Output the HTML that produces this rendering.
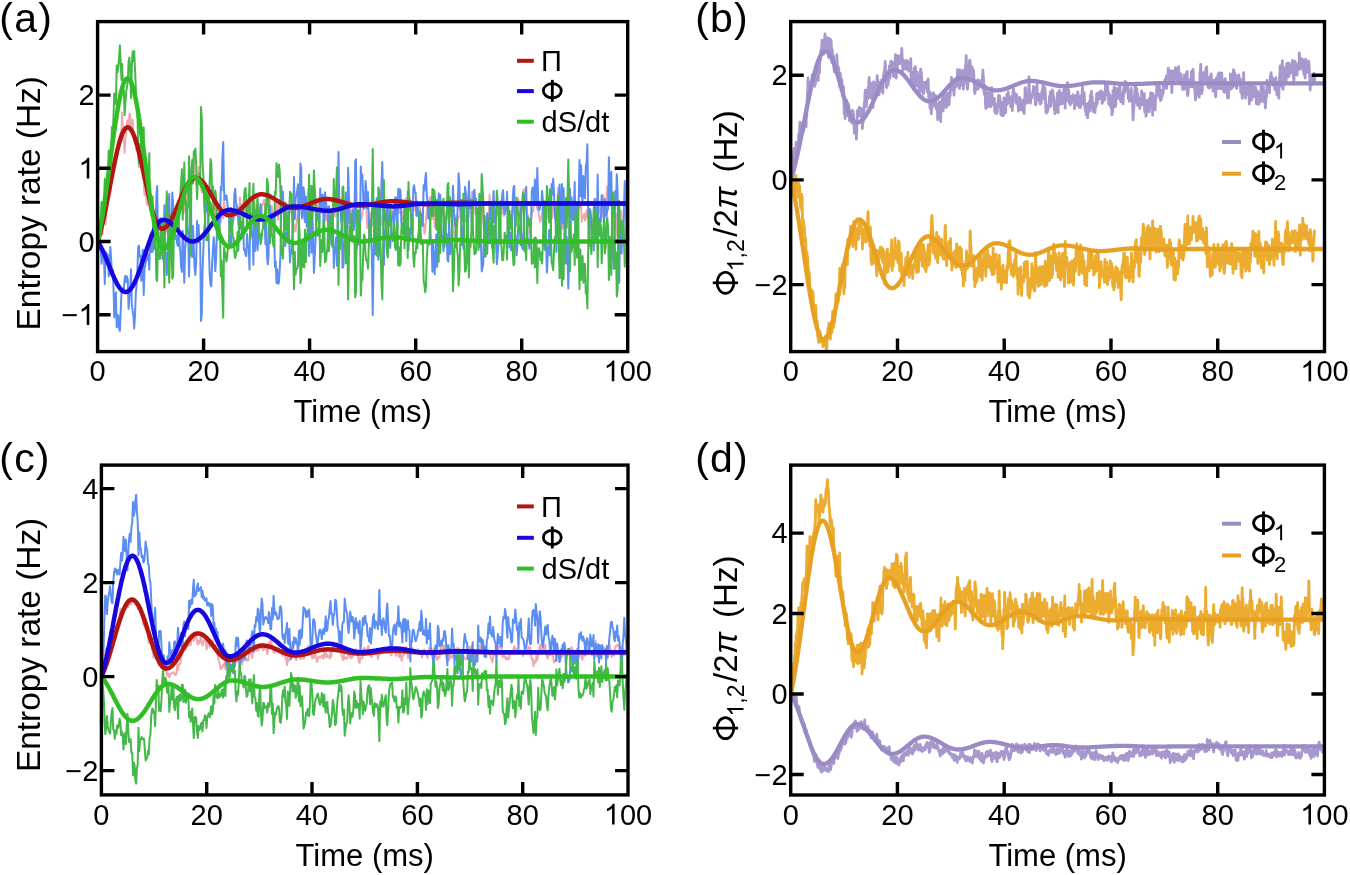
<!DOCTYPE html><html><head><meta charset="utf-8"><style>html,body{margin:0;padding:0;background:#fff}svg{display:block}text{font-family:"Liberation Sans", sans-serif;filter:grayscale(1)}</style></head><body>
<svg width="1350" height="875" viewBox="0 0 1350 875">
<rect width="1350" height="875" fill="#fff"/>
<defs>
<clipPath id="cpa"><rect x="97.6" y="21.6" width="530.1" height="330.0"/></clipPath>
<clipPath id="cpb"><rect x="790.7" y="21.6" width="533.8" height="330.0"/></clipPath>
<clipPath id="cpc"><rect x="101.4" y="465.1" width="526.6" height="329.79999999999995"/></clipPath>
<clipPath id="cpd"><rect x="790.7" y="465.1" width="533.7" height="329.9"/></clipPath>
</defs>
<g clip-path="url(#cpa)">
<polyline fill="none" stroke="#F0A8B0" stroke-width="2" stroke-linejoin="round" points="97.6,241.5 98.4,239.8 99.2,239.4 100.0,229.0 100.8,223.7 101.6,224.1 102.4,234.5 103.2,216.9 104.0,218.8 104.8,221.1 105.6,224.3 106.3,216.8 107.1,195.1 107.9,190.6 108.7,185.4 109.5,183.9 110.3,172.4 111.1,170.1 111.9,161.1 112.7,165.4 113.5,162.3 114.3,169.3 115.1,156.3 115.9,154.9 116.7,151.2 117.5,154.7 118.3,140.9 119.1,144.3 119.9,134.8 120.7,133.2 121.5,129.6 122.2,112.6 123.0,138.9 123.8,138.7 124.6,152.8 125.4,137.2 126.2,132.1 127.0,121.6 127.8,120.0 128.6,129.4 129.4,113.5 130.2,114.3 131.0,125.8 131.8,130.3 132.6,119.8 133.4,136.4 134.2,138.0 135.0,143.7 135.8,139.3 136.6,150.8 137.4,140.5 138.2,154.1 138.9,167.1 139.7,159.2 140.5,164.6 141.3,169.6 142.1,172.5 142.9,178.1 143.7,181.0 144.5,195.2 145.3,190.9 146.1,196.6 146.9,204.5 147.7,194.3 148.5,206.3 149.3,181.5 150.1,203.4 150.9,213.6 151.7,216.7 152.5,206.8 153.3,215.7 154.1,228.6 154.9,218.1 155.6,231.4 156.4,232.8 157.2,225.7 158.0,230.4 158.8,237.4 159.6,233.0 160.4,235.3 161.2,231.5 162.0,235.8 162.8,242.0 163.6,245.1 164.4,251.3 165.2,232.5 166.0,226.2 166.8,225.0 167.6,232.0 168.4,228.3 169.2,235.3 170.0,241.1 170.8,232.2 171.5,232.9 172.3,229.8 173.1,238.2 173.9,219.1 174.7,218.8 175.5,213.9 176.3,215.4 177.1,217.0 177.9,208.0 178.7,208.0 179.5,203.5 180.3,203.9 181.1,208.1 181.9,199.5 182.7,209.3 183.5,208.6 184.3,203.9 185.1,212.3 185.9,197.5 186.7,195.8 187.5,191.5 188.2,199.0 189.0,191.1 189.8,182.9 190.6,184.4 191.4,169.4 192.2,175.5 193.0,168.2 193.8,157.9 194.6,178.4 195.4,182.1 196.2,184.6 197.0,178.6 197.8,176.5 198.6,167.0 199.4,175.1 200.2,182.4 201.0,186.4 201.8,192.0 202.6,192.2 203.4,183.4 204.2,192.4 204.9,198.1 205.7,196.5 206.5,197.9 207.3,207.0 208.1,212.0 208.9,206.2 209.7,215.2 210.5,201.9 211.3,207.9 212.1,216.7 212.9,194.7 213.7,205.5 214.5,208.1 215.3,220.1 216.1,214.7 216.9,210.0 217.7,215.0 218.5,214.0 219.3,207.0 220.1,211.8 220.8,221.7 221.6,209.4 222.4,211.4 223.2,218.1 224.0,196.5 224.8,210.4 225.6,209.9 226.4,215.3 227.2,217.0 228.0,216.0 228.8,215.0 229.6,218.4 230.4,226.1 231.2,211.9 232.0,216.6 232.8,217.0 233.6,215.0 234.4,204.7 235.2,205.4 236.0,215.0 236.8,214.9 237.5,206.3 238.3,224.2 239.1,220.4 239.9,197.5 240.7,211.7 241.5,204.1 242.3,221.5 243.1,211.2 243.9,207.4 244.7,197.4 245.5,201.6 246.3,213.9 247.1,221.0 247.9,212.3 248.7,210.1 249.5,211.0 250.3,213.3 251.1,203.3 251.9,209.8 252.7,207.0 253.4,207.1 254.2,196.6 255.0,219.5 255.8,205.5 256.6,207.8 257.4,204.4 258.2,211.2 259.0,211.6 259.8,208.7 260.6,206.6 261.4,211.6 262.2,204.9 263.0,204.6 263.8,199.9 264.6,199.9 265.4,207.2 266.2,204.7 267.0,192.9 267.8,205.7 268.6,209.4 269.4,196.6 270.1,208.7 270.9,209.2 271.7,205.8 272.5,212.4 273.3,231.7 274.1,233.0 274.9,217.0 275.7,214.6 276.5,204.8 277.3,201.8 278.1,219.5 278.9,205.9 279.7,200.4 280.5,207.3 281.3,199.5 282.1,208.0 282.9,209.0 283.7,206.3 284.5,220.4 285.3,206.9 286.1,221.7 286.8,210.8 287.6,220.4 288.4,213.1 289.2,211.2 290.0,212.7 290.8,204.5 291.6,206.2 292.4,216.7 293.2,233.0 294.0,224.6 294.8,229.1 295.6,231.5 296.4,223.4 297.2,217.8 298.0,208.0 298.8,201.3 299.6,197.3 300.4,205.4 301.2,206.4 302.0,218.8 302.7,216.7 303.5,212.6 304.3,219.6 305.1,210.3 305.9,217.0 306.7,219.2 307.5,207.2 308.3,189.2 309.1,189.2 309.9,192.1 310.7,200.0 311.5,197.0 312.3,192.7 313.1,200.2 313.9,201.8 314.7,204.7 315.5,200.9 316.3,201.3 317.1,204.3 317.9,210.4 318.7,212.7 319.4,197.3 320.2,213.1 321.0,212.7 321.8,200.2 322.6,205.2 323.4,195.8 324.2,213.3 325.0,213.0 325.8,218.2 326.6,220.1 327.4,214.7 328.2,206.4 329.0,216.0 329.8,218.5 330.6,215.9 331.4,214.3 332.2,220.2 333.0,198.7 333.8,205.6 334.6,209.9 335.3,216.5 336.1,192.1 336.9,191.5 337.7,195.7 338.5,195.4 339.3,197.5 340.1,208.1 340.9,212.0 341.7,200.2 342.5,213.9 343.3,211.8 344.1,218.8 344.9,222.4 345.7,214.6 346.5,215.7 347.3,224.9 348.1,225.6 348.9,211.2 349.7,208.0 350.5,215.4 351.3,211.3 352.0,210.2 352.8,207.4 353.6,225.6 354.4,218.2 355.2,217.4 356.0,210.5 356.8,217.8 357.6,211.1 358.4,213.4 359.2,220.7 360.0,211.6 360.8,220.5 361.6,218.2 362.4,213.1 363.2,208.8 364.0,201.7 364.8,199.4 365.6,195.1 366.4,210.4 367.2,227.9 368.0,219.0 368.7,224.8 369.5,221.4 370.3,213.2 371.1,223.9 371.9,225.5 372.7,222.4 373.5,226.1 374.3,222.5 375.1,218.3 375.9,210.3 376.7,211.0 377.5,218.2 378.3,205.4 379.1,202.6 379.9,202.8 380.7,213.6 381.5,225.0 382.3,219.7 383.1,219.5 383.9,203.5 384.6,209.2 385.4,210.5 386.2,215.6 387.0,220.1 387.8,223.2 388.6,224.5 389.4,222.2 390.2,215.3 391.0,211.7 391.8,209.3 392.6,216.6 393.4,211.1 394.2,210.3 395.0,203.8 395.8,205.5 396.6,204.3 397.4,209.2 398.2,213.1 399.0,204.5 399.8,213.2 400.6,213.7 401.3,211.4 402.1,211.4 402.9,219.3 403.7,209.7 404.5,210.0 405.3,201.2 406.1,198.0 406.9,204.0 407.7,207.9 408.5,190.7 409.3,197.0 410.1,198.0 410.9,205.0 411.7,208.1 412.5,206.7 413.3,203.9 414.1,210.4 414.9,203.2 415.7,204.3 416.5,216.1 417.3,208.2 418.0,211.8 418.8,202.6 419.6,207.3 420.4,208.7 421.2,216.5 422.0,217.1 422.8,225.9 423.6,224.1 424.4,233.7 425.2,229.5 426.0,218.5 426.8,212.5 427.6,206.6 428.4,218.3 429.2,204.5 430.0,196.9 430.8,209.4 431.6,213.8 432.4,219.1 433.2,217.7 433.9,209.4 434.7,226.7 435.5,220.9 436.3,222.5 437.1,225.4 437.9,213.3 438.7,213.6 439.5,200.6 440.3,206.3 441.1,209.3 441.9,204.0 442.7,200.4 443.5,208.6 444.3,222.4 445.1,217.6 445.9,213.5 446.7,211.1 447.5,204.0 448.3,203.0 449.1,203.1 449.9,209.9 450.6,216.3 451.4,210.8 452.2,216.5 453.0,235.6 453.8,238.0 454.6,226.6 455.4,224.0 456.2,215.5 457.0,228.5 457.8,220.0 458.6,217.1 459.4,216.4 460.2,212.2 461.0,202.5 461.8,203.7 462.6,205.5 463.4,200.8 464.2,214.0 465.0,217.1 465.8,221.5 466.5,220.6 467.3,222.5 468.1,216.6 468.9,217.2 469.7,209.4 470.5,205.2 471.3,200.6 472.1,192.0 472.9,193.8 473.7,192.9 474.5,202.5 475.3,214.4 476.1,208.3 476.9,209.3 477.7,209.2 478.5,218.1 479.3,199.4 480.1,211.0 480.9,213.1 481.7,203.9 482.5,214.5 483.2,220.6 484.0,228.6 484.8,231.0 485.6,237.0 486.4,232.7 487.2,225.5 488.0,221.3 488.8,213.4 489.6,194.8 490.4,207.6 491.2,211.1 492.0,209.8 492.8,216.1 493.6,212.4 494.4,206.5 495.2,213.0 496.0,213.8 496.8,213.4 497.6,215.1 498.4,210.8 499.2,211.4 499.9,206.1 500.7,200.4 501.5,214.3 502.3,212.6 503.1,208.7 503.9,216.0 504.7,205.3 505.5,208.7 506.3,203.5 507.1,210.1 507.9,206.2 508.7,205.7 509.5,216.8 510.3,219.9 511.1,223.8 511.9,209.8 512.7,208.5 513.5,211.3 514.3,208.2 515.1,219.0 515.8,223.8 516.6,211.2 517.4,214.0 518.2,198.6 519.0,202.7 519.8,203.2 520.6,210.5 521.4,209.7 522.2,207.8 523.0,200.2 523.8,189.0 524.6,204.1 525.4,207.9 526.2,205.4 527.0,215.7 527.8,214.6 528.6,218.4 529.4,233.3 530.2,220.2 531.0,220.3 531.8,214.2 532.5,209.6 533.3,211.3 534.1,199.6 534.9,205.3 535.7,193.3 536.5,205.2 537.3,209.4 538.1,206.8 538.9,216.4 539.7,218.8 540.5,221.7 541.3,216.4 542.1,212.8 542.9,200.4 543.7,214.3 544.5,209.6 545.3,227.3 546.1,221.2 546.9,217.0 547.7,212.0 548.5,202.2 549.2,210.8 550.0,203.3 550.8,210.5 551.6,205.1 552.4,218.2 553.2,207.6 554.0,202.6 554.8,210.1 555.6,221.7 556.4,218.1 557.2,210.3 558.0,187.7 558.8,205.6 559.6,221.1 560.4,219.6 561.2,227.4 562.0,228.4 562.8,222.4 563.6,225.9 564.4,223.3 565.1,230.5 565.9,219.9 566.7,223.0 567.5,212.4 568.3,206.3 569.1,211.1 569.9,218.4 570.7,207.7 571.5,207.5 572.3,215.9 573.1,220.2 573.9,201.0 574.7,205.7 575.5,207.5 576.3,210.3 577.1,219.5 577.9,203.9 578.7,204.6 579.5,207.8 580.3,203.9 581.1,203.7 581.8,222.2 582.6,217.2 583.4,217.3 584.2,213.7 585.0,220.6 585.8,218.6 586.6,210.3 587.4,211.2 588.2,218.5 589.0,215.2 589.8,213.1 590.6,216.2 591.4,233.6 592.2,222.2 593.0,222.3 593.8,216.4 594.6,200.6 595.4,209.8 596.2,198.7 597.0,202.2 597.7,200.0 598.5,204.1 599.3,212.8 600.1,203.8 600.9,205.2 601.7,217.0 602.5,201.7 603.3,194.9 604.1,208.6 604.9,211.0 605.7,209.6 606.5,198.7 607.3,186.6 608.1,195.0 608.9,195.8 609.7,197.3 610.5,190.1 611.3,205.4 612.1,197.5 612.9,205.1 613.7,228.4 614.4,230.3 615.2,217.9 616.0,213.5 616.8,229.3 617.6,241.8 618.4,225.1 619.2,242.4 620.0,227.1 620.8,210.4 621.6,233.5 622.4,220.8 623.2,220.9 624.0,207.2 624.8,206.1 625.6,206.5 626.4,206.6 627.2,204.9" />
<polyline fill="none" stroke="#5C8EF2" stroke-width="2" stroke-linejoin="round" points="97.6,241.5 98.4,236.7 99.2,231.5 100.0,236.3 100.8,249.9 101.6,263.7 102.4,256.1 103.2,256.3 104.0,257.3 104.8,284.0 105.6,252.1 106.3,252.7 107.1,257.8 107.9,254.6 108.7,276.4 109.5,272.7 110.3,246.9 111.1,257.8 111.9,275.7 112.7,269.9 113.5,288.0 114.3,317.4 115.1,298.0 115.9,292.3 116.7,327.2 117.5,323.9 118.3,315.2 119.1,328.6 119.9,330.9 120.7,311.7 121.5,291.3 122.2,290.0 123.0,288.4 123.8,290.1 124.6,279.2 125.4,275.7 126.2,281.9 127.0,276.4 127.8,280.0 128.6,309.0 129.4,297.5 130.2,287.2 131.0,269.3 131.8,304.9 132.6,309.7 133.4,316.3 134.2,328.5 135.0,316.5 135.8,293.0 136.6,285.9 137.4,269.7 138.2,246.9 138.9,245.5 139.7,256.4 140.5,255.6 141.3,280.7 142.1,263.6 142.9,249.8 143.7,295.0 144.5,268.8 145.3,264.9 146.1,260.6 146.9,252.6 147.7,259.8 148.5,254.5 149.3,269.8 150.1,234.9 150.9,243.1 151.7,252.0 152.5,251.7 153.3,228.7 154.1,220.9 154.9,233.0 155.6,231.6 156.4,195.4 157.2,186.1 158.0,234.6 158.8,219.8 159.6,220.6 160.4,218.3 161.2,244.2 162.0,222.6 162.8,259.2 163.6,239.1 164.4,205.2 165.2,254.7 166.0,252.9 166.8,275.0 167.6,256.2 168.4,213.7 169.2,193.9 170.0,227.8 170.8,258.3 171.5,236.2 172.3,192.6 173.1,203.1 173.9,230.3 174.7,229.9 175.5,238.9 176.3,235.3 177.1,243.5 177.9,246.0 178.7,221.4 179.5,243.6 180.3,251.9 181.1,266.8 181.9,271.7 182.7,231.1 183.5,250.2 184.3,282.8 185.1,249.9 185.9,238.7 186.7,203.4 187.5,224.2 188.2,234.6 189.0,276.4 189.8,249.1 190.6,170.4 191.4,232.7 192.2,257.1 193.0,226.1 193.8,248.1 194.6,268.1 195.4,275.0 196.2,261.5 197.0,220.9 197.8,236.3 198.6,225.1 199.4,243.0 200.2,242.6 201.0,320.9 201.8,314.4 202.6,269.9 203.4,248.8 204.2,228.2 204.9,223.4 205.7,206.4 206.5,198.9 207.3,210.5 208.1,213.4 208.9,249.4 209.7,274.6 210.5,284.4 211.3,286.3 212.1,264.2 212.9,250.0 213.7,237.3 214.5,248.6 215.3,271.1 216.1,258.6 216.9,231.0 217.7,216.6 218.5,220.4 219.3,225.0 220.1,220.0 220.8,186.8 221.6,190.3 222.4,158.8 223.2,142.1 224.0,190.2 224.8,199.8 225.6,197.1 226.4,195.3 227.2,201.6 228.0,211.5 228.8,207.8 229.6,238.8 230.4,235.8 231.2,245.5 232.0,231.7 232.8,221.4 233.6,218.6 234.4,194.2 235.2,188.8 236.0,202.2 236.8,206.0 237.5,215.8 238.3,215.0 239.1,235.4 239.9,222.2 240.7,225.3 241.5,223.9 242.3,238.0 243.1,222.2 243.9,249.9 244.7,249.2 245.5,255.1 246.3,256.1 247.1,234.0 247.9,246.2 248.7,246.9 249.5,269.6 250.3,215.2 251.1,213.5 251.9,235.4 252.7,232.5 253.4,264.8 254.2,211.8 255.0,251.0 255.8,223.6 256.6,224.5 257.4,250.3 258.2,240.9 259.0,216.5 259.8,216.7 260.6,204.0 261.4,212.6 262.2,215.3 263.0,217.9 263.8,225.3 264.6,217.3 265.4,244.3 266.2,221.6 267.0,255.5 267.8,264.3 268.6,254.8 269.4,205.8 270.1,206.9 270.9,230.5 271.7,213.4 272.5,217.9 273.3,228.2 274.1,227.2 274.9,267.1 275.7,261.5 276.5,283.0 277.3,269.3 278.1,283.7 278.9,282.9 279.7,270.3 280.5,254.8 281.3,185.9 282.1,201.5 282.9,191.8 283.7,212.5 284.5,244.5 285.3,245.9 286.1,232.5 286.8,236.7 287.6,238.0 288.4,211.5 289.2,238.7 290.0,262.5 290.8,252.4 291.6,253.7 292.4,234.2 293.2,221.8 294.0,176.9 294.8,219.0 295.6,198.4 296.4,196.2 297.2,190.2 298.0,184.3 298.8,223.5 299.6,205.4 300.4,163.6 301.2,168.7 302.0,218.0 302.7,215.1 303.5,187.3 304.3,193.7 305.1,222.3 305.9,196.4 306.7,226.6 307.5,214.7 308.3,216.9 309.1,255.9 309.9,214.6 310.7,214.6 311.5,252.8 312.3,216.2 313.1,233.9 313.9,272.9 314.7,257.9 315.5,241.5 316.3,219.2 317.1,211.2 317.9,216.3 318.7,222.1 319.4,223.0 320.2,188.6 321.0,207.3 321.8,201.6 322.6,194.6 323.4,217.3 324.2,228.7 325.0,192.3 325.8,198.9 326.6,207.9 327.4,207.6 328.2,224.9 329.0,206.2 329.8,229.2 330.6,227.6 331.4,243.9 332.2,215.0 333.0,221.4 333.8,268.0 334.6,247.5 335.3,251.7 336.1,237.5 336.9,265.8 337.7,216.3 338.5,152.0 339.3,205.3 340.1,200.4 340.9,221.2 341.7,213.7 342.5,267.8 343.3,266.7 344.1,245.2 344.9,227.5 345.7,192.6 346.5,230.1 347.3,232.6 348.1,167.7 348.9,193.4 349.7,223.3 350.5,221.1 351.3,238.9 352.0,221.9 352.8,210.0 353.6,230.5 354.4,223.5 355.2,161.5 356.0,159.3 356.8,248.5 357.6,240.2 358.4,244.5 359.2,222.5 360.0,228.0 360.8,166.4 361.6,180.2 362.4,174.8 363.2,197.2 364.0,208.6 364.8,203.9 365.6,181.1 366.4,191.3 367.2,208.6 368.0,191.9 368.7,216.3 369.5,238.4 370.3,219.5 371.1,238.8 371.9,252.7 372.7,314.9 373.5,261.3 374.3,220.4 375.1,254.4 375.9,209.2 376.7,198.2 377.5,203.4 378.3,259.7 379.1,253.8 379.9,214.4 380.7,205.7 381.5,182.7 382.3,161.9 383.1,204.6 383.9,265.0 384.6,230.2 385.4,239.3 386.2,221.7 387.0,208.8 387.8,207.2 388.6,244.3 389.4,238.1 390.2,247.9 391.0,233.7 391.8,217.4 392.6,217.2 393.4,211.8 394.2,227.8 395.0,198.5 395.8,197.1 396.6,214.8 397.4,229.5 398.2,189.1 399.0,198.8 399.8,189.1 400.6,191.5 401.3,222.0 402.1,230.1 402.9,227.1 403.7,234.1 404.5,203.2 405.3,241.3 406.1,237.7 406.9,236.7 407.7,191.4 408.5,250.1 409.3,228.5 410.1,238.6 410.9,233.7 411.7,216.1 412.5,230.4 413.3,188.9 414.1,185.2 414.9,192.3 415.7,192.8 416.5,215.5 417.3,201.4 418.0,216.0 418.8,214.1 419.6,237.9 420.4,227.5 421.2,213.8 422.0,218.6 422.8,225.8 423.6,185.2 424.4,190.6 425.2,178.7 426.0,173.1 426.8,195.7 427.6,203.5 428.4,218.8 429.2,201.2 430.0,211.8 430.8,242.4 431.6,239.8 432.4,271.7 433.2,243.1 433.9,261.1 434.7,274.4 435.5,257.0 436.3,234.5 437.1,267.0 437.9,231.0 438.7,193.3 439.5,240.7 440.3,195.0 441.1,219.6 441.9,238.2 442.7,235.9 443.5,251.3 444.3,216.6 445.1,217.4 445.9,232.9 446.7,234.1 447.5,259.7 448.3,261.6 449.1,221.8 449.9,254.2 450.6,253.6 451.4,245.0 452.2,213.6 453.0,185.8 453.8,206.2 454.6,224.9 455.4,218.5 456.2,236.2 457.0,221.3 457.8,205.4 458.6,173.2 459.4,184.5 460.2,210.2 461.0,200.5 461.8,245.0 462.6,226.8 463.4,248.7 464.2,210.8 465.0,186.8 465.8,192.6 466.5,199.4 467.3,261.9 468.1,213.7 468.9,181.3 469.7,207.9 470.5,199.4 471.3,207.9 472.1,233.5 472.9,207.2 473.7,191.1 474.5,189.7 475.3,202.0 476.1,198.7 476.9,242.8 477.7,236.7 478.5,209.8 479.3,247.1 480.1,212.1 480.9,240.8 481.7,271.5 482.5,268.0 483.2,264.0 484.0,234.3 484.8,256.4 485.6,222.1 486.4,238.7 487.2,213.2 488.0,243.9 488.8,228.2 489.6,213.3 490.4,206.1 491.2,213.5 492.0,248.0 492.8,206.7 493.6,191.1 494.4,222.2 495.2,211.4 496.0,239.1 496.8,264.3 497.6,256.6 498.4,242.4 499.2,214.7 499.9,243.2 500.7,205.0 501.5,208.0 502.3,193.7 503.1,190.2 503.9,209.7 504.7,214.2 505.5,207.5 506.3,208.9 507.1,191.8 507.9,243.2 508.7,214.3 509.5,247.5 510.3,233.0 511.1,250.4 511.9,226.8 512.7,199.5 513.5,187.6 514.3,185.8 515.1,232.8 515.8,239.9 516.6,255.3 517.4,246.4 518.2,226.8 519.0,214.0 519.8,218.1 520.6,206.9 521.4,234.8 522.2,247.9 523.0,249.4 523.8,230.9 524.6,194.4 525.4,202.2 526.2,186.8 527.0,227.6 527.8,239.5 528.6,239.9 529.4,248.6 530.2,242.2 531.0,224.1 531.8,192.0 532.5,187.6 533.3,192.2 534.1,203.0 534.9,179.4 535.7,197.4 536.5,203.0 537.3,167.9 538.1,197.6 538.9,210.0 539.7,209.1 540.5,203.0 541.3,204.6 542.1,190.9 542.9,200.6 543.7,238.1 544.5,249.8 545.3,218.8 546.1,240.5 546.9,272.6 547.7,256.7 548.5,245.6 549.2,229.9 550.0,255.5 550.8,230.2 551.6,184.1 552.4,194.5 553.2,178.8 554.0,192.2 554.8,214.7 555.6,220.9 556.4,252.0 557.2,215.8 558.0,233.9 558.8,196.8 559.6,184.4 560.4,234.3 561.2,208.0 562.0,184.1 562.8,223.1 563.6,188.2 564.4,231.5 565.1,215.7 565.9,263.4 566.7,236.8 567.5,255.6 568.3,288.4 569.1,253.2 569.9,188.6 570.7,224.3 571.5,197.2 572.3,210.5 573.1,220.0 573.9,208.1 574.7,182.1 575.5,236.6 576.3,215.4 577.1,203.3 577.9,239.9 578.7,200.0 579.5,160.1 580.3,196.1 581.1,165.2 581.8,195.2 582.6,202.6 583.4,176.1 584.2,190.8 585.0,198.3 585.8,166.5 586.6,162.3 587.4,144.3 588.2,209.8 589.0,244.2 589.8,209.0 590.6,211.7 591.4,221.2 592.2,236.6 593.0,233.3 593.8,250.5 594.6,199.1 595.4,212.2 596.2,226.9 597.0,215.8 597.7,174.6 598.5,226.4 599.3,218.6 600.1,222.9 600.9,220.8 601.7,195.2 602.5,200.6 603.3,207.2 604.1,229.7 604.9,199.1 605.7,205.2 606.5,215.9 607.3,210.6 608.1,208.7 608.9,157.3 609.7,202.1 610.5,183.7 611.3,171.8 612.1,225.3 612.9,254.4 613.7,268.9 614.4,250.3 615.2,191.2 616.0,202.8 616.8,174.2 617.6,193.4 618.4,261.7 619.2,283.1 620.0,235.2 620.8,221.4 621.6,253.6 622.4,224.9 623.2,240.9 624.0,205.5 624.8,180.9 625.6,210.1 626.4,233.3 627.2,207.3" />
<polyline fill="none" stroke="#44B848" stroke-width="2" stroke-linejoin="round" points="97.6,241.5 98.4,244.6 99.2,249.4 100.0,234.2 100.8,215.4 101.6,201.9 102.4,219.9 103.2,202.0 104.0,203.0 104.8,178.7 105.6,213.7 106.3,205.6 107.1,178.8 107.9,177.5 108.7,150.5 109.5,152.7 110.3,167.1 111.1,153.8 111.9,126.9 112.7,137.0 113.5,115.8 114.3,93.4 115.1,99.8 115.9,104.1 116.7,65.6 117.5,72.4 118.3,67.2 119.1,57.2 119.9,45.4 120.7,62.9 121.5,79.9 122.2,64.0 123.0,92.0 123.8,90.0 124.6,115.1 125.4,103.1 126.2,91.7 127.0,86.7 127.8,81.5 128.6,61.8 129.4,57.5 130.2,68.6 131.0,98.0 131.8,66.9 132.6,51.6 133.4,61.6 134.2,51.0 135.0,68.7 135.8,87.8 136.6,106.4 137.4,112.3 138.2,148.8 138.9,163.1 139.7,144.3 140.5,150.5 141.3,130.4 142.1,150.4 142.9,169.8 143.7,127.5 144.5,167.9 145.3,167.5 146.1,177.5 146.9,193.3 147.7,176.1 148.5,193.3 149.3,153.2 150.1,209.9 150.9,212.0 151.7,206.2 152.5,196.6 153.3,228.5 154.1,249.2 154.9,226.6 155.6,241.3 156.4,278.9 157.2,281.1 158.0,237.3 158.8,259.1 159.6,253.9 160.4,258.5 161.2,228.8 162.0,254.8 162.8,224.4 163.6,247.5 164.4,287.6 165.2,219.4 166.0,214.9 166.8,191.5 167.6,217.3 168.4,256.1 169.2,282.8 170.0,254.8 170.8,215.4 171.5,238.2 172.3,278.7 173.1,276.5 173.9,230.3 174.7,230.5 175.5,216.5 176.3,221.6 177.1,215.0 177.9,203.5 178.7,228.2 179.5,201.4 180.3,193.6 181.1,182.8 181.9,169.3 182.7,219.8 183.5,199.9 184.3,162.6 185.1,203.8 185.9,200.3 186.7,233.9 187.5,208.8 188.2,205.9 189.0,156.2 189.8,175.4 190.6,255.4 191.4,178.1 192.2,159.9 193.0,183.6 193.8,151.3 194.6,151.8 195.4,148.6 196.2,164.5 197.0,199.1 197.8,181.6 198.6,183.4 199.4,173.6 200.2,181.3 201.0,106.9 201.8,119.1 202.6,163.9 203.4,176.0 204.2,205.7 204.9,216.2 205.7,231.6 206.5,240.5 207.3,238.0 208.1,240.1 208.9,198.3 209.7,182.1 210.5,159.0 211.3,163.2 212.1,193.9 212.9,186.2 213.7,209.8 214.5,201.0 215.3,190.5 216.1,197.7 216.9,220.5 217.7,239.9 218.5,235.1 219.3,223.4 220.1,233.4 220.8,276.4 221.6,260.7 222.4,294.1 223.2,317.6 224.0,247.7 224.8,252.2 225.6,254.3 226.4,261.5 227.2,256.9 228.0,246.0 228.8,248.7 229.6,221.0 230.4,231.8 231.2,207.9 232.0,226.3 232.8,237.1 233.6,237.9 234.4,252.0 235.2,258.1 236.0,254.3 236.8,250.4 237.5,232.0 238.3,250.7 239.1,226.5 239.9,216.8 240.7,227.9 241.5,221.7 242.3,225.0 243.1,230.6 243.9,199.0 244.7,189.7 245.5,188.0 246.3,199.3 247.1,228.5 247.9,207.5 248.7,204.7 249.5,182.9 250.3,239.6 251.1,231.3 251.9,215.9 252.7,215.9 253.4,183.8 254.2,226.3 255.0,210.0 255.8,223.4 256.6,224.8 257.4,195.6 258.2,211.9 259.0,236.6 259.8,233.5 260.6,244.1 261.4,240.4 262.2,231.1 263.0,228.2 263.8,216.1 264.6,224.1 265.4,204.4 266.2,224.6 267.0,178.9 267.8,182.8 268.6,196.1 269.4,232.3 270.1,243.2 270.9,220.3 271.7,233.9 272.5,236.0 273.3,245.0 274.1,247.4 274.9,191.4 275.7,194.6 276.5,163.3 277.3,174.0 278.1,177.3 278.9,164.6 279.7,171.6 280.5,194.0 281.3,255.1 282.1,248.0 282.9,258.8 283.7,235.4 284.5,217.4 285.3,202.4 286.1,230.7 286.8,215.6 287.6,223.9 288.4,243.1 289.2,214.0 290.0,191.8 290.8,193.5 291.6,193.9 292.4,224.0 293.2,252.7 294.0,289.2 294.8,251.7 295.6,274.6 296.4,268.7 297.2,269.0 298.0,265.2 298.8,219.3 299.6,233.4 300.4,283.3 301.2,279.2 302.0,242.4 302.7,243.1 303.5,266.8 304.3,267.4 305.1,229.4 305.9,262.1 306.7,234.1 307.5,234.0 308.3,213.8 309.1,174.8 309.9,219.0 310.7,226.9 311.5,185.7 312.3,218.0 313.1,207.8 313.9,170.4 314.7,188.3 315.5,201.0 316.3,223.7 317.1,234.6 317.9,235.7 318.7,232.2 319.4,215.9 320.2,266.1 321.0,246.8 321.8,240.1 322.6,252.1 323.4,220.0 324.2,226.0 325.0,262.2 325.8,260.8 326.6,253.7 327.4,248.5 328.2,223.0 329.0,251.3 329.8,230.8 330.6,229.8 331.4,211.9 332.2,246.7 333.0,218.8 333.8,179.1 334.6,203.8 335.3,206.4 336.1,196.1 336.9,167.2 337.7,220.9 338.5,284.9 339.3,233.7 340.1,249.2 340.9,232.2 341.7,228.0 342.5,187.6 343.3,186.6 344.1,215.2 344.9,236.5 345.7,263.5 346.5,227.1 347.3,233.8 348.1,299.4 348.9,259.3 349.7,226.2 350.5,235.8 351.3,213.9 352.0,229.9 352.8,238.9 353.6,236.6 354.4,236.3 355.2,297.4 356.0,292.6 356.8,210.9 357.6,212.4 358.4,210.3 359.2,239.7 360.0,225.0 360.8,295.6 361.6,279.5 362.4,279.8 363.2,253.1 364.0,234.6 364.8,237.0 365.6,255.5 366.4,260.6 367.2,260.8 368.0,268.7 368.7,250.0 369.5,224.5 370.3,235.2 371.1,226.6 371.9,214.3 372.7,149.0 373.5,206.3 374.3,243.6 375.1,205.4 375.9,242.6 376.7,254.3 377.5,256.3 378.3,187.2 379.1,190.4 379.9,229.9 380.7,249.4 381.5,283.8 382.3,299.4 383.1,256.4 383.9,180.0 384.6,220.5 385.4,212.7 386.2,235.5 387.0,252.8 387.8,257.5 388.6,221.7 389.4,225.6 390.2,208.9 391.0,219.5 391.8,233.4 392.6,240.9 393.4,240.8 394.2,224.1 395.0,246.8 395.8,249.9 396.6,231.0 397.4,221.2 398.2,265.5 399.0,247.2 399.8,265.6 400.6,263.7 401.3,230.9 402.1,222.9 402.9,233.7 403.7,217.1 404.5,248.3 405.3,201.4 406.1,201.8 406.9,208.8 407.7,258.0 408.5,182.0 409.3,210.1 410.1,200.8 410.9,212.8 411.7,233.5 412.5,217.8 413.3,256.5 414.1,266.7 414.9,252.4 415.7,253.1 416.5,242.1 417.3,248.4 418.0,237.3 418.8,230.0 419.6,210.9 420.4,222.6 421.2,244.2 422.0,240.0 422.8,241.6 423.6,280.4 424.4,284.7 425.2,292.3 426.0,286.9 426.8,258.3 427.6,244.6 428.4,241.0 429.2,244.8 430.0,226.6 430.8,208.5 431.6,215.4 432.4,188.9 433.2,216.1 433.9,189.8 434.7,193.8 435.5,205.4 436.3,229.5 437.1,199.9 437.9,223.8 438.7,261.7 439.5,201.4 440.3,252.9 441.1,231.3 441.9,207.4 442.7,206.1 443.5,198.8 444.3,247.4 445.1,241.7 445.9,222.1 446.7,218.5 447.5,185.8 448.3,182.9 449.1,222.8 449.9,197.3 450.6,204.2 451.4,207.3 452.2,244.4 453.0,291.3 453.8,273.3 454.6,243.2 455.4,247.1 456.2,220.8 457.0,248.7 457.8,256.0 458.6,285.4 459.4,273.3 460.2,243.5 461.0,243.5 461.8,200.1 462.6,220.2 463.4,193.7 464.2,244.6 465.0,271.8 465.8,270.4 466.5,262.7 467.3,202.1 468.1,244.4 468.9,277.4 469.7,243.0 470.5,247.3 471.3,234.1 472.1,200.0 472.9,228.1 473.7,243.3 474.5,254.3 475.3,253.9 476.1,251.0 476.9,208.0 477.7,214.0 478.5,249.9 479.3,193.8 480.1,240.3 480.9,213.8 481.7,174.0 482.5,188.1 483.2,198.2 484.0,235.8 484.8,216.1 485.6,256.4 486.4,235.5 487.2,253.8 488.0,218.9 488.8,226.7 489.6,223.0 490.4,243.0 491.2,239.1 492.0,203.3 492.8,251.0 493.6,262.8 494.4,225.9 495.2,243.1 496.0,216.2 496.8,190.7 497.6,200.0 498.4,209.9 499.2,238.2 499.9,204.4 500.7,236.9 501.5,247.8 502.3,260.4 503.1,260.0 503.9,247.8 504.7,232.7 505.5,242.7 506.3,236.1 507.1,259.8 507.9,204.4 508.7,232.9 509.5,210.8 510.3,228.4 511.1,214.9 511.9,224.6 512.7,250.5 513.5,265.2 514.3,263.9 515.1,227.7 515.8,225.5 516.6,197.4 517.4,209.1 518.2,213.3 519.0,230.2 519.8,226.6 520.6,245.1 521.4,216.3 522.2,201.4 523.0,192.3 523.8,199.6 524.6,251.2 525.4,247.1 526.2,260.1 527.0,229.6 527.8,216.7 528.6,220.0 529.4,226.2 530.2,219.5 531.0,237.8 531.8,263.7 532.5,263.5 533.3,260.6 534.1,238.1 534.9,267.4 535.7,237.4 536.5,243.8 537.3,283.0 538.1,250.7 538.9,247.9 539.7,251.2 540.5,260.2 541.3,253.2 542.1,263.4 542.9,241.3 543.7,217.7 544.5,201.3 545.3,250.0 546.1,222.2 546.9,185.9 547.7,196.8 548.5,198.1 549.2,222.4 550.0,189.2 550.8,221.8 551.6,262.5 552.4,265.2 553.2,270.3 554.0,251.9 554.8,237.0 555.6,242.2 556.4,207.6 557.2,236.0 558.0,195.3 558.8,250.2 559.6,278.2 560.4,226.8 561.2,260.9 562.0,285.8 562.8,240.7 563.6,279.2 564.4,233.3 565.1,256.3 565.9,198.1 566.7,227.7 567.5,198.3 568.3,159.4 569.1,199.4 569.9,271.3 570.7,224.8 571.5,251.9 572.3,247.0 573.1,241.7 573.9,234.3 574.7,265.1 575.5,212.4 576.3,236.4 577.1,257.7 577.9,205.5 578.7,246.1 579.5,289.2 580.3,249.4 581.1,280.0 581.8,268.5 582.6,256.1 583.4,282.7 584.2,264.3 585.0,263.8 585.8,293.5 586.6,289.6 587.4,308.4 588.2,250.2 589.0,212.5 589.8,245.5 590.6,246.1 591.4,253.9 592.2,227.1 593.0,230.5 593.8,207.3 594.6,243.0 595.4,239.1 596.2,213.3 597.0,227.9 597.7,266.9 598.5,219.2 599.3,235.7 600.1,222.4 600.9,225.9 601.7,263.3 602.5,242.6 603.3,229.2 604.1,220.5 604.9,253.4 605.7,245.9 606.5,224.3 607.3,217.5 608.1,227.8 608.9,280.1 609.7,236.7 610.5,248.0 611.3,275.1 612.1,213.7 612.9,192.2 613.7,201.1 614.4,221.5 615.2,268.2 616.0,252.2 616.8,296.6 617.6,289.9 618.4,204.9 619.2,200.8 620.0,233.4 620.8,230.5 621.6,221.4 622.4,237.4 623.2,221.5 624.0,243.1 624.8,266.8 625.6,237.9 626.4,214.9 627.2,239.1" />
<polyline fill="none" stroke="#B31610" stroke-width="4.5" stroke-linejoin="round" points="97.6,241.5 98.1,239.9 98.7,238.2 99.2,236.4 99.7,234.5 100.3,232.5 100.8,230.5 101.3,228.3 101.8,226.2 102.4,223.9 102.9,221.6 103.4,219.2 104.0,216.7 104.5,214.2 105.0,211.7 105.6,209.1 106.1,206.4 106.6,203.8 107.1,201.0 107.7,198.3 108.2,195.6 108.7,192.8 109.3,190.0 109.8,187.2 110.3,184.4 110.9,181.6 111.4,178.9 111.9,176.1 112.4,173.4 113.0,170.7 113.5,168.0 114.0,165.4 114.6,162.8 115.1,160.3 115.6,157.8 116.2,155.4 116.7,153.1 117.2,150.8 117.7,148.7 118.3,146.6 118.8,144.5 119.3,142.6 119.9,140.8 120.4,139.1 120.9,137.5 121.5,136.0 122.0,134.6 122.5,133.3 123.0,132.1 123.6,131.1 124.1,130.2 124.6,129.4 125.2,128.7 125.7,128.2 126.2,127.8 126.8,127.5 127.3,127.3 127.8,127.3 128.3,127.4 128.9,127.6 129.4,128.0 129.9,128.5 130.5,129.0 131.0,129.7 131.5,130.5 132.1,131.4 132.6,132.5 133.1,133.6 133.6,134.8 134.2,136.2 134.7,137.6 135.2,139.1 135.8,140.8 136.3,142.5 136.8,144.3 137.4,146.1 137.9,148.1 138.4,150.1 138.9,152.2 139.5,154.3 140.0,156.5 140.5,158.7 141.1,161.0 141.6,163.4 142.1,165.7 142.7,168.1 143.2,170.5 143.7,173.0 144.2,175.4 144.8,177.9 145.3,180.3 145.8,182.8 146.4,185.2 146.9,187.6 147.4,190.0 148.0,192.4 148.5,194.7 149.0,197.0 149.5,199.3 150.1,201.5 150.6,203.6 151.1,205.7 151.7,207.7 152.2,209.7 152.7,211.6 153.3,213.4 153.8,215.1 154.3,216.7 154.9,218.2 155.4,219.7 155.9,221.0 156.4,222.3 157.0,223.4 157.5,224.5 158.0,225.4 158.6,226.2 159.1,226.9 159.6,227.5 160.2,228.0 160.7,228.3 161.2,228.6 161.7,228.7 162.3,228.7 162.8,228.6 163.3,228.5 163.9,228.3 164.4,228.1 164.9,227.7 165.5,227.4 166.0,226.9 166.5,226.4 167.0,225.9 167.6,225.3 168.1,224.6 168.6,223.9 169.2,223.1 169.7,222.3 170.2,221.5 170.8,220.6 171.3,219.6 171.8,218.6 172.3,217.6 172.9,216.5 173.4,215.4 173.9,214.3 174.5,213.1 175.0,212.0 175.5,210.8 176.1,209.5 176.6,208.3 177.1,207.0 177.6,205.8 178.2,204.5 178.7,203.3 179.2,202.0 179.8,200.7 180.3,199.5 180.8,198.2 181.4,197.0 181.9,195.8 182.4,194.6 182.9,193.4 183.5,192.2 184.0,191.1 184.5,190.0 185.1,188.9 185.6,187.9 186.1,186.9 186.7,186.0 187.2,185.0 187.7,184.2 188.2,183.4 188.8,182.6 189.3,181.9 189.8,181.2 190.4,180.6 190.9,180.1 191.4,179.6 192.0,179.1 192.5,178.8 193.0,178.5 193.5,178.2 194.1,178.0 194.6,177.9 195.1,177.8 195.7,177.8 196.2,177.9 196.7,178.0 197.3,178.1 197.8,178.3 198.3,178.5 198.8,178.8 199.4,179.1 199.9,179.4 200.4,179.8 201.0,180.3 201.5,180.8 202.0,181.3 202.6,181.8 203.1,182.4 203.6,183.0 204.2,183.7 204.7,184.4 205.2,185.1 205.7,185.8 206.3,186.6 206.8,187.4 207.3,188.2 207.9,189.1 208.4,189.9 208.9,190.8 209.5,191.7 210.0,192.6 210.5,193.5 211.0,194.4 211.6,195.3 212.1,196.3 212.6,197.2 213.2,198.1 213.7,199.0 214.2,199.9 214.8,200.8 215.3,201.7 215.8,202.6 216.3,203.5 216.9,204.3 217.4,205.1 217.9,205.9 218.5,206.7 219.0,207.5 219.5,208.2 220.1,208.9 220.6,209.6 221.1,210.2 221.6,210.8 222.2,211.4 222.7,212.0 223.2,212.5 223.8,212.9 224.3,213.3 224.8,213.7 225.4,214.0 225.9,214.3 226.4,214.6 226.9,214.8 227.5,214.9 228.0,215.1 228.5,215.1 229.1,215.1 229.6,215.1 230.1,215.1 230.7,215.0 231.2,214.9 231.7,214.8 232.2,214.7 232.8,214.5 233.3,214.3 233.8,214.0 234.4,213.8 234.9,213.5 235.4,213.2 236.0,212.9 236.5,212.6 237.0,212.2 237.5,211.8 238.1,211.4 238.6,211.0 239.1,210.5 239.7,210.1 240.2,209.6 240.7,209.1 241.3,208.6 241.8,208.1 242.3,207.6 242.8,207.1 243.4,206.6 243.9,206.1 244.4,205.5 245.0,205.0 245.5,204.4 246.0,203.9 246.6,203.4 247.1,202.8 247.6,202.3 248.1,201.8 248.7,201.3 249.2,200.8 249.7,200.3 250.3,199.8 250.8,199.3 251.3,198.9 251.9,198.5 252.4,198.0 252.9,197.6 253.4,197.2 254.0,196.9 254.5,196.5 255.0,196.2 255.6,195.9 256.1,195.6 256.6,195.4 257.2,195.2 257.7,195.0 258.2,194.8 258.8,194.6 259.3,194.5 259.8,194.4 260.3,194.3 260.9,194.3 261.4,194.3 261.9,194.3 262.5,194.3 263.0,194.4 263.5,194.4 264.1,194.5 264.6,194.6 265.1,194.7 265.6,194.8 266.2,195.0 266.7,195.1 267.2,195.3 267.8,195.5 268.3,195.7 268.8,195.9 269.4,196.1 269.9,196.4 270.4,196.6 270.9,196.9 271.5,197.2 272.0,197.5 272.5,197.8 273.1,198.1 273.6,198.4 274.1,198.7 274.7,199.0 275.2,199.4 275.7,199.7 276.2,200.0 276.8,200.4 277.3,200.7 277.8,201.1 278.4,201.4 278.9,201.7 279.4,202.1 280.0,202.4 280.5,202.8 281.0,203.1 281.5,203.4 282.1,203.7 282.6,204.0 283.1,204.3 283.7,204.6 284.2,204.9 284.7,205.2 285.3,205.5 285.8,205.7 286.3,206.0 286.8,206.2 287.4,206.4 287.9,206.6 288.4,206.8 289.0,207.0 289.5,207.1 290.0,207.3 290.6,207.4 291.1,207.5 291.6,207.6 292.1,207.7 292.7,207.7 293.2,207.8 293.7,207.8 294.3,207.8 294.8,207.8 295.3,207.8 295.9,207.8 296.4,207.7 296.9,207.7 297.4,207.6 298.0,207.5 298.5,207.5 299.0,207.4 299.6,207.3 300.1,207.1 300.6,207.0 301.2,206.9 301.7,206.7 302.2,206.6 302.7,206.4 303.3,206.2 303.8,206.1 304.3,205.9 304.9,205.7 305.4,205.5 305.9,205.3 306.5,205.1 307.0,204.9 307.5,204.7 308.0,204.4 308.6,204.2 309.1,204.0 309.6,203.8 310.2,203.5 310.7,203.3 311.2,203.1 311.8,202.9 312.3,202.6 312.8,202.4 313.4,202.2 313.9,202.0 314.4,201.8 314.9,201.6 315.5,201.4 316.0,201.2 316.5,201.0 317.1,200.8 317.6,200.6 318.1,200.5 318.7,200.3 319.2,200.1 319.7,200.0 320.2,199.9 320.8,199.7 321.3,199.6 321.8,199.5 322.4,199.4 322.9,199.3 323.4,199.3 324.0,199.2 324.5,199.1 325.0,199.1 325.5,199.1 326.1,199.0 326.6,199.0 327.1,199.0 327.7,199.1 328.2,199.1 328.7,199.1 329.3,199.1 329.8,199.2 330.3,199.2 330.8,199.3 331.4,199.4 331.9,199.5 332.4,199.5 333.0,199.6 333.5,199.7 334.0,199.8 334.6,200.0 335.1,200.1 335.6,200.2 336.1,200.3 336.7,200.5 337.2,200.6 337.7,200.7 338.3,200.9 338.8,201.0 339.3,201.2 339.9,201.4 340.4,201.5 340.9,201.7 341.4,201.8 342.0,202.0 342.5,202.2 343.0,202.3 343.6,202.5 344.1,202.7 344.6,202.8 345.2,203.0 345.7,203.2 346.2,203.3 346.7,203.5 347.3,203.6 347.8,203.8 348.3,203.9 348.9,204.1 349.4,204.2 349.9,204.4 350.5,204.5 351.0,204.6 351.5,204.7 352.0,204.8 352.6,204.9 353.1,205.0 353.6,205.1 354.2,205.2 354.7,205.3 355.2,205.4 355.8,205.4 356.3,205.5 356.8,205.5 357.3,205.6 357.9,205.6 358.4,205.6 358.9,205.6 359.5,205.6 360.0,205.6 360.5,205.6 361.1,205.6 361.6,205.6 362.1,205.6 362.6,205.5 363.2,205.5 363.7,205.5 364.2,205.4 364.8,205.4 365.3,205.3 365.8,205.3 366.4,205.2 366.9,205.1 367.4,205.0 368.0,205.0 368.5,204.9 369.0,204.8 369.5,204.7 370.1,204.6 370.6,204.5 371.1,204.4 371.7,204.3 372.2,204.2 372.7,204.1 373.3,204.0 373.8,203.9 374.3,203.8 374.8,203.7 375.4,203.6 375.9,203.5 376.4,203.4 377.0,203.3 377.5,203.2 378.0,203.1 378.6,202.9 379.1,202.8 379.6,202.7 380.1,202.6 380.7,202.5 381.2,202.4 381.7,202.3 382.3,202.2 382.8,202.2 383.3,202.1 383.9,202.0 384.4,201.9 384.9,201.8 385.4,201.8 386.0,201.7 386.5,201.6 387.0,201.6 387.6,201.5 388.1,201.5 388.6,201.4 389.2,201.4 389.7,201.3 390.2,201.3 390.7,201.3 391.3,201.3 391.8,201.3 392.3,201.2 392.9,201.2 393.4,201.2 393.9,201.2 394.5,201.3 395.0,201.3 395.5,201.3 396.0,201.3 396.6,201.3 397.1,201.4 397.6,201.4 398.2,201.4 398.7,201.5 399.2,201.5 399.8,201.5 400.3,201.6 400.8,201.6 401.3,201.7 401.9,201.7 402.4,201.8 402.9,201.8 403.5,201.9 404.0,202.0 404.5,202.0 405.1,202.1 405.6,202.2 406.1,202.2 406.6,202.3 407.2,202.4 407.7,202.4 408.2,202.5 408.8,202.6 409.3,202.7 409.8,202.7 410.4,202.8 410.9,202.9 411.4,203.0 411.9,203.0 412.5,203.1 413.0,203.2 413.5,203.2 414.1,203.3 414.6,203.4 415.1,203.4 415.7,203.5 416.2,203.6 416.7,203.6 417.3,203.7 417.8,203.7 418.3,203.8 418.8,203.8 419.4,203.9 419.9,203.9 420.4,204.0 421.0,204.0 421.5,204.0 422.0,204.1 422.6,204.1 423.1,204.1 423.6,204.1 424.1,204.1 424.7,204.2 425.2,204.2 425.7,204.2 426.3,204.2 426.8,204.2 427.3,204.2 427.9,204.2 428.4,204.2 428.9,204.1 429.4,204.1 430.0,204.1 430.5,204.1 431.0,204.1 431.6,204.1 432.1,204.0 432.6,204.0 433.2,204.0 433.7,204.0 434.2,204.0 434.7,203.9 435.3,203.9 435.8,203.9 436.3,203.8 436.9,203.8 437.4,203.8 437.9,203.7 438.5,203.7 439.0,203.7 439.5,203.6 440.0,203.6 440.6,203.6 441.1,203.5 441.6,203.5 442.2,203.4 442.7,203.4 443.2,203.4 443.8,203.3 444.3,203.3 444.8,203.2 445.3,203.2 445.9,203.2 446.4,203.1 446.9,203.1 447.5,203.1 448.0,203.0 448.5,203.0 449.1,203.0 449.6,202.9 450.1,202.9 450.6,202.9 451.2,202.9 451.7,202.8 452.2,202.8 452.8,202.8 453.3,202.8 453.8,202.8 454.4,202.8 454.9,202.7 455.4,202.7 455.9,202.7 456.5,202.7 457.0,202.7 457.5,202.7 458.1,202.7 458.6,202.7 459.1,202.7 459.7,202.7 460.2,202.7 460.7,202.7 461.2,202.7 461.8,202.7 462.3,202.7 462.8,202.7 463.4,202.8 463.9,202.8 464.4,202.8 465.0,202.8 465.5,202.8 466.0,202.8 466.5,202.8 467.1,202.8 467.6,202.9 468.1,202.9 468.7,202.9 469.2,202.9 469.7,202.9 470.3,202.9 470.8,203.0 471.3,203.0 471.9,203.0 472.4,203.0 472.9,203.0 473.4,203.1 474.0,203.1 474.5,203.1 475.0,203.1 475.6,203.1 476.1,203.1 476.6,203.2 477.2,203.2 477.7,203.2 478.2,203.2 478.7,203.2 479.3,203.3 479.8,203.3 480.3,203.3 480.9,203.3 481.4,203.3 481.9,203.3 482.5,203.3 483.0,203.4 483.5,203.4 484.0,203.4 484.6,203.4 485.1,203.4 485.6,203.4 486.2,203.4 486.7,203.4 487.2,203.4 487.8,203.4 488.3,203.4 488.8,203.4 489.3,203.4 489.9,203.4 490.4,203.4 490.9,203.4 491.5,203.4 492.0,203.4 492.5,203.4 493.1,203.4 493.6,203.4 494.1,203.4 494.6,203.4 495.2,203.4 495.7,203.4 496.2,203.4 496.8,203.4 497.3,203.4 497.8,203.4 498.4,203.4 498.9,203.4 499.4,203.4 499.9,203.4 500.5,203.4 501.0,203.4 501.5,203.4 502.1,203.4 502.6,203.4 503.1,203.4 503.7,203.4 504.2,203.4 504.7,203.4 505.2,203.4 505.8,203.4 506.3,203.4 506.8,203.4 507.4,203.4 507.9,203.4 508.4,203.4 509.0,203.4 509.5,203.4 510.0,203.4 510.5,203.4 511.1,203.4 511.6,203.4 512.1,203.4 512.7,203.4 513.2,203.4 513.7,203.4 514.3,203.4 514.8,203.4 515.3,203.4 515.8,203.4 516.4,203.4 516.9,203.4 517.4,203.4 518.0,203.4 518.5,203.4 519.0,203.4 519.6,203.4 520.1,203.4 520.6,203.4 521.1,203.4 521.7,203.4 522.2,203.4 522.7,203.4 523.3,203.4 523.8,203.4 524.3,203.4 524.9,203.4 525.4,203.4 525.9,203.4 526.5,203.4 527.0,203.4 527.5,203.4 528.0,203.4 528.6,203.4 529.1,203.4 529.6,203.4 530.2,203.4 530.7,203.4 531.2,203.4 531.8,203.4 532.3,203.4 532.8,203.4 533.3,203.4 533.9,203.4 534.4,203.4 534.9,203.4 535.5,203.4 536.0,203.4 536.5,203.4 537.1,203.4 537.6,203.4 538.1,203.4 538.6,203.4 539.2,203.4 539.7,203.4 540.2,203.4 540.8,203.4 541.3,203.4 541.8,203.4 542.4,203.4 542.9,203.4 543.4,203.4 543.9,203.4 544.5,203.4 545.0,203.4 545.5,203.4 546.1,203.4 546.6,203.4 547.1,203.4 547.7,203.4 548.2,203.4 548.7,203.4 549.2,203.4 549.8,203.4 550.3,203.4 550.8,203.4 551.4,203.4 551.9,203.4 552.4,203.4 553.0,203.4 553.5,203.4 554.0,203.4 554.5,203.4 555.1,203.4 555.6,203.4 556.1,203.4 556.7,203.4 557.2,203.4 557.7,203.4 558.3,203.4 558.8,203.4 559.3,203.4 559.8,203.4 560.4,203.4 560.9,203.4 561.4,203.4 562.0,203.4 562.5,203.4 563.0,203.4 563.6,203.4 564.1,203.4 564.6,203.4 565.1,203.4 565.7,203.4 566.2,203.4 566.7,203.4 567.3,203.4 567.8,203.4 568.3,203.4 568.9,203.4 569.4,203.4 569.9,203.4 570.4,203.4 571.0,203.4 571.5,203.4 572.0,203.4 572.6,203.4 573.1,203.4 573.6,203.4 574.2,203.4 574.7,203.4 575.2,203.4 575.8,203.4 576.3,203.4 576.8,203.4 577.3,203.4 577.9,203.4 578.4,203.4 578.9,203.4 579.5,203.4 580.0,203.4 580.5,203.4 581.1,203.4 581.6,203.4 582.1,203.4 582.6,203.4 583.2,203.4 583.7,203.4 584.2,203.4 584.8,203.4 585.3,203.4 585.8,203.4 586.4,203.4 586.9,203.4 587.4,203.4 587.9,203.4 588.5,203.4 589.0,203.4 589.5,203.4 590.1,203.4 590.6,203.4 591.1,203.4 591.7,203.4 592.2,203.4 592.7,203.4 593.2,203.4 593.8,203.4 594.3,203.4 594.8,203.4 595.4,203.4 595.9,203.4 596.4,203.4 597.0,203.4 597.5,203.4 598.0,203.4 598.5,203.4 599.1,203.4 599.6,203.4 600.1,203.4 600.7,203.4 601.2,203.4 601.7,203.4 602.3,203.4 602.8,203.4 603.3,203.4 603.8,203.4 604.4,203.4 604.9,203.4 605.4,203.4 606.0,203.4 606.5,203.4 607.0,203.4 607.6,203.4 608.1,203.4 608.6,203.4 609.1,203.4 609.7,203.4 610.2,203.4 610.7,203.4 611.3,203.4 611.8,203.4 612.3,203.4 612.9,203.4 613.4,203.4 613.9,203.4 614.4,203.4 615.0,203.4 615.5,203.4 616.0,203.4 616.6,203.4 617.1,203.4 617.6,203.4 618.2,203.4 618.7,203.4 619.2,203.4 619.7,203.4 620.3,203.4 620.8,203.4 621.3,203.4 621.9,203.4 622.4,203.4 622.9,203.4 623.5,203.4 624.0,203.4 624.5,203.4 625.0,203.4 625.6,203.4 626.1,203.4 626.6,203.4 627.2,203.4 627.7,203.4" />
<polyline fill="none" stroke="#1707DD" stroke-width="4.5" stroke-linejoin="round" points="97.6,241.5 98.1,242.3 98.7,243.1 99.2,243.9 99.7,244.8 100.3,245.8 100.8,246.8 101.3,247.8 101.8,248.8 102.4,249.9 102.9,251.0 103.4,252.2 104.0,253.4 104.5,254.6 105.0,255.8 105.6,257.0 106.1,258.3 106.6,259.6 107.1,260.9 107.7,262.2 108.2,263.5 108.7,264.8 109.3,266.1 109.8,267.4 110.3,268.7 110.9,270.1 111.4,271.3 111.9,272.6 112.4,273.9 113.0,275.1 113.5,276.3 114.0,277.5 114.6,278.7 115.1,279.8 115.6,280.9 116.2,282.0 116.7,283.0 117.2,284.0 117.7,284.9 118.3,285.8 118.8,286.6 119.3,287.4 119.9,288.1 120.4,288.8 120.9,289.4 121.5,289.9 122.0,290.4 122.5,290.8 123.0,291.2 123.6,291.5 124.1,291.7 124.6,291.9 125.2,292.0 125.7,292.0 126.2,292.0 126.8,291.9 127.3,291.7 127.8,291.4 128.3,291.1 128.9,290.7 129.4,290.3 129.9,289.8 130.5,289.2 131.0,288.5 131.5,287.8 132.1,287.0 132.6,286.2 133.1,285.3 133.6,284.4 134.2,283.3 134.7,282.3 135.2,281.2 135.8,280.0 136.3,278.8 136.8,277.5 137.4,276.2 137.9,274.9 138.4,273.5 138.9,272.1 139.5,270.7 140.0,269.2 140.5,267.7 141.1,266.2 141.6,264.6 142.1,263.1 142.7,261.5 143.2,259.9 143.7,258.3 144.2,256.8 144.8,255.2 145.3,253.6 145.8,252.0 146.4,250.4 146.9,248.8 147.4,247.3 148.0,245.7 148.5,244.2 149.0,242.7 149.5,241.2 150.1,239.8 150.6,238.4 151.1,237.0 151.7,235.7 152.2,234.4 152.7,233.1 153.3,231.9 153.8,230.7 154.3,229.6 154.9,228.6 155.4,227.6 155.9,226.6 156.4,225.7 157.0,224.9 157.5,224.1 158.0,223.4 158.6,222.7 159.1,222.1 159.6,221.6 160.2,221.2 160.7,220.8 161.2,220.5 161.7,220.2 162.3,220.0 162.8,219.9 163.3,219.9 163.9,219.9 164.4,220.0 164.9,220.1 165.5,220.2 166.0,220.3 166.5,220.5 167.0,220.8 167.6,221.0 168.1,221.3 168.6,221.6 169.2,222.0 169.7,222.3 170.2,222.7 170.8,223.2 171.3,223.6 171.8,224.1 172.3,224.6 172.9,225.1 173.4,225.7 173.9,226.2 174.5,226.8 175.0,227.4 175.5,228.0 176.1,228.6 176.6,229.2 177.1,229.8 177.6,230.4 178.2,231.0 178.7,231.6 179.2,232.2 179.8,232.8 180.3,233.4 180.8,234.0 181.4,234.6 181.9,235.2 182.4,235.7 182.9,236.3 183.5,236.8 184.0,237.3 184.5,237.8 185.1,238.2 185.6,238.7 186.1,239.1 186.7,239.4 187.2,239.8 187.7,240.1 188.2,240.4 188.8,240.6 189.3,240.9 189.8,241.1 190.4,241.2 190.9,241.3 191.4,241.4 192.0,241.5 192.5,241.5 193.0,241.5 193.5,241.4 194.1,241.4 194.6,241.2 195.1,241.1 195.7,240.9 196.2,240.7 196.7,240.5 197.3,240.2 197.8,239.9 198.3,239.6 198.8,239.2 199.4,238.8 199.9,238.4 200.4,238.0 201.0,237.5 201.5,237.0 202.0,236.5 202.6,236.0 203.1,235.4 203.6,234.8 204.2,234.2 204.7,233.6 205.2,233.0 205.7,232.4 206.3,231.7 206.8,231.0 207.3,230.4 207.9,229.7 208.4,229.0 208.9,228.3 209.5,227.5 210.0,226.8 210.5,226.1 211.0,225.4 211.6,224.7 212.1,224.0 212.6,223.3 213.2,222.6 213.7,221.9 214.2,221.2 214.8,220.5 215.3,219.8 215.8,219.2 216.3,218.5 216.9,217.9 217.4,217.3 217.9,216.7 218.5,216.1 219.0,215.6 219.5,215.0 220.1,214.5 220.6,214.0 221.1,213.6 221.6,213.1 222.2,212.7 222.7,212.3 223.2,212.0 223.8,211.6 224.3,211.3 224.8,211.1 225.4,210.8 225.9,210.6 226.4,210.4 226.9,210.3 227.5,210.2 228.0,210.1 228.5,210.0 229.1,210.0 229.6,210.0 230.1,210.1 230.7,210.1 231.2,210.1 231.7,210.2 232.2,210.3 232.8,210.4 233.3,210.4 233.8,210.6 234.4,210.7 234.9,210.8 235.4,211.0 236.0,211.1 236.5,211.3 237.0,211.5 237.5,211.6 238.1,211.8 238.6,212.0 239.1,212.3 239.7,212.5 240.2,212.7 240.7,212.9 241.3,213.2 241.8,213.4 242.3,213.7 242.8,213.9 243.4,214.2 243.9,214.4 244.4,214.7 245.0,214.9 245.5,215.2 246.0,215.4 246.6,215.7 247.1,215.9 247.6,216.2 248.1,216.4 248.7,216.6 249.2,216.9 249.7,217.1 250.3,217.3 250.8,217.5 251.3,217.7 251.9,217.9 252.4,218.1 252.9,218.3 253.4,218.4 254.0,218.6 254.5,218.7 255.0,218.9 255.6,219.0 256.1,219.1 256.6,219.2 257.2,219.3 257.7,219.4 258.2,219.4 258.8,219.5 259.3,219.5 259.8,219.5 260.3,219.5 260.9,219.5 261.4,219.5 261.9,219.5 262.5,219.4 263.0,219.3 263.5,219.3 264.1,219.2 264.6,219.0 265.1,218.9 265.6,218.8 266.2,218.6 266.7,218.4 267.2,218.2 267.8,218.0 268.3,217.8 268.8,217.6 269.4,217.4 269.9,217.1 270.4,216.9 270.9,216.6 271.5,216.3 272.0,216.1 272.5,215.8 273.1,215.5 273.6,215.2 274.1,214.9 274.7,214.6 275.2,214.2 275.7,213.9 276.2,213.6 276.8,213.3 277.3,213.0 277.8,212.6 278.4,212.3 278.9,212.0 279.4,211.7 280.0,211.4 280.5,211.0 281.0,210.7 281.5,210.4 282.1,210.1 282.6,209.8 283.1,209.6 283.7,209.3 284.2,209.0 284.7,208.8 285.3,208.5 285.8,208.3 286.3,208.1 286.8,207.9 287.4,207.7 287.9,207.5 288.4,207.3 289.0,207.1 289.5,207.0 290.0,206.9 290.6,206.7 291.1,206.6 291.6,206.6 292.1,206.5 292.7,206.4 293.2,206.4 293.7,206.4 294.3,206.4 294.8,206.4 295.3,206.4 295.9,206.4 296.4,206.4 296.9,206.4 297.4,206.5 298.0,206.5 298.5,206.5 299.0,206.6 299.6,206.6 300.1,206.7 300.6,206.7 301.2,206.8 301.7,206.9 302.2,206.9 302.7,207.0 303.3,207.1 303.8,207.2 304.3,207.3 304.9,207.3 305.4,207.4 305.9,207.5 306.5,207.6 307.0,207.7 307.5,207.8 308.0,207.9 308.6,208.0 309.1,208.1 309.6,208.2 310.2,208.3 310.7,208.5 311.2,208.6 311.8,208.7 312.3,208.8 312.8,208.9 313.4,209.0 313.9,209.1 314.4,209.2 314.9,209.3 315.5,209.4 316.0,209.5 316.5,209.6 317.1,209.7 317.6,209.8 318.1,209.9 318.7,210.0 319.2,210.0 319.7,210.1 320.2,210.2 320.8,210.3 321.3,210.3 321.8,210.4 322.4,210.4 322.9,210.5 323.4,210.5 324.0,210.6 324.5,210.6 325.0,210.7 325.5,210.7 326.1,210.7 326.6,210.7 327.1,210.7 327.7,210.8 328.2,210.8 328.7,210.8 329.3,210.7 329.8,210.7 330.3,210.7 330.8,210.6 331.4,210.6 331.9,210.5 332.4,210.5 333.0,210.4 333.5,210.3 334.0,210.2 334.6,210.1 335.1,210.0 335.6,209.9 336.1,209.8 336.7,209.7 337.2,209.6 337.7,209.4 338.3,209.3 338.8,209.2 339.3,209.0 339.9,208.9 340.4,208.7 340.9,208.5 341.4,208.4 342.0,208.2 342.5,208.1 343.0,207.9 343.6,207.7 344.1,207.5 344.6,207.4 345.2,207.2 345.7,207.0 346.2,206.9 346.7,206.7 347.3,206.5 347.8,206.4 348.3,206.2 348.9,206.1 349.4,205.9 349.9,205.8 350.5,205.6 351.0,205.5 351.5,205.4 352.0,205.2 352.6,205.1 353.1,205.0 353.6,204.9 354.2,204.8 354.7,204.7 355.2,204.6 355.8,204.5 356.3,204.4 356.8,204.4 357.3,204.3 357.9,204.3 358.4,204.2 358.9,204.2 359.5,204.2 360.0,204.2 360.5,204.2 361.1,204.2 361.6,204.2 362.1,204.2 362.6,204.2 363.2,204.2 363.7,204.2 364.2,204.2 364.8,204.3 365.3,204.3 365.8,204.3 366.4,204.3 366.9,204.4 367.4,204.4 368.0,204.4 368.5,204.5 369.0,204.5 369.5,204.6 370.1,204.6 370.6,204.6 371.1,204.7 371.7,204.7 372.2,204.8 372.7,204.8 373.3,204.9 373.8,204.9 374.3,205.0 374.8,205.0 375.4,205.1 375.9,205.2 376.4,205.2 377.0,205.3 377.5,205.3 378.0,205.4 378.6,205.4 379.1,205.5 379.6,205.5 380.1,205.6 380.7,205.6 381.2,205.7 381.7,205.7 382.3,205.8 382.8,205.8 383.3,205.9 383.9,205.9 384.4,206.0 384.9,206.0 385.4,206.1 386.0,206.1 386.5,206.1 387.0,206.2 387.6,206.2 388.1,206.2 388.6,206.3 389.2,206.3 389.7,206.3 390.2,206.3 390.7,206.3 391.3,206.3 391.8,206.4 392.3,206.4 392.9,206.4 393.4,206.4 393.9,206.4 394.5,206.4 395.0,206.3 395.5,206.3 396.0,206.3 396.6,206.3 397.1,206.3 397.6,206.2 398.2,206.2 398.7,206.2 399.2,206.1 399.8,206.1 400.3,206.1 400.8,206.0 401.3,206.0 401.9,205.9 402.4,205.9 402.9,205.8 403.5,205.7 404.0,205.7 404.5,205.6 405.1,205.5 405.6,205.5 406.1,205.4 406.6,205.3 407.2,205.3 407.7,205.2 408.2,205.1 408.8,205.0 409.3,205.0 409.8,204.9 410.4,204.8 410.9,204.8 411.4,204.7 411.9,204.6 412.5,204.5 413.0,204.5 413.5,204.4 414.1,204.3 414.6,204.3 415.1,204.2 415.7,204.1 416.2,204.1 416.7,204.0 417.3,203.9 417.8,203.9 418.3,203.8 418.8,203.8 419.4,203.7 419.9,203.7 420.4,203.7 421.0,203.6 421.5,203.6 422.0,203.6 422.6,203.5 423.1,203.5 423.6,203.5 424.1,203.5 424.7,203.5 425.2,203.4 425.7,203.4 426.3,203.4 426.8,203.4 427.3,203.4 427.9,203.4 428.4,203.4 428.9,203.4 429.4,203.5 430.0,203.5 430.5,203.5 431.0,203.5 431.6,203.5 432.1,203.5 432.6,203.5 433.2,203.5 433.7,203.5 434.2,203.5 434.7,203.6 435.3,203.6 435.8,203.6 436.3,203.6 436.9,203.6 437.4,203.6 437.9,203.7 438.5,203.7 439.0,203.7 439.5,203.7 440.0,203.7 440.6,203.7 441.1,203.8 441.6,203.8 442.2,203.8 442.7,203.8 443.2,203.8 443.8,203.9 444.3,203.9 444.8,203.9 445.3,203.9 445.9,203.9 446.4,204.0 446.9,204.0 447.5,204.0 448.0,204.0 448.5,204.0 449.1,204.0 449.6,204.0 450.1,204.1 450.6,204.1 451.2,204.1 451.7,204.1 452.2,204.1 452.8,204.1 453.3,204.1 453.8,204.1 454.4,204.1 454.9,204.2 455.4,204.2 455.9,204.2 456.5,204.2 457.0,204.2 457.5,204.2 458.1,204.2 458.6,204.2 459.1,204.2 459.7,204.2 460.2,204.2 460.7,204.2 461.2,204.2 461.8,204.1 462.3,204.1 462.8,204.1 463.4,204.1 463.9,204.1 464.4,204.1 465.0,204.1 465.5,204.1 466.0,204.1 466.5,204.0 467.1,204.0 467.6,204.0 468.1,204.0 468.7,204.0 469.2,204.0 469.7,204.0 470.3,203.9 470.8,203.9 471.3,203.9 471.9,203.9 472.4,203.9 472.9,203.8 473.4,203.8 474.0,203.8 474.5,203.8 475.0,203.8 475.6,203.7 476.1,203.7 476.6,203.7 477.2,203.7 477.7,203.7 478.2,203.7 478.7,203.6 479.3,203.6 479.8,203.6 480.3,203.6 480.9,203.6 481.4,203.6 481.9,203.5 482.5,203.5 483.0,203.5 483.5,203.5 484.0,203.5 484.6,203.5 485.1,203.5 485.6,203.5 486.2,203.5 486.7,203.5 487.2,203.4 487.8,203.4 488.3,203.4 488.8,203.4 489.3,203.4 489.9,203.4 490.4,203.4 490.9,203.4 491.5,203.4 492.0,203.4 492.5,203.4 493.1,203.4 493.6,203.4 494.1,203.4 494.6,203.4 495.2,203.4 495.7,203.4 496.2,203.4 496.8,203.4 497.3,203.4 497.8,203.4 498.4,203.4 498.9,203.4 499.4,203.4 499.9,203.4 500.5,203.4 501.0,203.4 501.5,203.4 502.1,203.4 502.6,203.4 503.1,203.4 503.7,203.4 504.2,203.4 504.7,203.4 505.2,203.4 505.8,203.4 506.3,203.4 506.8,203.4 507.4,203.4 507.9,203.4 508.4,203.4 509.0,203.4 509.5,203.4 510.0,203.4 510.5,203.4 511.1,203.4 511.6,203.4 512.1,203.4 512.7,203.4 513.2,203.4 513.7,203.4 514.3,203.4 514.8,203.4 515.3,203.4 515.8,203.4 516.4,203.4 516.9,203.4 517.4,203.4 518.0,203.4 518.5,203.4 519.0,203.4 519.6,203.4 520.1,203.4 520.6,203.4 521.1,203.4 521.7,203.4 522.2,203.4 522.7,203.4 523.3,203.4 523.8,203.4 524.3,203.4 524.9,203.4 525.4,203.4 525.9,203.4 526.5,203.4 527.0,203.4 527.5,203.4 528.0,203.4 528.6,203.4 529.1,203.4 529.6,203.4 530.2,203.4 530.7,203.4 531.2,203.4 531.8,203.4 532.3,203.4 532.8,203.4 533.3,203.4 533.9,203.4 534.4,203.4 534.9,203.4 535.5,203.4 536.0,203.4 536.5,203.4 537.1,203.4 537.6,203.4 538.1,203.4 538.6,203.4 539.2,203.4 539.7,203.4 540.2,203.4 540.8,203.4 541.3,203.4 541.8,203.4 542.4,203.4 542.9,203.4 543.4,203.4 543.9,203.4 544.5,203.4 545.0,203.4 545.5,203.4 546.1,203.4 546.6,203.4 547.1,203.4 547.7,203.4 548.2,203.4 548.7,203.4 549.2,203.4 549.8,203.4 550.3,203.4 550.8,203.4 551.4,203.4 551.9,203.4 552.4,203.4 553.0,203.4 553.5,203.4 554.0,203.4 554.5,203.4 555.1,203.4 555.6,203.4 556.1,203.4 556.7,203.4 557.2,203.4 557.7,203.4 558.3,203.4 558.8,203.4 559.3,203.4 559.8,203.4 560.4,203.4 560.9,203.4 561.4,203.4 562.0,203.4 562.5,203.4 563.0,203.4 563.6,203.4 564.1,203.4 564.6,203.4 565.1,203.4 565.7,203.4 566.2,203.4 566.7,203.4 567.3,203.4 567.8,203.4 568.3,203.4 568.9,203.4 569.4,203.4 569.9,203.4 570.4,203.4 571.0,203.4 571.5,203.4 572.0,203.4 572.6,203.4 573.1,203.4 573.6,203.4 574.2,203.4 574.7,203.4 575.2,203.4 575.8,203.4 576.3,203.4 576.8,203.4 577.3,203.4 577.9,203.4 578.4,203.4 578.9,203.4 579.5,203.4 580.0,203.4 580.5,203.4 581.1,203.4 581.6,203.4 582.1,203.4 582.6,203.4 583.2,203.4 583.7,203.4 584.2,203.4 584.8,203.4 585.3,203.4 585.8,203.4 586.4,203.4 586.9,203.4 587.4,203.4 587.9,203.4 588.5,203.4 589.0,203.4 589.5,203.4 590.1,203.4 590.6,203.4 591.1,203.4 591.7,203.4 592.2,203.4 592.7,203.4 593.2,203.4 593.8,203.4 594.3,203.4 594.8,203.4 595.4,203.4 595.9,203.4 596.4,203.4 597.0,203.4 597.5,203.4 598.0,203.4 598.5,203.4 599.1,203.4 599.6,203.4 600.1,203.4 600.7,203.4 601.2,203.4 601.7,203.4 602.3,203.4 602.8,203.4 603.3,203.4 603.8,203.4 604.4,203.4 604.9,203.4 605.4,203.4 606.0,203.4 606.5,203.4 607.0,203.4 607.6,203.4 608.1,203.4 608.6,203.4 609.1,203.4 609.7,203.4 610.2,203.4 610.7,203.4 611.3,203.4 611.8,203.4 612.3,203.4 612.9,203.4 613.4,203.4 613.9,203.4 614.4,203.4 615.0,203.4 615.5,203.4 616.0,203.4 616.6,203.4 617.1,203.4 617.6,203.4 618.2,203.4 618.7,203.4 619.2,203.4 619.7,203.4 620.3,203.4 620.8,203.4 621.3,203.4 621.9,203.4 622.4,203.4 622.9,203.4 623.5,203.4 624.0,203.4 624.5,203.4 625.0,203.4 625.6,203.4 626.1,203.4 626.6,203.4 627.2,203.4 627.7,203.4" />
<polyline fill="none" stroke="#31BE24" stroke-width="4.5" stroke-linejoin="round" points="97.6,241.5 98.1,239.2 98.7,236.7 99.2,234.1 99.7,231.5 100.3,228.6 100.8,225.7 101.3,222.7 101.8,219.6 102.4,216.3 102.9,213.0 103.4,209.6 104.0,206.1 104.5,202.5 105.0,198.9 105.6,195.2 106.1,191.4 106.6,187.5 107.1,183.7 107.7,179.8 108.2,175.8 108.7,171.9 109.3,167.9 109.8,163.9 110.3,159.9 110.9,155.9 111.4,152.0 111.9,148.0 112.4,144.1 113.0,140.3 113.5,136.5 114.0,132.7 114.6,129.0 115.1,125.4 115.6,121.9 116.2,118.5 116.7,115.1 117.2,111.9 117.7,108.8 118.3,105.8 118.8,102.9 119.3,100.2 119.9,97.6 120.4,95.1 120.9,92.8 121.5,90.6 122.0,88.6 122.5,86.8 123.0,85.1 123.6,83.7 124.1,82.3 124.6,81.2 125.2,80.3 125.7,79.5 126.2,78.9 126.8,78.5 127.3,78.3 127.8,78.3 128.3,78.4 128.9,78.8 129.4,79.3 129.9,80.1 130.5,81.0 131.0,82.0 131.5,83.3 132.1,84.7 132.6,86.3 133.1,88.1 133.6,90.0 134.2,92.1 134.7,94.4 135.2,96.8 135.8,99.3 136.3,102.0 136.8,104.8 137.4,107.8 137.9,110.8 138.4,114.0 138.9,117.3 139.5,120.7 140.0,124.2 140.5,127.7 141.1,131.4 141.6,135.1 142.1,138.9 142.7,142.7 143.2,146.6 143.7,150.5 144.2,154.4 144.8,158.4 145.3,162.3 145.8,166.3 146.4,170.3 146.9,174.2 147.4,178.2 148.0,182.1 148.5,185.9 149.0,189.7 149.5,193.5 150.1,197.2 150.6,200.8 151.1,204.3 151.7,207.8 152.2,211.1 152.7,214.4 153.3,217.5 153.8,220.5 154.3,223.4 154.9,226.2 155.4,228.8 155.9,231.3 156.4,233.6 157.0,235.8 157.5,237.9 158.0,239.7 158.6,241.4 159.1,243.0 159.6,244.3 160.2,245.5 160.7,246.5 161.2,247.3 161.7,248.0 162.3,248.4 162.8,248.7 163.3,248.8 163.9,248.8 164.4,248.6 164.9,248.3 165.5,248.0 166.0,247.5 166.5,246.9 167.0,246.3 167.6,245.5 168.1,244.6 168.6,243.7 169.2,242.6 169.7,241.5 170.2,240.3 170.8,239.0 171.3,237.6 171.8,236.2 172.3,234.7 172.9,233.1 173.4,231.4 173.9,229.8 174.5,228.0 175.0,226.2 175.5,224.4 176.1,222.5 176.6,220.7 177.1,218.8 177.6,216.8 178.2,214.9 178.7,213.0 179.2,211.0 179.8,209.1 180.3,207.1 180.8,205.2 181.4,203.4 181.9,201.5 182.4,199.7 182.9,197.9 183.5,196.2 184.0,194.5 184.5,192.8 185.1,191.2 185.6,189.7 186.1,188.3 186.7,186.9 187.2,185.6 187.7,184.4 188.2,183.3 188.8,182.2 189.3,181.3 189.8,180.4 190.4,179.6 190.9,179.0 191.4,178.4 192.0,177.9 192.5,177.6 193.0,177.3 193.5,177.1 194.1,177.1 194.6,177.1 195.1,177.2 195.7,177.4 196.2,177.7 196.7,178.1 197.3,178.5 197.8,179.0 198.3,179.6 198.8,180.2 199.4,180.9 199.9,181.7 200.4,182.6 201.0,183.5 201.5,184.5 202.0,185.6 202.6,186.7 203.1,187.9 203.6,189.1 204.2,190.4 204.7,191.7 205.2,193.1 205.7,194.5 206.3,195.9 206.8,197.4 207.3,198.9 207.9,200.5 208.4,202.1 208.9,203.7 209.5,205.3 210.0,206.9 210.5,208.5 211.0,210.2 211.6,211.9 212.1,213.5 212.6,215.2 213.2,216.8 213.7,218.4 214.2,220.1 214.8,221.6 215.3,223.2 215.8,224.8 216.3,226.3 216.9,227.8 217.4,229.2 217.9,230.7 218.5,232.0 219.0,233.3 219.5,234.6 220.1,235.8 220.6,237.0 221.1,238.1 221.6,239.2 222.2,240.2 222.7,241.1 223.2,242.0 223.8,242.8 224.3,243.5 224.8,244.1 225.4,244.7 225.9,245.2 226.4,245.6 226.9,246.0 227.5,246.3 228.0,246.5 228.5,246.6 229.1,246.6 229.6,246.6 230.1,246.5 230.7,246.4 231.2,246.3 231.7,246.1 232.2,245.8 232.8,245.5 233.3,245.2 233.8,244.8 234.4,244.4 234.9,244.0 235.4,243.5 236.0,243.0 236.5,242.4 237.0,241.8 237.5,241.2 238.1,240.6 238.6,239.9 239.1,239.2 239.7,238.5 240.2,237.7 240.7,236.9 241.3,236.2 241.8,235.4 242.3,234.6 242.8,233.7 243.4,232.9 243.9,232.1 244.4,231.3 245.0,230.4 245.5,229.6 246.0,228.8 246.6,227.9 247.1,227.1 247.6,226.3 248.1,225.6 248.7,224.8 249.2,224.1 249.7,223.3 250.3,222.6 250.8,221.9 251.3,221.3 251.9,220.7 252.4,220.1 252.9,219.5 253.4,219.0 254.0,218.5 254.5,218.1 255.0,217.7 255.6,217.3 256.1,217.0 256.6,216.7 257.2,216.4 257.7,216.2 258.2,216.1 258.8,216.0 259.3,215.9 259.8,215.9 260.3,215.9 260.9,215.9 261.4,216.0 261.9,216.1 262.5,216.3 263.0,216.4 263.5,216.6 264.1,216.9 264.6,217.1 265.1,217.4 265.6,217.7 266.2,218.1 266.7,218.5 267.2,218.9 267.8,219.3 268.3,219.7 268.8,220.2 269.4,220.7 269.9,221.2 270.4,221.7 270.9,222.3 271.5,222.8 272.0,223.4 272.5,224.0 273.1,224.6 273.6,225.2 274.1,225.9 274.7,226.5 275.2,227.1 275.7,227.8 276.2,228.4 276.8,229.1 277.3,229.7 277.8,230.4 278.4,231.1 278.9,231.7 279.4,232.3 280.0,233.0 280.5,233.6 281.0,234.2 281.5,234.8 282.1,235.4 282.6,236.0 283.1,236.6 283.7,237.1 284.2,237.6 284.7,238.2 285.3,238.6 285.8,239.1 286.3,239.6 286.8,240.0 287.4,240.4 287.9,240.7 288.4,241.1 289.0,241.4 289.5,241.7 290.0,242.0 290.6,242.2 291.1,242.4 291.6,242.6 292.1,242.7 292.7,242.8 293.2,242.9 293.7,242.9 294.3,243.0 294.8,243.0 295.3,242.9 295.9,242.9 296.4,242.8 296.9,242.7 297.4,242.7 298.0,242.5 298.5,242.4 299.0,242.3 299.6,242.1 300.1,241.9 300.6,241.7 301.2,241.5 301.7,241.3 302.2,241.1 302.7,240.9 303.3,240.6 303.8,240.3 304.3,240.1 304.9,239.8 305.4,239.5 305.9,239.2 306.5,238.9 307.0,238.5 307.5,238.2 308.0,237.9 308.6,237.6 309.1,237.2 309.6,236.9 310.2,236.5 310.7,236.2 311.2,235.9 311.8,235.5 312.3,235.2 312.8,234.9 313.4,234.5 313.9,234.2 314.4,233.9 314.9,233.6 315.5,233.3 316.0,233.0 316.5,232.7 317.1,232.4 317.6,232.2 318.1,231.9 318.7,231.7 319.2,231.4 319.7,231.2 320.2,231.0 320.8,230.8 321.3,230.6 321.8,230.5 322.4,230.3 322.9,230.2 323.4,230.1 324.0,230.0 324.5,229.9 325.0,229.9 325.5,229.8 326.1,229.8 326.6,229.8 327.1,229.8 327.7,229.8 328.2,229.9 328.7,229.9 329.3,230.0 329.8,230.0 330.3,230.1 330.8,230.2 331.4,230.4 331.9,230.5 332.4,230.6 333.0,230.8 333.5,231.0 334.0,231.2 334.6,231.4 335.1,231.6 335.6,231.8 336.1,232.0 336.7,232.2 337.2,232.5 337.7,232.7 338.3,233.0 338.8,233.2 339.3,233.5 339.9,233.8 340.4,234.1 340.9,234.3 341.4,234.6 342.0,234.9 342.5,235.2 343.0,235.5 343.6,235.8 344.1,236.1 344.6,236.4 345.2,236.7 345.7,236.9 346.2,237.2 346.7,237.5 347.3,237.8 347.8,238.1 348.3,238.3 348.9,238.6 349.4,238.8 349.9,239.1 350.5,239.3 351.0,239.5 351.5,239.7 352.0,239.9 352.6,240.1 353.1,240.3 353.6,240.5 354.2,240.6 354.7,240.8 355.2,240.9 355.8,241.0 356.3,241.1 356.8,241.2 357.3,241.3 357.9,241.4 358.4,241.4 358.9,241.5 359.5,241.5 360.0,241.5 360.5,241.5 361.1,241.5 361.6,241.5 362.1,241.5 362.6,241.4 363.2,241.4 363.7,241.4 364.2,241.3 364.8,241.3 365.3,241.2 365.8,241.2 366.4,241.1 366.9,241.0 367.4,241.0 368.0,240.9 368.5,240.8 369.0,240.7 369.5,240.6 370.1,240.6 370.6,240.5 371.1,240.4 371.7,240.3 372.2,240.2 372.7,240.1 373.3,240.0 373.8,239.9 374.3,239.7 374.8,239.6 375.4,239.5 375.9,239.4 376.4,239.3 377.0,239.2 377.5,239.1 378.0,239.0 378.6,238.9 379.1,238.8 379.6,238.6 380.1,238.5 380.7,238.4 381.2,238.3 381.7,238.2 382.3,238.1 382.8,238.0 383.3,238.0 383.9,237.9 384.4,237.8 384.9,237.7 385.4,237.6 386.0,237.6 386.5,237.5 387.0,237.4 387.6,237.4 388.1,237.3 388.6,237.3 389.2,237.2 389.7,237.2 390.2,237.2 390.7,237.2 391.3,237.1 391.8,237.1 392.3,237.1 392.9,237.1 393.4,237.1 393.9,237.1 394.5,237.1 395.0,237.2 395.5,237.2 396.0,237.2 396.6,237.2 397.1,237.3 397.6,237.3 398.2,237.4 398.7,237.4 399.2,237.5 399.8,237.6 400.3,237.6 400.8,237.7 401.3,237.8 401.9,237.9 402.4,237.9 402.9,238.0 403.5,238.1 404.0,238.2 404.5,238.3 405.1,238.4 405.6,238.5 406.1,238.6 406.6,238.7 407.2,238.8 407.7,238.9 408.2,239.0 408.8,239.1 409.3,239.2 409.8,239.4 410.4,239.5 410.9,239.6 411.4,239.7 411.9,239.8 412.5,239.9 413.0,240.0 413.5,240.1 414.1,240.2 414.6,240.3 415.1,240.4 415.7,240.5 416.2,240.6 416.7,240.7 417.3,240.8 417.8,240.8 418.3,240.9 418.8,241.0 419.4,241.1 419.9,241.1 420.4,241.2 421.0,241.2 421.5,241.3 422.0,241.3 422.6,241.4 423.1,241.4 423.6,241.4 424.1,241.5 424.7,241.5 425.2,241.5 425.7,241.5 426.3,241.5 426.8,241.5 427.3,241.5 427.9,241.5 428.4,241.5 428.9,241.5 429.4,241.5 430.0,241.5 430.5,241.4 431.0,241.4 431.6,241.4 432.1,241.4 432.6,241.4 433.2,241.3 433.7,241.3 434.2,241.3 434.7,241.3 435.3,241.2 435.8,241.2 436.3,241.2 436.9,241.1 437.4,241.1 437.9,241.1 438.5,241.0 439.0,241.0 439.5,241.0 440.0,240.9 440.6,240.9 441.1,240.8 441.6,240.8 442.2,240.8 442.7,240.7 443.2,240.7 443.8,240.7 444.3,240.6 444.8,240.6 445.3,240.5 445.9,240.5 446.4,240.5 446.9,240.4 447.5,240.4 448.0,240.4 448.5,240.3 449.1,240.3 449.6,240.3 450.1,240.3 450.6,240.2 451.2,240.2 451.7,240.2 452.2,240.2 452.8,240.1 453.3,240.1 453.8,240.1 454.4,240.1 454.9,240.1 455.4,240.1 455.9,240.1 456.5,240.0 457.0,240.0 457.5,240.0 458.1,240.0 458.6,240.0 459.1,240.0 459.7,240.0 460.2,240.1 460.7,240.1 461.2,240.1 461.8,240.1 462.3,240.1 462.8,240.1 463.4,240.1 463.9,240.2 464.4,240.2 465.0,240.2 465.5,240.2 466.0,240.3 466.5,240.3 467.1,240.3 467.6,240.3 468.1,240.4 468.7,240.4 469.2,240.4 469.7,240.5 470.3,240.5 470.8,240.5 471.3,240.6 471.9,240.6 472.4,240.7 472.9,240.7 473.4,240.7 474.0,240.8 474.5,240.8 475.0,240.8 475.6,240.9 476.1,240.9 476.6,241.0 477.2,241.0 477.7,241.0 478.2,241.1 478.7,241.1 479.3,241.1 479.8,241.2 480.3,241.2 480.9,241.2 481.4,241.3 481.9,241.3 482.5,241.3 483.0,241.3 483.5,241.4 484.0,241.4 484.6,241.4 485.1,241.4 485.6,241.4 486.2,241.5 486.7,241.5 487.2,241.5 487.8,241.5 488.3,241.5 488.8,241.5 489.3,241.5 489.9,241.5 490.4,241.5 490.9,241.5 491.5,241.5 492.0,241.5 492.5,241.5 493.1,241.5 493.6,241.5 494.1,241.5 494.6,241.5 495.2,241.5 495.7,241.5 496.2,241.5 496.8,241.5 497.3,241.5 497.8,241.5 498.4,241.5 498.9,241.5 499.4,241.5 499.9,241.5 500.5,241.5 501.0,241.5 501.5,241.5 502.1,241.5 502.6,241.5 503.1,241.5 503.7,241.5 504.2,241.5 504.7,241.5 505.2,241.5 505.8,241.5 506.3,241.5 506.8,241.5 507.4,241.5 507.9,241.5 508.4,241.5 509.0,241.5 509.5,241.5 510.0,241.5 510.5,241.5 511.1,241.5 511.6,241.5 512.1,241.5 512.7,241.5 513.2,241.5 513.7,241.5 514.3,241.5 514.8,241.5 515.3,241.5 515.8,241.5 516.4,241.5 516.9,241.5 517.4,241.5 518.0,241.5 518.5,241.5 519.0,241.5 519.6,241.5 520.1,241.5 520.6,241.5 521.1,241.5 521.7,241.5 522.2,241.5 522.7,241.5 523.3,241.5 523.8,241.5 524.3,241.5 524.9,241.5 525.4,241.5 525.9,241.5 526.5,241.5 527.0,241.5 527.5,241.5 528.0,241.5 528.6,241.5 529.1,241.5 529.6,241.5 530.2,241.5 530.7,241.5 531.2,241.5 531.8,241.5 532.3,241.5 532.8,241.5 533.3,241.5 533.9,241.5 534.4,241.5 534.9,241.5 535.5,241.5 536.0,241.5 536.5,241.5 537.1,241.5 537.6,241.5 538.1,241.5 538.6,241.5 539.2,241.5 539.7,241.5 540.2,241.5 540.8,241.5 541.3,241.5 541.8,241.5 542.4,241.5 542.9,241.5 543.4,241.5 543.9,241.5 544.5,241.5 545.0,241.5 545.5,241.5 546.1,241.5 546.6,241.5 547.1,241.5 547.7,241.5 548.2,241.5 548.7,241.5 549.2,241.5 549.8,241.5 550.3,241.5 550.8,241.5 551.4,241.5 551.9,241.5 552.4,241.5 553.0,241.5 553.5,241.5 554.0,241.5 554.5,241.5 555.1,241.5 555.6,241.5 556.1,241.5 556.7,241.5 557.2,241.5 557.7,241.5 558.3,241.5 558.8,241.5 559.3,241.5 559.8,241.5 560.4,241.5 560.9,241.5 561.4,241.5 562.0,241.5 562.5,241.5 563.0,241.5 563.6,241.5 564.1,241.5 564.6,241.5 565.1,241.5 565.7,241.5 566.2,241.5 566.7,241.5 567.3,241.5 567.8,241.5 568.3,241.5 568.9,241.5 569.4,241.5 569.9,241.5 570.4,241.5 571.0,241.5 571.5,241.5 572.0,241.5 572.6,241.5 573.1,241.5 573.6,241.5 574.2,241.5 574.7,241.5 575.2,241.5 575.8,241.5 576.3,241.5 576.8,241.5 577.3,241.5 577.9,241.5 578.4,241.5 578.9,241.5 579.5,241.5 580.0,241.5 580.5,241.5 581.1,241.5 581.6,241.5 582.1,241.5 582.6,241.5 583.2,241.5 583.7,241.5 584.2,241.5 584.8,241.5 585.3,241.5 585.8,241.5 586.4,241.5 586.9,241.5 587.4,241.5 587.9,241.5 588.5,241.5 589.0,241.5 589.5,241.5 590.1,241.5 590.6,241.5 591.1,241.5 591.7,241.5 592.2,241.5 592.7,241.5 593.2,241.5 593.8,241.5 594.3,241.5 594.8,241.5 595.4,241.5 595.9,241.5 596.4,241.5 597.0,241.5 597.5,241.5 598.0,241.5 598.5,241.5 599.1,241.5 599.6,241.5 600.1,241.5 600.7,241.5 601.2,241.5 601.7,241.5 602.3,241.5 602.8,241.5 603.3,241.5 603.8,241.5 604.4,241.5 604.9,241.5 605.4,241.5 606.0,241.5 606.5,241.5 607.0,241.5 607.6,241.5 608.1,241.5 608.6,241.5 609.1,241.5 609.7,241.5 610.2,241.5 610.7,241.5 611.3,241.5 611.8,241.5 612.3,241.5 612.9,241.5 613.4,241.5 613.9,241.5 614.4,241.5 615.0,241.5 615.5,241.5 616.0,241.5 616.6,241.5 617.1,241.5 617.6,241.5 618.2,241.5 618.7,241.5 619.2,241.5 619.7,241.5 620.3,241.5 620.8,241.5 621.3,241.5 621.9,241.5 622.4,241.5 622.9,241.5 623.5,241.5 624.0,241.5 624.5,241.5 625.0,241.5 625.6,241.5 626.1,241.5 626.6,241.5 627.2,241.5 627.7,241.5" />
</g>
<g clip-path="url(#cpc)">
<polyline fill="none" stroke="#F0A8B0" stroke-width="2" stroke-linejoin="round" points="101.4,676.6 102.2,671.7 103.0,668.8 103.8,664.5 104.6,657.3 105.3,652.9 106.1,648.8 106.9,653.4 107.7,651.9 108.5,650.0 109.3,647.1 110.1,643.4 110.9,639.3 111.7,637.6 112.5,634.6 113.2,635.4 114.0,627.3 114.8,630.5 115.6,626.2 116.4,627.0 117.2,623.2 118.0,621.8 118.8,618.4 119.6,616.7 120.4,608.6 121.1,611.7 121.9,615.9 122.7,612.1 123.5,609.7 124.3,608.1 125.1,607.4 125.9,607.3 126.7,607.2 127.5,607.6 128.3,606.9 129.0,604.2 129.8,599.4 130.6,604.3 131.4,603.5 132.2,598.3 133.0,600.8 133.8,601.6 134.6,600.5 135.4,604.7 136.2,601.7 136.9,602.6 137.7,609.0 138.5,606.4 139.3,606.6 140.1,609.5 140.9,612.4 141.7,617.6 142.5,618.5 143.3,624.4 144.1,624.3 144.8,627.8 145.6,625.2 146.4,629.9 147.2,631.0 148.0,638.4 148.8,642.9 149.6,640.4 150.4,640.6 151.2,639.3 152.0,649.4 152.7,651.8 153.5,657.7 154.3,653.7 155.1,657.4 155.9,658.3 156.7,657.7 157.5,658.4 158.3,663.8 159.1,665.2 159.9,662.0 160.6,665.3 161.4,668.3 162.2,667.3 163.0,663.5 163.8,659.0 164.6,670.8 165.4,669.9 166.2,670.7 167.0,675.6 167.8,673.0 168.5,674.1 169.3,677.6 170.1,675.2 170.9,673.5 171.7,673.0 172.5,673.2 173.3,672.2 174.1,672.7 174.9,675.1 175.7,674.2 176.4,674.4 177.2,664.8 178.0,670.0 178.8,664.1 179.6,663.7 180.4,663.9 181.2,656.8 182.0,655.4 182.8,651.5 183.5,650.8 184.3,645.1 185.1,649.4 185.9,649.1 186.7,645.9 187.5,644.6 188.3,646.2 189.1,641.6 189.9,642.7 190.7,645.2 191.4,640.7 192.2,635.6 193.0,636.5 193.8,641.1 194.6,637.5 195.4,635.5 196.2,635.3 197.0,641.7 197.8,644.7 198.6,640.7 199.3,643.1 200.1,641.1 200.9,634.3 201.7,643.1 202.5,645.5 203.3,642.4 204.1,640.4 204.9,639.5 205.7,639.6 206.5,649.6 207.2,646.0 208.0,643.9 208.8,639.5 209.6,647.2 210.4,639.6 211.2,645.6 212.0,642.0 212.8,640.4 213.6,646.3 214.4,650.0 215.1,645.0 215.9,646.9 216.7,653.7 217.5,653.6 218.3,659.6 219.1,661.1 219.9,664.7 220.7,669.3 221.5,668.0 222.3,667.2 223.0,664.6 223.8,666.1 224.6,662.5 225.4,669.4 226.2,664.3 227.0,666.0 227.8,662.7 228.6,662.5 229.4,665.1 230.2,661.8 230.9,659.3 231.7,659.6 232.5,658.4 233.3,658.5 234.1,659.2 234.9,661.1 235.7,660.1 236.5,662.2 237.3,661.0 238.1,656.3 238.8,654.7 239.6,653.6 240.4,652.5 241.2,659.3 242.0,664.5 242.8,659.8 243.6,660.7 244.4,658.4 245.2,657.9 246.0,659.6 246.7,660.8 247.5,659.2 248.3,660.3 249.1,653.8 249.9,654.0 250.7,648.3 251.5,652.1 252.3,658.0 253.1,651.0 253.9,650.1 254.6,645.3 255.4,648.4 256.2,651.0 257.0,647.3 257.8,647.5 258.6,650.3 259.4,644.9 260.2,644.2 261.0,647.9 261.7,647.5 262.5,647.7 263.3,650.5 264.1,648.0 264.9,648.9 265.7,647.0 266.5,648.4 267.3,654.1 268.1,649.7 268.9,642.4 269.6,645.6 270.4,640.6 271.2,639.4 272.0,645.6 272.8,646.5 273.6,652.3 274.4,652.9 275.2,650.5 276.0,649.8 276.8,648.1 277.5,650.4 278.3,648.4 279.1,650.1 279.9,652.5 280.7,652.3 281.5,650.8 282.3,655.7 283.1,652.6 283.9,654.8 284.7,652.9 285.4,658.0 286.2,660.0 287.0,665.1 287.8,657.1 288.6,660.8 289.4,658.2 290.2,659.8 291.0,655.5 291.8,656.8 292.6,657.0 293.3,655.1 294.1,651.6 294.9,652.7 295.7,659.3 296.5,660.1 297.3,652.5 298.1,655.3 298.9,655.7 299.7,653.9 300.5,659.3 301.2,658.2 302.0,655.8 302.8,655.0 303.6,659.1 304.4,657.7 305.2,654.8 306.0,653.2 306.8,650.3 307.6,648.8 308.4,645.9 309.1,648.8 309.9,652.3 310.7,653.0 311.5,654.4 312.3,658.5 313.1,656.8 313.9,657.7 314.7,652.6 315.5,655.1 316.3,658.5 317.0,662.1 317.8,658.8 318.6,656.4 319.4,656.8 320.2,657.8 321.0,657.3 321.8,655.4 322.6,655.9 323.4,658.9 324.2,651.8 324.9,656.2 325.7,652.2 326.5,657.3 327.3,655.1 328.1,656.7 328.9,656.5 329.7,658.6 330.5,650.3 331.3,657.1 332.1,649.2 332.8,648.1 333.6,642.9 334.4,651.3 335.2,648.1 336.0,647.6 336.8,643.4 337.6,647.8 338.4,645.1 339.2,650.2 339.9,645.9 340.7,648.3 341.5,655.9 342.3,656.9 343.1,660.1 343.9,654.7 344.7,657.5 345.5,659.1 346.3,657.7 347.1,658.6 347.8,655.9 348.6,651.5 349.4,651.3 350.2,658.0 351.0,655.9 351.8,658.0 352.6,657.0 353.4,653.5 354.2,653.6 355.0,649.8 355.7,649.2 356.5,652.1 357.3,653.1 358.1,656.3 358.9,662.0 359.7,662.9 360.5,657.2 361.3,657.8 362.1,658.6 362.9,655.6 363.6,649.9 364.4,647.7 365.2,650.1 366.0,653.1 366.8,649.8 367.6,648.9 368.4,645.7 369.2,650.1 370.0,655.6 370.8,655.3 371.5,657.1 372.3,653.7 373.1,653.0 373.9,653.6 374.7,654.7 375.5,649.9 376.3,652.9 377.1,651.9 377.9,659.2 378.7,655.4 379.4,654.4 380.2,649.9 381.0,650.6 381.8,653.2 382.6,650.8 383.4,648.2 384.2,649.7 385.0,651.6 385.8,651.2 386.6,653.0 387.3,652.1 388.1,652.8 388.9,651.8 389.7,646.1 390.5,652.0 391.3,655.4 392.1,652.3 392.9,651.8 393.7,648.3 394.5,649.7 395.2,652.9 396.0,655.9 396.8,653.6 397.6,654.4 398.4,652.3 399.2,657.2 400.0,653.7 400.8,653.8 401.6,660.9 402.4,656.1 403.1,656.0 403.9,654.0 404.7,653.3 405.5,646.8 406.3,647.4 407.1,649.0 407.9,658.0 408.7,654.0 409.5,650.5 410.3,652.8 411.0,645.2 411.8,652.3 412.6,648.1 413.4,652.3 414.2,651.7 415.0,653.5 415.8,651.6 416.6,650.6 417.4,650.6 418.1,649.4 418.9,652.6 419.7,651.3 420.5,653.1 421.3,651.8 422.1,657.6 422.9,651.4 423.7,649.4 424.5,649.4 425.3,653.9 426.0,652.4 426.8,656.0 427.6,657.8 428.4,652.9 429.2,647.5 430.0,649.8 430.8,654.6 431.6,655.8 432.4,655.7 433.2,650.4 433.9,648.3 434.7,650.6 435.5,655.4 436.3,656.6 437.1,660.0 437.9,657.1 438.7,657.1 439.5,657.7 440.3,652.1 441.1,643.2 441.8,649.3 442.6,652.8 443.4,647.1 444.2,645.3 445.0,650.9 445.8,655.0 446.6,658.6 447.4,657.9 448.2,658.4 449.0,660.3 449.7,656.7 450.5,652.2 451.3,657.8 452.1,657.6 452.9,656.2 453.7,652.2 454.5,654.3 455.3,651.1 456.1,648.4 456.9,651.2 457.6,648.0 458.4,648.8 459.2,648.6 460.0,655.0 460.8,653.3 461.6,658.3 462.4,653.9 463.2,657.3 464.0,657.1 464.8,658.5 465.5,659.4 466.3,658.6 467.1,658.1 467.9,653.9 468.7,649.3 469.5,646.4 470.3,647.8 471.1,652.9 471.9,646.0 472.7,656.5 473.4,651.8 474.2,654.6 475.0,657.3 475.8,654.8 476.6,658.9 477.4,654.7 478.2,653.7 479.0,650.0 479.8,645.2 480.6,648.9 481.3,649.9 482.1,644.6 482.9,642.4 483.7,649.3 484.5,651.1 485.3,648.9 486.1,651.3 486.9,653.6 487.7,651.8 488.5,653.9 489.2,652.5 490.0,653.8 490.8,658.4 491.6,659.0 492.4,662.4 493.2,655.6 494.0,655.0 494.8,652.5 495.6,650.0 496.4,647.4 497.1,648.0 497.9,651.8 498.7,647.0 499.5,643.5 500.3,647.4 501.1,646.0 501.9,651.9 502.7,657.2 503.5,654.0 504.2,655.8 505.0,656.6 505.8,659.3 506.6,657.5 507.4,659.4 508.2,657.8 509.0,659.1 509.8,652.8 510.6,651.3 511.4,650.7 512.1,653.5 512.9,651.1 513.7,647.6 514.5,646.4 515.3,650.0 516.1,650.5 516.9,648.6 517.7,648.5 518.5,649.6 519.3,652.1 520.0,650.0 520.8,651.1 521.6,652.1 522.4,653.1 523.2,656.2 524.0,651.1 524.8,650.9 525.6,650.8 526.4,652.1 527.2,648.8 527.9,652.5 528.7,646.4 529.5,650.2 530.3,647.5 531.1,655.6 531.9,659.5 532.7,658.7 533.5,666.3 534.3,661.4 535.1,660.7 535.8,662.5 536.6,654.5 537.4,659.9 538.2,654.2 539.0,649.9 539.8,644.8 540.6,650.9 541.4,650.9 542.2,647.4 543.0,652.2 543.7,648.8 544.5,649.0 545.3,644.8 546.1,654.1 546.9,656.3 547.7,658.6 548.5,655.1 549.3,650.3 550.1,655.1 550.9,651.7 551.6,650.3 552.4,654.9 553.2,657.4 554.0,662.5 554.8,661.6 555.6,660.6 556.4,653.8 557.2,652.4 558.0,652.7 558.8,653.0 559.5,654.2 560.3,660.5 561.1,657.9 561.9,654.9 562.7,656.1 563.5,651.4 564.3,648.3 565.1,648.8 565.9,656.5 566.7,655.2 567.4,653.4 568.2,654.7 569.0,653.4 569.8,652.4 570.6,648.6 571.4,647.1 572.2,648.8 573.0,650.0 573.8,654.5 574.6,654.4 575.3,654.3 576.1,655.7 576.9,648.7 577.7,656.7 578.5,658.1 579.3,655.0 580.1,654.3 580.9,653.1 581.7,657.9 582.4,659.8 583.2,653.5 584.0,652.6 584.8,655.7 585.6,653.6 586.4,653.1 587.2,648.6 588.0,648.5 588.8,653.2 589.6,652.7 590.3,652.3 591.1,652.2 591.9,655.5 592.7,650.7 593.5,654.8 594.3,643.9 595.1,644.6 595.9,641.1 596.7,650.2 597.5,651.1 598.2,650.1 599.0,653.8 599.8,655.3 600.6,649.7 601.4,647.9 602.2,650.3 603.0,647.3 603.8,648.1 604.6,647.9 605.4,652.6 606.1,648.9 606.9,649.8 607.7,649.0 608.5,649.2 609.3,643.3 610.1,647.4 610.9,654.0 611.7,656.9 612.5,652.4 613.3,653.1 614.0,655.8 614.8,651.5 615.6,646.4 616.4,645.3 617.2,646.1 618.0,644.6 618.8,644.7 619.6,652.3 620.4,645.9 621.2,648.5 621.9,647.3 622.7,648.9 623.5,655.5 624.3,650.9 625.1,651.1 625.9,648.5 626.7,646.6 627.5,644.3" />
<polyline fill="none" stroke="#5C8EF2" stroke-width="2" stroke-linejoin="round" points="101.4,676.6 102.2,668.2 103.0,657.4 103.8,642.9 104.6,610.8 105.3,595.4 106.1,597.5 106.9,614.1 107.7,602.8 108.5,596.0 109.3,591.9 110.1,586.3 110.9,594.5 111.7,602.6 112.5,603.1 113.2,582.3 114.0,573.8 114.8,568.4 115.6,572.3 116.4,569.5 117.2,574.5 118.0,570.4 118.8,569.6 119.6,574.5 120.4,562.4 121.1,553.1 121.9,561.0 122.7,554.3 123.5,536.9 124.3,549.2 125.1,551.0 125.9,539.6 126.7,557.8 127.5,570.4 128.3,552.7 129.0,539.3 129.8,533.7 130.6,541.8 131.4,527.4 132.2,522.5 133.0,502.0 133.8,515.8 134.6,511.7 135.4,500.2 136.2,494.7 136.9,511.0 137.7,521.2 138.5,555.3 139.3,532.4 140.1,546.4 140.9,549.5 141.7,557.1 142.5,555.7 143.3,562.4 144.1,561.7 144.8,555.0 145.6,541.4 146.4,547.4 147.2,550.0 148.0,563.9 148.8,565.0 149.6,579.7 150.4,582.1 151.2,599.1 152.0,616.7 152.7,619.9 153.5,621.4 154.3,618.4 155.1,607.7 155.9,630.6 156.7,654.3 157.5,641.1 158.3,655.0 159.1,631.0 159.9,632.3 160.6,630.8 161.4,643.9 162.2,662.7 163.0,669.0 163.8,655.3 164.6,664.1 165.4,668.8 166.2,667.0 167.0,660.1 167.8,656.3 168.5,663.8 169.3,642.3 170.1,650.7 170.9,651.4 171.7,665.1 172.5,650.0 173.3,663.8 174.1,642.8 174.9,641.4 175.7,649.1 176.4,653.0 177.2,644.9 178.0,627.7 178.8,644.3 179.6,645.6 180.4,640.0 181.2,633.1 182.0,647.2 182.8,643.2 183.5,625.2 184.3,621.4 185.1,636.4 185.9,622.9 186.7,625.1 187.5,624.8 188.3,629.1 189.1,600.9 189.9,607.6 190.7,600.0 191.4,604.1 192.2,603.8 193.0,589.0 193.8,579.7 194.6,596.5 195.4,595.4 196.2,594.1 197.0,587.0 197.8,583.4 198.6,591.1 199.3,589.8 200.1,588.6 200.9,587.1 201.7,597.1 202.5,590.7 203.3,598.8 204.1,596.8 204.9,600.7 205.7,599.6 206.5,598.3 207.2,605.5 208.0,605.1 208.8,602.9 209.6,606.3 210.4,603.8 211.2,616.0 212.0,604.3 212.8,605.9 213.6,627.0 214.4,623.1 215.1,636.7 215.9,628.5 216.7,633.5 217.5,631.9 218.3,645.8 219.1,640.2 219.9,646.9 220.7,649.8 221.5,653.6 222.3,654.3 223.0,643.6 223.8,649.5 224.6,653.4 225.4,650.0 226.2,664.8 227.0,660.4 227.8,674.1 228.6,676.0 229.4,663.8 230.2,666.5 230.9,668.7 231.7,664.8 232.5,669.8 233.3,673.4 234.1,663.4 234.9,666.6 235.7,642.8 236.5,637.4 237.3,646.1 238.1,638.0 238.8,650.7 239.6,667.0 240.4,657.3 241.2,661.4 242.0,658.6 242.8,653.5 243.6,649.7 244.4,659.0 245.2,658.2 246.0,646.0 246.7,640.6 247.5,640.8 248.3,648.6 249.1,650.8 249.9,639.5 250.7,645.4 251.5,635.8 252.3,631.2 253.1,641.2 253.9,651.7 254.6,625.2 255.4,626.8 256.2,616.9 257.0,621.0 257.8,608.6 258.6,610.1 259.4,629.4 260.2,632.0 261.0,609.8 261.7,598.5 262.5,604.3 263.3,624.4 264.1,621.1 264.9,617.5 265.7,616.9 266.5,618.6 267.3,618.2 268.1,623.1 268.9,611.9 269.6,617.2 270.4,629.3 271.2,629.0 272.0,607.9 272.8,619.3 273.6,595.8 274.4,609.4 275.2,614.7 276.0,612.1 276.8,615.9 277.5,619.4 278.3,619.0 279.1,618.1 279.9,607.2 280.7,606.2 281.5,610.9 282.3,635.8 283.1,638.9 283.9,634.7 284.7,643.1 285.4,633.5 286.2,631.1 287.0,622.9 287.8,642.1 288.6,644.1 289.4,628.8 290.2,647.6 291.0,659.0 291.8,657.2 292.6,642.1 293.3,648.2 294.1,637.3 294.9,643.7 295.7,638.2 296.5,642.2 297.3,644.0 298.1,654.4 298.9,630.9 299.7,644.7 300.5,629.7 301.2,638.3 302.0,636.2 302.8,619.4 303.6,607.2 304.4,608.5 305.2,609.6 306.0,617.2 306.8,611.2 307.6,616.4 308.4,611.8 309.1,609.5 309.9,623.7 310.7,649.3 311.5,647.2 312.3,640.7 313.1,619.8 313.9,619.3 314.7,622.7 315.5,632.7 316.3,636.8 317.0,643.6 317.8,641.8 318.6,635.8 319.4,630.2 320.2,629.6 321.0,632.3 321.8,639.1 322.6,632.1 323.4,628.9 324.2,633.9 324.9,627.5 325.7,616.3 326.5,631.1 327.3,630.1 328.1,620.1 328.9,618.0 329.7,608.0 330.5,601.1 331.3,614.0 332.1,613.3 332.8,624.8 333.6,615.5 334.4,614.7 335.2,599.7 336.0,600.8 336.8,610.3 337.6,625.9 338.4,628.7 339.2,642.3 339.9,631.4 340.7,639.6 341.5,646.1 342.3,624.6 343.1,621.7 343.9,621.8 344.7,598.5 345.5,606.6 346.3,610.9 347.1,612.8 347.8,626.1 348.6,632.9 349.4,623.5 350.2,611.4 351.0,616.6 351.8,621.6 352.6,617.0 353.4,621.0 354.2,638.6 355.0,630.3 355.7,617.9 356.5,627.8 357.3,622.4 358.1,629.0 358.9,633.2 359.7,620.8 360.5,652.7 361.3,640.1 362.1,630.4 362.9,618.0 363.6,625.1 364.4,616.8 365.2,615.8 366.0,623.6 366.8,623.5 367.6,636.0 368.4,636.1 369.2,641.4 370.0,628.1 370.8,643.7 371.5,637.0 372.3,626.1 373.1,617.2 373.9,614.3 374.7,628.3 375.5,621.2 376.3,622.5 377.1,624.4 377.9,629.1 378.7,609.7 379.4,589.9 380.2,625.0 381.0,620.3 381.8,635.0 382.6,623.0 383.4,618.2 384.2,622.5 385.0,629.6 385.8,632.5 386.6,610.2 387.3,603.5 388.1,620.2 388.9,636.0 389.7,635.4 390.5,645.1 391.3,648.4 392.1,646.7 392.9,631.4 393.7,626.8 394.5,624.7 395.2,633.3 396.0,634.9 396.8,622.3 397.6,624.2 398.4,606.3 399.2,626.6 400.0,622.0 400.8,623.7 401.6,631.0 402.4,642.5 403.1,620.1 403.9,618.9 404.7,631.7 405.5,619.3 406.3,641.1 407.1,623.4 407.9,620.4 408.7,629.5 409.5,630.6 410.3,661.5 411.0,642.6 411.8,642.5 412.6,631.0 413.4,629.6 414.2,632.3 415.0,639.1 415.8,641.3 416.6,638.2 417.4,635.5 418.1,630.6 418.9,629.9 419.7,621.7 420.5,631.0 421.3,610.8 422.1,619.7 422.9,634.1 423.7,634.5 424.5,630.5 425.3,635.5 426.0,619.0 426.8,643.4 427.6,630.5 428.4,639.1 429.2,633.2 430.0,623.2 430.8,647.9 431.6,650.6 432.4,652.2 433.2,663.4 433.9,662.8 434.7,652.1 435.5,645.3 436.3,651.8 437.1,648.9 437.9,625.7 438.7,629.6 439.5,646.1 440.3,644.5 441.1,641.0 441.8,645.7 442.6,639.0 443.4,640.7 444.2,631.1 445.0,631.4 445.8,638.5 446.6,654.7 447.4,665.4 448.2,644.9 449.0,648.4 449.7,651.7 450.5,648.9 451.3,651.4 452.1,628.5 452.9,646.1 453.7,643.7 454.5,664.7 455.3,651.7 456.1,658.8 456.9,656.6 457.6,673.1 458.4,655.7 459.2,656.1 460.0,669.1 460.8,675.2 461.6,670.3 462.4,670.7 463.2,653.4 464.0,640.6 464.8,633.9 465.5,638.1 466.3,642.8 467.1,642.7 467.9,659.1 468.7,653.3 469.5,664.1 470.3,655.1 471.1,661.6 471.9,652.4 472.7,642.2 473.4,665.0 474.2,661.3 475.0,664.8 475.8,654.5 476.6,658.0 477.4,661.7 478.2,625.5 479.0,641.6 479.8,637.3 480.6,642.4 481.3,638.3 482.1,648.0 482.9,640.1 483.7,648.9 484.5,656.4 485.3,646.5 486.1,657.3 486.9,639.5 487.7,638.5 488.5,623.5 489.2,632.7 490.0,616.5 490.8,633.6 491.6,634.9 492.4,636.7 493.2,627.0 494.0,637.0 494.8,641.7 495.6,642.7 496.4,662.2 497.1,645.7 497.9,633.7 498.7,643.0 499.5,637.4 500.3,636.9 501.1,646.1 501.9,646.6 502.7,623.1 503.5,616.8 504.2,618.6 505.0,609.0 505.8,613.4 506.6,625.6 507.4,637.8 508.2,617.0 509.0,627.0 509.8,628.5 510.6,634.1 511.4,642.5 512.1,641.2 512.9,619.4 513.7,623.3 514.5,621.4 515.3,609.4 516.1,618.1 516.9,630.0 517.7,626.6 518.5,648.3 519.3,622.6 520.0,629.3 520.8,618.9 521.6,637.0 522.4,638.2 523.2,639.1 524.0,642.7 524.8,649.1 525.6,648.0 526.4,646.0 527.2,639.6 527.9,635.7 528.7,618.4 529.5,640.3 530.3,644.2 531.1,643.7 531.9,619.7 532.7,610.9 533.5,610.0 534.3,614.0 535.1,625.6 535.8,604.0 536.6,612.5 537.4,619.6 538.2,643.0 539.0,620.8 539.8,611.2 540.6,618.2 541.4,635.1 542.2,645.4 543.0,647.0 543.7,640.3 544.5,634.0 545.3,626.7 546.1,634.5 546.9,626.8 547.7,624.8 548.5,636.8 549.3,639.5 550.1,650.3 550.9,650.1 551.6,642.6 552.4,635.7 553.2,640.0 554.0,652.1 554.8,638.7 555.6,644.1 556.4,661.0 557.2,643.5 558.0,650.8 558.8,656.2 559.5,662.1 560.3,656.5 561.1,649.3 561.9,651.3 562.7,644.5 563.5,653.9 564.3,642.6 565.1,647.4 565.9,666.4 566.7,674.9 567.4,676.8 568.2,682.5 569.0,681.2 569.8,678.7 570.6,658.2 571.4,656.1 572.2,653.8 573.0,664.3 573.8,656.1 574.6,654.0 575.3,663.8 576.1,653.5 576.9,665.1 577.7,669.1 578.5,645.4 579.3,634.0 580.1,637.8 580.9,632.2 581.7,639.5 582.4,640.7 583.2,636.4 584.0,639.9 584.8,645.5 585.6,654.7 586.4,640.8 587.2,638.1 588.0,642.1 588.8,649.6 589.6,649.6 590.3,634.8 591.1,640.5 591.9,646.3 592.7,644.6 593.5,635.0 594.3,659.5 595.1,650.5 595.9,643.9 596.7,651.5 597.5,656.4 598.2,644.3 599.0,662.6 599.8,645.1 600.6,650.0 601.4,658.4 602.2,644.9 603.0,650.6 603.8,651.8 604.6,654.4 605.4,649.0 606.1,662.1 606.9,646.0 607.7,657.4 608.5,647.9 609.3,639.0 610.1,631.1 610.9,622.5 611.7,621.7 612.5,627.0 613.3,629.7 614.0,637.8 614.8,641.2 615.6,631.4 616.4,636.6 617.2,625.5 618.0,640.7 618.8,636.3 619.6,643.5 620.4,651.5 621.2,669.2 621.9,660.9 622.7,643.8 623.5,634.4 624.3,617.8 625.1,634.3 625.9,639.8 626.7,648.5 627.5,648.1" />
<polyline fill="none" stroke="#44B848" stroke-width="2" stroke-linejoin="round" points="101.4,676.6 102.2,680.1 103.0,687.9 103.8,698.2 104.6,723.1 105.3,734.1 106.1,727.8 106.9,715.9 107.7,725.7 108.5,730.6 109.3,731.8 110.1,733.7 110.9,721.4 111.7,711.6 112.5,708.1 113.2,729.7 114.0,730.1 114.8,738.8 115.6,730.5 116.4,734.0 117.2,725.3 118.0,727.9 118.8,725.4 119.6,718.8 120.4,722.8 121.1,735.2 121.9,731.6 122.7,734.4 123.5,749.4 124.3,735.5 125.1,733.0 125.9,744.3 126.7,726.0 127.5,713.8 128.3,730.8 129.0,741.6 129.8,742.3 130.6,739.1 131.4,752.8 132.2,752.3 133.0,775.4 133.8,762.4 134.6,765.3 135.4,781.1 136.2,783.6 136.9,768.2 137.7,764.4 138.5,727.7 139.3,750.9 140.1,739.7 140.9,739.4 141.7,737.0 142.5,739.3 143.3,738.6 144.1,739.1 144.8,749.5 145.6,760.4 146.4,759.1 147.2,757.5 148.0,751.1 148.8,754.5 149.6,737.4 150.4,735.1 151.2,716.8 152.0,709.3 152.7,708.5 153.5,712.9 154.3,711.9 155.1,726.3 155.9,704.2 156.7,680.0 157.5,694.0 158.3,685.4 159.1,710.8 159.9,706.3 160.6,711.1 161.4,700.9 162.2,681.2 163.0,671.1 163.8,680.3 164.6,683.3 165.4,677.8 166.2,680.3 167.0,692.1 167.8,693.2 168.5,686.9 169.3,711.9 170.1,701.1 170.9,698.7 171.7,684.4 172.5,699.8 173.3,685.0 174.1,706.5 174.9,710.3 175.7,701.7 176.4,697.9 177.2,696.5 178.0,718.8 178.8,696.4 179.6,694.6 180.4,700.4 181.2,700.3 182.0,684.8 182.8,684.9 183.5,702.2 184.3,700.3 185.1,689.6 185.9,702.8 186.7,697.4 187.5,696.4 188.3,693.7 189.1,717.3 189.9,711.7 190.7,721.7 191.4,713.3 192.2,708.4 193.0,724.1 193.8,738.1 194.6,717.6 195.4,716.7 196.2,717.8 197.0,731.3 197.8,737.9 198.6,726.1 199.3,729.9 200.1,729.1 200.9,723.8 201.7,722.6 202.5,731.4 203.3,720.2 204.1,720.2 204.9,715.3 205.7,716.6 206.5,727.9 207.2,717.0 208.0,715.4 208.8,713.2 209.6,717.5 210.4,712.4 211.2,706.2 212.0,714.4 212.8,711.2 213.6,695.9 214.4,703.5 215.1,684.9 215.9,695.0 216.7,696.8 217.5,698.3 218.3,690.5 219.1,697.5 219.9,694.5 220.7,696.1 221.5,691.0 222.3,689.5 223.0,697.6 223.8,693.2 224.6,685.7 225.4,696.0 226.2,676.2 227.0,682.2 227.8,665.2 228.6,663.0 229.4,677.9 230.2,671.9 230.9,667.3 231.7,671.4 232.5,665.2 233.3,661.7 234.1,672.4 234.9,671.1 235.7,693.9 236.5,701.4 237.3,691.5 238.1,694.8 238.8,680.6 239.6,663.2 240.4,671.8 241.2,674.6 242.0,682.5 242.8,682.9 243.6,687.6 244.4,676.1 245.2,676.3 246.0,690.2 246.7,696.8 247.5,695.0 248.3,688.3 249.1,679.6 249.9,691.2 250.7,679.5 251.5,692.9 252.3,703.4 253.1,686.4 253.9,675.0 254.6,696.7 255.4,698.3 256.2,710.7 257.0,702.9 257.8,715.5 258.6,716.8 259.4,692.1 260.2,688.8 261.0,714.7 261.7,725.6 262.5,720.0 263.3,702.7 264.1,703.5 264.9,708.1 265.7,706.7 266.5,706.4 267.3,712.5 268.1,703.2 268.9,707.1 269.6,705.0 270.4,688.0 271.2,687.0 272.0,714.3 272.8,703.8 273.6,733.1 274.4,720.1 275.2,712.4 276.0,714.4 276.8,708.8 277.5,707.5 278.3,706.0 279.1,708.6 279.9,721.9 280.7,722.7 281.5,716.5 282.3,696.5 283.1,690.2 283.9,696.7 284.7,686.5 285.4,701.2 286.2,705.4 287.0,718.9 287.8,691.6 288.6,693.4 289.4,706.0 290.2,688.8 291.0,673.1 291.8,676.2 292.6,691.6 293.3,683.5 294.1,690.9 294.9,685.5 295.7,697.7 296.5,694.5 297.3,685.1 298.1,677.4 298.9,701.4 299.7,685.8 300.5,706.2 301.2,696.5 302.0,696.2 302.8,712.1 303.6,728.6 304.4,725.8 305.2,721.8 306.0,712.6 306.8,715.7 307.6,709.0 308.4,710.7 309.1,716.0 309.9,705.2 310.7,680.4 311.5,683.8 312.3,694.4 313.1,713.6 313.9,714.9 314.7,706.5 315.5,699.1 316.3,698.3 317.0,695.1 317.8,693.6 318.6,697.3 319.4,703.2 320.2,704.8 321.0,701.6 321.8,692.9 322.6,700.4 323.4,706.6 324.2,694.5 324.9,705.3 325.7,712.5 326.5,702.8 327.3,701.7 328.1,713.2 328.9,715.1 329.7,727.2 330.5,725.8 331.3,719.7 332.1,712.5 332.8,699.9 333.6,704.0 334.4,713.2 335.2,725.1 336.0,723.4 336.8,709.7 337.6,698.5 338.4,693.0 339.2,684.6 339.9,691.1 340.7,685.3 341.5,686.5 342.3,708.9 343.1,715.0 343.9,709.4 344.7,735.7 345.5,729.1 346.3,723.3 347.1,722.4 347.8,706.4 348.6,695.3 349.4,704.5 350.2,723.2 351.0,716.0 351.8,713.0 352.6,716.7 353.4,709.1 354.2,691.5 355.0,696.1 355.7,707.9 356.5,700.9 357.3,707.4 358.1,703.8 358.9,705.4 359.7,718.7 360.5,681.1 361.3,694.3 362.1,704.8 362.9,714.1 363.6,701.4 364.4,707.4 365.2,710.9 366.0,706.1 366.8,702.9 367.6,689.5 368.4,686.2 369.2,685.2 370.0,704.2 370.8,688.2 371.5,696.6 372.3,704.1 373.1,712.4 373.9,715.9 374.7,703.0 375.5,705.3 376.3,706.9 377.1,704.1 377.9,706.7 378.7,722.3 379.4,741.1 380.2,701.4 381.0,706.9 381.8,694.8 382.6,704.4 383.4,706.6 384.2,703.9 385.0,698.7 385.8,695.3 386.6,719.4 387.3,725.2 388.1,709.2 388.9,692.4 389.7,687.3 390.5,683.5 391.3,683.6 392.1,682.2 392.9,697.0 393.7,698.1 394.5,701.6 395.2,696.2 396.0,697.5 396.8,707.9 397.6,706.8 398.4,722.6 399.2,707.1 400.0,708.3 400.8,706.7 401.6,706.5 402.4,690.2 403.1,712.5 403.9,711.7 404.7,698.2 405.5,704.1 406.3,682.8 407.1,702.2 407.9,714.2 408.7,701.1 409.5,696.5 410.3,667.9 411.0,679.2 411.8,686.4 412.6,693.7 413.4,699.3 414.2,696.0 415.0,691.0 415.8,686.9 416.6,689.0 417.4,691.7 418.1,695.4 418.9,699.3 419.7,706.1 420.5,698.6 421.3,717.6 422.1,714.5 422.9,694.0 423.7,691.5 424.5,695.5 425.3,695.0 426.0,710.0 426.8,689.3 427.6,704.0 428.4,690.5 429.2,691.0 430.0,703.2 430.8,683.3 431.6,681.8 432.4,680.1 433.2,663.6 433.9,662.1 434.7,675.0 435.5,686.7 436.3,681.4 437.1,687.7 437.9,708.0 438.7,704.0 439.5,688.2 440.3,684.3 441.1,678.8 441.8,680.3 442.6,690.5 443.4,683.0 444.2,690.8 445.0,696.1 445.8,693.1 446.6,680.5 447.4,669.1 448.2,690.2 449.0,688.6 449.7,681.6 450.5,679.9 451.3,683.0 452.1,705.8 452.9,686.7 453.7,685.1 454.5,666.2 455.3,675.9 456.1,666.1 456.9,671.1 457.6,651.5 458.4,669.7 459.2,669.1 460.0,662.5 460.8,654.7 461.6,664.6 462.4,659.8 463.2,680.5 464.0,693.2 464.8,701.3 465.5,697.9 466.3,692.5 467.1,692.0 467.9,671.4 468.7,672.5 469.5,658.9 470.3,669.3 471.1,667.9 471.9,670.2 472.7,690.9 473.4,663.4 474.2,669.9 475.0,669.1 475.8,676.9 476.6,677.5 477.4,669.6 478.2,704.8 479.0,685.1 479.8,684.6 480.6,683.2 481.3,688.1 482.1,673.2 482.9,679.0 483.7,677.0 484.5,671.3 485.3,679.0 486.1,670.7 486.9,690.6 487.7,689.9 488.5,707.0 489.2,696.3 490.0,713.8 490.8,701.5 491.6,700.8 492.4,702.3 493.2,705.2 494.0,694.6 494.8,687.4 495.6,684.0 496.4,661.8 497.1,679.0 497.9,694.7 498.7,680.6 499.5,682.8 500.3,687.1 501.1,676.5 501.9,681.9 502.7,710.7 503.5,713.7 504.2,713.8 505.0,724.2 505.8,722.4 506.6,708.4 507.4,698.2 508.2,717.4 509.0,708.7 509.8,700.9 510.6,693.8 511.4,684.8 512.1,688.9 512.9,708.3 513.7,700.8 514.5,701.6 515.3,717.3 516.1,708.9 516.9,695.2 517.7,698.5 518.5,677.9 519.3,706.1 520.0,697.3 520.8,708.7 521.6,691.7 522.4,691.5 523.2,693.7 524.0,685.0 524.8,678.4 525.6,679.4 526.4,682.7 527.2,685.7 527.9,693.4 528.7,704.6 529.5,686.5 530.3,679.9 531.1,688.5 531.9,716.5 532.7,724.4 533.5,732.9 534.3,724.0 535.1,711.7 535.8,735.0 536.6,718.6 537.4,716.9 538.2,687.8 539.0,705.6 539.8,710.2 540.6,709.3 541.4,692.5 542.2,678.6 543.0,681.8 543.7,685.1 544.5,691.7 545.3,694.7 546.1,696.2 546.9,706.0 547.7,710.4 548.5,694.8 549.3,687.4 550.1,681.4 550.9,678.2 551.6,684.3 552.4,695.8 553.2,693.9 554.0,687.1 554.8,699.5 555.6,693.2 556.4,669.4 557.2,685.5 558.0,678.5 558.8,673.4 559.5,668.7 560.3,680.6 561.1,685.1 561.9,680.2 562.7,688.2 563.5,674.1 564.3,682.3 565.1,678.0 565.9,666.7 566.7,656.9 567.4,653.2 568.2,648.9 569.0,648.7 569.8,650.4 570.6,667.0 571.4,667.5 572.2,671.6 573.0,662.3 573.8,675.0 574.6,677.0 575.3,667.0 576.1,678.8 576.9,660.2 577.7,664.2 578.5,689.3 579.3,697.6 580.1,693.1 580.9,697.5 581.7,695.0 582.4,695.6 583.2,693.7 584.0,689.3 584.8,686.8 585.6,675.6 586.4,688.9 587.2,687.1 588.0,683.0 588.8,680.2 589.6,679.7 590.3,694.1 591.1,688.3 591.9,685.8 592.7,682.8 593.5,696.5 594.3,661.0 595.1,670.6 595.9,673.8 596.7,675.4 597.5,671.3 598.2,682.4 599.0,667.8 599.8,686.9 600.6,676.4 601.4,666.2 602.2,682.0 603.0,673.3 603.8,673.0 604.6,670.1 605.4,680.1 606.1,663.4 606.9,680.4 607.7,668.2 608.5,677.9 609.3,680.9 610.1,692.9 610.9,708.0 611.7,711.7 612.5,702.0 613.3,700.0 614.0,694.6 614.8,686.9 615.6,691.6 616.4,685.2 617.2,697.2 618.0,680.5 618.8,685.0 619.6,685.4 620.4,671.0 621.2,655.9 621.9,663.0 622.7,681.7 623.5,697.7 624.3,709.7 625.1,693.4 625.9,685.3 626.7,674.7 627.5,672.8" />
<polyline fill="none" stroke="#B31610" stroke-width="4.5" stroke-linejoin="round" points="101.4,676.6 101.9,675.5 102.5,674.4 103.0,673.2 103.5,672.0 104.0,670.7 104.6,669.4 105.1,668.0 105.6,666.5 106.1,665.1 106.7,663.5 107.2,662.0 107.7,660.4 108.2,658.7 108.8,657.1 109.3,655.4 109.8,653.6 110.4,651.9 110.9,650.1 111.4,648.3 111.9,646.5 112.5,644.7 113.0,642.8 113.5,641.0 114.0,639.2 114.6,637.3 115.1,635.5 115.6,633.7 116.1,631.9 116.7,630.1 117.2,628.3 117.7,626.6 118.3,624.8 118.8,623.1 119.3,621.5 119.8,619.9 120.4,618.3 120.9,616.8 121.4,615.3 121.9,613.8 122.5,612.5 123.0,611.1 123.5,609.9 124.0,608.7 124.6,607.5 125.1,606.5 125.6,605.5 126.2,604.5 126.7,603.7 127.2,602.9 127.7,602.2 128.3,601.6 128.8,601.0 129.3,600.6 129.8,600.2 130.4,599.9 130.9,599.7 131.4,599.6 131.9,599.5 132.5,599.6 133.0,599.7 133.5,599.9 134.0,600.2 134.6,600.5 135.1,601.0 135.6,601.5 136.2,602.1 136.7,602.7 137.2,603.5 137.7,604.3 138.3,605.2 138.8,606.1 139.3,607.1 139.8,608.2 140.4,609.3 140.9,610.5 141.4,611.8 141.9,613.1 142.5,614.4 143.0,615.8 143.5,617.3 144.1,618.8 144.6,620.3 145.1,621.8 145.6,623.4 146.2,625.0 146.7,626.6 147.2,628.2 147.7,629.9 148.3,631.6 148.8,633.2 149.3,634.9 149.8,636.6 150.4,638.2 150.9,639.9 151.4,641.5 152.0,643.1 152.5,644.7 153.0,646.3 153.5,647.9 154.1,649.4 154.6,650.9 155.1,652.3 155.6,653.7 156.2,655.0 156.7,656.3 157.2,657.6 157.7,658.8 158.3,659.9 158.8,661.0 159.3,662.0 159.9,663.0 160.4,663.8 160.9,664.7 161.4,665.4 162.0,666.1 162.5,666.7 163.0,667.2 163.5,667.6 164.1,668.0 164.6,668.2 165.1,668.4 165.6,668.6 166.2,668.6 166.7,668.6 167.2,668.5 167.8,668.4 168.3,668.2 168.8,668.0 169.3,667.7 169.9,667.4 170.4,667.1 170.9,666.7 171.4,666.2 172.0,665.8 172.5,665.2 173.0,664.7 173.5,664.1 174.1,663.4 174.6,662.8 175.1,662.1 175.7,661.3 176.2,660.6 176.7,659.8 177.2,659.0 177.8,658.2 178.3,657.3 178.8,656.4 179.3,655.5 179.9,654.6 180.4,653.7 180.9,652.8 181.4,651.9 182.0,651.0 182.5,650.1 183.0,649.1 183.5,648.2 184.1,647.3 184.6,646.4 185.1,645.5 185.7,644.7 186.2,643.8 186.7,643.0 187.2,642.2 187.8,641.4 188.3,640.6 188.8,639.9 189.3,639.2 189.9,638.5 190.4,637.9 190.9,637.3 191.4,636.7 192.0,636.2 192.5,635.7 193.0,635.3 193.6,634.9 194.1,634.5 194.6,634.2 195.1,634.0 195.7,633.7 196.2,633.6 196.7,633.5 197.2,633.4 197.8,633.4 198.3,633.4 198.8,633.4 199.3,633.5 199.9,633.6 200.4,633.8 200.9,634.0 201.5,634.2 202.0,634.5 202.5,634.8 203.0,635.1 203.6,635.5 204.1,635.8 204.6,636.3 205.1,636.7 205.7,637.2 206.2,637.7 206.7,638.2 207.2,638.7 207.8,639.3 208.3,639.9 208.8,640.5 209.4,641.1 209.9,641.7 210.4,642.4 210.9,643.0 211.5,643.7 212.0,644.4 212.5,645.0 213.0,645.7 213.6,646.4 214.1,647.1 214.6,647.8 215.1,648.5 215.7,649.2 216.2,649.8 216.7,650.5 217.3,651.2 217.8,651.8 218.3,652.4 218.8,653.1 219.4,653.7 219.9,654.2 220.4,654.8 220.9,655.3 221.5,655.9 222.0,656.3 222.5,656.8 223.0,657.3 223.6,657.7 224.1,658.1 224.6,658.4 225.2,658.7 225.7,659.0 226.2,659.3 226.7,659.5 227.3,659.7 227.8,659.9 228.3,660.0 228.8,660.1 229.4,660.1 229.9,660.1 230.4,660.1 230.9,660.1 231.5,660.1 232.0,660.0 232.5,659.9 233.1,659.8 233.6,659.7 234.1,659.6 234.6,659.4 235.2,659.2 235.7,659.0 236.2,658.8 236.7,658.6 237.3,658.4 237.8,658.1 238.3,657.9 238.8,657.6 239.4,657.3 239.9,657.0 240.4,656.7 240.9,656.4 241.5,656.1 242.0,655.7 242.5,655.4 243.1,655.0 243.6,654.7 244.1,654.3 244.6,654.0 245.2,653.6 245.7,653.2 246.2,652.9 246.7,652.5 247.3,652.1 247.8,651.8 248.3,651.4 248.8,651.0 249.4,650.7 249.9,650.3 250.4,650.0 251.0,649.7 251.5,649.3 252.0,649.0 252.5,648.7 253.1,648.4 253.6,648.1 254.1,647.8 254.6,647.6 255.2,647.3 255.7,647.1 256.2,646.9 256.7,646.7 257.3,646.5 257.8,646.3 258.3,646.2 258.9,646.0 259.4,645.9 259.9,645.8 260.4,645.7 261.0,645.7 261.5,645.6 262.0,645.6 262.5,645.6 263.1,645.6 263.6,645.6 264.1,645.6 264.6,645.7 265.2,645.7 265.7,645.8 266.2,645.9 266.8,646.0 267.3,646.1 267.8,646.2 268.3,646.3 268.9,646.5 269.4,646.6 269.9,646.8 270.4,646.9 271.0,647.1 271.5,647.3 272.0,647.5 272.5,647.7 273.1,647.9 273.6,648.1 274.1,648.3 274.7,648.6 275.2,648.8 275.7,649.0 276.2,649.3 276.8,649.5 277.3,649.8 277.8,650.0 278.3,650.3 278.9,650.5 279.4,650.8 279.9,651.0 280.4,651.3 281.0,651.5 281.5,651.8 282.0,652.0 282.6,652.2 283.1,652.5 283.6,652.7 284.1,652.9 284.7,653.1 285.2,653.3 285.7,653.5 286.2,653.7 286.8,653.9 287.3,654.1 287.8,654.3 288.3,654.4 288.9,654.6 289.4,654.7 289.9,654.8 290.4,654.9 291.0,655.1 291.5,655.1 292.0,655.2 292.6,655.3 293.1,655.3 293.6,655.4 294.1,655.4 294.7,655.4 295.2,655.5 295.7,655.4 296.2,655.4 296.8,655.4 297.3,655.4 297.8,655.4 298.3,655.3 298.9,655.3 299.4,655.2 299.9,655.1 300.5,655.1 301.0,655.0 301.5,654.9 302.0,654.8 302.6,654.7 303.1,654.6 303.6,654.5 304.1,654.4 304.7,654.3 305.2,654.1 305.7,654.0 306.2,653.9 306.8,653.7 307.3,653.6 307.8,653.5 308.4,653.3 308.9,653.2 309.4,653.0 309.9,652.9 310.5,652.7 311.0,652.5 311.5,652.4 312.0,652.2 312.6,652.1 313.1,651.9 313.6,651.8 314.1,651.6 314.7,651.5 315.2,651.3 315.7,651.2 316.3,651.0 316.8,650.9 317.3,650.8 317.8,650.6 318.4,650.5 318.9,650.4 319.4,650.3 319.9,650.2 320.5,650.1 321.0,650.0 321.5,649.9 322.0,649.8 322.6,649.7 323.1,649.7 323.6,649.6 324.2,649.5 324.7,649.5 325.2,649.4 325.7,649.4 326.3,649.4 326.8,649.4 327.3,649.3 327.8,649.3 328.4,649.3 328.9,649.4 329.4,649.4 329.9,649.4 330.5,649.4 331.0,649.4 331.5,649.5 332.1,649.5 332.6,649.6 333.1,649.6 333.6,649.7 334.2,649.7 334.7,649.8 335.2,649.9 335.7,649.9 336.3,650.0 336.8,650.1 337.3,650.2 337.8,650.2 338.4,650.3 338.9,650.4 339.4,650.5 339.9,650.6 340.5,650.7 341.0,650.8 341.5,650.9 342.1,651.0 342.6,651.1 343.1,651.2 343.6,651.3 344.2,651.5 344.7,651.6 345.2,651.7 345.7,651.8 346.3,651.9 346.8,652.0 347.3,652.1 347.8,652.2 348.4,652.3 348.9,652.4 349.4,652.5 350.0,652.6 350.5,652.7 351.0,652.7 351.5,652.8 352.1,652.9 352.6,653.0 353.1,653.1 353.6,653.1 354.2,653.2 354.7,653.2 355.2,653.3 355.7,653.4 356.3,653.4 356.8,653.4 357.3,653.5 357.9,653.5 358.4,653.5 358.9,653.5 359.4,653.6 360.0,653.6 360.5,653.6 361.0,653.6 361.5,653.6 362.1,653.6 362.6,653.5 363.1,653.5 363.6,653.5 364.2,653.5 364.7,653.5 365.2,653.4 365.8,653.4 366.3,653.4 366.8,653.3 367.3,653.3 367.9,653.2 368.4,653.2 368.9,653.1 369.4,653.1 370.0,653.0 370.5,653.0 371.0,652.9 371.5,652.9 372.1,652.8 372.6,652.7 373.1,652.7 373.7,652.6 374.2,652.5 374.7,652.5 375.2,652.4 375.8,652.3 376.3,652.3 376.8,652.2 377.3,652.1 377.9,652.1 378.4,652.0 378.9,651.9 379.4,651.8 380.0,651.8 380.5,651.7 381.0,651.6 381.6,651.6 382.1,651.5 382.6,651.5 383.1,651.4 383.7,651.3 384.2,651.3 384.7,651.2 385.2,651.2 385.8,651.1 386.3,651.1 386.8,651.0 387.3,651.0 387.9,651.0 388.4,650.9 388.9,650.9 389.5,650.9 390.0,650.8 390.5,650.8 391.0,650.8 391.6,650.8 392.1,650.8 392.6,650.8 393.1,650.8 393.7,650.8 394.2,650.8 394.7,650.8 395.2,650.8 395.8,650.8 396.3,650.8 396.8,650.8 397.3,650.8 397.9,650.8 398.4,650.8 398.9,650.9 399.5,650.9 400.0,650.9 400.5,650.9 401.0,651.0 401.6,651.0 402.1,651.0 402.6,651.1 403.1,651.1 403.7,651.2 404.2,651.2 404.7,651.2 405.2,651.3 405.8,651.3 406.3,651.4 406.8,651.4 407.4,651.5 407.9,651.5 408.4,651.5 408.9,651.6 409.5,651.6 410.0,651.7 410.5,651.7 411.0,651.8 411.6,651.8 412.1,651.9 412.6,651.9 413.1,652.0 413.7,652.0 414.2,652.1 414.7,652.1 415.3,652.1 415.8,652.2 416.3,652.2 416.8,652.3 417.4,652.3 417.9,652.3 418.4,652.4 418.9,652.4 419.5,652.4 420.0,652.5 420.5,652.5 421.0,652.5 421.6,652.5 422.1,652.6 422.6,652.6 423.2,652.6 423.7,652.6 424.2,652.6 424.7,652.6 425.3,652.6 425.8,652.6 426.3,652.6 426.8,652.6 427.4,652.6 427.9,652.6 428.4,652.6 428.9,652.6 429.5,652.6 430.0,652.6 430.5,652.6 431.1,652.6 431.6,652.6 432.1,652.6 432.6,652.5 433.2,652.5 433.7,652.5 434.2,652.5 434.7,652.5 435.3,652.5 435.8,652.5 436.3,652.4 436.8,652.4 437.4,652.4 437.9,652.4 438.4,652.4 439.0,652.3 439.5,652.3 440.0,652.3 440.5,652.3 441.1,652.2 441.6,652.2 442.1,652.2 442.6,652.2 443.2,652.1 443.7,652.1 444.2,652.1 444.7,652.1 445.3,652.1 445.8,652.0 446.3,652.0 446.8,652.0 447.4,652.0 447.9,651.9 448.4,651.9 449.0,651.9 449.5,651.9 450.0,651.9 450.5,651.8 451.1,651.8 451.6,651.8 452.1,651.8 452.6,651.8 453.2,651.8 453.7,651.8 454.2,651.7 454.7,651.7 455.3,651.7 455.8,651.7 456.3,651.7 456.9,651.7 457.4,651.7 457.9,651.7 458.4,651.7 459.0,651.7 459.5,651.7 460.0,651.7 460.5,651.7 461.1,651.7 461.6,651.7 462.1,651.7 462.6,651.7 463.2,651.7 463.7,651.7 464.2,651.7 464.8,651.7 465.3,651.7 465.8,651.7 466.3,651.7 466.9,651.8 467.4,651.8 467.9,651.8 468.4,651.8 469.0,651.8 469.5,651.8 470.0,651.8 470.5,651.8 471.1,651.8 471.6,651.8 472.1,651.9 472.7,651.9 473.2,651.9 473.7,651.9 474.2,651.9 474.8,651.9 475.3,651.9 475.8,651.9 476.3,651.9 476.9,652.0 477.4,652.0 477.9,652.0 478.4,652.0 479.0,652.0 479.5,652.0 480.0,652.0 480.6,652.0 481.1,652.1 481.6,652.1 482.1,652.1 482.7,652.1 483.2,652.1 483.7,652.1 484.2,652.1 484.8,652.1 485.3,652.1 485.8,652.1 486.3,652.1 486.9,652.1 487.4,652.1 487.9,652.1 488.5,652.2 489.0,652.2 489.5,652.2 490.0,652.2 490.6,652.2 491.1,652.2 491.6,652.2 492.1,652.2 492.7,652.2 493.2,652.2 493.7,652.2 494.2,652.2 494.8,652.2 495.3,652.2 495.8,652.2 496.4,652.2 496.9,652.2 497.4,652.2 497.9,652.2 498.5,652.2 499.0,652.2 499.5,652.2 500.0,652.2 500.6,652.2 501.1,652.2 501.6,652.2 502.1,652.2 502.7,652.2 503.2,652.2 503.7,652.2 504.2,652.2 504.8,652.2 505.3,652.2 505.8,652.2 506.4,652.2 506.9,652.2 507.4,652.2 507.9,652.2 508.5,652.2 509.0,652.2 509.5,652.2 510.0,652.2 510.6,652.2 511.1,652.2 511.6,652.2 512.1,652.2 512.7,652.2 513.2,652.2 513.7,652.2 514.3,652.2 514.8,652.2 515.3,652.2 515.8,652.2 516.4,652.2 516.9,652.2 517.4,652.2 517.9,652.2 518.5,652.2 519.0,652.2 519.5,652.2 520.0,652.2 520.6,652.2 521.1,652.2 521.6,652.2 522.2,652.2 522.7,652.2 523.2,652.2 523.7,652.2 524.3,652.2 524.8,652.2 525.3,652.2 525.8,652.2 526.4,652.2 526.9,652.2 527.4,652.2 527.9,652.2 528.5,652.2 529.0,652.2 529.5,652.2 530.1,652.2 530.6,652.2 531.1,652.2 531.6,652.2 532.2,652.2 532.7,652.2 533.2,652.2 533.7,652.2 534.3,652.2 534.8,652.2 535.3,652.2 535.8,652.2 536.4,652.2 536.9,652.2 537.4,652.2 538.0,652.2 538.5,652.2 539.0,652.2 539.5,652.2 540.1,652.2 540.6,652.2 541.1,652.2 541.6,652.2 542.2,652.2 542.7,652.2 543.2,652.2 543.7,652.2 544.3,652.2 544.8,652.2 545.3,652.2 545.9,652.2 546.4,652.2 546.9,652.2 547.4,652.2 548.0,652.2 548.5,652.2 549.0,652.2 549.5,652.2 550.1,652.2 550.6,652.2 551.1,652.2 551.6,652.2 552.2,652.2 552.7,652.2 553.2,652.2 553.7,652.2 554.3,652.2 554.8,652.2 555.3,652.2 555.9,652.2 556.4,652.2 556.9,652.2 557.4,652.2 558.0,652.2 558.5,652.2 559.0,652.2 559.5,652.2 560.1,652.2 560.6,652.2 561.1,652.2 561.6,652.2 562.2,652.2 562.7,652.2 563.2,652.2 563.8,652.2 564.3,652.2 564.8,652.2 565.3,652.2 565.9,652.2 566.4,652.2 566.9,652.2 567.4,652.2 568.0,652.2 568.5,652.2 569.0,652.2 569.5,652.2 570.1,652.2 570.6,652.2 571.1,652.2 571.7,652.2 572.2,652.2 572.7,652.2 573.2,652.2 573.8,652.2 574.3,652.2 574.8,652.2 575.3,652.2 575.9,652.2 576.4,652.2 576.9,652.2 577.4,652.2 578.0,652.2 578.5,652.2 579.0,652.2 579.6,652.2 580.1,652.2 580.6,652.2 581.1,652.2 581.7,652.2 582.2,652.2 582.7,652.2 583.2,652.2 583.8,652.2 584.3,652.2 584.8,652.2 585.3,652.2 585.9,652.2 586.4,652.2 586.9,652.2 587.5,652.2 588.0,652.2 588.5,652.2 589.0,652.2 589.6,652.2 590.1,652.2 590.6,652.2 591.1,652.2 591.7,652.2 592.2,652.2 592.7,652.2 593.2,652.2 593.8,652.2 594.3,652.2 594.8,652.2 595.4,652.2 595.9,652.2 596.4,652.2 596.9,652.2 597.5,652.2 598.0,652.2 598.5,652.2 599.0,652.2 599.6,652.2 600.1,652.2 600.6,652.2 601.1,652.2 601.7,652.2 602.2,652.2 602.7,652.2 603.2,652.2 603.8,652.2 604.3,652.2 604.8,652.2 605.4,652.2 605.9,652.2 606.4,652.2 606.9,652.2 607.5,652.2 608.0,652.2 608.5,652.2 609.0,652.2 609.6,652.2 610.1,652.2 610.6,652.2 611.1,652.2 611.7,652.2 612.2,652.2 612.7,652.2 613.3,652.2 613.8,652.2 614.3,652.2 614.8,652.2 615.4,652.2 615.9,652.2 616.4,652.2 616.9,652.2 617.5,652.2 618.0,652.2 618.5,652.2 619.0,652.2 619.6,652.2 620.1,652.2 620.6,652.2 621.2,652.2 621.7,652.2 622.2,652.2 622.7,652.2 623.3,652.2 623.8,652.2 624.3,652.2 624.8,652.2 625.4,652.2 625.9,652.2 626.4,652.2 626.9,652.2 627.5,652.2 628.0,652.2" />
<polyline fill="none" stroke="#1707DD" stroke-width="4.5" stroke-linejoin="round" points="101.4,676.6 101.9,674.9 102.5,673.2 103.0,671.4 103.5,669.5 104.0,667.5 104.6,665.5 105.1,663.3 105.6,661.1 106.1,658.9 106.7,656.5 107.2,654.1 107.7,651.7 108.2,649.2 108.8,646.6 109.3,644.0 109.8,641.3 110.4,638.6 110.9,635.9 111.4,633.2 111.9,630.4 112.5,627.6 113.0,624.8 113.5,621.9 114.0,619.1 114.6,616.3 115.1,613.5 115.6,610.6 116.1,607.8 116.7,605.1 117.2,602.3 117.7,599.6 118.3,596.9 118.8,594.3 119.3,591.7 119.8,589.2 120.4,586.7 120.9,584.3 121.4,582.0 121.9,579.7 122.5,577.6 123.0,575.5 123.5,573.4 124.0,571.5 124.6,569.7 125.1,568.0 125.6,566.3 126.2,564.8 126.7,563.4 127.2,562.1 127.7,560.9 128.3,559.9 128.8,558.9 129.3,558.1 129.8,557.4 130.4,556.8 130.9,556.4 131.4,556.1 131.9,555.9 132.5,555.8 133.0,555.9 133.5,556.1 134.0,556.4 134.6,556.8 135.1,557.4 135.6,558.1 136.2,558.9 136.7,559.9 137.2,561.0 137.7,562.1 138.3,563.4 138.8,564.8 139.3,566.4 139.8,568.0 140.4,569.7 140.9,571.5 141.4,573.4 141.9,575.4 142.5,577.5 143.0,579.6 143.5,581.8 144.1,584.1 144.6,586.5 145.1,588.9 145.6,591.3 146.2,593.8 146.7,596.4 147.2,598.9 147.7,601.5 148.3,604.1 148.8,606.8 149.3,609.4 149.8,612.0 150.4,614.6 150.9,617.3 151.4,619.8 152.0,622.4 152.5,624.9 153.0,627.4 153.5,629.9 154.1,632.3 154.6,634.6 155.1,636.9 155.6,639.2 156.2,641.3 156.7,643.4 157.2,645.4 157.7,647.3 158.3,649.1 158.8,650.8 159.3,652.4 159.9,653.9 160.4,655.3 160.9,656.6 161.4,657.8 162.0,658.9 162.5,659.8 163.0,660.7 163.5,661.4 164.1,661.9 164.6,662.4 165.1,662.7 165.6,662.9 166.2,663.0 166.7,662.9 167.2,662.8 167.8,662.6 168.3,662.4 168.8,662.1 169.3,661.7 169.9,661.2 170.4,660.7 170.9,660.1 171.4,659.4 172.0,658.7 172.5,657.9 173.0,657.1 173.5,656.1 174.1,655.2 174.6,654.2 175.1,653.1 175.7,652.0 176.2,650.9 176.7,649.7 177.2,648.5 177.8,647.2 178.3,645.9 178.8,644.6 179.3,643.3 179.9,641.9 180.4,640.6 180.9,639.2 181.4,637.8 182.0,636.4 182.5,635.0 183.0,633.6 183.5,632.3 184.1,630.9 184.6,629.5 185.1,628.2 185.7,626.9 186.2,625.6 186.7,624.4 187.2,623.1 187.8,622.0 188.3,620.8 188.8,619.7 189.3,618.6 189.9,617.6 190.4,616.7 190.9,615.8 191.4,614.9 192.0,614.1 192.5,613.4 193.0,612.8 193.6,612.2 194.1,611.6 194.6,611.2 195.1,610.8 195.7,610.4 196.2,610.2 196.7,610.0 197.2,609.9 197.8,609.9 198.3,609.9 198.8,610.0 199.3,610.1 199.9,610.4 200.4,610.6 200.9,611.0 201.5,611.4 202.0,611.8 202.5,612.3 203.0,612.9 203.6,613.5 204.1,614.2 204.6,614.9 205.1,615.6 205.7,616.5 206.2,617.3 206.7,618.2 207.2,619.2 207.8,620.1 208.3,621.1 208.8,622.2 209.4,623.3 209.9,624.4 210.4,625.5 210.9,626.6 211.5,627.8 212.0,629.0 212.5,630.1 213.0,631.3 213.6,632.5 214.1,633.7 214.6,634.9 215.1,636.1 215.7,637.3 216.2,638.5 216.7,639.6 217.3,640.8 217.8,641.9 218.3,643.0 218.8,644.1 219.4,645.1 219.9,646.1 220.4,647.1 220.9,648.0 221.5,648.9 222.0,649.8 222.5,650.6 223.0,651.4 223.6,652.1 224.1,652.8 224.6,653.4 225.2,653.9 225.7,654.4 226.2,654.9 226.7,655.3 227.3,655.6 227.8,655.9 228.3,656.1 228.8,656.3 229.4,656.4 229.9,656.4 230.4,656.4 230.9,656.3 231.5,656.3 232.0,656.2 232.5,656.0 233.1,655.9 233.6,655.7 234.1,655.5 234.6,655.3 235.2,655.0 235.7,654.7 236.2,654.4 236.7,654.1 237.3,653.7 237.8,653.4 238.3,653.0 238.8,652.5 239.4,652.1 239.9,651.7 240.4,651.2 240.9,650.7 241.5,650.2 242.0,649.7 242.5,649.2 243.1,648.7 243.6,648.1 244.1,647.6 244.6,647.0 245.2,646.5 245.7,645.9 246.2,645.3 246.7,644.8 247.3,644.2 247.8,643.7 248.3,643.1 248.8,642.6 249.4,642.0 249.9,641.5 250.4,641.0 251.0,640.5 251.5,640.0 252.0,639.5 252.5,639.0 253.1,638.6 253.6,638.2 254.1,637.7 254.6,637.3 255.2,637.0 255.7,636.6 256.2,636.3 256.7,636.0 257.3,635.7 257.8,635.4 258.3,635.2 258.9,635.0 259.4,634.8 259.9,634.7 260.4,634.5 261.0,634.4 261.5,634.4 262.0,634.3 262.5,634.3 263.1,634.3 263.6,634.3 264.1,634.4 264.6,634.5 265.2,634.6 265.7,634.7 266.2,634.9 266.8,635.0 267.3,635.2 267.8,635.5 268.3,635.7 268.9,635.9 269.4,636.2 269.9,636.5 270.4,636.8 271.0,637.2 271.5,637.5 272.0,637.9 272.5,638.2 273.1,638.6 273.6,639.0 274.1,639.4 274.7,639.9 275.2,640.3 275.7,640.7 276.2,641.2 276.8,641.6 277.3,642.1 277.8,642.5 278.3,643.0 278.9,643.5 279.4,643.9 279.9,644.4 280.4,644.9 281.0,645.3 281.5,645.8 282.0,646.2 282.6,646.6 283.1,647.1 283.6,647.5 284.1,647.9 284.7,648.3 285.2,648.7 285.7,649.1 286.2,649.4 286.8,649.8 287.3,650.1 287.8,650.4 288.3,650.7 288.9,651.0 289.4,651.2 289.9,651.5 290.4,651.7 291.0,651.9 291.5,652.1 292.0,652.2 292.6,652.3 293.1,652.4 293.6,652.5 294.1,652.6 294.7,652.6 295.2,652.6 295.7,652.6 296.2,652.6 296.8,652.6 297.3,652.5 297.8,652.5 298.3,652.4 298.9,652.4 299.4,652.3 299.9,652.2 300.5,652.1 301.0,652.0 301.5,651.8 302.0,651.7 302.6,651.6 303.1,651.4 303.6,651.2 304.1,651.1 304.7,650.9 305.2,650.7 305.7,650.5 306.2,650.3 306.8,650.1 307.3,649.9 307.8,649.7 308.4,649.5 308.9,649.3 309.4,649.1 309.9,648.8 310.5,648.6 311.0,648.4 311.5,648.2 312.0,647.9 312.6,647.7 313.1,647.5 313.6,647.3 314.1,647.0 314.7,646.8 315.2,646.6 315.7,646.4 316.3,646.2 316.8,646.0 317.3,645.8 317.8,645.6 318.4,645.4 318.9,645.3 319.4,645.1 319.9,644.9 320.5,644.8 321.0,644.6 321.5,644.5 322.0,644.4 322.6,644.3 323.1,644.2 323.6,644.1 324.2,644.0 324.7,643.9 325.2,643.8 325.7,643.8 326.3,643.8 326.8,643.7 327.3,643.7 327.8,643.7 328.4,643.7 328.9,643.7 329.4,643.7 329.9,643.8 330.5,643.8 331.0,643.9 331.5,644.0 332.1,644.0 332.6,644.1 333.1,644.2 333.6,644.3 334.2,644.5 334.7,644.6 335.2,644.7 335.7,644.9 336.3,645.0 336.8,645.2 337.3,645.3 337.8,645.5 338.4,645.7 338.9,645.9 339.4,646.1 339.9,646.3 340.5,646.5 341.0,646.7 341.5,646.9 342.1,647.1 342.6,647.3 343.1,647.5 343.6,647.7 344.2,647.9 344.7,648.1 345.2,648.4 345.7,648.6 346.3,648.8 346.8,649.0 347.3,649.2 347.8,649.4 348.4,649.6 348.9,649.8 349.4,650.0 350.0,650.2 350.5,650.3 351.0,650.5 351.5,650.7 352.1,650.8 352.6,651.0 353.1,651.1 353.6,651.3 354.2,651.4 354.7,651.5 355.2,651.6 355.7,651.7 356.3,651.8 356.8,651.9 357.3,652.0 357.9,652.0 358.4,652.1 358.9,652.1 359.4,652.1 360.0,652.2 360.5,652.2 361.0,652.2 361.5,652.2 362.1,652.1 362.6,652.1 363.1,652.1 363.6,652.1 364.2,652.0 364.7,652.0 365.2,652.0 365.8,651.9 366.3,651.9 366.8,651.8 367.3,651.8 367.9,651.7 368.4,651.7 368.9,651.6 369.4,651.5 370.0,651.5 370.5,651.4 371.0,651.3 371.5,651.2 372.1,651.1 372.6,651.1 373.1,651.0 373.7,650.9 374.2,650.8 374.7,650.7 375.2,650.6 375.8,650.5 376.3,650.4 376.8,650.3 377.3,650.2 377.9,650.1 378.4,650.0 378.9,650.0 379.4,649.9 380.0,649.8 380.5,649.7 381.0,649.6 381.6,649.5 382.1,649.4 382.6,649.3 383.1,649.3 383.7,649.2 384.2,649.1 384.7,649.0 385.2,649.0 385.8,648.9 386.3,648.8 386.8,648.8 387.3,648.7 387.9,648.7 388.4,648.6 388.9,648.6 389.5,648.5 390.0,648.5 390.5,648.5 391.0,648.5 391.6,648.4 392.1,648.4 392.6,648.4 393.1,648.4 393.7,648.4 394.2,648.4 394.7,648.4 395.2,648.4 395.8,648.4 396.3,648.5 396.8,648.5 397.3,648.5 397.9,648.6 398.4,648.6 398.9,648.7 399.5,648.7 400.0,648.8 400.5,648.8 401.0,648.9 401.6,649.0 402.1,649.1 402.6,649.1 403.1,649.2 403.7,649.3 404.2,649.4 404.7,649.5 405.2,649.6 405.8,649.7 406.3,649.8 406.8,649.9 407.4,650.0 407.9,650.1 408.4,650.2 408.9,650.3 409.5,650.4 410.0,650.5 410.5,650.6 411.0,650.7 411.6,650.8 412.1,650.9 412.6,651.0 413.1,651.1 413.7,651.2 414.2,651.3 414.7,651.4 415.3,651.5 415.8,651.6 416.3,651.7 416.8,651.8 417.4,651.9 417.9,652.0 418.4,652.0 418.9,652.1 419.5,652.2 420.0,652.3 420.5,652.3 421.0,652.4 421.6,652.4 422.1,652.5 422.6,652.5 423.2,652.5 423.7,652.6 424.2,652.6 424.7,652.6 425.3,652.6 425.8,652.6 426.3,652.6 426.8,652.6 427.4,652.6 427.9,652.6 428.4,652.6 428.9,652.6 429.5,652.6 430.0,652.6 430.5,652.6 431.1,652.6 431.6,652.5 432.1,652.5 432.6,652.5 433.2,652.5 433.7,652.5 434.2,652.4 434.7,652.4 435.3,652.4 435.8,652.4 436.3,652.3 436.8,652.3 437.4,652.3 437.9,652.2 438.4,652.2 439.0,652.2 439.5,652.1 440.0,652.1 440.5,652.1 441.1,652.0 441.6,652.0 442.1,652.0 442.6,651.9 443.2,651.9 443.7,651.9 444.2,651.8 444.7,651.8 445.3,651.8 445.8,651.7 446.3,651.7 446.8,651.7 447.4,651.6 447.9,651.6 448.4,651.6 449.0,651.5 449.5,651.5 450.0,651.5 450.5,651.5 451.1,651.4 451.6,651.4 452.1,651.4 452.6,651.4 453.2,651.3 453.7,651.3 454.2,651.3 454.7,651.3 455.3,651.3 455.8,651.3 456.3,651.3 456.9,651.2 457.4,651.2 457.9,651.2 458.4,651.2 459.0,651.2 459.5,651.2 460.0,651.2 460.5,651.2 461.1,651.2 461.6,651.2 462.1,651.2 462.6,651.2 463.2,651.3 463.7,651.3 464.2,651.3 464.8,651.3 465.3,651.3 465.8,651.3 466.3,651.3 466.9,651.3 467.4,651.4 467.9,651.4 468.4,651.4 469.0,651.4 469.5,651.4 470.0,651.5 470.5,651.5 471.1,651.5 471.6,651.5 472.1,651.5 472.7,651.6 473.2,651.6 473.7,651.6 474.2,651.6 474.8,651.7 475.3,651.7 475.8,651.7 476.3,651.7 476.9,651.8 477.4,651.8 477.9,651.8 478.4,651.8 479.0,651.9 479.5,651.9 480.0,651.9 480.6,651.9 481.1,651.9 481.6,652.0 482.1,652.0 482.7,652.0 483.2,652.0 483.7,652.0 484.2,652.1 484.8,652.1 485.3,652.1 485.8,652.1 486.3,652.1 486.9,652.1 487.4,652.1 487.9,652.1 488.5,652.1 489.0,652.1 489.5,652.2 490.0,652.2 490.6,652.2 491.1,652.2 491.6,652.2 492.1,652.2 492.7,652.2 493.2,652.2 493.7,652.2 494.2,652.2 494.8,652.2 495.3,652.2 495.8,652.2 496.4,652.2 496.9,652.2 497.4,652.2 497.9,652.2 498.5,652.2 499.0,652.2 499.5,652.2 500.0,652.2 500.6,652.2 501.1,652.2 501.6,652.2 502.1,652.2 502.7,652.2 503.2,652.2 503.7,652.2 504.2,652.2 504.8,652.2 505.3,652.2 505.8,652.2 506.4,652.2 506.9,652.2 507.4,652.2 507.9,652.2 508.5,652.2 509.0,652.2 509.5,652.2 510.0,652.2 510.6,652.2 511.1,652.2 511.6,652.2 512.1,652.2 512.7,652.2 513.2,652.2 513.7,652.2 514.3,652.2 514.8,652.2 515.3,652.2 515.8,652.2 516.4,652.2 516.9,652.2 517.4,652.2 517.9,652.2 518.5,652.2 519.0,652.2 519.5,652.2 520.0,652.2 520.6,652.2 521.1,652.2 521.6,652.2 522.2,652.2 522.7,652.2 523.2,652.2 523.7,652.2 524.3,652.2 524.8,652.2 525.3,652.2 525.8,652.2 526.4,652.2 526.9,652.2 527.4,652.2 527.9,652.2 528.5,652.2 529.0,652.2 529.5,652.2 530.1,652.2 530.6,652.2 531.1,652.2 531.6,652.2 532.2,652.2 532.7,652.2 533.2,652.2 533.7,652.2 534.3,652.2 534.8,652.2 535.3,652.2 535.8,652.2 536.4,652.2 536.9,652.2 537.4,652.2 538.0,652.2 538.5,652.2 539.0,652.2 539.5,652.2 540.1,652.2 540.6,652.2 541.1,652.2 541.6,652.2 542.2,652.2 542.7,652.2 543.2,652.2 543.7,652.2 544.3,652.2 544.8,652.2 545.3,652.2 545.9,652.2 546.4,652.2 546.9,652.2 547.4,652.2 548.0,652.2 548.5,652.2 549.0,652.2 549.5,652.2 550.1,652.2 550.6,652.2 551.1,652.2 551.6,652.2 552.2,652.2 552.7,652.2 553.2,652.2 553.7,652.2 554.3,652.2 554.8,652.2 555.3,652.2 555.9,652.2 556.4,652.2 556.9,652.2 557.4,652.2 558.0,652.2 558.5,652.2 559.0,652.2 559.5,652.2 560.1,652.2 560.6,652.2 561.1,652.2 561.6,652.2 562.2,652.2 562.7,652.2 563.2,652.2 563.8,652.2 564.3,652.2 564.8,652.2 565.3,652.2 565.9,652.2 566.4,652.2 566.9,652.2 567.4,652.2 568.0,652.2 568.5,652.2 569.0,652.2 569.5,652.2 570.1,652.2 570.6,652.2 571.1,652.2 571.7,652.2 572.2,652.2 572.7,652.2 573.2,652.2 573.8,652.2 574.3,652.2 574.8,652.2 575.3,652.2 575.9,652.2 576.4,652.2 576.9,652.2 577.4,652.2 578.0,652.2 578.5,652.2 579.0,652.2 579.6,652.2 580.1,652.2 580.6,652.2 581.1,652.2 581.7,652.2 582.2,652.2 582.7,652.2 583.2,652.2 583.8,652.2 584.3,652.2 584.8,652.2 585.3,652.2 585.9,652.2 586.4,652.2 586.9,652.2 587.5,652.2 588.0,652.2 588.5,652.2 589.0,652.2 589.6,652.2 590.1,652.2 590.6,652.2 591.1,652.2 591.7,652.2 592.2,652.2 592.7,652.2 593.2,652.2 593.8,652.2 594.3,652.2 594.8,652.2 595.4,652.2 595.9,652.2 596.4,652.2 596.9,652.2 597.5,652.2 598.0,652.2 598.5,652.2 599.0,652.2 599.6,652.2 600.1,652.2 600.6,652.2 601.1,652.2 601.7,652.2 602.2,652.2 602.7,652.2 603.2,652.2 603.8,652.2 604.3,652.2 604.8,652.2 605.4,652.2 605.9,652.2 606.4,652.2 606.9,652.2 607.5,652.2 608.0,652.2 608.5,652.2 609.0,652.2 609.6,652.2 610.1,652.2 610.6,652.2 611.1,652.2 611.7,652.2 612.2,652.2 612.7,652.2 613.3,652.2 613.8,652.2 614.3,652.2 614.8,652.2 615.4,652.2 615.9,652.2 616.4,652.2 616.9,652.2 617.5,652.2 618.0,652.2 618.5,652.2 619.0,652.2 619.6,652.2 620.1,652.2 620.6,652.2 621.2,652.2 621.7,652.2 622.2,652.2 622.7,652.2 623.3,652.2 623.8,652.2 624.3,652.2 624.8,652.2 625.4,652.2 625.9,652.2 626.4,652.2 626.9,652.2 627.5,652.2 628.0,652.2" />
<polyline fill="none" stroke="#31BE24" stroke-width="4.5" stroke-linejoin="round" points="101.4,676.6 101.9,677.2 102.5,677.8 103.0,678.5 103.5,679.2 104.0,679.9 104.6,680.7 105.1,681.5 105.6,682.3 106.1,683.1 106.7,683.9 107.2,684.8 107.7,685.7 108.2,686.6 108.8,687.6 109.3,688.5 109.8,689.5 110.4,690.5 110.9,691.5 111.4,692.5 111.9,693.5 112.5,694.5 113.0,695.6 113.5,696.6 114.0,697.6 114.6,698.7 115.1,699.7 115.6,700.7 116.1,701.7 116.7,702.8 117.2,703.8 117.7,704.8 118.3,705.7 118.8,706.7 119.3,707.6 119.8,708.6 120.4,709.5 120.9,710.3 121.4,711.2 121.9,712.0 122.5,712.8 123.0,713.6 123.5,714.3 124.0,715.0 124.6,715.7 125.1,716.3 125.6,716.9 126.2,717.5 126.7,718.0 127.2,718.5 127.7,718.9 128.3,719.3 128.8,719.6 129.3,719.9 129.8,720.2 130.4,720.4 130.9,720.6 131.4,720.7 131.9,720.8 132.5,720.8 133.0,720.8 133.5,720.7 134.0,720.6 134.6,720.5 135.1,720.3 135.6,720.1 136.2,719.8 136.7,719.5 137.2,719.2 137.7,718.8 138.3,718.4 138.8,717.9 139.3,717.5 139.8,717.0 140.4,716.4 140.9,715.8 141.4,715.2 141.9,714.6 142.5,713.9 143.0,713.3 143.5,712.6 144.1,711.8 144.6,711.1 145.1,710.3 145.6,709.5 146.2,708.7 146.7,707.9 147.2,707.1 147.7,706.2 148.3,705.4 148.8,704.5 149.3,703.7 149.8,702.8 150.4,701.9 150.9,701.1 151.4,700.2 152.0,699.4 152.5,698.5 153.0,697.7 153.5,696.9 154.1,696.0 154.6,695.2 155.1,694.5 155.6,693.7 156.2,692.9 156.7,692.2 157.2,691.5 157.7,690.8 158.3,690.2 158.8,689.5 159.3,688.9 159.9,688.3 160.4,687.8 160.9,687.3 161.4,686.8 162.0,686.4 162.5,686.0 163.0,685.6 163.5,685.3 164.1,685.0 164.6,684.7 165.1,684.5 165.6,684.3 166.2,684.2 166.7,684.1 167.2,684.0 167.8,684.0 168.3,684.0 168.8,684.0 169.3,684.1 169.9,684.2 170.4,684.3 170.9,684.4 171.4,684.5 172.0,684.7 172.5,684.9 173.0,685.1 173.5,685.3 174.1,685.5 174.6,685.8 175.1,686.1 175.7,686.3 176.2,686.7 176.7,687.0 177.2,687.3 177.8,687.7 178.3,688.0 178.8,688.4 179.3,688.8 179.9,689.1 180.4,689.5 180.9,689.9 181.4,690.3 182.0,690.7 182.5,691.2 183.0,691.6 183.5,692.0 184.1,692.4 184.6,692.8 185.1,693.2 185.7,693.6 186.2,694.0 186.7,694.4 187.2,694.8 187.8,695.1 188.3,695.5 188.8,695.8 189.3,696.2 189.9,696.5 190.4,696.8 190.9,697.1 191.4,697.4 192.0,697.6 192.5,697.9 193.0,698.1 193.6,698.3 194.1,698.5 194.6,698.6 195.1,698.8 195.7,698.9 196.2,699.0 196.7,699.1 197.2,699.1 197.8,699.1 198.3,699.2 198.8,699.1 199.3,699.1 199.9,699.1 200.4,699.0 200.9,698.9 201.5,698.8 202.0,698.6 202.5,698.5 203.0,698.3 203.6,698.1 204.1,697.9 204.6,697.6 205.1,697.4 205.7,697.1 206.2,696.8 206.7,696.5 207.2,696.2 207.8,695.8 208.3,695.5 208.8,695.1 209.4,694.7 209.9,694.3 210.4,693.9 210.9,693.5 211.5,693.1 212.0,692.7 212.5,692.2 213.0,691.8 213.6,691.3 214.1,690.9 214.6,690.4 215.1,690.0 215.7,689.5 216.2,689.1 216.7,688.6 217.3,688.2 217.8,687.7 218.3,687.3 218.8,686.9 219.4,686.4 219.9,686.0 220.4,685.6 220.9,685.2 221.5,684.8 222.0,684.4 222.5,684.1 223.0,683.7 223.6,683.4 224.1,683.0 224.6,682.7 225.2,682.4 225.7,682.2 226.2,681.9 226.7,681.7 227.3,681.4 227.8,681.2 228.3,681.1 228.8,680.9 229.4,680.8 229.9,680.6 230.4,680.5 230.9,680.5 231.5,680.4 232.0,680.4 232.5,680.4 233.1,680.4 233.6,680.4 234.1,680.4 234.6,680.4 235.2,680.5 235.7,680.5 236.2,680.6 236.7,680.7 237.3,680.8 237.8,680.8 238.3,680.9 238.8,681.1 239.4,681.2 239.9,681.3 240.4,681.4 240.9,681.6 241.5,681.7 242.0,681.9 242.5,682.0 243.1,682.2 243.6,682.3 244.1,682.5 244.6,682.7 245.2,682.8 245.7,683.0 246.2,683.2 246.7,683.4 247.3,683.6 247.8,683.7 248.3,683.9 248.8,684.1 249.4,684.3 249.9,684.5 250.4,684.6 251.0,684.8 251.5,685.0 252.0,685.1 252.5,685.3 253.1,685.4 253.6,685.6 254.1,685.7 254.6,685.9 255.2,686.0 255.7,686.1 256.2,686.2 256.7,686.4 257.3,686.5 257.8,686.5 258.3,686.6 258.9,686.7 259.4,686.8 259.9,686.8 260.4,686.9 261.0,686.9 261.5,686.9 262.0,686.9 262.5,686.9 263.1,686.9 263.6,686.9 264.1,686.9 264.6,686.9 265.2,686.8 265.7,686.8 266.2,686.7 266.8,686.7 267.3,686.6 267.8,686.5 268.3,686.4 268.9,686.3 269.4,686.2 269.9,686.1 270.4,686.0 271.0,685.9 271.5,685.8 272.0,685.6 272.5,685.5 273.1,685.4 273.6,685.2 274.1,685.1 274.7,684.9 275.2,684.7 275.7,684.6 276.2,684.4 276.8,684.2 277.3,684.1 277.8,683.9 278.3,683.7 278.9,683.5 279.4,683.4 279.9,683.2 280.4,683.0 281.0,682.8 281.5,682.6 282.0,682.5 282.6,682.3 283.1,682.1 283.6,682.0 284.1,681.8 284.7,681.6 285.2,681.5 285.7,681.3 286.2,681.1 286.8,681.0 287.3,680.9 287.8,680.7 288.3,680.6 288.9,680.5 289.4,680.3 289.9,680.2 290.4,680.1 291.0,680.0 291.5,679.9 292.0,679.8 292.6,679.8 293.1,679.7 293.6,679.6 294.1,679.6 294.7,679.5 295.2,679.5 295.7,679.5 296.2,679.4 296.8,679.4 297.3,679.4 297.8,679.4 298.3,679.4 298.9,679.4 299.4,679.5 299.9,679.5 300.5,679.5 301.0,679.5 301.5,679.6 302.0,679.6 302.6,679.6 303.1,679.7 303.6,679.7 304.1,679.8 304.7,679.8 305.2,679.9 305.7,680.0 306.2,680.0 306.8,680.1 307.3,680.2 307.8,680.2 308.4,680.3 308.9,680.4 309.4,680.5 309.9,680.5 310.5,680.6 311.0,680.7 311.5,680.8 312.0,680.9 312.6,680.9 313.1,681.0 313.6,681.1 314.1,681.2 314.7,681.3 315.2,681.4 315.7,681.4 316.3,681.5 316.8,681.6 317.3,681.7 317.8,681.7 318.4,681.8 318.9,681.9 319.4,681.9 319.9,682.0 320.5,682.1 321.0,682.1 321.5,682.2 322.0,682.2 322.6,682.3 323.1,682.3 323.6,682.3 324.2,682.4 324.7,682.4 325.2,682.4 325.7,682.4 326.3,682.5 326.8,682.5 327.3,682.5 327.8,682.5 328.4,682.5 328.9,682.5 329.4,682.5 329.9,682.4 330.5,682.4 331.0,682.4 331.5,682.3 332.1,682.3 332.6,682.3 333.1,682.2 333.6,682.2 334.2,682.1 334.7,682.0 335.2,682.0 335.7,681.9 336.3,681.8 336.8,681.8 337.3,681.7 337.8,681.6 338.4,681.5 338.9,681.4 339.4,681.3 339.9,681.2 340.5,681.1 341.0,681.0 341.5,680.9 342.1,680.8 342.6,680.7 343.1,680.6 343.6,680.5 344.2,680.4 344.7,680.3 345.2,680.2 345.7,680.1 346.3,680.0 346.8,679.9 347.3,679.8 347.8,679.7 348.4,679.6 348.9,679.5 349.4,679.4 350.0,679.3 350.5,679.2 351.0,679.1 351.5,679.0 352.1,678.9 352.6,678.8 353.1,678.7 353.6,678.6 354.2,678.6 354.7,678.5 355.2,678.4 355.7,678.4 356.3,678.3 356.8,678.3 357.3,678.2 357.9,678.2 358.4,678.1 358.9,678.1 359.4,678.1 360.0,678.1 360.5,678.0 361.0,678.0 361.5,678.0 362.1,678.0 362.6,678.0 363.1,678.0 363.6,678.0 364.2,678.0 364.7,678.0 365.2,678.0 365.8,678.0 366.3,678.1 366.8,678.1 367.3,678.1 367.9,678.1 368.4,678.1 368.9,678.1 369.4,678.1 370.0,678.1 370.5,678.2 371.0,678.2 371.5,678.2 372.1,678.2 372.6,678.2 373.1,678.3 373.7,678.3 374.2,678.3 374.7,678.3 375.2,678.4 375.8,678.4 376.3,678.4 376.8,678.4 377.3,678.5 377.9,678.5 378.4,678.5 378.9,678.5 379.4,678.6 380.0,678.6 380.5,678.6 381.0,678.6 381.6,678.6 382.1,678.7 382.6,678.7 383.1,678.7 383.7,678.7 384.2,678.8 384.7,678.8 385.2,678.8 385.8,678.8 386.3,678.8 386.8,678.8 387.3,678.9 387.9,678.9 388.4,678.9 388.9,678.9 389.5,678.9 390.0,678.9 390.5,678.9 391.0,678.9 391.6,678.9 392.1,678.9 392.6,678.9 393.1,678.9 393.7,679.0 394.2,678.9 394.7,678.9 395.2,678.9 395.8,678.9 396.3,678.9 396.8,678.9 397.3,678.9 397.9,678.9 398.4,678.9 398.9,678.8 399.5,678.8 400.0,678.8 400.5,678.8 401.0,678.7 401.6,678.7 402.1,678.7 402.6,678.7 403.1,678.6 403.7,678.6 404.2,678.5 404.7,678.5 405.2,678.5 405.8,678.4 406.3,678.4 406.8,678.3 407.4,678.3 407.9,678.3 408.4,678.2 408.9,678.2 409.5,678.1 410.0,678.1 410.5,678.0 411.0,678.0 411.6,677.9 412.1,677.9 412.6,677.9 413.1,677.8 413.7,677.8 414.2,677.7 414.7,677.7 415.3,677.6 415.8,677.6 416.3,677.6 416.8,677.5 417.4,677.5 417.9,677.4 418.4,677.4 418.9,677.4 419.5,677.3 420.0,677.3 420.5,677.3 421.0,677.2 421.6,677.2 422.1,677.2 422.6,677.2 423.2,677.2 423.7,677.1 424.2,677.1 424.7,677.1 425.3,677.1 425.8,677.1 426.3,677.1 426.8,677.1 427.4,677.1 427.9,677.1 428.4,677.1 428.9,677.1 429.5,677.1 430.0,677.1 430.5,677.1 431.1,677.1 431.6,677.1 432.1,677.1 432.6,677.1 433.2,677.1 433.7,677.1 434.2,677.1 434.7,677.1 435.3,677.1 435.8,677.1 436.3,677.1 436.8,677.2 437.4,677.2 437.9,677.2 438.4,677.2 439.0,677.2 439.5,677.2 440.0,677.2 440.5,677.2 441.1,677.2 441.6,677.3 442.1,677.3 442.6,677.3 443.2,677.3 443.7,677.3 444.2,677.3 444.7,677.3 445.3,677.3 445.8,677.4 446.3,677.4 446.8,677.4 447.4,677.4 447.9,677.4 448.4,677.4 449.0,677.4 449.5,677.4 450.0,677.4 450.5,677.5 451.1,677.5 451.6,677.5 452.1,677.5 452.6,677.5 453.2,677.5 453.7,677.5 454.2,677.5 454.7,677.5 455.3,677.5 455.8,677.5 456.3,677.5 456.9,677.5 457.4,677.5 457.9,677.5 458.4,677.5 459.0,677.5 459.5,677.5 460.0,677.5 460.5,677.5 461.1,677.5 461.6,677.5 462.1,677.5 462.6,677.5 463.2,677.5 463.7,677.5 464.2,677.5 464.8,677.5 465.3,677.5 465.8,677.5 466.3,677.4 466.9,677.4 467.4,677.4 467.9,677.4 468.4,677.4 469.0,677.3 469.5,677.3 470.0,677.3 470.5,677.3 471.1,677.3 471.6,677.2 472.1,677.2 472.7,677.2 473.2,677.2 473.7,677.1 474.2,677.1 474.8,677.1 475.3,677.1 475.8,677.0 476.3,677.0 476.9,677.0 477.4,677.0 477.9,676.9 478.4,676.9 479.0,676.9 479.5,676.9 480.0,676.9 480.6,676.8 481.1,676.8 481.6,676.8 482.1,676.8 482.7,676.8 483.2,676.7 483.7,676.7 484.2,676.7 484.8,676.7 485.3,676.7 485.8,676.7 486.3,676.7 486.9,676.6 487.4,676.6 487.9,676.6 488.5,676.6 489.0,676.6 489.5,676.6 490.0,676.6 490.6,676.6 491.1,676.6 491.6,676.6 492.1,676.6 492.7,676.6 493.2,676.6 493.7,676.6 494.2,676.6 494.8,676.6 495.3,676.6 495.8,676.6 496.4,676.6 496.9,676.6 497.4,676.6 497.9,676.6 498.5,676.6 499.0,676.6 499.5,676.6 500.0,676.6 500.6,676.6 501.1,676.6 501.6,676.6 502.1,676.6 502.7,676.6 503.2,676.6 503.7,676.6 504.2,676.6 504.8,676.6 505.3,676.6 505.8,676.6 506.4,676.6 506.9,676.6 507.4,676.6 507.9,676.6 508.5,676.6 509.0,676.6 509.5,676.6 510.0,676.6 510.6,676.6 511.1,676.6 511.6,676.6 512.1,676.6 512.7,676.6 513.2,676.6 513.7,676.6 514.3,676.6 514.8,676.6 515.3,676.6 515.8,676.6 516.4,676.6 516.9,676.6 517.4,676.6 517.9,676.6 518.5,676.6 519.0,676.6 519.5,676.6 520.0,676.6 520.6,676.6 521.1,676.6 521.6,676.6 522.2,676.6 522.7,676.6 523.2,676.6 523.7,676.6 524.3,676.6 524.8,676.6 525.3,676.6 525.8,676.6 526.4,676.6 526.9,676.6 527.4,676.6 527.9,676.6 528.5,676.6 529.0,676.6 529.5,676.6 530.1,676.6 530.6,676.6 531.1,676.6 531.6,676.6 532.2,676.6 532.7,676.6 533.2,676.6 533.7,676.6 534.3,676.6 534.8,676.6 535.3,676.6 535.8,676.6 536.4,676.6 536.9,676.6 537.4,676.6 538.0,676.6 538.5,676.6 539.0,676.6 539.5,676.6 540.1,676.6 540.6,676.6 541.1,676.6 541.6,676.6 542.2,676.6 542.7,676.6 543.2,676.6 543.7,676.6 544.3,676.6 544.8,676.6 545.3,676.6 545.9,676.6 546.4,676.6 546.9,676.6 547.4,676.6 548.0,676.6 548.5,676.6 549.0,676.6 549.5,676.6 550.1,676.6 550.6,676.6 551.1,676.6 551.6,676.6 552.2,676.6 552.7,676.6 553.2,676.6 553.7,676.6 554.3,676.6 554.8,676.6 555.3,676.6 555.9,676.6 556.4,676.6 556.9,676.6 557.4,676.6 558.0,676.6 558.5,676.6 559.0,676.6 559.5,676.6 560.1,676.6 560.6,676.6 561.1,676.6 561.6,676.6 562.2,676.6 562.7,676.6 563.2,676.6 563.8,676.6 564.3,676.6 564.8,676.6 565.3,676.6 565.9,676.6 566.4,676.6 566.9,676.6 567.4,676.6 568.0,676.6 568.5,676.6 569.0,676.6 569.5,676.6 570.1,676.6 570.6,676.6 571.1,676.6 571.7,676.6 572.2,676.6 572.7,676.6 573.2,676.6 573.8,676.6 574.3,676.6 574.8,676.6 575.3,676.6 575.9,676.6 576.4,676.6 576.9,676.6 577.4,676.6 578.0,676.6 578.5,676.6 579.0,676.6 579.6,676.6 580.1,676.6 580.6,676.6 581.1,676.6 581.7,676.6 582.2,676.6 582.7,676.6 583.2,676.6 583.8,676.6 584.3,676.6 584.8,676.6 585.3,676.6 585.9,676.6 586.4,676.6 586.9,676.6 587.5,676.6 588.0,676.6 588.5,676.6 589.0,676.6 589.6,676.6 590.1,676.6 590.6,676.6 591.1,676.6 591.7,676.6 592.2,676.6 592.7,676.6 593.2,676.6 593.8,676.6 594.3,676.6 594.8,676.6 595.4,676.6 595.9,676.6 596.4,676.6 596.9,676.6 597.5,676.6 598.0,676.6 598.5,676.6 599.0,676.6 599.6,676.6 600.1,676.6 600.6,676.6 601.1,676.6 601.7,676.6 602.2,676.6 602.7,676.6 603.2,676.6 603.8,676.6 604.3,676.6 604.8,676.6 605.4,676.6 605.9,676.6 606.4,676.6 606.9,676.6 607.5,676.6 608.0,676.6 608.5,676.6 609.0,676.6 609.6,676.6 610.1,676.6 610.6,676.6 611.1,676.6 611.7,676.6 612.2,676.6 612.7,676.6 613.3,676.6 613.8,676.6 614.3,676.6 614.8,676.6 615.4,676.6 615.9,676.6 616.4,676.6 616.9,676.6 617.5,676.6 618.0,676.6 618.5,676.6 619.0,676.6 619.6,676.6 620.1,676.6 620.6,676.6 621.2,676.6 621.7,676.6 622.2,676.6 622.7,676.6 623.3,676.6 623.8,676.6 624.3,676.6 624.8,676.6 625.4,676.6 625.9,676.6 626.4,676.6 626.9,676.6 627.5,676.6 628.0,676.6" />
</g>
<g clip-path="url(#cpb)">
<polyline fill="none" stroke="#A798CE" stroke-width="2.8" stroke-linejoin="round" points="790.7,179.9 791.0,173.8 791.3,168.2 791.7,164.5 792.0,161.5 792.3,159.7 792.6,163.9 792.9,158.6 793.3,155.8 793.6,154.6 793.9,150.9 794.2,148.4 794.5,150.5 794.9,154.4 795.2,166.2 795.5,151.7 795.8,148.9 796.1,142.1 796.5,145.5 796.8,147.2 797.1,150.0 797.4,151.7 797.7,151.2 798.1,145.6 798.4,146.4 798.7,133.8 799.0,137.1 799.3,136.2 799.7,128.6 800.0,122.2 800.3,124.4 800.6,124.8 800.9,125.7 801.3,126.7 801.6,133.5 801.9,130.4 802.2,127.4 802.6,123.7 802.9,126.1 803.2,123.4 803.5,131.4 803.8,129.6 804.2,123.8 804.5,124.4 804.8,124.0 805.1,126.2 805.4,117.4 805.8,123.2 806.1,126.9 806.4,114.0 806.7,116.4 807.0,107.3 807.4,93.5 807.7,93.5 808.0,78.0 808.3,90.8 808.6,102.2 809.0,97.8 809.3,98.2 809.6,98.7 809.9,92.2 810.2,84.2 810.6,82.0 810.9,85.8 811.2,83.2 811.5,87.4 811.8,81.3 812.2,75.1 812.5,78.4 812.8,83.8 813.1,84.7 813.4,75.8 813.8,75.8 814.1,72.8 814.4,75.0 814.7,86.4 815.0,77.0 815.4,84.3 815.7,78.6 816.0,79.8 816.3,72.8 816.6,70.3 817.0,66.6 817.3,64.6 817.6,69.3 817.9,73.5 818.2,80.7 818.6,71.0 818.9,72.4 819.2,64.7 819.5,72.6 819.8,63.2 820.2,54.6 820.5,60.1 820.8,50.7 821.1,52.1 821.4,50.8 821.8,44.9 822.1,40.2 822.4,45.0 822.7,54.1 823.0,47.3 823.4,53.1 823.7,54.0 824.0,44.7 824.3,48.4 824.6,40.1 825.0,34.0 825.3,45.8 825.6,49.4 825.9,47.5 826.3,43.5 826.6,45.0 826.9,37.6 827.2,38.8 827.5,41.9 827.9,49.8 828.2,46.9 828.5,57.3 828.8,51.5 829.1,38.4 829.5,47.8 829.8,46.8 830.1,44.5 830.4,39.5 830.7,45.5 831.1,40.6 831.4,46.6 831.7,53.6 832.0,62.6 832.3,49.6 832.7,60.9 833.0,57.6 833.3,56.5 833.6,56.1 833.9,66.7 834.3,71.8 834.6,66.8 834.9,62.3 835.2,63.3 835.5,67.4 835.9,64.7 836.2,68.4 836.5,71.9 836.8,54.7 837.1,60.9 837.5,70.4 837.8,69.3 838.1,75.1 838.4,69.5 838.7,67.3 839.1,76.6 839.4,81.5 839.7,86.5 840.0,86.1 840.3,73.4 840.7,80.8 841.0,78.5 841.3,81.8 841.6,81.5 841.9,79.7 842.3,88.7 842.6,85.9 842.9,96.9 843.2,95.5 843.5,86.7 843.9,98.8 844.2,113.6 844.5,113.9 844.8,113.1 845.1,118.5 845.5,109.9 845.8,110.1 846.1,107.9 846.4,100.4 846.7,100.3 847.1,115.6 847.4,108.8 847.7,105.2 848.0,103.3 848.4,103.6 848.7,105.2 849.0,107.7 849.3,120.5 849.6,119.6 850.0,113.1 850.3,118.9 850.6,117.1 850.9,117.8 851.2,116.9 851.6,122.9 851.9,116.4 852.2,111.6 852.5,110.1 852.8,120.3 853.2,111.4 853.5,115.6 853.8,123.7 854.1,127.0 854.4,133.1 854.8,127.5 855.1,123.0 855.4,123.5 855.7,122.8 856.0,125.4 856.4,139.1 856.7,132.4 857.0,120.1 857.3,110.6 857.6,116.9 858.0,112.5 858.3,110.0 858.6,109.4 858.9,112.6 859.2,107.5 859.6,116.2 859.9,112.2 860.2,109.2 860.5,115.9 860.8,115.6 861.2,108.4 861.5,115.9 861.8,116.5 862.1,119.3 862.4,128.5 862.8,120.6 863.1,122.5 863.4,121.2 863.7,113.3 864.0,109.7 864.4,102.6 864.7,103.5 865.0,93.4 865.3,90.1 865.6,100.7 866.0,103.0 866.3,106.6 866.6,102.9 866.9,94.5 867.2,95.8 867.6,98.9 867.9,89.3 868.2,87.2 868.5,96.3 868.8,82.5 869.2,77.5 869.5,92.5 869.8,91.8 870.1,88.2 870.4,97.8 870.8,95.9 871.1,90.1 871.4,84.7 871.7,83.3 872.1,87.6 872.4,88.6 872.7,107.6 873.0,107.2 873.3,87.1 873.7,81.7 874.0,82.2 874.3,87.6 874.6,98.0 874.9,85.1 875.3,85.5 875.6,89.5 875.9,87.0 876.2,83.5 876.5,89.6 876.9,85.0 877.2,75.7 877.5,86.7 877.8,80.0 878.1,88.3 878.5,89.3 878.8,94.9 879.1,93.3 879.4,91.2 879.7,82.3 880.1,83.8 880.4,84.1 880.7,84.8 881.0,88.5 881.3,84.9 881.7,80.0 882.0,91.1 882.3,81.8 882.6,90.8 882.9,93.0 883.3,81.3 883.6,75.6 883.9,72.8 884.2,75.4 884.5,71.4 884.9,66.8 885.2,61.5 885.5,69.4 885.8,72.8 886.1,70.5 886.5,87.0 886.8,87.5 887.1,78.1 887.4,80.2 887.7,73.8 888.1,84.5 888.4,81.5 888.7,79.8 889.0,76.4 889.3,66.0 889.7,66.9 890.0,77.9 890.3,66.2 890.6,65.8 890.9,61.1 891.3,68.4 891.6,64.5 891.9,69.5 892.2,62.5 892.5,64.0 892.9,62.1 893.2,70.8 893.5,76.4 893.8,69.3 894.2,66.0 894.5,70.1 894.8,64.5 895.1,72.4 895.4,54.6 895.8,68.2 896.1,78.0 896.4,75.3 896.7,65.4 897.0,61.4 897.4,68.3 897.7,58.3 898.0,55.6 898.3,55.6 898.6,58.7 899.0,56.3 899.3,58.5 899.6,63.5 899.9,60.5 900.2,63.7 900.6,57.4 900.9,59.5 901.2,54.9 901.5,52.9 901.8,48.5 902.2,57.1 902.5,59.1 902.8,70.7 903.1,62.0 903.4,69.4 903.8,66.5 904.1,68.8 904.4,67.9 904.7,60.9 905.0,67.5 905.4,64.4 905.7,66.4 906.0,65.6 906.3,60.5 906.6,69.5 907.0,64.0 907.3,66.7 907.6,60.9 907.9,62.8 908.2,65.9 908.6,68.9 908.9,71.2 909.2,68.2 909.5,65.4 909.8,69.1 910.2,63.6 910.5,65.5 910.8,58.7 911.1,80.9 911.4,73.2 911.8,71.9 912.1,79.4 912.4,84.9 912.7,80.6 913.0,76.6 913.4,84.9 913.7,89.7 914.0,85.3 914.3,68.0 914.6,70.7 915.0,74.2 915.3,66.6 915.6,85.8 915.9,78.3 916.2,74.2 916.6,73.2 916.9,78.2 917.2,72.1 917.5,79.0 917.9,85.5 918.2,86.6 918.5,74.5 918.8,86.3 919.1,87.8 919.5,91.9 919.8,82.5 920.1,82.2 920.4,71.9 920.7,69.1 921.1,72.5 921.4,73.3 921.7,79.9 922.0,91.1 922.3,88.2 922.7,84.2 923.0,93.3 923.3,94.0 923.6,89.9 923.9,92.5 924.3,82.3 924.6,82.6 924.9,84.5 925.2,87.7 925.5,83.4 925.9,87.0 926.2,87.8 926.5,81.6 926.8,81.9 927.1,85.9 927.5,92.2 927.8,81.6 928.1,78.9 928.4,86.3 928.7,98.0 929.1,97.4 929.4,94.3 929.7,100.4 930.0,108.2 930.3,92.3 930.7,94.5 931.0,102.1 931.3,113.9 931.6,97.1 931.9,108.8 932.3,98.4 932.6,95.9 932.9,94.3 933.2,98.8 933.5,92.9 933.9,103.3 934.2,100.3 934.5,102.9 934.8,106.0 935.1,100.9 935.5,95.3 935.8,103.3 936.1,107.4 936.4,109.3 936.7,103.6 937.1,105.2 937.4,108.5 937.7,119.7 938.0,110.1 938.3,109.5 938.7,105.4 939.0,116.2 939.3,101.8 939.6,101.8 940.0,111.4 940.3,107.0 940.6,121.7 940.9,108.8 941.2,109.8 941.6,111.0 941.9,107.2 942.2,99.9 942.5,104.3 942.8,95.4 943.2,110.9 943.5,103.4 943.8,107.3 944.1,104.5 944.4,92.3 944.8,95.9 945.1,103.7 945.4,103.6 945.7,103.7 946.0,98.4 946.4,107.4 946.7,104.2 947.0,98.0 947.3,93.4 947.6,96.3 948.0,94.6 948.3,93.4 948.6,92.8 948.9,104.9 949.2,102.3 949.6,94.8 949.9,92.3 950.2,95.7 950.5,86.8 950.8,85.9 951.2,90.3 951.5,77.5 951.8,87.9 952.1,85.0 952.4,80.5 952.8,82.1 953.1,86.4 953.4,86.3 953.7,88.1 954.0,95.2 954.4,86.8 954.7,84.4 955.0,79.0 955.3,83.5 955.6,87.2 956.0,84.5 956.3,83.9 956.6,79.9 956.9,79.9 957.2,79.8 957.6,69.6 957.9,77.4 958.2,83.6 958.5,85.6 958.8,86.7 959.2,82.6 959.5,88.5 959.8,69.8 960.1,74.5 960.4,81.7 960.8,84.5 961.1,74.7 961.4,78.8 961.7,80.3 962.0,79.4 962.4,85.7 962.7,70.2 963.0,76.9 963.3,89.2 963.7,82.9 964.0,84.4 964.3,81.4 964.6,73.2 964.9,71.8 965.3,71.5 965.6,65.1 965.9,63.4 966.2,55.7 966.5,69.4 966.9,72.6 967.2,87.4 967.5,89.2 967.8,85.8 968.1,82.8 968.5,64.1 968.8,64.6 969.1,76.6 969.4,62.8 969.7,60.1 970.1,62.0 970.4,65.8 970.7,71.5 971.0,75.3 971.3,68.8 971.7,71.2 972.0,66.9 972.3,68.0 972.6,76.6 972.9,77.9 973.3,80.9 973.6,70.5 973.9,77.7 974.2,84.0 974.5,91.4 974.9,93.6 975.2,90.1 975.5,83.5 975.8,84.8 976.1,81.1 976.5,89.4 976.8,88.1 977.1,84.3 977.4,82.5 977.7,80.0 978.1,89.0 978.4,80.5 978.7,82.0 979.0,83.7 979.3,86.2 979.7,80.8 980.0,83.0 980.3,85.5 980.6,85.7 980.9,80.8 981.3,84.1 981.6,87.3 981.9,79.8 982.2,83.6 982.5,78.5 982.9,70.2 983.2,79.4 983.5,77.3 983.8,91.6 984.1,90.5 984.5,94.6 984.8,85.4 985.1,88.0 985.4,101.3 985.8,108.5 986.1,90.8 986.4,98.7 986.7,104.9 987.0,107.3 987.4,105.6 987.7,94.1 988.0,92.9 988.3,101.5 988.6,99.5 989.0,96.1 989.3,106.4 989.6,95.3 989.9,92.6 990.2,98.0 990.6,103.8 990.9,106.7 991.2,103.3 991.5,93.9 991.8,87.6 992.2,96.7 992.5,102.7 992.8,103.7 993.1,101.3 993.4,104.6 993.8,98.8 994.1,101.2 994.4,98.4 994.7,111.0 995.0,112.5 995.4,109.6 995.7,113.2 996.0,104.3 996.3,111.3 996.6,113.7 997.0,112.0 997.3,111.7 997.6,104.5 997.9,106.9 998.2,101.9 998.6,95.3 998.9,106.5 999.2,105.5 999.5,95.6 999.8,96.5 1000.2,102.8 1000.5,102.9 1000.8,114.4 1001.1,114.7 1001.4,102.1 1001.8,107.9 1002.1,115.7 1002.4,111.6 1002.7,110.9 1003.0,112.7 1003.4,115.5 1003.7,105.4 1004.0,98.0 1004.3,101.8 1004.6,105.3 1005.0,111.1 1005.3,107.9 1005.6,112.9 1005.9,104.2 1006.2,103.7 1006.6,104.0 1006.9,94.4 1007.2,104.4 1007.5,102.5 1007.8,99.5 1008.2,91.8 1008.5,96.1 1008.8,102.7 1009.1,102.1 1009.5,99.2 1009.8,102.4 1010.1,98.0 1010.4,100.4 1010.7,106.9 1011.1,103.8 1011.4,96.6 1011.7,99.5 1012.0,101.4 1012.3,110.8 1012.7,103.0 1013.0,91.4 1013.3,90.7 1013.6,88.8 1013.9,91.4 1014.3,93.7 1014.6,96.7 1014.9,93.4 1015.2,93.5 1015.5,100.9 1015.9,102.3 1016.2,103.3 1016.5,94.5 1016.8,96.4 1017.1,101.3 1017.5,104.1 1017.8,98.6 1018.1,101.3 1018.4,111.2 1018.7,107.3 1019.1,101.6 1019.4,101.2 1019.7,97.5 1020.0,103.7 1020.3,99.1 1020.7,104.8 1021.0,104.3 1021.3,109.9 1021.6,102.9 1021.9,107.4 1022.3,107.7 1022.6,104.8 1022.9,106.2 1023.2,111.5 1023.5,99.7 1023.9,102.9 1024.2,113.5 1024.5,100.4 1024.8,101.5 1025.1,87.9 1025.5,87.7 1025.8,103.4 1026.1,102.0 1026.4,99.6 1026.7,100.5 1027.1,96.2 1027.4,95.5 1027.7,102.9 1028.0,99.4 1028.3,98.3 1028.7,87.5 1029.0,76.9 1029.3,90.8 1029.6,90.3 1029.9,100.4 1030.3,101.1 1030.6,103.0 1030.9,96.7 1031.2,97.0 1031.6,96.5 1031.9,97.8 1032.2,93.5 1032.5,93.4 1032.8,94.3 1033.2,92.1 1033.5,86.4 1033.8,89.8 1034.1,92.3 1034.4,87.8 1034.8,92.3 1035.1,97.6 1035.4,103.6 1035.7,104.8 1036.0,104.1 1036.4,91.9 1036.7,89.1 1037.0,84.1 1037.3,92.5 1037.6,97.1 1038.0,98.3 1038.3,93.6 1038.6,98.2 1038.9,97.1 1039.2,100.8 1039.6,98.3 1039.9,101.1 1040.2,104.2 1040.5,94.5 1040.8,98.4 1041.2,103.2 1041.5,98.7 1041.8,91.5 1042.1,94.9 1042.4,92.0 1042.8,87.3 1043.1,84.9 1043.4,86.7 1043.7,87.2 1044.0,86.6 1044.4,99.0 1044.7,90.0 1045.0,87.9 1045.3,93.8 1045.6,102.2 1046.0,112.4 1046.3,110.9 1046.6,113.0 1046.9,112.1 1047.2,112.1 1047.6,110.9 1047.9,104.9 1048.2,109.4 1048.5,105.9 1048.8,104.4 1049.2,102.7 1049.5,96.3 1049.8,98.4 1050.1,99.0 1050.4,92.0 1050.8,106.3 1051.1,102.1 1051.4,96.4 1051.7,100.8 1052.0,91.5 1052.4,90.0 1052.7,91.5 1053.0,92.5 1053.3,98.4 1053.6,97.7 1054.0,97.5 1054.3,109.2 1054.6,108.2 1054.9,113.6 1055.3,112.3 1055.6,104.1 1055.9,110.8 1056.2,101.1 1056.5,100.6 1056.9,102.7 1057.2,108.6 1057.5,93.0 1057.8,107.8 1058.1,112.6 1058.5,96.1 1058.8,95.1 1059.1,98.2 1059.4,90.4 1059.7,93.6 1060.1,104.0 1060.4,104.0 1060.7,100.0 1061.0,97.5 1061.3,93.1 1061.7,98.6 1062.0,96.2 1062.3,103.7 1062.6,97.5 1062.9,101.4 1063.3,93.2 1063.6,91.7 1063.9,89.3 1064.2,95.3 1064.5,94.0 1064.9,99.1 1065.2,108.2 1065.5,87.7 1065.8,95.2 1066.1,100.3 1066.5,99.3 1066.8,93.2 1067.1,89.2 1067.4,82.6 1067.7,90.9 1068.1,99.7 1068.4,101.0 1068.7,90.0 1069.0,96.6 1069.3,103.3 1069.7,102.6 1070.0,99.6 1070.3,104.9 1070.6,102.4 1070.9,96.1 1071.3,99.5 1071.6,98.5 1071.9,102.4 1072.2,100.7 1072.5,100.9 1072.9,100.5 1073.2,94.6 1073.5,95.1 1073.8,102.3 1074.1,98.7 1074.5,108.7 1074.8,103.2 1075.1,105.6 1075.4,102.1 1075.7,99.0 1076.1,101.0 1076.4,95.2 1076.7,95.9 1077.0,105.1 1077.4,95.6 1077.7,91.8 1078.0,93.1 1078.3,104.4 1078.6,105.1 1079.0,101.6 1079.3,107.4 1079.6,101.2 1079.9,98.7 1080.2,100.4 1080.6,107.7 1080.9,95.6 1081.2,95.8 1081.5,98.7 1081.8,98.7 1082.2,90.8 1082.5,86.7 1082.8,97.4 1083.1,103.9 1083.4,94.5 1083.8,99.8 1084.1,92.6 1084.4,96.6 1084.7,107.0 1085.0,102.7 1085.4,111.3 1085.7,108.7 1086.0,107.1 1086.3,115.1 1086.6,104.3 1087.0,105.6 1087.3,106.4 1087.6,117.8 1087.9,108.0 1088.2,107.9 1088.6,102.9 1088.9,104.3 1089.2,101.6 1089.5,111.4 1089.8,110.5 1090.2,102.5 1090.5,95.0 1090.8,102.5 1091.1,104.3 1091.4,91.5 1091.8,102.5 1092.1,96.8 1092.4,100.2 1092.7,108.0 1093.0,111.3 1093.4,111.0 1093.7,103.2 1094.0,106.8 1094.3,107.9 1094.6,109.2 1095.0,112.5 1095.3,107.5 1095.6,105.3 1095.9,106.8 1096.2,105.5 1096.6,93.8 1096.9,102.5 1097.2,104.0 1097.5,100.0 1097.8,93.2 1098.2,97.6 1098.5,94.6 1098.8,94.8 1099.1,98.8 1099.4,98.2 1099.8,91.7 1100.1,91.8 1100.4,94.8 1100.7,96.0 1101.1,96.8 1101.4,91.2 1101.7,92.0 1102.0,103.3 1102.3,99.6 1102.7,94.4 1103.0,102.2 1103.3,92.7 1103.6,94.2 1103.9,99.6 1104.3,95.4 1104.6,96.6 1104.9,99.6 1105.2,95.4 1105.5,82.7 1105.9,94.9 1106.2,92.8 1106.5,91.2 1106.8,93.9 1107.1,88.6 1107.5,85.8 1107.8,88.8 1108.1,92.8 1108.4,92.1 1108.7,104.1 1109.1,94.0 1109.4,102.8 1109.7,95.4 1110.0,102.5 1110.3,102.4 1110.7,107.2 1111.0,104.1 1111.3,97.0 1111.6,102.5 1111.9,114.9 1112.3,103.8 1112.6,112.2 1112.9,90.5 1113.2,92.6 1113.5,97.7 1113.9,99.7 1114.2,87.0 1114.5,88.1 1114.8,99.2 1115.1,107.0 1115.5,101.7 1115.8,105.1 1116.1,90.4 1116.4,90.8 1116.7,88.4 1117.1,89.9 1117.4,97.8 1117.7,89.3 1118.0,91.2 1118.3,98.3 1118.7,95.8 1119.0,88.8 1119.3,98.8 1119.6,84.5 1119.9,84.5 1120.3,95.3 1120.6,99.5 1120.9,101.9 1121.2,98.6 1121.5,98.4 1121.9,95.4 1122.2,94.7 1122.5,93.9 1122.8,97.9 1123.2,103.9 1123.5,90.1 1123.8,91.1 1124.1,85.9 1124.4,93.2 1124.8,85.4 1125.1,81.3 1125.4,84.7 1125.7,89.0 1126.0,90.8 1126.4,87.2 1126.7,87.6 1127.0,84.1 1127.3,82.8 1127.6,88.0 1128.0,92.0 1128.3,98.3 1128.6,93.0 1128.9,94.4 1129.2,101.3 1129.6,101.0 1129.9,95.5 1130.2,95.3 1130.5,93.9 1130.8,89.1 1131.2,88.2 1131.5,99.1 1131.8,96.7 1132.1,98.2 1132.4,99.7 1132.8,109.9 1133.1,119.9 1133.4,111.2 1133.7,109.9 1134.0,105.8 1134.4,101.2 1134.7,93.0 1135.0,87.2 1135.3,85.7 1135.6,97.0 1136.0,101.1 1136.3,102.3 1136.6,94.3 1136.9,88.7 1137.2,101.2 1137.6,105.3 1137.9,94.2 1138.2,101.3 1138.5,100.4 1138.8,98.4 1139.2,98.1 1139.5,105.4 1139.8,108.4 1140.1,107.6 1140.4,99.9 1140.8,105.0 1141.1,97.9 1141.4,104.8 1141.7,90.8 1142.0,101.8 1142.4,101.2 1142.7,104.2 1143.0,104.6 1143.3,101.5 1143.6,95.4 1144.0,99.0 1144.3,93.6 1144.6,111.7 1144.9,103.0 1145.2,104.4 1145.6,108.3 1145.9,116.3 1146.2,116.0 1146.5,107.0 1146.9,103.7 1147.2,100.1 1147.5,107.4 1147.8,104.4 1148.1,104.6 1148.5,108.2 1148.8,106.2 1149.1,111.9 1149.4,108.5 1149.7,98.2 1150.1,107.0 1150.4,102.9 1150.7,92.8 1151.0,100.9 1151.3,101.6 1151.7,99.1 1152.0,100.8 1152.3,96.6 1152.6,115.3 1152.9,93.4 1153.3,95.4 1153.6,97.3 1153.9,98.0 1154.2,100.5 1154.5,100.8 1154.9,102.0 1155.2,110.0 1155.5,96.1 1155.8,97.9 1156.1,98.1 1156.5,94.7 1156.8,83.9 1157.1,90.1 1157.4,94.0 1157.7,89.7 1158.1,92.1 1158.4,91.0 1158.7,94.8 1159.0,91.3 1159.3,84.6 1159.7,97.5 1160.0,92.1 1160.3,97.2 1160.6,100.5 1160.9,92.9 1161.3,99.5 1161.6,96.1 1161.9,90.3 1162.2,95.8 1162.5,92.9 1162.9,93.1 1163.2,93.2 1163.5,83.6 1163.8,89.2 1164.1,83.7 1164.5,81.4 1164.8,87.7 1165.1,79.2 1165.4,87.9 1165.7,87.9 1166.1,86.8 1166.4,75.9 1166.7,88.4 1167.0,81.3 1167.3,81.3 1167.7,74.5 1168.0,80.5 1168.3,68.2 1168.6,83.2 1169.0,73.6 1169.3,71.1 1169.6,72.0 1169.9,72.6 1170.2,71.2 1170.6,74.4 1170.9,73.5 1171.2,71.0 1171.5,79.4 1171.8,92.6 1172.2,81.3 1172.5,77.1 1172.8,70.9 1173.1,73.7 1173.4,76.0 1173.8,77.1 1174.1,79.6 1174.4,79.9 1174.7,70.7 1175.0,78.7 1175.4,67.6 1175.7,75.0 1176.0,74.2 1176.3,69.1 1176.6,71.0 1177.0,71.2 1177.3,82.5 1177.6,80.3 1177.9,68.4 1178.2,68.8 1178.6,66.6 1178.9,75.8 1179.2,75.4 1179.5,74.7 1179.8,81.0 1180.2,74.9 1180.5,75.2 1180.8,73.8 1181.1,76.7 1181.4,79.0 1181.8,84.5 1182.1,81.8 1182.4,85.8 1182.7,89.7 1183.0,80.7 1183.4,79.3 1183.7,85.3 1184.0,83.2 1184.3,75.0 1184.6,87.2 1185.0,83.4 1185.3,89.1 1185.6,76.7 1185.9,77.6 1186.2,74.5 1186.6,72.9 1186.9,75.4 1187.2,71.4 1187.5,95.5 1187.8,95.4 1188.2,92.1 1188.5,84.2 1188.8,80.0 1189.1,81.2 1189.4,83.3 1189.8,86.4 1190.1,82.6 1190.4,81.5 1190.7,86.5 1191.1,85.2 1191.4,71.6 1191.7,74.0 1192.0,78.6 1192.3,86.6 1192.7,83.5 1193.0,69.4 1193.3,73.5 1193.6,85.0 1193.9,85.0 1194.3,86.2 1194.6,89.0 1194.9,89.3 1195.2,94.9 1195.5,99.8 1195.9,94.5 1196.2,88.7 1196.5,89.3 1196.8,94.5 1197.1,86.7 1197.5,85.7 1197.8,87.5 1198.1,92.9 1198.4,89.6 1198.7,93.3 1199.1,97.2 1199.4,90.1 1199.7,86.3 1200.0,72.5 1200.3,75.3 1200.7,64.4 1201.0,71.6 1201.3,79.9 1201.6,93.7 1201.9,85.7 1202.3,91.4 1202.6,76.4 1202.9,77.1 1203.2,81.7 1203.5,72.6 1203.9,75.6 1204.2,79.0 1204.5,73.3 1204.8,77.3 1205.1,79.7 1205.5,76.4 1205.8,71.8 1206.1,68.2 1206.4,68.1 1206.7,66.9 1207.1,82.4 1207.4,78.6 1207.7,77.6 1208.0,87.1 1208.3,87.4 1208.7,79.3 1209.0,84.2 1209.3,88.2 1209.6,86.8 1209.9,77.7 1210.3,76.2 1210.6,75.7 1210.9,75.7 1211.2,73.8 1211.5,84.3 1211.9,83.4 1212.2,83.8 1212.5,87.9 1212.8,84.9 1213.1,91.2 1213.5,83.4 1213.8,80.1 1214.1,86.2 1214.4,80.9 1214.8,88.2 1215.1,83.4 1215.4,92.3 1215.7,96.8 1216.0,86.6 1216.4,78.1 1216.7,85.9 1217.0,81.8 1217.3,87.5 1217.6,88.8 1218.0,74.4 1218.3,83.5 1218.6,87.9 1218.9,72.9 1219.2,74.7 1219.6,72.9 1219.9,82.1 1220.2,88.5 1220.5,87.5 1220.8,89.0 1221.2,84.4 1221.5,85.6 1221.8,73.1 1222.1,82.3 1222.4,80.6 1222.8,82.8 1223.1,85.4 1223.4,84.7 1223.7,91.6 1224.0,90.9 1224.4,92.2 1224.7,79.9 1225.0,81.2 1225.3,78.7 1225.6,83.1 1226.0,85.6 1226.3,92.4 1226.6,87.2 1226.9,84.3 1227.2,93.5 1227.6,98.0 1227.9,85.6 1228.2,88.7 1228.5,97.8 1228.8,88.6 1229.2,90.0 1229.5,87.9 1229.8,85.2 1230.1,88.6 1230.4,73.8 1230.8,83.9 1231.1,89.1 1231.4,82.3 1231.7,84.4 1232.0,83.5 1232.4,87.7 1232.7,86.6 1233.0,81.5 1233.3,73.0 1233.6,69.6 1234.0,72.2 1234.3,73.9 1234.6,72.6 1234.9,83.3 1235.2,86.0 1235.6,76.7 1235.9,75.3 1236.2,82.8 1236.5,88.5 1236.9,85.5 1237.2,81.3 1237.5,82.5 1237.8,83.6 1238.1,79.8 1238.5,78.4 1238.8,74.9 1239.1,77.8 1239.4,84.0 1239.7,84.9 1240.1,86.5 1240.4,79.0 1240.7,92.3 1241.0,83.3 1241.3,84.0 1241.7,82.5 1242.0,94.2 1242.3,98.4 1242.6,88.4 1242.9,94.8 1243.3,92.3 1243.6,72.7 1243.9,85.0 1244.2,86.4 1244.5,87.3 1244.9,86.6 1245.2,89.7 1245.5,98.1 1245.8,93.6 1246.1,91.3 1246.5,89.3 1246.8,92.1 1247.1,90.1 1247.4,94.3 1247.7,86.1 1248.1,90.8 1248.4,84.9 1248.7,91.2 1249.0,94.3 1249.3,103.9 1249.7,92.8 1250.0,95.4 1250.3,100.8 1250.6,86.0 1250.9,84.8 1251.3,93.0 1251.6,94.0 1251.9,99.6 1252.2,92.9 1252.5,83.1 1252.9,93.3 1253.2,87.2 1253.5,86.1 1253.8,96.6 1254.1,87.4 1254.5,89.5 1254.8,94.2 1255.1,95.7 1255.4,89.4 1255.7,87.5 1256.1,93.9 1256.4,103.8 1256.7,101.3 1257.0,102.8 1257.3,96.7 1257.7,91.5 1258.0,95.6 1258.3,104.4 1258.6,96.7 1258.9,99.4 1259.3,103.7 1259.6,96.5 1259.9,94.8 1260.2,93.0 1260.6,94.3 1260.9,91.0 1261.2,85.3 1261.5,100.8 1261.8,91.6 1262.2,96.6 1262.5,101.6 1262.8,100.6 1263.1,92.6 1263.4,87.1 1263.8,94.3 1264.1,95.0 1264.4,95.6 1264.7,91.6 1265.0,102.0 1265.4,108.0 1265.7,102.7 1266.0,94.2 1266.3,93.4 1266.6,96.7 1267.0,80.3 1267.3,83.0 1267.6,82.7 1267.9,88.7 1268.2,88.3 1268.6,85.0 1268.9,82.5 1269.2,86.3 1269.5,92.8 1269.8,84.8 1270.2,79.3 1270.5,75.3 1270.8,78.5 1271.1,72.7 1271.4,76.1 1271.8,77.3 1272.1,77.4 1272.4,83.3 1272.7,85.0 1273.0,84.8 1273.4,78.8 1273.7,82.0 1274.0,83.1 1274.3,83.8 1274.6,87.0 1275.0,89.5 1275.3,86.4 1275.6,86.5 1275.9,77.7 1276.2,85.0 1276.6,84.1 1276.9,95.0 1277.2,93.8 1277.5,88.1 1277.8,85.8 1278.2,91.9 1278.5,87.4 1278.8,98.3 1279.1,84.9 1279.4,81.6 1279.8,74.3 1280.1,65.9 1280.4,76.8 1280.7,70.3 1281.0,76.9 1281.4,86.0 1281.7,77.4 1282.0,73.7 1282.3,60.6 1282.7,73.2 1283.0,89.3 1283.3,84.4 1283.6,83.9 1283.9,84.0 1284.3,84.2 1284.6,68.0 1284.9,70.5 1285.2,68.1 1285.5,72.3 1285.9,79.4 1286.2,82.8 1286.5,68.4 1286.8,63.6 1287.1,63.3 1287.5,65.4 1287.8,65.2 1288.1,65.9 1288.4,76.9 1288.7,76.4 1289.1,63.1 1289.4,72.9 1289.7,68.1 1290.0,73.9 1290.3,72.3 1290.7,69.0 1291.0,72.3 1291.3,64.6 1291.6,70.6 1291.9,66.7 1292.3,70.9 1292.6,60.5 1292.9,71.1 1293.2,68.4 1293.5,77.6 1293.9,81.3 1294.2,72.6 1294.5,75.7 1294.8,64.9 1295.1,61.4 1295.5,72.4 1295.8,67.4 1296.1,70.4 1296.4,69.9 1296.7,68.1 1297.1,75.2 1297.4,67.5 1297.7,69.4 1298.0,63.9 1298.3,63.5 1298.7,64.3 1299.0,65.9 1299.3,52.9 1299.6,58.7 1299.9,69.2 1300.3,67.1 1300.6,67.5 1300.9,64.5 1301.2,59.6 1301.5,58.6 1301.9,60.1 1302.2,65.8 1302.5,62.0 1302.8,59.6 1303.1,70.7 1303.5,66.4 1303.8,74.2 1304.1,70.8 1304.4,65.4 1304.7,73.4 1305.1,78.0 1305.4,64.5 1305.7,59.1 1306.0,69.8 1306.4,72.3 1306.7,72.6 1307.0,66.9 1307.3,66.5 1307.6,68.0 1308.0,69.4 1308.3,69.6 1308.6,61.2 1308.9,63.8 1309.2,67.8 1309.6,76.2 1309.9,80.4 1310.2,89.9 1310.5,81.6 1310.8,81.9 1311.2,79.2 1311.5,79.3 1311.8,84.6 1312.1,79.4 1312.4,78.2 1312.8,77.9 1313.1,84.0 1313.4,76.9 1313.7,78.1 1314.0,73.1 1314.4,77.0 1314.7,82.1" />
<polyline fill="none" stroke="#ECAC30" stroke-width="2.8" stroke-linejoin="round" points="790.7,179.9 791.0,179.3 791.3,177.8 791.7,178.4 792.0,178.1 792.3,183.2 792.6,187.1 792.9,184.8 793.3,187.8 793.6,191.3 793.9,194.8 794.2,195.0 794.5,189.1 794.9,182.1 795.2,186.5 795.5,180.3 795.8,175.3 796.1,183.2 796.5,191.0 796.8,191.1 797.1,184.6 797.4,186.2 797.7,197.2 798.1,188.3 798.4,183.0 798.7,186.1 799.0,193.3 799.3,189.2 799.7,185.8 800.0,201.8 800.3,203.9 800.6,207.7 800.9,195.6 801.3,200.6 801.6,194.5 801.9,211.7 802.2,197.0 802.6,229.4 802.9,234.7 803.2,227.6 803.5,220.0 803.8,226.8 804.2,225.6 804.5,228.3 804.8,240.6 805.1,237.0 805.4,237.7 805.8,242.6 806.1,257.0 806.4,260.8 806.7,261.3 807.0,252.1 807.4,258.5 807.7,257.0 808.0,271.8 808.3,266.9 808.6,272.5 809.0,281.9 809.3,272.5 809.6,282.1 809.9,295.6 810.2,292.1 810.6,288.4 810.9,291.6 811.2,293.6 811.5,307.1 811.8,294.6 812.2,290.4 812.5,298.6 812.8,299.5 813.1,292.3 813.4,302.4 813.8,306.9 814.1,309.2 814.4,316.4 814.7,313.2 815.0,311.5 815.4,306.8 815.7,305.3 816.0,310.0 816.3,321.1 816.6,321.5 817.0,320.5 817.3,322.1 817.6,335.4 817.9,337.3 818.2,335.2 818.6,342.4 818.9,332.3 819.2,335.1 819.5,330.9 819.8,336.2 820.2,339.5 820.5,333.6 820.8,337.2 821.1,342.2 821.4,340.1 821.8,338.2 822.1,340.6 822.4,343.1 822.7,339.8 823.0,346.7 823.4,343.0 823.7,340.6 824.0,340.1 824.3,338.7 824.6,339.3 825.0,341.2 825.3,336.3 825.6,341.0 825.9,342.6 826.3,354.7 826.6,344.1 826.9,348.2 827.2,334.9 827.5,336.0 827.9,328.5 828.2,333.8 828.5,333.8 828.8,323.5 829.1,329.9 829.5,334.4 829.8,332.3 830.1,337.1 830.4,339.0 830.7,328.3 831.1,333.4 831.4,323.4 831.7,324.7 832.0,332.5 832.3,324.6 832.7,311.3 833.0,315.8 833.3,327.6 833.6,325.8 833.9,322.8 834.3,323.2 834.6,320.8 834.9,317.5 835.2,314.1 835.5,305.7 835.9,294.0 836.2,298.7 836.5,305.1 836.8,294.3 837.1,301.1 837.5,302.0 837.8,292.3 838.1,302.2 838.4,295.7 838.7,288.0 839.1,284.6 839.4,294.6 839.7,268.3 840.0,272.9 840.3,273.5 840.7,281.4 841.0,276.5 841.3,271.9 841.6,275.3 841.9,278.0 842.3,264.7 842.6,277.6 842.9,264.7 843.2,272.4 843.5,279.1 843.9,293.9 844.2,287.1 844.5,283.6 844.8,287.3 845.1,268.1 845.5,265.1 845.8,255.5 846.1,260.4 846.4,255.4 846.7,252.0 847.1,245.7 847.4,264.7 847.7,239.4 848.0,243.7 848.4,240.0 848.7,246.4 849.0,247.9 849.3,242.4 849.6,244.6 850.0,243.5 850.3,238.5 850.6,226.2 850.9,239.7 851.2,240.4 851.6,233.1 851.9,231.7 852.2,239.2 852.5,231.6 852.8,246.5 853.2,243.6 853.5,228.7 853.8,221.6 854.1,226.7 854.4,225.0 854.8,238.1 855.1,228.4 855.4,240.6 855.7,240.0 856.0,249.3 856.4,230.7 856.7,235.0 857.0,233.7 857.3,229.1 857.6,227.9 858.0,229.9 858.3,239.6 858.6,237.9 858.9,228.1 859.2,220.3 859.6,233.9 859.9,224.6 860.2,228.0 860.5,223.8 860.8,221.6 861.2,225.9 861.5,227.9 861.8,230.0 862.1,232.6 862.4,249.0 862.8,237.4 863.1,236.5 863.4,233.4 863.7,229.7 864.0,237.1 864.4,228.9 864.7,230.1 865.0,228.5 865.3,228.3 865.6,242.2 866.0,241.1 866.3,239.8 866.6,235.0 866.9,238.6 867.2,241.0 867.6,224.6 867.9,211.7 868.2,214.0 868.5,230.3 868.8,234.5 869.2,235.8 869.5,237.5 869.8,245.9 870.1,232.2 870.4,227.1 870.8,244.0 871.1,260.9 871.4,260.8 871.7,264.5 872.1,255.3 872.4,254.3 872.7,262.8 873.0,263.4 873.3,251.4 873.7,246.5 874.0,245.3 874.3,255.8 874.6,254.2 874.9,262.3 875.3,262.5 875.6,253.2 875.9,249.9 876.2,264.3 876.5,271.8 876.9,275.9 877.2,264.1 877.5,253.0 877.8,257.1 878.1,250.9 878.5,266.0 878.8,255.4 879.1,257.7 879.4,256.5 879.7,252.6 880.1,247.5 880.4,247.6 880.7,255.8 881.0,251.8 881.3,247.1 881.7,253.1 882.0,259.8 882.3,257.3 882.6,261.9 882.9,249.0 883.3,260.3 883.6,251.1 883.9,263.9 884.2,251.2 884.5,284.0 884.9,269.3 885.2,260.5 885.5,254.3 885.8,268.9 886.1,273.0 886.5,256.3 886.8,267.9 887.1,261.5 887.4,249.1 887.7,260.5 888.1,271.8 888.4,267.1 888.7,254.9 889.0,267.2 889.3,264.2 889.7,261.7 890.0,253.9 890.3,260.1 890.6,261.4 890.9,256.9 891.3,252.8 891.6,239.8 891.9,251.9 892.2,270.5 892.5,263.2 892.9,254.7 893.2,266.0 893.5,249.9 893.8,256.7 894.2,257.6 894.5,253.3 894.8,249.7 895.1,238.1 895.4,258.7 895.8,248.6 896.1,245.0 896.4,252.7 896.7,256.2 897.0,259.5 897.4,256.5 897.7,257.4 898.0,263.0 898.3,249.4 898.6,240.9 899.0,242.3 899.3,243.2 899.6,270.7 899.9,264.0 900.2,262.3 900.6,271.5 900.9,272.0 901.2,253.0 901.5,264.2 901.8,275.5 902.2,268.4 902.5,273.1 902.8,267.1 903.1,273.1 903.4,269.5 903.8,267.8 904.1,285.7 904.4,275.2 904.7,269.8 905.0,265.9 905.4,270.2 905.7,258.0 906.0,259.6 906.3,271.0 906.6,270.7 907.0,274.6 907.3,259.4 907.6,258.7 907.9,252.2 908.2,264.1 908.6,262.1 908.9,271.3 909.2,277.2 909.5,262.4 909.8,267.7 910.2,265.9 910.5,273.7 910.8,268.1 911.1,271.1 911.4,264.8 911.8,266.9 912.1,268.1 912.4,273.3 912.7,278.5 913.0,269.7 913.4,268.5 913.7,264.5 914.0,264.8 914.3,268.2 914.6,262.6 915.0,262.8 915.3,261.4 915.6,251.5 915.9,267.8 916.2,264.7 916.6,272.6 916.9,259.2 917.2,251.3 917.5,253.9 917.9,257.4 918.2,259.2 918.5,271.8 918.8,260.1 919.1,258.0 919.5,247.7 919.8,257.3 920.1,252.6 920.4,259.1 920.7,260.2 921.1,244.0 921.4,253.3 921.7,256.0 922.0,253.2 922.3,266.2 922.7,263.3 923.0,261.5 923.3,260.2 923.6,244.6 923.9,260.4 924.3,249.7 924.6,254.2 924.9,268.6 925.2,252.8 925.5,266.4 925.9,271.7 926.2,260.6 926.5,264.5 926.8,267.4 927.1,266.8 927.5,264.1 927.8,256.3 928.1,244.7 928.4,247.5 928.7,249.0 929.1,264.9 929.4,261.3 929.7,261.1 930.0,245.3 930.3,252.5 930.7,235.6 931.0,229.7 931.3,233.2 931.6,217.5 931.9,215.4 932.3,223.0 932.6,229.0 932.9,232.8 933.2,240.0 933.5,253.3 933.9,246.1 934.2,238.5 934.5,248.2 934.8,242.1 935.1,245.7 935.5,255.6 935.8,258.4 936.1,253.1 936.4,245.2 936.7,232.3 937.1,257.0 937.4,257.6 937.7,262.6 938.0,252.6 938.3,237.9 938.7,236.6 939.0,254.5 939.3,252.8 939.6,251.3 940.0,242.9 940.3,249.5 940.6,254.8 940.9,250.3 941.2,244.1 941.6,239.0 941.9,250.5 942.2,253.5 942.5,253.5 942.8,257.4 943.2,253.0 943.5,259.1 943.8,249.2 944.1,255.7 944.4,259.3 944.8,239.7 945.1,227.3 945.4,225.5 945.7,243.3 946.0,250.2 946.4,255.0 946.7,265.6 947.0,254.9 947.3,250.3 947.6,246.6 948.0,255.7 948.3,252.2 948.6,244.0 948.9,241.6 949.2,250.1 949.6,252.2 949.9,256.1 950.2,249.4 950.5,238.6 950.8,249.5 951.2,257.4 951.5,256.2 951.8,270.1 952.1,259.8 952.4,267.6 952.8,264.8 953.1,263.4 953.4,263.8 953.7,253.0 954.0,252.8 954.4,261.7 954.7,251.1 955.0,261.1 955.3,252.2 955.6,252.5 956.0,267.5 956.3,259.0 956.6,243.8 956.9,256.4 957.2,258.4 957.6,246.7 957.9,250.9 958.2,257.9 958.5,261.4 958.8,266.3 959.2,254.9 959.5,263.2 959.8,251.3 960.1,247.0 960.4,253.8 960.8,259.4 961.1,269.7 961.4,249.0 961.7,267.3 962.0,260.1 962.4,275.7 962.7,267.4 963.0,268.0 963.3,285.9 963.7,282.5 964.0,277.7 964.3,266.5 964.6,264.3 964.9,280.6 965.3,264.8 965.6,271.3 965.9,261.1 966.2,261.8 966.5,251.0 966.9,260.7 967.2,268.4 967.5,268.3 967.8,257.7 968.1,255.3 968.5,266.2 968.8,256.5 969.1,263.2 969.4,266.0 969.7,255.9 970.1,230.8 970.4,233.3 970.7,254.3 971.0,246.3 971.3,259.8 971.7,266.1 972.0,258.4 972.3,261.8 972.6,256.0 972.9,263.0 973.3,265.5 973.6,255.7 973.9,261.7 974.2,280.0 974.5,275.5 974.9,286.6 975.2,278.7 975.5,274.2 975.8,283.3 976.1,273.2 976.5,268.6 976.8,273.4 977.1,280.9 977.4,272.2 977.7,267.8 978.1,273.2 978.4,273.3 978.7,257.9 979.0,268.7 979.3,271.1 979.7,265.1 980.0,273.1 980.3,276.8 980.6,272.9 980.9,251.6 981.3,260.6 981.6,262.5 981.9,271.2 982.2,280.0 982.5,273.9 982.9,261.4 983.2,266.9 983.5,260.0 983.8,263.7 984.1,262.2 984.5,251.9 984.8,253.3 985.1,267.5 985.4,264.6 985.8,276.1 986.1,268.1 986.4,258.6 986.7,259.4 987.0,255.4 987.4,256.3 987.7,250.4 988.0,252.8 988.3,261.9 988.6,266.8 989.0,258.0 989.3,256.0 989.6,257.7 989.9,267.5 990.2,256.8 990.6,268.2 990.9,264.5 991.2,270.8 991.5,270.7 991.8,266.4 992.2,274.8 992.5,264.7 992.8,269.3 993.1,248.1 993.4,268.1 993.8,274.1 994.1,273.5 994.4,265.4 994.7,262.4 995.0,265.0 995.4,265.1 995.7,263.8 996.0,254.1 996.3,265.0 996.6,262.5 997.0,269.1 997.3,261.4 997.6,266.4 997.9,282.1 998.2,272.2 998.6,272.2 998.9,269.1 999.2,255.3 999.5,261.6 999.8,281.8 1000.2,273.6 1000.5,278.7 1000.8,268.0 1001.1,274.5 1001.4,289.2 1001.8,274.9 1002.1,279.4 1002.4,267.5 1002.7,267.9 1003.0,265.1 1003.4,271.5 1003.7,277.8 1004.0,282.4 1004.3,275.3 1004.6,275.9 1005.0,275.4 1005.3,272.9 1005.6,281.0 1005.9,275.3 1006.2,269.7 1006.6,282.8 1006.9,270.6 1007.2,265.3 1007.5,269.7 1007.8,265.5 1008.2,252.4 1008.5,249.7 1008.8,242.0 1009.1,243.2 1009.5,250.7 1009.8,240.7 1010.1,253.7 1010.4,264.4 1010.7,267.9 1011.1,264.2 1011.4,274.4 1011.7,266.2 1012.0,267.2 1012.3,273.9 1012.7,271.2 1013.0,264.9 1013.3,276.5 1013.6,273.6 1013.9,273.8 1014.3,273.3 1014.6,259.9 1014.9,260.0 1015.2,259.2 1015.5,270.3 1015.9,250.6 1016.2,267.8 1016.5,275.3 1016.8,268.0 1017.1,277.6 1017.5,270.2 1017.8,283.7 1018.1,294.3 1018.4,284.2 1018.7,268.6 1019.1,286.7 1019.4,275.8 1019.7,268.7 1020.0,273.3 1020.3,270.0 1020.7,267.0 1021.0,283.4 1021.3,288.6 1021.6,295.5 1021.9,283.9 1022.3,276.8 1022.6,282.0 1022.9,276.3 1023.2,282.1 1023.5,281.3 1023.9,276.6 1024.2,262.8 1024.5,275.0 1024.8,270.6 1025.1,266.7 1025.5,277.0 1025.8,261.7 1026.1,272.5 1026.4,267.3 1026.7,277.1 1027.1,268.2 1027.4,261.4 1027.7,275.5 1028.0,295.5 1028.3,287.1 1028.7,285.6 1029.0,294.9 1029.3,278.9 1029.6,297.9 1029.9,293.7 1030.3,290.2 1030.6,283.5 1030.9,278.3 1031.2,287.8 1031.6,277.0 1031.9,263.6 1032.2,268.4 1032.5,278.5 1032.8,271.8 1033.2,273.8 1033.5,275.9 1033.8,282.3 1034.1,290.8 1034.4,285.5 1034.8,291.0 1035.1,266.2 1035.4,265.0 1035.7,252.4 1036.0,270.2 1036.4,282.9 1036.7,273.8 1037.0,267.3 1037.3,275.6 1037.6,283.4 1038.0,277.1 1038.3,286.5 1038.6,285.3 1038.9,281.3 1039.2,280.9 1039.6,272.9 1039.9,266.8 1040.2,274.1 1040.5,284.8 1040.8,279.7 1041.2,267.2 1041.5,271.9 1041.8,280.2 1042.1,275.0 1042.4,275.1 1042.8,266.5 1043.1,275.1 1043.4,273.5 1043.7,285.0 1044.0,280.6 1044.4,281.2 1044.7,286.5 1045.0,280.7 1045.3,261.2 1045.6,274.9 1046.0,276.8 1046.3,272.7 1046.6,273.5 1046.9,285.1 1047.2,274.9 1047.6,267.4 1047.9,272.2 1048.2,259.4 1048.5,248.2 1048.8,249.4 1049.2,267.7 1049.5,280.7 1049.8,273.0 1050.1,274.0 1050.4,271.5 1050.8,261.8 1051.1,255.9 1051.4,269.4 1051.7,277.6 1052.0,272.9 1052.4,275.1 1052.7,269.6 1053.0,260.8 1053.3,261.3 1053.6,244.2 1054.0,248.1 1054.3,245.3 1054.6,262.5 1054.9,261.5 1055.3,262.4 1055.6,253.7 1055.9,262.2 1056.2,256.9 1056.5,270.4 1056.9,270.5 1057.2,258.6 1057.5,260.5 1057.8,264.3 1058.1,277.4 1058.5,264.3 1058.8,267.7 1059.1,253.0 1059.4,263.9 1059.7,268.8 1060.1,274.3 1060.4,278.8 1060.7,280.2 1061.0,274.4 1061.3,272.6 1061.7,260.3 1062.0,258.1 1062.3,255.8 1062.6,253.5 1062.9,276.5 1063.3,275.6 1063.6,274.8 1063.9,275.8 1064.2,277.1 1064.5,286.6 1064.9,265.4 1065.2,241.4 1065.5,261.9 1065.8,262.4 1066.1,260.3 1066.5,264.7 1066.8,257.5 1067.1,267.5 1067.4,264.9 1067.7,266.9 1068.1,278.0 1068.4,283.1 1068.7,265.2 1069.0,266.9 1069.3,270.2 1069.7,262.7 1070.0,282.2 1070.3,278.4 1070.6,269.9 1070.9,272.4 1071.3,282.0 1071.6,267.6 1071.9,260.9 1072.2,269.7 1072.5,267.7 1072.9,276.3 1073.2,282.8 1073.5,285.2 1073.8,273.0 1074.1,266.4 1074.5,259.1 1074.8,271.6 1075.1,268.9 1075.4,271.2 1075.7,262.7 1076.1,250.3 1076.4,246.0 1076.7,243.6 1077.0,252.2 1077.4,247.1 1077.7,253.7 1078.0,260.0 1078.3,258.6 1078.6,265.3 1079.0,274.9 1079.3,270.0 1079.6,271.8 1079.9,263.1 1080.2,249.3 1080.6,245.0 1080.9,252.8 1081.2,249.9 1081.5,247.5 1081.8,248.4 1082.2,273.3 1082.5,259.3 1082.8,255.0 1083.1,260.5 1083.4,271.6 1083.8,270.4 1084.1,260.8 1084.4,270.1 1084.7,284.4 1085.0,282.4 1085.4,270.6 1085.7,278.6 1086.0,281.1 1086.3,277.7 1086.6,285.9 1087.0,274.0 1087.3,266.6 1087.6,271.6 1087.9,268.3 1088.2,260.4 1088.6,252.5 1088.9,268.8 1089.2,270.9 1089.5,249.4 1089.8,259.9 1090.2,266.2 1090.5,267.2 1090.8,260.8 1091.1,263.6 1091.4,260.0 1091.8,251.2 1092.1,268.2 1092.4,263.8 1092.7,264.2 1093.0,259.5 1093.4,264.7 1093.7,274.9 1094.0,260.5 1094.3,274.2 1094.6,269.7 1095.0,256.7 1095.3,255.9 1095.6,257.9 1095.9,271.4 1096.2,270.0 1096.6,262.2 1096.9,263.1 1097.2,252.6 1097.5,255.7 1097.8,265.4 1098.2,251.5 1098.5,266.8 1098.8,269.7 1099.1,274.4 1099.4,287.6 1099.8,284.1 1100.1,277.1 1100.4,274.4 1100.7,264.4 1101.1,261.6 1101.4,265.9 1101.7,270.0 1102.0,271.5 1102.3,271.0 1102.7,276.6 1103.0,273.4 1103.3,275.5 1103.6,273.4 1103.9,272.9 1104.3,282.4 1104.6,268.9 1104.9,259.4 1105.2,264.9 1105.5,263.8 1105.9,280.9 1106.2,276.1 1106.5,262.7 1106.8,262.0 1107.1,281.5 1107.5,284.6 1107.8,269.6 1108.1,275.2 1108.4,266.7 1108.7,279.6 1109.1,279.0 1109.4,266.7 1109.7,268.2 1110.0,272.3 1110.3,260.7 1110.7,268.5 1111.0,274.4 1111.3,277.2 1111.6,263.3 1111.9,275.4 1112.3,267.2 1112.6,283.5 1112.9,286.7 1113.2,280.8 1113.5,282.5 1113.9,289.9 1114.2,277.8 1114.5,287.5 1114.8,279.8 1115.1,276.5 1115.5,268.9 1115.8,266.8 1116.1,275.9 1116.4,281.1 1116.7,269.0 1117.1,273.6 1117.4,270.7 1117.7,268.7 1118.0,278.5 1118.3,287.4 1118.7,280.0 1119.0,282.5 1119.3,282.9 1119.6,285.9 1119.9,271.8 1120.3,280.6 1120.6,283.8 1120.9,295.1 1121.2,299.8 1121.5,285.5 1121.9,267.1 1122.2,273.7 1122.5,264.3 1122.8,267.1 1123.2,259.3 1123.5,261.2 1123.8,252.9 1124.1,261.1 1124.4,253.2 1124.8,260.0 1125.1,275.6 1125.4,277.3 1125.7,263.5 1126.0,259.6 1126.4,277.9 1126.7,271.4 1127.0,266.4 1127.3,257.2 1127.6,263.9 1128.0,263.9 1128.3,270.8 1128.6,269.3 1128.9,268.4 1129.2,281.2 1129.6,278.4 1129.9,272.8 1130.2,277.9 1130.5,277.6 1130.8,267.5 1131.2,269.0 1131.5,252.8 1131.8,258.2 1132.1,261.1 1132.4,268.2 1132.8,276.4 1133.1,281.9 1133.4,271.0 1133.7,260.2 1134.0,260.8 1134.4,267.7 1134.7,259.8 1135.0,261.4 1135.3,245.6 1135.6,241.6 1136.0,243.6 1136.3,239.7 1136.6,255.2 1136.9,253.1 1137.2,250.7 1137.6,263.0 1137.9,262.4 1138.2,262.0 1138.5,253.9 1138.8,272.3 1139.2,276.3 1139.5,266.1 1139.8,257.3 1140.1,252.8 1140.4,246.7 1140.8,262.4 1141.1,249.8 1141.4,238.1 1141.7,246.9 1142.0,241.7 1142.4,237.1 1142.7,235.9 1143.0,230.5 1143.3,224.1 1143.6,232.9 1144.0,227.5 1144.3,250.3 1144.6,254.5 1144.9,247.9 1145.2,234.7 1145.6,250.9 1145.9,244.8 1146.2,232.6 1146.5,239.8 1146.9,241.0 1147.2,233.5 1147.5,227.1 1147.8,228.9 1148.1,245.5 1148.5,225.6 1148.8,235.1 1149.1,245.1 1149.4,249.7 1149.7,251.2 1150.1,258.9 1150.4,231.3 1150.7,233.4 1151.0,228.5 1151.3,247.4 1151.7,246.0 1152.0,239.5 1152.3,241.7 1152.6,220.8 1152.9,242.9 1153.3,249.6 1153.6,238.3 1153.9,248.0 1154.2,241.1 1154.5,228.1 1154.9,241.7 1155.2,235.3 1155.5,235.6 1155.8,248.3 1156.1,252.0 1156.5,247.8 1156.8,242.6 1157.1,240.5 1157.4,229.2 1157.7,244.1 1158.1,237.6 1158.4,228.8 1158.7,247.5 1159.0,251.7 1159.3,243.1 1159.7,241.4 1160.0,234.4 1160.3,226.3 1160.6,226.3 1160.9,235.9 1161.3,231.3 1161.6,250.2 1161.9,239.6 1162.2,241.4 1162.5,241.7 1162.9,241.6 1163.2,245.9 1163.5,250.4 1163.8,239.1 1164.1,244.9 1164.5,243.8 1164.8,255.5 1165.1,247.2 1165.4,247.3 1165.7,249.2 1166.1,256.2 1166.4,247.1 1166.7,252.9 1167.0,245.2 1167.3,267.3 1167.7,262.6 1168.0,252.3 1168.3,257.9 1168.6,251.9 1169.0,251.9 1169.3,247.6 1169.6,239.6 1169.9,241.4 1170.2,259.3 1170.6,242.3 1170.9,255.6 1171.2,265.0 1171.5,248.0 1171.8,261.3 1172.2,260.7 1172.5,257.8 1172.8,257.1 1173.1,264.6 1173.4,252.4 1173.8,276.2 1174.1,279.5 1174.4,271.3 1174.7,257.8 1175.0,275.4 1175.4,280.1 1175.7,269.7 1176.0,267.7 1176.3,273.0 1176.6,261.3 1177.0,268.6 1177.3,268.8 1177.6,273.9 1177.9,268.4 1178.2,268.4 1178.6,266.4 1178.9,244.0 1179.2,240.0 1179.5,241.2 1179.8,244.6 1180.2,250.1 1180.5,253.5 1180.8,255.1 1181.1,253.9 1181.4,258.1 1181.8,258.4 1182.1,245.6 1182.4,254.7 1182.7,254.9 1183.0,260.2 1183.4,247.3 1183.7,257.1 1184.0,248.2 1184.3,242.4 1184.6,235.7 1185.0,224.4 1185.3,235.3 1185.6,233.4 1185.9,247.2 1186.2,232.2 1186.6,229.0 1186.9,243.2 1187.2,244.2 1187.5,224.0 1187.8,216.0 1188.2,234.1 1188.5,233.3 1188.8,239.1 1189.1,243.9 1189.4,243.9 1189.8,238.8 1190.1,227.2 1190.4,236.2 1190.7,229.5 1191.1,238.0 1191.4,239.8 1191.7,233.8 1192.0,232.3 1192.3,233.1 1192.7,224.4 1193.0,216.4 1193.3,232.2 1193.6,224.3 1193.9,227.3 1194.3,223.3 1194.6,232.1 1194.9,224.8 1195.2,222.4 1195.5,225.4 1195.9,227.2 1196.2,226.2 1196.5,241.2 1196.8,235.8 1197.1,226.2 1197.5,240.6 1197.8,222.8 1198.1,227.3 1198.4,223.5 1198.7,217.7 1199.1,219.5 1199.4,215.8 1199.7,238.5 1200.0,228.6 1200.3,224.9 1200.7,219.1 1201.0,230.1 1201.3,233.6 1201.6,239.4 1201.9,239.1 1202.3,228.1 1202.6,228.9 1202.9,231.4 1203.2,238.9 1203.5,243.0 1203.9,240.1 1204.2,242.4 1204.5,237.5 1204.8,232.5 1205.1,244.8 1205.5,244.0 1205.8,253.7 1206.1,245.4 1206.4,227.7 1206.7,233.4 1207.1,256.2 1207.4,266.9 1207.7,248.3 1208.0,250.0 1208.3,246.8 1208.7,257.4 1209.0,250.8 1209.3,251.5 1209.6,265.6 1209.9,268.0 1210.3,276.5 1210.6,268.2 1210.9,262.6 1211.2,261.5 1211.5,275.1 1211.9,268.9 1212.2,274.7 1212.5,258.4 1212.8,253.6 1213.1,254.6 1213.5,259.6 1213.8,244.3 1214.1,253.8 1214.4,256.7 1214.8,267.3 1215.1,263.9 1215.4,267.2 1215.7,255.9 1216.0,258.7 1216.4,263.0 1216.7,252.1 1217.0,254.7 1217.3,255.0 1217.6,260.0 1218.0,244.1 1218.3,248.8 1218.6,264.5 1218.9,252.4 1219.2,248.8 1219.6,263.1 1219.9,271.2 1220.2,266.4 1220.5,268.0 1220.8,256.4 1221.2,263.0 1221.5,255.2 1221.8,258.0 1222.1,255.6 1222.4,247.1 1222.8,244.7 1223.1,258.7 1223.4,261.9 1223.7,268.0 1224.0,272.5 1224.4,273.2 1224.7,265.7 1225.0,264.3 1225.3,264.2 1225.6,242.2 1226.0,249.5 1226.3,241.3 1226.6,245.5 1226.9,254.1 1227.2,256.0 1227.6,250.4 1227.9,258.2 1228.2,262.9 1228.5,254.4 1228.8,256.8 1229.2,251.1 1229.5,263.9 1229.8,255.7 1230.1,258.2 1230.4,262.8 1230.8,264.2 1231.1,260.7 1231.4,247.9 1231.7,243.7 1232.0,253.3 1232.4,248.7 1232.7,258.0 1233.0,273.3 1233.3,255.7 1233.6,260.1 1234.0,248.1 1234.3,257.6 1234.6,260.6 1234.9,255.7 1235.2,254.9 1235.6,250.6 1235.9,268.9 1236.2,266.1 1236.5,256.6 1236.9,250.0 1237.2,251.6 1237.5,252.8 1237.8,258.6 1238.1,258.5 1238.5,257.7 1238.8,253.5 1239.1,261.5 1239.4,257.8 1239.7,253.5 1240.1,256.3 1240.4,258.3 1240.7,259.1 1241.0,275.5 1241.3,268.4 1241.7,264.0 1242.0,277.8 1242.3,267.9 1242.6,250.9 1242.9,257.4 1243.3,250.9 1243.6,258.5 1243.9,261.1 1244.2,256.2 1244.5,251.6 1244.9,252.1 1245.2,267.8 1245.5,265.3 1245.8,271.2 1246.1,261.1 1246.5,262.7 1246.8,269.2 1247.1,248.8 1247.4,257.7 1247.7,258.3 1248.1,253.1 1248.4,248.9 1248.7,250.8 1249.0,262.3 1249.3,271.2 1249.7,254.6 1250.0,253.7 1250.3,262.7 1250.6,254.9 1250.9,243.3 1251.3,245.6 1251.6,246.6 1251.9,242.1 1252.2,239.0 1252.5,243.0 1252.9,231.1 1253.2,246.9 1253.5,241.7 1253.8,235.0 1254.1,250.3 1254.5,242.5 1254.8,256.4 1255.1,242.5 1255.4,233.6 1255.7,242.9 1256.1,234.7 1256.4,242.9 1256.7,235.0 1257.0,238.4 1257.3,240.1 1257.7,262.7 1258.0,263.5 1258.3,262.4 1258.6,248.8 1258.9,231.5 1259.3,252.4 1259.6,246.3 1259.9,242.8 1260.2,243.4 1260.6,246.5 1260.9,257.6 1261.2,264.4 1261.5,267.9 1261.8,250.9 1262.2,254.7 1262.5,251.2 1262.8,264.7 1263.1,269.0 1263.4,256.0 1263.8,272.9 1264.1,253.1 1264.4,257.8 1264.7,251.9 1265.0,251.8 1265.4,244.2 1265.7,241.7 1266.0,244.5 1266.3,254.3 1266.6,244.3 1267.0,242.7 1267.3,260.3 1267.6,246.9 1267.9,255.5 1268.2,246.2 1268.6,257.3 1268.9,245.4 1269.2,248.3 1269.5,264.8 1269.8,252.1 1270.2,257.4 1270.5,254.4 1270.8,259.2 1271.1,252.0 1271.4,251.7 1271.8,254.4 1272.1,255.4 1272.4,238.9 1272.7,249.3 1273.0,256.4 1273.4,244.7 1273.7,256.5 1274.0,265.3 1274.3,241.2 1274.6,241.9 1275.0,252.0 1275.3,236.5 1275.6,221.5 1275.9,251.9 1276.2,238.2 1276.6,236.4 1276.9,253.7 1277.2,258.9 1277.5,242.3 1277.8,233.9 1278.2,231.9 1278.5,237.6 1278.8,234.1 1279.1,251.8 1279.4,244.1 1279.8,248.4 1280.1,249.9 1280.4,251.5 1280.7,249.8 1281.0,251.6 1281.4,252.0 1281.7,243.1 1282.0,244.4 1282.3,258.2 1282.7,258.3 1283.0,264.5 1283.3,264.5 1283.6,250.5 1283.9,250.5 1284.3,253.5 1284.6,247.7 1284.9,248.0 1285.2,236.7 1285.5,231.3 1285.9,231.0 1286.2,229.3 1286.5,240.2 1286.8,232.5 1287.1,231.4 1287.5,221.7 1287.8,238.8 1288.1,251.1 1288.4,243.4 1288.7,235.2 1289.1,232.7 1289.4,235.1 1289.7,250.2 1290.0,243.0 1290.3,243.4 1290.7,236.3 1291.0,239.7 1291.3,239.0 1291.6,242.9 1291.9,242.5 1292.3,231.1 1292.6,231.9 1292.9,234.7 1293.2,239.5 1293.5,242.3 1293.9,237.7 1294.2,243.0 1294.5,232.2 1294.8,242.3 1295.1,230.6 1295.5,251.6 1295.8,240.7 1296.1,242.2 1296.4,248.7 1296.7,243.0 1297.1,243.4 1297.4,249.0 1297.7,233.0 1298.0,236.6 1298.3,239.6 1298.7,237.8 1299.0,234.6 1299.3,236.1 1299.6,224.9 1299.9,235.3 1300.3,255.2 1300.6,226.4 1300.9,234.1 1301.2,237.1 1301.5,240.1 1301.9,226.4 1302.2,232.1 1302.5,225.7 1302.8,218.1 1303.1,238.3 1303.5,237.7 1303.8,223.8 1304.1,229.9 1304.4,236.4 1304.7,234.3 1305.1,236.8 1305.4,235.0 1305.7,239.0 1306.0,234.6 1306.4,225.6 1306.7,229.7 1307.0,237.3 1307.3,239.1 1307.6,235.0 1308.0,233.0 1308.3,239.0 1308.6,242.8 1308.9,243.9 1309.2,237.4 1309.6,233.2 1309.9,251.1 1310.2,229.7 1310.5,230.2 1310.8,231.7 1311.2,240.2 1311.5,239.5 1311.8,246.8 1312.1,248.2 1312.4,247.8 1312.8,261.1 1313.1,259.5 1313.4,240.2 1313.7,243.6 1314.0,239.4 1314.4,230.8 1314.7,233.7" />
<polyline fill="none" stroke="#9A8BC5" stroke-width="4.3" stroke-linejoin="round" points="790.7,179.9 791.2,178.3 791.8,176.6 792.3,174.9 792.8,173.1 793.4,171.2 793.9,169.2 794.4,167.2 795.0,165.1 795.5,162.9 796.0,160.7 796.6,158.4 797.1,156.1 797.6,153.7 798.2,151.3 798.7,148.8 799.2,146.3 799.8,143.7 800.3,141.1 800.8,138.5 801.4,135.8 801.9,133.1 802.4,130.4 803.0,127.7 803.5,125.0 804.0,122.2 804.6,119.5 805.1,116.7 805.6,114.0 806.2,111.3 806.7,108.5 807.2,105.8 807.8,103.1 808.3,100.5 808.8,97.8 809.4,95.2 809.9,92.7 810.5,90.2 811.0,87.7 811.5,85.3 812.1,82.9 812.6,80.6 813.1,78.4 813.7,76.2 814.2,74.1 814.7,72.1 815.3,70.1 815.8,68.2 816.3,66.5 816.9,64.8 817.4,63.2 817.9,61.6 818.5,60.2 819.0,58.9 819.5,57.7 820.1,56.6 820.6,55.5 821.1,54.6 821.7,53.8 822.2,53.2 822.7,52.6 823.3,52.1 823.8,51.8 824.3,51.5 824.9,51.4 825.4,51.4 825.9,51.5 826.5,51.7 827.0,52.0 827.5,52.3 828.1,52.8 828.6,53.4 829.1,54.1 829.7,54.8 830.2,55.7 830.7,56.6 831.3,57.7 831.8,58.8 832.3,60.0 832.9,61.2 833.4,62.5 833.9,64.0 834.5,65.4 835.0,66.9 835.5,68.5 836.1,70.2 836.6,71.8 837.1,73.6 837.7,75.3 838.2,77.1 838.7,79.0 839.3,80.8 839.8,82.7 840.3,84.5 840.9,86.4 841.4,88.3 841.9,90.2 842.5,92.0 843.0,93.9 843.5,95.7 844.1,97.5 844.6,99.3 845.1,101.1 845.7,102.8 846.2,104.5 846.7,106.1 847.3,107.6 847.8,109.1 848.4,110.6 848.9,111.9 849.4,113.3 850.0,114.5 850.5,115.6 851.0,116.7 851.6,117.7 852.1,118.6 852.6,119.4 853.2,120.2 853.7,120.8 854.2,121.3 854.8,121.8 855.3,122.1 855.8,122.4 856.4,122.5 856.9,122.6 857.4,122.6 858.0,122.5 858.5,122.3 859.0,122.2 859.6,121.9 860.1,121.6 860.6,121.3 861.2,120.9 861.7,120.5 862.2,120.0 862.8,119.5 863.3,118.9 863.8,118.3 864.4,117.6 864.9,116.9 865.4,116.2 866.0,115.4 866.5,114.6 867.0,113.7 867.6,112.8 868.1,111.9 868.6,110.9 869.2,109.9 869.7,108.9 870.2,107.9 870.8,106.8 871.3,105.7 871.8,104.6 872.4,103.5 872.9,102.4 873.4,101.2 874.0,100.1 874.5,98.9 875.0,97.7 875.6,96.6 876.1,95.4 876.6,94.2 877.2,93.1 877.7,91.9 878.2,90.7 878.8,89.6 879.3,88.5 879.8,87.4 880.4,86.3 880.9,85.2 881.4,84.1 882.0,83.1 882.5,82.1 883.0,81.1 883.6,80.2 884.1,79.3 884.6,78.4 885.2,77.6 885.7,76.8 886.3,76.0 886.8,75.3 887.3,74.6 887.9,73.9 888.4,73.3 888.9,72.8 889.5,72.3 890.0,71.8 890.5,71.4 891.1,71.1 891.6,70.8 892.1,70.5 892.7,70.3 893.2,70.1 893.7,70.0 894.3,70.0 894.8,70.0 895.3,70.0 895.9,70.1 896.4,70.2 896.9,70.3 897.5,70.5 898.0,70.7 898.5,71.0 899.1,71.3 899.6,71.6 900.1,71.9 900.7,72.3 901.2,72.7 901.7,73.1 902.3,73.6 902.8,74.1 903.3,74.6 903.9,75.2 904.4,75.8 904.9,76.3 905.5,77.0 906.0,77.6 906.5,78.3 907.1,78.9 907.6,79.6 908.1,80.3 908.7,81.0 909.2,81.8 909.7,82.5 910.3,83.2 910.8,84.0 911.3,84.7 911.9,85.5 912.4,86.2 912.9,87.0 913.5,87.7 914.0,88.5 914.5,89.2 915.1,89.9 915.6,90.7 916.1,91.4 916.7,92.1 917.2,92.7 917.7,93.4 918.3,94.1 918.8,94.7 919.3,95.3 919.9,95.9 920.4,96.4 920.9,97.0 921.5,97.5 922.0,98.0 922.5,98.4 923.1,98.8 923.6,99.2 924.2,99.6 924.7,99.9 925.2,100.2 925.8,100.5 926.3,100.7 926.8,100.9 927.4,101.1 927.9,101.2 928.4,101.3 929.0,101.4 929.5,101.4 930.0,101.4 930.6,101.3 931.1,101.2 931.6,101.1 932.2,101.0 932.7,100.8 933.2,100.6 933.8,100.4 934.3,100.1 934.8,99.8 935.4,99.5 935.9,99.2 936.4,98.8 937.0,98.4 937.5,98.0 938.0,97.6 938.6,97.1 939.1,96.7 939.6,96.2 940.2,95.7 940.7,95.1 941.2,94.6 941.8,94.0 942.3,93.5 942.8,92.9 943.4,92.3 943.9,91.7 944.4,91.1 945.0,90.5 945.5,89.9 946.0,89.3 946.6,88.7 947.1,88.1 947.6,87.5 948.2,86.9 948.7,86.3 949.2,85.7 949.8,85.2 950.3,84.6 950.8,84.1 951.4,83.5 951.9,83.0 952.4,82.5 953.0,82.1 953.5,81.6 954.0,81.2 954.6,80.7 955.1,80.4 955.6,80.0 956.2,79.7 956.7,79.3 957.2,79.1 957.8,78.8 958.3,78.6 958.8,78.4 959.4,78.2 959.9,78.1 960.4,78.0 961.0,77.9 961.5,77.8 962.0,77.8 962.6,77.8 963.1,77.8 963.7,77.9 964.2,77.9 964.7,78.0 965.3,78.1 965.8,78.2 966.3,78.3 966.9,78.4 967.4,78.6 967.9,78.7 968.5,78.9 969.0,79.1 969.5,79.2 970.1,79.4 970.6,79.7 971.1,79.9 971.7,80.1 972.2,80.4 972.7,80.6 973.3,80.9 973.8,81.1 974.3,81.4 974.9,81.7 975.4,82.0 975.9,82.3 976.5,82.6 977.0,82.9 977.5,83.2 978.1,83.5 978.6,83.8 979.1,84.1 979.7,84.4 980.2,84.7 980.7,85.0 981.3,85.3 981.8,85.6 982.3,85.9 982.9,86.2 983.4,86.5 983.9,86.8 984.5,87.1 985.0,87.3 985.5,87.6 986.1,87.8 986.6,88.1 987.1,88.3 987.7,88.5 988.2,88.8 988.7,89.0 989.3,89.1 989.8,89.3 990.3,89.5 990.9,89.6 991.4,89.8 991.9,89.9 992.5,90.0 993.0,90.1 993.5,90.2 994.1,90.3 994.6,90.3 995.1,90.4 995.7,90.4 996.2,90.4 996.7,90.4 997.3,90.4 997.8,90.3 998.3,90.3 998.9,90.2 999.4,90.2 999.9,90.1 1000.5,90.0 1001.0,89.9 1001.6,89.8 1002.1,89.7 1002.6,89.6 1003.2,89.5 1003.7,89.3 1004.2,89.2 1004.8,89.0 1005.3,88.9 1005.8,88.7 1006.4,88.5 1006.9,88.3 1007.4,88.2 1008.0,88.0 1008.5,87.8 1009.0,87.6 1009.6,87.3 1010.1,87.1 1010.6,86.9 1011.2,86.7 1011.7,86.5 1012.2,86.2 1012.8,86.0 1013.3,85.8 1013.8,85.6 1014.4,85.3 1014.9,85.1 1015.4,84.9 1016.0,84.7 1016.5,84.4 1017.0,84.2 1017.6,84.0 1018.1,83.8 1018.6,83.6 1019.2,83.4 1019.7,83.2 1020.2,83.0 1020.8,82.8 1021.3,82.6 1021.8,82.5 1022.4,82.3 1022.9,82.1 1023.4,82.0 1024.0,81.9 1024.5,81.7 1025.0,81.6 1025.6,81.5 1026.1,81.4 1026.6,81.3 1027.2,81.2 1027.7,81.2 1028.2,81.1 1028.8,81.0 1029.3,81.0 1029.8,81.0 1030.4,81.0 1030.9,81.0 1031.4,81.0 1032.0,81.0 1032.5,81.0 1033.0,81.0 1033.6,81.0 1034.1,81.1 1034.6,81.1 1035.2,81.2 1035.7,81.2 1036.2,81.3 1036.8,81.4 1037.3,81.4 1037.8,81.5 1038.4,81.6 1038.9,81.7 1039.5,81.8 1040.0,81.9 1040.5,82.0 1041.1,82.1 1041.6,82.2 1042.1,82.3 1042.7,82.4 1043.2,82.5 1043.7,82.7 1044.3,82.8 1044.8,82.9 1045.3,83.0 1045.9,83.2 1046.4,83.3 1046.9,83.4 1047.5,83.6 1048.0,83.7 1048.5,83.8 1049.1,84.0 1049.6,84.1 1050.1,84.2 1050.7,84.4 1051.2,84.5 1051.7,84.6 1052.3,84.7 1052.8,84.8 1053.3,85.0 1053.9,85.1 1054.4,85.2 1054.9,85.3 1055.5,85.4 1056.0,85.5 1056.5,85.6 1057.1,85.6 1057.6,85.7 1058.1,85.8 1058.7,85.9 1059.2,85.9 1059.7,86.0 1060.3,86.0 1060.8,86.1 1061.3,86.1 1061.9,86.1 1062.4,86.2 1062.9,86.2 1063.5,86.2 1064.0,86.2 1064.5,86.2 1065.1,86.2 1065.6,86.2 1066.1,86.2 1066.7,86.1 1067.2,86.1 1067.7,86.1 1068.3,86.0 1068.8,86.0 1069.3,85.9 1069.9,85.9 1070.4,85.8 1070.9,85.8 1071.5,85.7 1072.0,85.7 1072.5,85.6 1073.1,85.5 1073.6,85.4 1074.1,85.4 1074.7,85.3 1075.2,85.2 1075.7,85.1 1076.3,85.0 1076.8,84.9 1077.4,84.8 1077.9,84.7 1078.4,84.6 1079.0,84.5 1079.5,84.4 1080.0,84.3 1080.6,84.2 1081.1,84.1 1081.6,84.0 1082.2,83.9 1082.7,83.8 1083.2,83.7 1083.8,83.6 1084.3,83.5 1084.8,83.5 1085.4,83.4 1085.9,83.3 1086.4,83.2 1087.0,83.1 1087.5,83.0 1088.0,83.0 1088.6,82.9 1089.1,82.8 1089.6,82.7 1090.2,82.7 1090.7,82.6 1091.2,82.6 1091.8,82.5 1092.3,82.5 1092.8,82.4 1093.4,82.4 1093.9,82.4 1094.4,82.3 1095.0,82.3 1095.5,82.3 1096.0,82.3 1096.6,82.3 1097.1,82.3 1097.6,82.3 1098.2,82.3 1098.7,82.3 1099.2,82.3 1099.8,82.3 1100.3,82.3 1100.8,82.3 1101.4,82.3 1101.9,82.4 1102.4,82.4 1103.0,82.4 1103.5,82.4 1104.0,82.5 1104.6,82.5 1105.1,82.5 1105.6,82.6 1106.2,82.6 1106.7,82.6 1107.2,82.7 1107.8,82.7 1108.3,82.7 1108.8,82.8 1109.4,82.8 1109.9,82.9 1110.4,82.9 1111.0,83.0 1111.5,83.0 1112.0,83.0 1112.6,83.1 1113.1,83.1 1113.6,83.2 1114.2,83.2 1114.7,83.3 1115.3,83.3 1115.8,83.4 1116.3,83.4 1116.9,83.5 1117.4,83.5 1117.9,83.5 1118.5,83.6 1119.0,83.6 1119.5,83.7 1120.1,83.7 1120.6,83.7 1121.1,83.8 1121.7,83.8 1122.2,83.8 1122.7,83.9 1123.3,83.9 1123.8,83.9 1124.3,84.0 1124.9,84.0 1125.4,84.0 1125.9,84.0 1126.5,84.0 1127.0,84.1 1127.5,84.1 1128.1,84.1 1128.6,84.1 1129.1,84.1 1129.7,84.1 1130.2,84.1 1130.7,84.1 1131.3,84.1 1131.8,84.1 1132.3,84.1 1132.9,84.1 1133.4,84.1 1133.9,84.1 1134.5,84.1 1135.0,84.0 1135.5,84.0 1136.1,84.0 1136.6,84.0 1137.1,84.0 1137.7,84.0 1138.2,84.0 1138.7,83.9 1139.3,83.9 1139.8,83.9 1140.3,83.9 1140.9,83.9 1141.4,83.8 1141.9,83.8 1142.5,83.8 1143.0,83.8 1143.5,83.8 1144.1,83.7 1144.6,83.7 1145.1,83.7 1145.7,83.7 1146.2,83.6 1146.7,83.6 1147.3,83.6 1147.8,83.6 1148.3,83.5 1148.9,83.5 1149.4,83.5 1149.9,83.4 1150.5,83.4 1151.0,83.4 1151.5,83.4 1152.1,83.4 1152.6,83.3 1153.2,83.3 1153.7,83.3 1154.2,83.3 1154.8,83.2 1155.3,83.2 1155.8,83.2 1156.4,83.2 1156.9,83.2 1157.4,83.2 1158.0,83.1 1158.5,83.1 1159.0,83.1 1159.6,83.1 1160.1,83.1 1160.6,83.1 1161.2,83.1 1161.7,83.1 1162.2,83.1 1162.8,83.1 1163.3,83.1 1163.8,83.1 1164.4,83.1 1164.9,83.1 1165.4,83.1 1166.0,83.1 1166.5,83.1 1167.0,83.1 1167.6,83.1 1168.1,83.1 1168.6,83.1 1169.2,83.1 1169.7,83.1 1170.2,83.1 1170.8,83.1 1171.3,83.1 1171.8,83.1 1172.4,83.1 1172.9,83.1 1173.4,83.1 1174.0,83.1 1174.5,83.1 1175.0,83.1 1175.6,83.1 1176.1,83.1 1176.6,83.1 1177.2,83.1 1177.7,83.1 1178.2,83.2 1178.8,83.2 1179.3,83.2 1179.8,83.2 1180.4,83.2 1180.9,83.2 1181.4,83.2 1182.0,83.2 1182.5,83.2 1183.0,83.2 1183.6,83.2 1184.1,83.2 1184.6,83.2 1185.2,83.2 1185.7,83.2 1186.2,83.3 1186.8,83.3 1187.3,83.3 1187.8,83.3 1188.4,83.3 1188.9,83.3 1189.4,83.3 1190.0,83.3 1190.5,83.3 1191.1,83.3 1191.6,83.3 1192.1,83.3 1192.7,83.3 1193.2,83.3 1193.7,83.3 1194.3,83.3 1194.8,83.3 1195.3,83.3 1195.9,83.3 1196.4,83.3 1196.9,83.3 1197.5,83.3 1198.0,83.3 1198.5,83.3 1199.1,83.3 1199.6,83.3 1200.1,83.3 1200.7,83.3 1201.2,83.3 1201.7,83.3 1202.3,83.3 1202.8,83.3 1203.3,83.3 1203.9,83.3 1204.4,83.3 1204.9,83.3 1205.5,83.3 1206.0,83.3 1206.5,83.3 1207.1,83.3 1207.6,83.3 1208.1,83.3 1208.7,83.3 1209.2,83.3 1209.7,83.3 1210.3,83.3 1210.8,83.3 1211.3,83.3 1211.9,83.3 1212.4,83.3 1212.9,83.3 1213.5,83.3 1214.0,83.3 1214.5,83.3 1215.1,83.3 1215.6,83.3 1216.1,83.3 1216.7,83.3 1217.2,83.3 1217.7,83.3 1218.3,83.3 1218.8,83.3 1219.3,83.3 1219.9,83.3 1220.4,83.3 1220.9,83.3 1221.5,83.3 1222.0,83.3 1222.5,83.3 1223.1,83.3 1223.6,83.3 1224.1,83.3 1224.7,83.3 1225.2,83.3 1225.7,83.3 1226.3,83.3 1226.8,83.3 1227.3,83.3 1227.9,83.3 1228.4,83.3 1228.9,83.3 1229.5,83.3 1230.0,83.3 1230.6,83.3 1231.1,83.3 1231.6,83.3 1232.2,83.3 1232.7,83.3 1233.2,83.3 1233.8,83.3 1234.3,83.3 1234.8,83.3 1235.4,83.3 1235.9,83.3 1236.4,83.3 1237.0,83.3 1237.5,83.3 1238.0,83.3 1238.6,83.3 1239.1,83.3 1239.6,83.3 1240.2,83.3 1240.7,83.3 1241.2,83.3 1241.8,83.3 1242.3,83.3 1242.8,83.3 1243.4,83.3 1243.9,83.3 1244.4,83.3 1245.0,83.3 1245.5,83.3 1246.0,83.3 1246.6,83.3 1247.1,83.3 1247.6,83.3 1248.2,83.3 1248.7,83.3 1249.2,83.3 1249.8,83.3 1250.3,83.3 1250.8,83.3 1251.4,83.3 1251.9,83.3 1252.4,83.3 1253.0,83.3 1253.5,83.3 1254.0,83.3 1254.6,83.3 1255.1,83.3 1255.6,83.3 1256.2,83.3 1256.7,83.3 1257.2,83.3 1257.8,83.3 1258.3,83.3 1258.8,83.3 1259.4,83.3 1259.9,83.3 1260.4,83.3 1261.0,83.3 1261.5,83.3 1262.0,83.3 1262.6,83.3 1263.1,83.3 1263.6,83.3 1264.2,83.3 1264.7,83.3 1265.2,83.3 1265.8,83.3 1266.3,83.3 1266.8,83.3 1267.4,83.3 1267.9,83.3 1268.5,83.3 1269.0,83.3 1269.5,83.3 1270.1,83.3 1270.6,83.3 1271.1,83.3 1271.7,83.3 1272.2,83.3 1272.7,83.3 1273.3,83.3 1273.8,83.3 1274.3,83.3 1274.9,83.3 1275.4,83.3 1275.9,83.3 1276.5,83.3 1277.0,83.3 1277.5,83.3 1278.1,83.3 1278.6,83.3 1279.1,83.3 1279.7,83.3 1280.2,83.3 1280.7,83.3 1281.3,83.3 1281.8,83.3 1282.3,83.3 1282.9,83.3 1283.4,83.3 1283.9,83.3 1284.5,83.3 1285.0,83.3 1285.5,83.3 1286.1,83.3 1286.6,83.3 1287.1,83.3 1287.7,83.3 1288.2,83.3 1288.7,83.3 1289.3,83.3 1289.8,83.3 1290.3,83.3 1290.9,83.3 1291.4,83.3 1291.9,83.3 1292.5,83.3 1293.0,83.3 1293.5,83.3 1294.1,83.3 1294.6,83.3 1295.1,83.3 1295.7,83.3 1296.2,83.3 1296.7,83.3 1297.3,83.3 1297.8,83.3 1298.3,83.3 1298.9,83.3 1299.4,83.3 1299.9,83.3 1300.5,83.3 1301.0,83.3 1301.5,83.3 1302.1,83.3 1302.6,83.3 1303.1,83.3 1303.7,83.3 1304.2,83.3 1304.7,83.3 1305.3,83.3 1305.8,83.3 1306.4,83.3 1306.9,83.3 1307.4,83.3 1308.0,83.3 1308.5,83.3 1309.0,83.3 1309.6,83.3 1310.1,83.3 1310.6,83.3 1311.2,83.3 1311.7,83.3 1312.2,83.3 1312.8,83.3 1313.3,83.3 1313.8,83.3 1314.4,83.3 1314.9,83.3 1315.4,83.3 1316.0,83.3 1316.5,83.3 1317.0,83.3 1317.6,83.3 1318.1,83.3 1318.6,83.3 1319.2,83.3 1319.7,83.3 1320.2,83.3 1320.8,83.3 1321.3,83.3 1321.8,83.3 1322.4,83.3 1322.9,83.3 1323.4,83.3 1324.0,83.3 1324.5,83.3" />
<polyline fill="none" stroke="#E8A022" stroke-width="4.3" stroke-linejoin="round" points="790.7,179.9 791.2,182.0 791.8,184.2 792.3,186.5 792.8,188.9 793.4,191.3 793.9,193.9 794.4,196.6 795.0,199.3 795.5,202.2 796.0,205.1 796.6,208.1 797.1,211.2 797.6,214.3 798.2,217.5 798.7,220.8 799.2,224.1 799.8,227.5 800.3,230.9 800.8,234.4 801.4,237.9 801.9,241.4 802.4,245.0 803.0,248.5 803.5,252.1 804.0,255.7 804.6,259.3 805.1,262.9 805.6,266.4 806.2,270.0 806.7,273.5 807.2,277.0 807.8,280.4 808.3,283.8 808.8,287.2 809.4,290.5 809.9,293.7 810.5,296.9 811.0,300.0 811.5,303.0 812.1,305.9 812.6,308.7 813.1,311.5 813.7,314.1 814.2,316.6 814.7,319.1 815.3,321.4 815.8,323.5 816.3,325.6 816.9,327.5 817.4,329.3 817.9,331.0 818.5,332.5 819.0,333.9 819.5,335.1 820.1,336.2 820.6,337.1 821.1,337.9 821.7,338.6 822.2,339.0 822.7,339.4 823.3,339.5 823.8,339.6 824.3,339.4 824.9,339.2 825.4,338.8 825.9,338.3 826.5,337.6 827.0,336.8 827.5,335.9 828.1,334.9 828.6,333.7 829.1,332.4 829.7,331.0 830.2,329.5 830.7,327.9 831.3,326.2 831.8,324.3 832.3,322.4 832.9,320.3 833.4,318.2 833.9,316.0 834.5,313.7 835.0,311.3 835.5,308.9 836.1,306.4 836.6,303.8 837.1,301.2 837.7,298.5 838.2,295.8 838.7,293.0 839.3,290.2 839.8,287.4 840.3,284.6 840.9,281.8 841.4,278.9 841.9,276.1 842.5,273.3 843.0,270.4 843.5,267.6 844.1,264.9 844.6,262.1 845.1,259.4 845.7,256.8 846.2,254.2 846.7,251.6 847.3,249.1 847.8,246.7 848.4,244.4 848.9,242.1 849.4,239.9 850.0,237.8 850.5,235.8 851.0,233.9 851.6,232.1 852.1,230.4 852.6,228.8 853.2,227.4 853.7,226.0 854.2,224.8 854.8,223.7 855.3,222.7 855.8,221.8 856.4,221.1 856.9,220.5 857.4,220.0 858.0,219.7 858.5,219.5 859.0,219.4 859.6,219.5 860.1,219.6 860.6,219.8 861.2,220.2 861.7,220.6 862.2,221.1 862.8,221.6 863.3,222.3 863.8,223.1 864.4,223.9 864.9,224.8 865.4,225.8 866.0,226.9 866.5,228.0 867.0,229.2 867.6,230.5 868.1,231.8 868.6,233.2 869.2,234.6 869.7,236.1 870.2,237.7 870.8,239.3 871.3,240.9 871.8,242.5 872.4,244.2 872.9,245.9 873.4,247.7 874.0,249.4 874.5,251.2 875.0,253.0 875.6,254.7 876.1,256.5 876.6,258.3 877.2,260.0 877.7,261.8 878.2,263.5 878.8,265.2 879.3,266.8 879.8,268.4 880.4,270.0 880.9,271.6 881.4,273.1 882.0,274.5 882.5,275.9 883.0,277.2 883.6,278.5 884.1,279.7 884.6,280.8 885.2,281.9 885.7,282.9 886.3,283.8 886.8,284.6 887.3,285.4 887.9,286.1 888.4,286.6 888.9,287.1 889.5,287.5 890.0,287.9 890.5,288.1 891.1,288.2 891.6,288.3 892.1,288.2 892.7,288.2 893.2,288.0 893.7,287.8 894.3,287.6 894.8,287.3 895.3,286.9 895.9,286.5 896.4,286.1 896.9,285.5 897.5,285.0 898.0,284.4 898.5,283.7 899.1,283.0 899.6,282.3 900.1,281.5 900.7,280.7 901.2,279.8 901.7,278.9 902.3,278.0 902.8,277.0 903.3,276.0 903.9,275.0 904.4,273.9 904.9,272.8 905.5,271.7 906.0,270.6 906.5,269.4 907.1,268.3 907.6,267.1 908.1,265.9 908.7,264.7 909.2,263.5 909.7,262.4 910.3,261.2 910.8,260.0 911.3,258.8 911.9,257.6 912.4,256.4 912.9,255.3 913.5,254.1 914.0,253.0 914.5,251.9 915.1,250.8 915.6,249.7 916.1,248.7 916.7,247.7 917.2,246.7 917.7,245.8 918.3,244.9 918.8,244.0 919.3,243.2 919.9,242.4 920.4,241.7 920.9,241.0 921.5,240.3 922.0,239.7 922.5,239.2 923.1,238.6 923.6,238.2 924.2,237.8 924.7,237.4 925.2,237.1 925.8,236.9 926.3,236.7 926.8,236.5 927.4,236.5 927.9,236.4 928.4,236.5 929.0,236.5 929.5,236.6 930.0,236.7 930.6,236.9 931.1,237.1 931.6,237.3 932.2,237.6 932.7,237.8 933.2,238.2 933.8,238.5 934.3,238.9 934.8,239.3 935.4,239.8 935.9,240.2 936.4,240.7 937.0,241.3 937.5,241.8 938.0,242.4 938.6,243.0 939.1,243.6 939.6,244.2 940.2,244.8 940.7,245.5 941.2,246.2 941.8,246.8 942.3,247.5 942.8,248.2 943.4,248.9 943.9,249.7 944.4,250.4 945.0,251.1 945.5,251.8 946.0,252.5 946.6,253.2 947.1,254.0 947.6,254.7 948.2,255.4 948.7,256.0 949.2,256.7 949.8,257.4 950.3,258.0 950.8,258.6 951.4,259.2 951.9,259.8 952.4,260.4 953.0,260.9 953.5,261.5 954.0,262.0 954.6,262.4 955.1,262.9 955.6,263.3 956.2,263.7 956.7,264.0 957.2,264.3 957.8,264.6 958.3,264.9 958.8,265.1 959.4,265.3 959.9,265.5 960.4,265.6 961.0,265.7 961.5,265.7 962.0,265.8 962.6,265.7 963.1,265.7 963.7,265.6 964.2,265.5 964.7,265.4 965.3,265.3 965.8,265.1 966.3,264.9 966.9,264.7 967.4,264.4 967.9,264.2 968.5,263.9 969.0,263.5 969.5,263.2 970.1,262.8 970.6,262.5 971.1,262.1 971.7,261.6 972.2,261.2 972.7,260.8 973.3,260.3 973.8,259.8 974.3,259.3 974.9,258.8 975.4,258.3 975.9,257.8 976.5,257.2 977.0,256.7 977.5,256.2 978.1,255.6 978.6,255.1 979.1,254.5 979.7,253.9 980.2,253.4 980.7,252.8 981.3,252.3 981.8,251.8 982.3,251.2 982.9,250.7 983.4,250.2 983.9,249.7 984.5,249.2 985.0,248.7 985.5,248.2 986.1,247.8 986.6,247.4 987.1,246.9 987.7,246.5 988.2,246.2 988.7,245.8 989.3,245.5 989.8,245.1 990.3,244.8 990.9,244.6 991.4,244.3 991.9,244.1 992.5,243.9 993.0,243.7 993.5,243.6 994.1,243.5 994.6,243.4 995.1,243.3 995.7,243.3 996.2,243.2 996.7,243.3 997.3,243.3 997.8,243.3 998.3,243.4 998.9,243.4 999.4,243.5 999.9,243.6 1000.5,243.7 1001.0,243.8 1001.6,243.9 1002.1,244.1 1002.6,244.2 1003.2,244.4 1003.7,244.6 1004.2,244.8 1004.8,245.0 1005.3,245.2 1005.8,245.4 1006.4,245.6 1006.9,245.9 1007.4,246.1 1008.0,246.4 1008.5,246.6 1009.0,246.9 1009.6,247.2 1010.1,247.4 1010.6,247.7 1011.2,248.0 1011.7,248.3 1012.2,248.6 1012.8,248.9 1013.3,249.1 1013.8,249.4 1014.4,249.7 1014.9,250.0 1015.4,250.3 1016.0,250.6 1016.5,250.8 1017.0,251.1 1017.6,251.4 1018.1,251.6 1018.6,251.9 1019.2,252.1 1019.7,252.4 1020.2,252.6 1020.8,252.8 1021.3,253.0 1021.8,253.2 1022.4,253.4 1022.9,253.6 1023.4,253.8 1024.0,253.9 1024.5,254.1 1025.0,254.2 1025.6,254.3 1026.1,254.4 1026.6,254.5 1027.2,254.6 1027.7,254.6 1028.2,254.7 1028.8,254.7 1029.3,254.8 1029.8,254.8 1030.4,254.8 1030.9,254.7 1031.4,254.7 1032.0,254.7 1032.5,254.6 1033.0,254.5 1033.6,254.5 1034.1,254.4 1034.6,254.3 1035.2,254.2 1035.7,254.0 1036.2,253.9 1036.8,253.8 1037.3,253.6 1037.8,253.5 1038.4,253.3 1038.9,253.1 1039.5,252.9 1040.0,252.7 1040.5,252.5 1041.1,252.3 1041.6,252.1 1042.1,251.9 1042.7,251.7 1043.2,251.5 1043.7,251.2 1044.3,251.0 1044.8,250.8 1045.3,250.5 1045.9,250.3 1046.4,250.0 1046.9,249.8 1047.5,249.6 1048.0,249.3 1048.5,249.1 1049.1,248.9 1049.6,248.6 1050.1,248.4 1050.7,248.2 1051.2,248.0 1051.7,247.8 1052.3,247.6 1052.8,247.4 1053.3,247.2 1053.9,247.0 1054.4,246.8 1054.9,246.6 1055.5,246.5 1056.0,246.3 1056.5,246.2 1057.1,246.1 1057.6,245.9 1058.1,245.8 1058.7,245.7 1059.2,245.6 1059.7,245.6 1060.3,245.5 1060.8,245.4 1061.3,245.4 1061.9,245.4 1062.4,245.3 1062.9,245.3 1063.5,245.3 1064.0,245.3 1064.5,245.4 1065.1,245.4 1065.6,245.4 1066.1,245.4 1066.7,245.5 1067.2,245.5 1067.7,245.6 1068.3,245.6 1068.8,245.7 1069.3,245.8 1069.9,245.8 1070.4,245.9 1070.9,246.0 1071.5,246.1 1072.0,246.2 1072.5,246.3 1073.1,246.3 1073.6,246.5 1074.1,246.6 1074.7,246.7 1075.2,246.8 1075.7,246.9 1076.3,247.0 1076.8,247.1 1077.4,247.3 1077.9,247.4 1078.4,247.5 1079.0,247.6 1079.5,247.8 1080.0,247.9 1080.6,248.0 1081.1,248.2 1081.6,248.3 1082.2,248.4 1082.7,248.5 1083.2,248.7 1083.8,248.8 1084.3,248.9 1084.8,249.1 1085.4,249.2 1085.9,249.3 1086.4,249.4 1087.0,249.5 1087.5,249.7 1088.0,249.8 1088.6,249.9 1089.1,250.0 1089.6,250.1 1090.2,250.2 1090.7,250.3 1091.2,250.4 1091.8,250.5 1092.3,250.5 1092.8,250.6 1093.4,250.7 1093.9,250.7 1094.4,250.8 1095.0,250.9 1095.5,250.9 1096.0,251.0 1096.6,251.0 1097.1,251.0 1097.6,251.0 1098.2,251.1 1098.7,251.1 1099.2,251.1 1099.8,251.1 1100.3,251.1 1100.8,251.1 1101.4,251.1 1101.9,251.1 1102.4,251.1 1103.0,251.0 1103.5,251.0 1104.0,251.0 1104.6,251.0 1105.1,250.9 1105.6,250.9 1106.2,250.9 1106.7,250.8 1107.2,250.8 1107.8,250.7 1108.3,250.7 1108.8,250.6 1109.4,250.6 1109.9,250.5 1110.4,250.5 1111.0,250.4 1111.5,250.3 1112.0,250.3 1112.6,250.2 1113.1,250.2 1113.6,250.1 1114.2,250.0 1114.7,250.0 1115.3,249.9 1115.8,249.8 1116.3,249.8 1116.9,249.7 1117.4,249.6 1117.9,249.6 1118.5,249.5 1119.0,249.4 1119.5,249.4 1120.1,249.3 1120.6,249.2 1121.1,249.2 1121.7,249.1 1122.2,249.1 1122.7,249.0 1123.3,248.9 1123.8,248.9 1124.3,248.8 1124.9,248.8 1125.4,248.8 1125.9,248.7 1126.5,248.7 1127.0,248.6 1127.5,248.6 1128.1,248.6 1128.6,248.6 1129.1,248.5 1129.7,248.5 1130.2,248.5 1130.7,248.5 1131.3,248.5 1131.8,248.5 1132.3,248.5 1132.9,248.5 1133.4,248.5 1133.9,248.5 1134.5,248.5 1135.0,248.5 1135.5,248.5 1136.1,248.5 1136.6,248.5 1137.1,248.5 1137.7,248.5 1138.2,248.6 1138.7,248.6 1139.3,248.6 1139.8,248.6 1140.3,248.6 1140.9,248.7 1141.4,248.7 1141.9,248.7 1142.5,248.7 1143.0,248.7 1143.5,248.8 1144.1,248.8 1144.6,248.8 1145.1,248.8 1145.7,248.9 1146.2,248.9 1146.7,248.9 1147.3,248.9 1147.8,249.0 1148.3,249.0 1148.9,249.0 1149.4,249.1 1149.9,249.1 1150.5,249.1 1151.0,249.1 1151.5,249.2 1152.1,249.2 1152.6,249.2 1153.2,249.2 1153.7,249.3 1154.2,249.3 1154.8,249.3 1155.3,249.3 1155.8,249.4 1156.4,249.4 1156.9,249.4 1157.4,249.4 1158.0,249.4 1158.5,249.4 1159.0,249.5 1159.6,249.5 1160.1,249.5 1160.6,249.5 1161.2,249.5 1161.7,249.5 1162.2,249.5 1162.8,249.5 1163.3,249.5 1163.8,249.5 1164.4,249.5 1164.9,249.5 1165.4,249.5 1166.0,249.5 1166.5,249.5 1167.0,249.5 1167.6,249.5 1168.1,249.5 1168.6,249.5 1169.2,249.5 1169.7,249.5 1170.2,249.5 1170.8,249.5 1171.3,249.5 1171.8,249.5 1172.4,249.4 1172.9,249.4 1173.4,249.4 1174.0,249.4 1174.5,249.4 1175.0,249.4 1175.6,249.4 1176.1,249.4 1176.6,249.4 1177.2,249.3 1177.7,249.3 1178.2,249.3 1178.8,249.3 1179.3,249.3 1179.8,249.3 1180.4,249.3 1180.9,249.3 1181.4,249.2 1182.0,249.2 1182.5,249.2 1183.0,249.2 1183.6,249.2 1184.1,249.2 1184.6,249.2 1185.2,249.1 1185.7,249.1 1186.2,249.1 1186.8,249.1 1187.3,249.1 1187.8,249.1 1188.4,249.1 1188.9,249.1 1189.4,249.1 1190.0,249.1 1190.5,249.0 1191.1,249.0 1191.6,249.0 1192.1,249.0 1192.7,249.0 1193.2,249.0 1193.7,249.0 1194.3,249.0 1194.8,249.0 1195.3,249.0 1195.9,249.0 1196.4,249.0 1196.9,249.0 1197.5,249.0 1198.0,249.0 1198.5,249.0 1199.1,249.0 1199.6,249.0 1200.1,249.0 1200.7,249.0 1201.2,249.0 1201.7,249.0 1202.3,249.0 1202.8,249.0 1203.3,249.0 1203.9,249.0 1204.4,249.0 1204.9,249.0 1205.5,249.0 1206.0,249.0 1206.5,249.0 1207.1,249.0 1207.6,249.0 1208.1,249.0 1208.7,249.0 1209.2,249.0 1209.7,249.0 1210.3,249.0 1210.8,249.0 1211.3,249.0 1211.9,249.0 1212.4,249.0 1212.9,249.0 1213.5,249.0 1214.0,249.0 1214.5,249.0 1215.1,249.0 1215.6,249.0 1216.1,249.0 1216.7,249.0 1217.2,249.0 1217.7,249.0 1218.3,249.0 1218.8,249.0 1219.3,249.0 1219.9,249.0 1220.4,249.0 1220.9,249.0 1221.5,249.0 1222.0,249.0 1222.5,249.0 1223.1,249.0 1223.6,249.0 1224.1,249.0 1224.7,249.0 1225.2,249.0 1225.7,249.0 1226.3,249.0 1226.8,249.0 1227.3,249.0 1227.9,249.0 1228.4,249.0 1228.9,249.0 1229.5,249.0 1230.0,249.0 1230.6,249.0 1231.1,249.0 1231.6,249.0 1232.2,249.0 1232.7,249.0 1233.2,249.0 1233.8,249.0 1234.3,249.0 1234.8,249.0 1235.4,249.0 1235.9,249.0 1236.4,249.0 1237.0,249.0 1237.5,249.0 1238.0,249.0 1238.6,249.0 1239.1,249.0 1239.6,249.0 1240.2,249.0 1240.7,249.0 1241.2,249.0 1241.8,249.0 1242.3,249.0 1242.8,249.0 1243.4,249.0 1243.9,249.0 1244.4,249.0 1245.0,249.0 1245.5,249.0 1246.0,249.0 1246.6,249.0 1247.1,249.0 1247.6,249.0 1248.2,249.0 1248.7,249.0 1249.2,249.0 1249.8,249.0 1250.3,249.0 1250.8,249.0 1251.4,249.0 1251.9,249.0 1252.4,249.0 1253.0,249.0 1253.5,249.0 1254.0,249.0 1254.6,249.0 1255.1,249.0 1255.6,249.0 1256.2,249.0 1256.7,249.0 1257.2,249.0 1257.8,249.0 1258.3,249.0 1258.8,249.0 1259.4,249.0 1259.9,249.0 1260.4,249.0 1261.0,249.0 1261.5,249.0 1262.0,249.0 1262.6,249.0 1263.1,249.0 1263.6,249.0 1264.2,249.0 1264.7,249.0 1265.2,249.0 1265.8,249.0 1266.3,249.0 1266.8,249.0 1267.4,249.0 1267.9,249.0 1268.5,249.0 1269.0,249.0 1269.5,249.0 1270.1,249.0 1270.6,249.0 1271.1,249.0 1271.7,249.0 1272.2,249.0 1272.7,249.0 1273.3,249.0 1273.8,249.0 1274.3,249.0 1274.9,249.0 1275.4,249.0 1275.9,249.0 1276.5,249.0 1277.0,249.0 1277.5,249.0 1278.1,249.0 1278.6,249.0 1279.1,249.0 1279.7,249.0 1280.2,249.0 1280.7,249.0 1281.3,249.0 1281.8,249.0 1282.3,249.0 1282.9,249.0 1283.4,249.0 1283.9,249.0 1284.5,249.0 1285.0,249.0 1285.5,249.0 1286.1,249.0 1286.6,249.0 1287.1,249.0 1287.7,249.0 1288.2,249.0 1288.7,249.0 1289.3,249.0 1289.8,249.0 1290.3,249.0 1290.9,249.0 1291.4,249.0 1291.9,249.0 1292.5,249.0 1293.0,249.0 1293.5,249.0 1294.1,249.0 1294.6,249.0 1295.1,249.0 1295.7,249.0 1296.2,249.0 1296.7,249.0 1297.3,249.0 1297.8,249.0 1298.3,249.0 1298.9,249.0 1299.4,249.0 1299.9,249.0 1300.5,249.0 1301.0,249.0 1301.5,249.0 1302.1,249.0 1302.6,249.0 1303.1,249.0 1303.7,249.0 1304.2,249.0 1304.7,249.0 1305.3,249.0 1305.8,249.0 1306.4,249.0 1306.9,249.0 1307.4,249.0 1308.0,249.0 1308.5,249.0 1309.0,249.0 1309.6,249.0 1310.1,249.0 1310.6,249.0 1311.2,249.0 1311.7,249.0 1312.2,249.0 1312.8,249.0 1313.3,249.0 1313.8,249.0 1314.4,249.0 1314.9,249.0 1315.4,249.0 1316.0,249.0 1316.5,249.0 1317.0,249.0 1317.6,249.0 1318.1,249.0 1318.6,249.0 1319.2,249.0 1319.7,249.0 1320.2,249.0 1320.8,249.0 1321.3,249.0 1321.8,249.0 1322.4,249.0 1322.9,249.0 1323.4,249.0 1324.0,249.0 1324.5,249.0" />
</g>
<g clip-path="url(#cpd)">
<polyline fill="none" stroke="#A798CE" stroke-width="2.8" stroke-linejoin="round" points="790.7,694.0 791.0,694.3 791.3,694.2 791.7,695.8 792.0,695.0 792.3,696.6 792.6,695.8 792.9,696.2 793.3,697.4 793.6,699.2 793.9,697.5 794.2,696.1 794.5,698.3 794.9,695.0 795.2,696.8 795.5,695.3 795.8,694.8 796.1,694.4 796.5,699.5 796.8,703.7 797.1,706.7 797.4,706.4 797.7,709.3 798.1,709.4 798.4,706.7 798.7,708.1 799.0,706.6 799.3,711.9 799.7,713.9 800.0,714.8 800.3,718.1 800.6,719.6 800.9,718.9 801.3,721.9 801.6,721.4 801.9,721.5 802.2,720.8 802.5,723.2 802.9,721.7 803.2,723.5 803.5,723.9 803.8,726.1 804.1,724.0 804.5,725.0 804.8,732.0 805.1,727.8 805.4,731.4 805.8,731.7 806.1,730.2 806.4,730.3 806.7,733.2 807.0,734.5 807.4,735.7 807.7,736.9 808.0,738.1 808.3,736.9 808.6,738.1 809.0,738.6 809.3,740.8 809.6,742.5 809.9,746.2 810.2,742.9 810.6,742.9 810.9,747.5 811.2,749.3 811.5,748.0 811.8,751.5 812.2,751.9 812.5,752.3 812.8,754.0 813.1,754.8 813.4,755.4 813.8,755.0 814.1,757.6 814.4,761.4 814.7,754.4 815.0,755.1 815.4,754.3 815.7,754.5 816.0,759.1 816.3,758.8 816.6,761.2 817.0,762.8 817.3,763.8 817.6,766.6 817.9,766.3 818.2,762.7 818.6,767.9 818.9,761.0 819.2,767.6 819.5,767.3 819.8,768.6 820.2,765.1 820.5,766.5 820.8,770.8 821.1,770.5 821.4,772.1 821.8,771.8 822.1,771.3 822.4,768.9 822.7,769.9 823.0,770.6 823.4,767.2 823.7,768.2 824.0,766.5 824.3,769.9 824.6,767.8 825.0,767.1 825.3,768.0 825.6,767.9 825.9,770.3 826.2,768.3 826.6,768.8 826.9,770.8 827.2,769.4 827.5,768.9 827.8,770.8 828.2,771.2 828.5,769.2 828.8,771.5 829.1,765.6 829.4,767.6 829.8,765.4 830.1,769.5 830.4,767.2 830.7,769.5 831.0,766.6 831.4,763.4 831.7,761.7 832.0,761.2 832.3,763.1 832.6,762.9 833.0,761.8 833.3,762.3 833.6,763.6 833.9,762.6 834.2,759.3 834.6,758.9 834.9,757.1 835.2,757.5 835.5,756.0 835.9,756.3 836.2,753.7 836.5,753.0 836.8,752.6 837.1,751.5 837.5,754.7 837.8,758.5 838.1,757.5 838.4,754.4 838.7,753.8 839.1,753.4 839.4,751.1 839.7,750.6 840.0,747.2 840.3,750.6 840.7,748.9 841.0,748.9 841.3,748.4 841.6,745.9 841.9,744.6 842.3,744.5 842.6,741.2 842.9,742.2 843.2,739.4 843.5,742.3 843.9,740.9 844.2,743.6 844.5,741.6 844.8,744.1 845.1,739.5 845.5,742.7 845.8,742.9 846.1,741.0 846.4,735.1 846.7,737.0 847.1,738.6 847.4,737.7 847.7,735.1 848.0,734.5 848.3,735.5 848.7,733.1 849.0,730.8 849.3,733.1 849.6,731.5 849.9,733.2 850.3,729.8 850.6,729.5 850.9,736.5 851.2,737.2 851.5,734.6 851.9,734.2 852.2,729.7 852.5,728.7 852.8,724.3 853.1,725.4 853.5,727.8 853.8,728.1 854.1,726.9 854.4,724.9 854.7,722.0 855.1,724.7 855.4,721.0 855.7,727.6 856.0,726.1 856.3,724.9 856.7,725.0 857.0,731.3 857.3,726.2 857.6,726.6 857.9,728.7 858.3,727.6 858.6,724.1 858.9,729.5 859.2,725.1 859.5,725.8 859.9,726.5 860.2,725.7 860.5,726.1 860.8,725.7 861.1,721.6 861.5,727.4 861.8,728.5 862.1,728.6 862.4,726.3 862.7,723.6 863.1,723.1 863.4,726.7 863.7,725.9 864.0,729.5 864.4,727.8 864.7,719.8 865.0,724.8 865.3,728.6 865.6,728.4 866.0,727.8 866.3,726.2 866.6,728.8 866.9,731.7 867.2,728.6 867.6,728.7 867.9,726.7 868.2,728.4 868.5,731.8 868.8,731.1 869.2,730.1 869.5,732.2 869.8,734.6 870.1,732.3 870.4,731.0 870.8,734.2 871.1,737.9 871.4,735.0 871.7,734.1 872.0,731.6 872.4,736.4 872.7,732.3 873.0,735.2 873.3,736.5 873.6,735.4 874.0,739.8 874.3,740.2 874.6,740.6 874.9,736.3 875.2,739.2 875.6,738.3 875.9,739.5 876.2,740.4 876.5,741.7 876.8,734.2 877.2,737.8 877.5,739.4 877.8,742.1 878.1,744.0 878.4,741.4 878.8,742.2 879.1,740.5 879.4,744.9 879.7,740.9 880.0,743.4 880.4,745.7 880.7,744.7 881.0,747.9 881.3,749.8 881.6,748.9 882.0,747.5 882.3,749.9 882.6,746.9 882.9,747.2 883.2,749.5 883.6,749.5 883.9,747.4 884.2,746.2 884.5,747.7 884.8,748.0 885.2,748.2 885.5,748.9 885.8,749.1 886.1,751.6 886.4,749.1 886.8,747.8 887.1,748.6 887.4,750.7 887.7,751.4 888.0,749.1 888.4,752.3 888.7,751.2 889.0,748.3 889.3,746.6 889.6,754.6 890.0,754.6 890.3,752.5 890.6,753.4 890.9,754.1 891.2,759.4 891.6,759.6 891.9,757.0 892.2,758.5 892.5,755.0 892.9,756.0 893.2,759.1 893.5,759.8 893.8,762.1 894.1,761.9 894.5,760.7 894.8,760.9 895.1,761.7 895.4,757.5 895.7,762.2 896.1,762.8 896.4,763.5 896.7,759.0 897.0,757.2 897.3,760.1 897.7,760.8 898.0,761.8 898.3,760.3 898.6,760.1 898.9,765.1 899.3,762.2 899.6,761.4 899.9,762.7 900.2,758.6 900.5,762.1 900.9,757.9 901.2,759.8 901.5,756.0 901.8,757.3 902.1,755.7 902.5,754.9 902.8,758.6 903.1,760.3 903.4,760.9 903.7,755.1 904.1,753.3 904.4,752.8 904.7,753.3 905.0,754.3 905.3,755.3 905.7,755.0 906.0,755.2 906.3,754.5 906.6,753.2 906.9,751.1 907.3,754.2 907.6,752.8 907.9,752.8 908.2,755.2 908.5,754.7 908.9,746.6 909.2,751.4 909.5,751.5 909.8,752.8 910.1,750.0 910.5,747.8 910.8,750.2 911.1,750.9 911.4,749.2 911.7,749.4 912.1,751.3 912.4,754.2 912.7,753.0 913.0,748.8 913.3,752.5 913.7,747.0 914.0,748.0 914.3,745.4 914.6,745.5 914.9,750.2 915.3,749.4 915.6,748.3 915.9,748.2 916.2,745.2 916.5,742.7 916.9,745.4 917.2,747.4 917.5,744.7 917.8,744.8 918.1,747.5 918.5,750.1 918.8,747.1 919.1,749.7 919.4,746.4 919.7,749.8 920.1,744.5 920.4,747.8 920.7,746.2 921.0,747.9 921.3,750.7 921.7,751.2 922.0,749.8 922.3,750.4 922.6,751.3 923.0,750.8 923.3,749.2 923.6,747.3 923.9,747.6 924.2,748.0 924.6,747.7 924.9,747.6 925.2,749.8 925.5,746.1 925.8,744.9 926.2,744.1 926.5,747.0 926.8,745.9 927.1,742.5 927.4,744.0 927.8,745.2 928.1,743.1 928.4,746.9 928.7,747.5 929.0,749.9 929.4,752.3 929.7,751.9 930.0,749.1 930.3,748.2 930.6,742.2 931.0,741.9 931.3,741.4 931.6,745.8 931.9,746.2 932.2,745.7 932.6,746.3 932.9,746.2 933.2,745.2 933.5,742.6 933.8,747.3 934.2,745.8 934.5,747.8 934.8,747.0 935.1,747.9 935.4,745.7 935.8,747.4 936.1,747.2 936.4,748.4 936.7,744.4 937.0,743.1 937.4,748.6 937.7,747.8 938.0,747.2 938.3,749.1 938.6,750.0 939.0,751.7 939.3,751.7 939.6,752.5 939.9,754.3 940.2,756.1 940.6,753.8 940.9,752.1 941.2,752.4 941.5,750.0 941.8,751.1 942.2,749.3 942.5,754.0 942.8,752.5 943.1,751.7 943.4,747.4 943.8,747.7 944.1,746.6 944.4,752.4 944.7,751.0 945.0,747.0 945.4,750.8 945.7,747.9 946.0,750.9 946.3,748.9 946.6,749.9 947.0,750.1 947.3,749.0 947.6,747.8 947.9,750.4 948.2,751.3 948.6,752.6 948.9,750.7 949.2,751.0 949.5,752.6 949.8,754.1 950.2,754.5 950.5,754.0 950.8,754.9 951.1,754.0 951.5,753.8 951.8,754.4 952.1,754.9 952.4,757.6 952.7,754.5 953.1,754.4 953.4,755.2 953.7,756.8 954.0,760.2 954.3,760.4 954.7,759.9 955.0,754.8 955.3,757.9 955.6,755.3 955.9,759.4 956.3,756.9 956.6,758.0 956.9,759.4 957.2,762.3 957.5,758.1 957.9,757.0 958.2,759.1 958.5,759.0 958.8,757.5 959.1,758.4 959.5,758.9 959.8,756.5 960.1,755.5 960.4,755.1 960.7,752.9 961.1,752.9 961.4,754.7 961.7,756.8 962.0,754.7 962.3,753.0 962.7,752.2 963.0,753.9 963.3,755.4 963.6,755.0 963.9,755.7 964.3,757.4 964.6,755.8 964.9,759.2 965.2,758.3 965.5,758.0 965.9,760.8 966.2,756.7 966.5,760.7 966.8,760.4 967.1,758.6 967.5,760.1 967.8,758.6 968.1,756.9 968.4,758.8 968.7,760.0 969.1,760.3 969.4,758.7 969.7,761.3 970.0,760.5 970.3,760.9 970.7,757.6 971.0,760.7 971.3,761.5 971.6,758.8 971.9,761.5 972.3,762.9 972.6,761.1 972.9,757.7 973.2,756.3 973.5,757.5 973.9,756.8 974.2,756.8 974.5,749.9 974.8,752.8 975.1,755.5 975.5,752.3 975.8,751.0 976.1,754.2 976.4,756.8 976.7,755.6 977.1,754.7 977.4,752.3 977.7,754.9 978.0,753.3 978.3,751.2 978.7,751.2 979.0,753.6 979.3,758.3 979.6,756.8 980.0,759.2 980.3,757.4 980.6,758.6 980.9,756.3 981.2,761.2 981.6,755.0 981.9,753.2 982.2,753.5 982.5,758.0 982.8,759.0 983.2,761.4 983.5,762.9 983.8,759.3 984.1,757.5 984.4,756.1 984.8,757.9 985.1,757.1 985.4,758.0 985.7,756.7 986.0,752.5 986.4,754.4 986.7,756.1 987.0,752.4 987.3,751.4 987.6,752.3 988.0,755.5 988.3,756.1 988.6,755.2 988.9,752.5 989.2,754.3 989.6,753.5 989.9,751.8 990.2,753.4 990.5,750.2 990.8,754.9 991.2,757.7 991.5,760.1 991.8,760.5 992.1,761.5 992.4,758.1 992.8,755.5 993.1,752.9 993.4,758.6 993.7,756.4 994.0,756.3 994.4,755.2 994.7,756.3 995.0,758.2 995.3,757.8 995.6,756.1 996.0,752.1 996.3,753.0 996.6,760.7 996.9,758.8 997.2,761.9 997.6,756.3 997.9,755.7 998.2,755.4 998.5,753.0 998.8,754.7 999.2,754.7 999.5,757.8 999.8,754.5 1000.1,755.7 1000.4,755.4 1000.8,755.0 1001.1,755.3 1001.4,751.5 1001.7,753.0 1002.0,752.2 1002.4,751.4 1002.7,754.8 1003.0,756.2 1003.3,753.1 1003.6,756.8 1004.0,759.5 1004.3,755.0 1004.6,757.4 1004.9,755.4 1005.2,750.5 1005.6,748.4 1005.9,749.4 1006.2,750.4 1006.5,747.1 1006.8,750.0 1007.2,750.8 1007.5,751.4 1007.8,751.9 1008.1,754.5 1008.4,756.4 1008.8,757.3 1009.1,759.9 1009.4,756.6 1009.7,754.8 1010.1,755.9 1010.4,757.8 1010.7,753.8 1011.0,753.3 1011.3,750.3 1011.7,751.3 1012.0,746.6 1012.3,744.1 1012.6,749.6 1012.9,747.9 1013.3,748.8 1013.6,749.5 1013.9,750.7 1014.2,750.5 1014.5,750.5 1014.9,749.1 1015.2,749.6 1015.5,748.3 1015.8,750.2 1016.1,749.9 1016.5,743.9 1016.8,746.9 1017.1,748.6 1017.4,747.0 1017.7,748.9 1018.1,752.1 1018.4,747.9 1018.7,747.4 1019.0,745.2 1019.3,747.1 1019.7,748.2 1020.0,747.2 1020.3,749.4 1020.6,748.6 1020.9,753.1 1021.3,748.2 1021.6,748.8 1021.9,745.1 1022.2,746.5 1022.5,751.8 1022.9,747.0 1023.2,747.1 1023.5,748.7 1023.8,747.4 1024.1,746.5 1024.5,745.8 1024.8,744.1 1025.1,745.0 1025.4,745.3 1025.7,748.0 1026.1,750.1 1026.4,749.0 1026.7,749.0 1027.0,748.6 1027.3,749.4 1027.7,751.8 1028.0,745.6 1028.3,750.2 1028.6,745.8 1028.9,744.5 1029.3,751.4 1029.6,752.6 1029.9,745.3 1030.2,744.4 1030.5,747.4 1030.9,749.6 1031.2,748.3 1031.5,749.5 1031.8,749.5 1032.1,746.0 1032.5,749.5 1032.8,749.4 1033.1,749.2 1033.4,746.1 1033.7,747.7 1034.1,746.1 1034.4,743.5 1034.7,747.3 1035.0,749.3 1035.3,746.7 1035.7,746.2 1036.0,748.8 1036.3,750.6 1036.6,747.6 1036.9,747.1 1037.3,743.9 1037.6,747.4 1037.9,748.0 1038.2,748.1 1038.6,744.1 1038.9,746.0 1039.2,748.1 1039.5,748.1 1039.8,749.8 1040.2,751.0 1040.5,749.0 1040.8,745.7 1041.1,749.3 1041.4,747.2 1041.8,747.4 1042.1,746.7 1042.4,747.0 1042.7,747.2 1043.0,749.7 1043.4,748.8 1043.7,750.4 1044.0,747.5 1044.3,747.3 1044.6,747.6 1045.0,748.7 1045.3,748.7 1045.6,748.1 1045.9,747.0 1046.2,753.5 1046.6,753.8 1046.9,753.3 1047.2,752.4 1047.5,752.1 1047.8,753.0 1048.2,752.3 1048.5,755.3 1048.8,753.8 1049.1,752.9 1049.4,750.5 1049.8,749.9 1050.1,751.7 1050.4,752.0 1050.7,750.5 1051.0,750.3 1051.4,749.8 1051.7,750.4 1052.0,745.3 1052.3,752.5 1052.6,752.0 1053.0,748.8 1053.3,751.0 1053.6,747.0 1053.9,748.9 1054.2,752.1 1054.6,750.5 1054.9,750.8 1055.2,750.6 1055.5,751.9 1055.8,754.5 1056.2,752.7 1056.5,754.3 1056.8,751.9 1057.1,748.7 1057.4,749.9 1057.8,748.5 1058.1,752.6 1058.4,753.2 1058.7,751.8 1059.0,750.4 1059.4,751.6 1059.7,753.0 1060.0,748.4 1060.3,751.7 1060.6,749.9 1061.0,748.1 1061.3,745.9 1061.6,747.6 1061.9,747.3 1062.2,748.8 1062.6,748.8 1062.9,750.4 1063.2,753.3 1063.5,752.7 1063.8,750.7 1064.2,751.2 1064.5,754.4 1064.8,755.0 1065.1,757.2 1065.4,756.2 1065.8,755.8 1066.1,752.4 1066.4,750.6 1066.7,748.7 1067.0,750.2 1067.4,752.8 1067.7,753.9 1068.0,750.5 1068.3,754.3 1068.7,756.5 1069.0,755.7 1069.3,754.8 1069.6,753.1 1069.9,751.3 1070.3,754.8 1070.6,755.8 1070.9,755.3 1071.2,754.2 1071.5,749.6 1071.9,754.3 1072.2,753.1 1072.5,749.9 1072.8,747.3 1073.1,746.6 1073.5,748.1 1073.8,750.0 1074.1,750.2 1074.4,751.4 1074.7,750.4 1075.1,748.7 1075.4,745.9 1075.7,746.7 1076.0,748.6 1076.3,747.5 1076.7,749.8 1077.0,749.8 1077.3,749.6 1077.6,751.1 1077.9,753.3 1078.3,751.8 1078.6,753.6 1078.9,752.2 1079.2,754.0 1079.5,750.9 1079.9,751.3 1080.2,755.1 1080.5,755.8 1080.8,754.8 1081.1,757.2 1081.5,759.1 1081.8,755.2 1082.1,754.9 1082.4,754.3 1082.7,750.7 1083.1,751.4 1083.4,753.3 1083.7,756.4 1084.0,753.9 1084.3,755.7 1084.7,758.0 1085.0,754.6 1085.3,752.6 1085.6,751.7 1085.9,756.0 1086.3,751.1 1086.6,749.3 1086.9,749.4 1087.2,749.7 1087.5,751.6 1087.9,752.8 1088.2,751.5 1088.5,751.6 1088.8,749.0 1089.1,751.3 1089.5,750.9 1089.8,752.4 1090.1,754.4 1090.4,754.8 1090.7,757.6 1091.1,754.4 1091.4,753.2 1091.7,755.3 1092.0,758.9 1092.3,757.6 1092.7,752.7 1093.0,758.0 1093.3,754.9 1093.6,756.1 1093.9,755.4 1094.3,754.4 1094.6,759.8 1094.9,752.4 1095.2,753.9 1095.5,752.5 1095.9,751.3 1096.2,750.7 1096.5,755.6 1096.8,753.7 1097.2,753.7 1097.5,757.8 1097.8,759.0 1098.1,759.6 1098.4,757.5 1098.8,755.9 1099.1,755.6 1099.4,755.0 1099.7,755.0 1100.0,755.7 1100.4,755.2 1100.7,758.3 1101.0,756.7 1101.3,758.0 1101.6,757.9 1102.0,758.5 1102.3,757.4 1102.6,756.0 1102.9,756.8 1103.2,757.9 1103.6,756.8 1103.9,760.7 1104.2,759.3 1104.5,758.6 1104.8,758.8 1105.2,759.7 1105.5,757.7 1105.8,758.3 1106.1,759.1 1106.4,757.5 1106.8,758.5 1107.1,760.1 1107.4,758.3 1107.7,760.3 1108.0,758.5 1108.4,757.3 1108.7,756.0 1109.0,758.9 1109.3,757.8 1109.6,756.3 1110.0,756.8 1110.3,756.5 1110.6,757.0 1110.9,758.8 1111.2,761.8 1111.6,759.5 1111.9,761.6 1112.2,759.2 1112.5,758.5 1112.8,752.9 1113.2,756.0 1113.5,756.2 1113.8,757.3 1114.1,758.9 1114.4,759.2 1114.8,757.1 1115.1,760.5 1115.4,760.9 1115.7,759.3 1116.0,758.7 1116.4,759.6 1116.7,758.5 1117.0,760.1 1117.3,760.3 1117.6,762.7 1118.0,760.8 1118.3,760.1 1118.6,759.3 1118.9,757.8 1119.2,759.7 1119.6,758.4 1119.9,756.7 1120.2,756.4 1120.5,755.9 1120.8,755.7 1121.2,757.8 1121.5,757.1 1121.8,755.5 1122.1,759.2 1122.4,756.4 1122.8,757.7 1123.1,755.9 1123.4,756.4 1123.7,757.4 1124.0,760.5 1124.4,755.2 1124.7,759.9 1125.0,760.0 1125.3,755.1 1125.7,754.1 1126.0,759.7 1126.3,757.0 1126.6,758.2 1126.9,753.5 1127.3,757.2 1127.6,757.6 1127.9,758.1 1128.2,760.5 1128.5,759.8 1128.9,755.3 1129.2,751.4 1129.5,756.3 1129.8,755.9 1130.1,753.7 1130.5,752.0 1130.8,754.7 1131.1,754.2 1131.4,756.2 1131.7,753.9 1132.1,753.6 1132.4,754.4 1132.7,755.1 1133.0,756.3 1133.3,750.0 1133.7,756.5 1134.0,751.7 1134.3,752.5 1134.6,751.7 1134.9,748.0 1135.3,747.6 1135.6,752.3 1135.9,753.3 1136.2,748.7 1136.5,750.1 1136.9,749.4 1137.2,746.9 1137.5,749.2 1137.8,751.6 1138.1,749.7 1138.5,751.0 1138.8,749.8 1139.1,752.7 1139.4,753.4 1139.7,755.9 1140.1,753.5 1140.4,753.0 1140.7,754.7 1141.0,755.0 1141.3,755.5 1141.7,752.0 1142.0,754.4 1142.3,750.4 1142.6,754.9 1142.9,748.0 1143.3,748.0 1143.6,748.5 1143.9,749.7 1144.2,746.9 1144.5,751.8 1144.9,752.6 1145.2,753.6 1145.5,757.5 1145.8,756.4 1146.1,752.1 1146.5,750.8 1146.8,749.0 1147.1,750.9 1147.4,751.8 1147.7,748.5 1148.1,750.6 1148.4,754.8 1148.7,754.1 1149.0,751.0 1149.3,754.0 1149.7,754.4 1150.0,753.0 1150.3,753.2 1150.6,752.2 1150.9,753.6 1151.3,752.0 1151.6,751.1 1151.9,748.8 1152.2,752.8 1152.5,754.1 1152.9,749.7 1153.2,748.8 1153.5,751.9 1153.8,752.2 1154.1,752.3 1154.5,748.4 1154.8,750.0 1155.1,749.8 1155.4,748.8 1155.8,751.8 1156.1,749.3 1156.4,755.7 1156.7,750.8 1157.0,752.0 1157.4,751.4 1157.7,755.4 1158.0,753.5 1158.3,752.5 1158.6,755.5 1159.0,753.7 1159.3,753.0 1159.6,752.7 1159.9,754.2 1160.2,752.6 1160.6,756.1 1160.9,752.9 1161.2,757.6 1161.5,755.5 1161.8,758.0 1162.2,751.9 1162.5,752.9 1162.8,753.3 1163.1,755.5 1163.4,755.1 1163.8,755.4 1164.1,753.8 1164.4,754.0 1164.7,751.5 1165.0,753.4 1165.4,757.8 1165.7,757.9 1166.0,754.2 1166.3,753.0 1166.6,750.3 1167.0,749.9 1167.3,753.0 1167.6,754.7 1167.9,753.7 1168.2,756.3 1168.6,756.7 1168.9,756.7 1169.2,751.8 1169.5,754.1 1169.8,756.2 1170.2,762.8 1170.5,756.6 1170.8,758.2 1171.1,755.8 1171.4,760.0 1171.8,756.6 1172.1,758.4 1172.4,755.3 1172.7,753.8 1173.0,754.8 1173.4,753.3 1173.7,758.8 1174.0,761.4 1174.3,762.3 1174.6,759.6 1175.0,760.3 1175.3,758.2 1175.6,754.0 1175.9,756.8 1176.2,758.6 1176.6,760.1 1176.9,756.0 1177.2,757.3 1177.5,755.8 1177.8,755.3 1178.2,753.9 1178.5,759.5 1178.8,760.7 1179.1,759.7 1179.4,755.3 1179.8,759.3 1180.1,758.0 1180.4,758.2 1180.7,758.6 1181.0,757.1 1181.4,757.7 1181.7,758.0 1182.0,761.8 1182.3,757.0 1182.6,757.6 1183.0,760.6 1183.3,759.5 1183.6,761.5 1183.9,759.2 1184.3,755.9 1184.6,754.3 1184.9,755.7 1185.2,757.6 1185.5,759.9 1185.9,756.9 1186.2,757.1 1186.5,758.4 1186.8,756.1 1187.1,756.1 1187.5,754.9 1187.8,751.3 1188.1,754.0 1188.4,751.4 1188.7,752.3 1189.1,751.9 1189.4,754.0 1189.7,753.4 1190.0,752.2 1190.3,756.0 1190.7,749.9 1191.0,749.8 1191.3,755.3 1191.6,752.8 1191.9,754.8 1192.3,754.5 1192.6,752.9 1192.9,751.3 1193.2,751.2 1193.5,758.8 1193.9,753.1 1194.2,751.9 1194.5,752.8 1194.8,750.4 1195.1,750.4 1195.5,751.3 1195.8,747.2 1196.1,750.6 1196.4,751.0 1196.7,751.6 1197.1,751.8 1197.4,747.3 1197.7,749.8 1198.0,751.6 1198.3,751.8 1198.7,750.3 1199.0,744.5 1199.3,745.6 1199.6,749.5 1199.9,747.5 1200.3,749.0 1200.6,749.8 1200.9,748.2 1201.2,747.1 1201.5,746.9 1201.9,744.5 1202.2,747.7 1202.5,748.0 1202.8,748.7 1203.1,744.5 1203.5,748.2 1203.8,748.9 1204.1,746.6 1204.4,748.2 1204.7,751.6 1205.1,748.0 1205.4,745.8 1205.7,745.9 1206.0,745.5 1206.3,750.4 1206.7,751.3 1207.0,744.7 1207.3,739.5 1207.6,740.9 1207.9,741.7 1208.3,742.6 1208.6,743.9 1208.9,749.9 1209.2,747.7 1209.5,744.0 1209.9,745.5 1210.2,740.5 1210.5,745.0 1210.8,745.4 1211.1,745.0 1211.5,744.5 1211.8,746.7 1212.1,745.2 1212.4,747.1 1212.7,745.7 1213.1,743.7 1213.4,750.2 1213.7,751.9 1214.0,747.6 1214.4,747.3 1214.7,746.5 1215.0,747.4 1215.3,746.0 1215.6,744.5 1216.0,744.9 1216.3,743.8 1216.6,742.2 1216.9,744.4 1217.2,743.6 1217.6,745.2 1217.9,743.9 1218.2,743.5 1218.5,745.5 1218.8,748.6 1219.2,746.0 1219.5,745.6 1219.8,744.6 1220.1,749.6 1220.4,746.0 1220.8,747.6 1221.1,747.8 1221.4,749.5 1221.7,750.1 1222.0,753.1 1222.4,752.7 1222.7,754.5 1223.0,747.8 1223.3,750.3 1223.6,751.0 1224.0,749.8 1224.3,746.5 1224.6,746.3 1224.9,747.3 1225.2,742.6 1225.6,744.1 1225.9,741.8 1226.2,741.9 1226.5,747.0 1226.8,746.8 1227.2,754.0 1227.5,753.6 1227.8,755.9 1228.1,752.0 1228.4,749.8 1228.8,747.9 1229.1,748.4 1229.4,750.9 1229.7,751.0 1230.0,749.3 1230.4,751.9 1230.7,748.9 1231.0,749.8 1231.3,752.2 1231.6,753.4 1232.0,750.1 1232.3,753.2 1232.6,752.6 1232.9,752.3 1233.2,755.5 1233.6,752.6 1233.9,753.9 1234.2,751.7 1234.5,750.5 1234.8,751.7 1235.2,749.8 1235.5,756.0 1235.8,754.6 1236.1,760.2 1236.4,759.3 1236.8,760.2 1237.1,759.4 1237.4,757.3 1237.7,758.9 1238.0,760.4 1238.4,752.8 1238.7,755.7 1239.0,756.2 1239.3,755.9 1239.6,755.1 1240.0,754.5 1240.3,754.8 1240.6,750.1 1240.9,748.2 1241.2,749.5 1241.6,754.3 1241.9,754.6 1242.2,754.8 1242.5,754.2 1242.9,755.6 1243.2,753.6 1243.5,751.9 1243.8,753.4 1244.1,757.3 1244.5,759.1 1244.8,755.0 1245.1,755.6 1245.4,755.1 1245.7,753.2 1246.1,748.9 1246.4,749.2 1246.7,756.3 1247.0,752.1 1247.3,750.5 1247.7,752.3 1248.0,753.3 1248.3,750.4 1248.6,745.8 1248.9,751.2 1249.3,751.9 1249.6,749.3 1249.9,750.1 1250.2,751.4 1250.5,749.5 1250.9,751.1 1251.2,754.3 1251.5,757.9 1251.8,754.3 1252.1,756.7 1252.5,753.7 1252.8,756.3 1253.1,754.2 1253.4,753.3 1253.7,750.4 1254.1,749.4 1254.4,748.5 1254.7,748.2 1255.0,751.1 1255.3,745.6 1255.7,748.2 1256.0,749.2 1256.3,753.8 1256.6,754.2 1256.9,754.2 1257.3,753.8 1257.6,749.2 1257.9,749.9 1258.2,752.0 1258.5,749.5 1258.9,748.3 1259.2,749.0 1259.5,753.1 1259.8,749.6 1260.1,751.7 1260.5,754.2 1260.8,752.4 1261.1,750.9 1261.4,754.0 1261.7,752.0 1262.1,752.8 1262.4,750.6 1262.7,753.7 1263.0,752.4 1263.3,755.2 1263.7,755.5 1264.0,753.9 1264.3,754.9 1264.6,755.4 1264.9,753.9 1265.3,754.9 1265.6,754.3 1265.9,753.1 1266.2,750.3 1266.5,756.1 1266.9,753.0 1267.2,754.0 1267.5,753.5 1267.8,755.5 1268.1,754.3 1268.5,756.0 1268.8,755.0 1269.1,754.5 1269.4,756.5 1269.7,756.3 1270.1,757.3 1270.4,755.6 1270.7,756.5 1271.0,757.4 1271.4,755.8 1271.7,753.0 1272.0,757.6 1272.3,753.8 1272.6,754.1 1273.0,753.4 1273.3,753.0 1273.6,755.7 1273.9,752.1 1274.2,754.2 1274.6,754.7 1274.9,754.6 1275.2,750.8 1275.5,749.9 1275.8,749.4 1276.2,750.7 1276.5,756.9 1276.8,750.6 1277.1,754.1 1277.4,754.9 1277.8,753.6 1278.1,754.6 1278.4,755.4 1278.7,755.9 1279.0,754.1 1279.4,752.3 1279.7,753.2 1280.0,754.0 1280.3,752.4 1280.6,755.5 1281.0,753.4 1281.3,754.3 1281.6,752.9 1281.9,756.5 1282.2,752.2 1282.6,752.7 1282.9,753.4 1283.2,750.3 1283.5,747.7 1283.8,745.5 1284.2,748.9 1284.5,755.0 1284.8,750.3 1285.1,748.2 1285.4,751.7 1285.8,752.0 1286.1,750.3 1286.4,752.0 1286.7,750.6 1287.0,752.1 1287.4,752.7 1287.7,751.2 1288.0,753.5 1288.3,751.9 1288.6,754.6 1289.0,751.3 1289.3,754.2 1289.6,751.7 1289.9,754.4 1290.2,754.3 1290.6,753.2 1290.9,748.9 1291.2,752.5 1291.5,753.5 1291.8,754.8 1292.2,754.5 1292.5,754.1 1292.8,753.0 1293.1,750.9 1293.4,747.2 1293.8,750.0 1294.1,754.6 1294.4,749.7 1294.7,750.1 1295.0,750.3 1295.4,756.5 1295.7,757.6 1296.0,755.7 1296.3,758.1 1296.6,756.7 1297.0,757.2 1297.3,754.4 1297.6,756.1 1297.9,755.1 1298.2,753.3 1298.6,752.5 1298.9,755.8 1299.2,756.8 1299.5,757.5 1299.8,758.4 1300.2,757.8 1300.5,757.9 1300.8,753.8 1301.1,753.8 1301.5,756.1 1301.8,752.5 1302.1,750.6 1302.4,749.1 1302.7,747.7 1303.1,747.4 1303.4,747.8 1303.7,748.6 1304.0,745.2 1304.3,749.5 1304.7,751.0 1305.0,750.0 1305.3,752.3 1305.6,748.1 1305.9,747.6 1306.3,747.6 1306.6,747.4 1306.9,749.3 1307.2,750.9 1307.5,750.3 1307.9,752.5 1308.2,750.8 1308.5,748.8 1308.8,749.3 1309.1,750.3 1309.5,753.0 1309.8,755.2 1310.1,754.4 1310.4,752.7 1310.7,752.6 1311.1,758.3 1311.4,750.2 1311.7,751.6 1312.0,753.0 1312.3,750.6 1312.7,751.4 1313.0,748.8 1313.3,748.3 1313.6,753.7 1313.9,756.6 1314.3,753.1 1314.6,751.7 1314.9,754.0 1315.2,750.5 1315.5,748.5 1315.9,751.1 1316.2,747.9 1316.5,748.6 1316.8,748.2 1317.1,754.9 1317.5,756.0 1317.8,751.9 1318.1,750.0 1318.4,745.4 1318.7,744.0 1319.1,742.2 1319.4,742.5 1319.7,748.3 1320.0,747.8 1320.3,747.4 1320.7,749.0 1321.0,749.8 1321.3,745.4 1321.6,748.5 1321.9,749.2 1322.3,752.0 1322.6,750.5 1322.9,750.7 1323.2,751.4" />
<polyline fill="none" stroke="#ECAC30" stroke-width="2.8" stroke-linejoin="round" points="790.7,694.0 791.0,691.4 791.3,686.7 791.7,687.4 792.0,683.9 792.3,676.9 792.6,677.4 792.9,664.1 793.3,664.9 793.6,666.8 793.9,665.6 794.2,671.0 794.5,655.1 794.9,660.1 795.2,643.7 795.5,651.4 795.8,655.2 796.1,635.3 796.5,641.9 796.8,634.0 797.1,630.7 797.4,636.6 797.7,625.2 798.1,614.2 798.4,620.6 798.7,607.6 799.0,632.9 799.3,617.4 799.7,624.5 800.0,620.8 800.3,625.8 800.6,624.4 800.9,602.7 801.3,607.9 801.6,609.9 801.9,596.1 802.2,597.1 802.5,586.7 802.9,581.9 803.2,586.8 803.5,586.0 803.8,585.2 804.1,578.8 804.5,583.9 804.8,582.3 805.1,588.9 805.4,590.7 805.8,579.0 806.1,575.6 806.4,570.8 806.7,560.9 807.0,545.8 807.4,549.7 807.7,550.3 808.0,572.6 808.3,563.4 808.6,557.9 809.0,555.5 809.3,564.1 809.6,550.6 809.9,536.6 810.2,543.4 810.6,552.8 810.9,555.8 811.2,556.4 811.5,551.9 811.8,548.2 812.2,550.1 812.5,541.9 812.8,536.6 813.1,542.2 813.4,535.5 813.8,532.3 814.1,534.0 814.4,532.5 814.7,528.4 815.0,523.1 815.4,523.2 815.7,499.6 816.0,502.5 816.3,510.5 816.6,508.2 817.0,506.0 817.3,510.2 817.6,506.9 817.9,511.8 818.2,506.3 818.6,504.9 818.9,523.6 819.2,516.9 819.5,516.5 819.8,511.2 820.2,509.2 820.5,505.9 820.8,494.9 821.1,510.8 821.4,503.8 821.8,502.4 822.1,498.6 822.4,505.6 822.7,504.1 823.0,512.0 823.4,500.9 823.7,502.3 824.0,507.3 824.3,504.6 824.6,505.7 825.0,500.2 825.3,503.6 825.6,498.3 825.9,491.8 826.2,488.6 826.6,487.9 826.9,487.1 827.2,483.3 827.5,479.6 827.8,485.4 828.2,488.9 828.5,491.0 828.8,502.0 829.1,507.1 829.4,508.6 829.8,514.8 830.1,523.4 830.4,518.0 830.7,526.5 831.0,523.9 831.4,519.8 831.7,521.5 832.0,527.2 832.3,528.4 832.6,534.5 833.0,532.3 833.3,527.9 833.6,546.0 833.9,543.3 834.2,552.4 834.6,555.2 834.9,561.2 835.2,556.2 835.5,565.3 835.9,576.1 836.2,571.2 836.5,569.9 836.8,556.8 837.1,556.3 837.5,564.2 837.8,558.3 838.1,562.1 838.4,573.1 838.7,574.4 839.1,572.9 839.4,568.0 839.7,553.0 840.0,575.7 840.3,576.1 840.7,577.0 841.0,585.1 841.3,591.5 841.6,591.8 841.9,597.7 842.3,600.3 842.6,593.0 842.9,591.5 843.2,601.4 843.5,607.5 843.9,608.2 844.2,615.9 844.5,617.8 844.8,608.0 845.1,625.9 845.5,624.3 845.8,614.7 846.1,612.9 846.4,621.3 846.7,614.5 847.1,628.1 847.4,639.5 847.7,628.3 848.0,641.4 848.3,643.8 848.7,640.2 849.0,638.3 849.3,643.5 849.6,641.0 849.9,639.5 850.3,638.3 850.6,640.7 850.9,633.7 851.2,634.3 851.5,648.8 851.9,659.7 852.2,655.8 852.5,661.5 852.8,657.5 853.1,657.6 853.5,666.8 853.8,659.8 854.1,661.4 854.4,649.1 854.7,657.9 855.1,656.5 855.4,655.4 855.7,658.9 856.0,659.6 856.3,650.5 856.7,662.6 857.0,647.7 857.3,645.1 857.6,659.0 857.9,663.8 858.3,655.7 858.6,657.9 858.9,657.2 859.2,655.5 859.5,644.4 859.9,646.3 860.2,654.3 860.5,662.7 860.8,653.3 861.1,643.0 861.5,643.8 861.8,658.6 862.1,673.9 862.4,659.7 862.7,657.2 863.1,659.9 863.4,659.3 863.7,648.7 864.0,651.2 864.4,667.9 864.7,657.8 865.0,648.6 865.3,658.1 865.6,643.8 866.0,641.1 866.3,642.6 866.6,645.0 866.9,648.2 867.2,644.4 867.6,640.7 867.9,628.4 868.2,634.3 868.5,638.6 868.8,646.6 869.2,633.9 869.5,639.5 869.8,644.4 870.1,630.8 870.4,628.1 870.8,632.4 871.1,633.3 871.4,633.9 871.7,621.0 872.0,618.2 872.4,620.7 872.7,602.5 873.0,611.2 873.3,621.4 873.6,618.8 874.0,614.2 874.3,620.8 874.6,604.7 874.9,614.0 875.2,613.6 875.6,612.4 875.9,605.9 876.2,609.4 876.5,601.7 876.8,606.1 877.2,599.8 877.5,605.3 877.8,615.6 878.1,620.1 878.4,598.6 878.8,604.7 879.1,608.7 879.4,612.5 879.7,591.2 880.0,586.1 880.4,591.5 880.7,593.9 881.0,589.8 881.3,592.7 881.6,598.7 882.0,613.8 882.3,610.4 882.6,603.7 882.9,587.5 883.2,585.3 883.6,581.0 883.9,571.3 884.2,571.9 884.5,567.4 884.8,570.8 885.2,569.8 885.5,577.6 885.8,585.2 886.1,571.9 886.4,588.5 886.8,585.2 887.1,569.6 887.4,584.5 887.7,572.2 888.0,578.4 888.4,577.4 888.7,570.5 889.0,574.8 889.3,578.1 889.6,570.7 890.0,571.3 890.3,573.9 890.6,576.0 890.9,576.4 891.2,574.2 891.6,569.5 891.9,563.8 892.2,578.0 892.5,576.0 892.9,577.0 893.2,585.7 893.5,581.7 893.8,581.5 894.1,571.7 894.5,562.9 894.8,587.6 895.1,584.9 895.4,582.2 895.7,568.6 896.1,570.8 896.4,554.2 896.7,564.6 897.0,566.3 897.3,555.6 897.7,571.1 898.0,586.2 898.3,584.1 898.6,566.5 898.9,583.2 899.3,585.4 899.6,578.2 899.9,576.6 900.2,581.2 900.5,570.0 900.9,563.5 901.2,566.8 901.5,566.6 901.8,582.2 902.1,583.3 902.5,573.8 902.8,580.9 903.1,578.5 903.4,577.6 903.7,588.8 904.1,592.1 904.4,589.6 904.7,578.3 905.0,582.3 905.3,560.7 905.7,556.5 906.0,554.7 906.3,552.9 906.6,566.0 906.9,572.2 907.3,587.2 907.6,593.9 907.9,591.4 908.2,584.7 908.5,597.3 908.9,598.1 909.2,600.1 909.5,601.3 909.8,592.5 910.1,582.0 910.5,577.1 910.8,586.2 911.1,597.6 911.4,594.7 911.7,600.0 912.1,606.7 912.4,607.2 912.7,600.9 913.0,594.2 913.3,601.2 913.7,602.9 914.0,594.6 914.3,609.8 914.6,616.4 914.9,618.6 915.3,613.7 915.6,611.3 915.9,610.1 916.2,606.6 916.5,620.5 916.9,618.2 917.2,620.6 917.5,609.4 917.8,617.7 918.1,606.3 918.5,614.3 918.8,615.6 919.1,613.2 919.4,615.6 919.7,607.8 920.1,603.9 920.4,607.5 920.7,603.5 921.0,610.0 921.3,618.3 921.7,616.1 922.0,624.9 922.3,626.9 922.6,612.6 923.0,610.8 923.3,629.1 923.6,618.7 923.9,621.9 924.2,640.6 924.6,621.9 924.9,621.2 925.2,642.5 925.5,634.0 925.8,644.2 926.2,636.9 926.5,647.9 926.8,637.6 927.1,626.8 927.4,613.8 927.8,630.0 928.1,617.9 928.4,629.3 928.7,619.1 929.0,624.3 929.4,631.3 929.7,613.6 930.0,617.0 930.3,618.7 930.6,620.0 931.0,630.4 931.3,626.0 931.6,615.7 931.9,616.9 932.2,615.1 932.6,610.7 932.9,624.5 933.2,615.6 933.5,615.1 933.8,613.2 934.2,621.3 934.5,617.0 934.8,610.5 935.1,626.1 935.4,627.3 935.8,624.9 936.1,623.6 936.4,617.2 936.7,636.5 937.0,629.7 937.4,630.3 937.7,614.4 938.0,624.3 938.3,627.5 938.6,630.8 939.0,640.9 939.3,621.9 939.6,618.5 939.9,626.6 940.2,611.9 940.6,612.6 940.9,597.8 941.2,622.1 941.5,623.4 941.8,616.8 942.2,626.0 942.5,621.9 942.8,616.9 943.1,604.8 943.4,620.3 943.8,612.4 944.1,619.0 944.4,620.9 944.7,616.9 945.0,601.7 945.4,624.6 945.7,613.5 946.0,609.9 946.3,618.9 946.6,615.9 947.0,625.8 947.3,612.0 947.6,617.0 947.9,610.8 948.2,603.9 948.6,615.4 948.9,614.8 949.2,620.4 949.5,605.9 949.8,605.6 950.2,606.9 950.5,610.5 950.8,606.5 951.1,615.6 951.5,613.6 951.8,607.2 952.1,606.1 952.4,610.5 952.7,605.3 953.1,601.2 953.4,602.3 953.7,608.7 954.0,613.3 954.3,607.2 954.7,610.6 955.0,615.0 955.3,628.9 955.6,614.1 955.9,596.4 956.3,587.6 956.6,594.5 956.9,584.6 957.2,601.4 957.5,577.2 957.9,588.9 958.2,583.9 958.5,585.9 958.8,598.0 959.1,586.9 959.5,589.9 959.8,590.4 960.1,599.3 960.4,601.6 960.7,599.4 961.1,595.0 961.4,612.5 961.7,592.1 962.0,601.9 962.3,599.8 962.7,606.5 963.0,608.7 963.3,607.4 963.6,596.1 963.9,592.8 964.3,588.4 964.6,612.5 964.9,609.3 965.2,616.0 965.5,604.5 965.9,604.5 966.2,601.4 966.5,593.8 966.8,591.5 967.1,586.8 967.5,589.5 967.8,586.0 968.1,587.2 968.4,593.3 968.7,582.7 969.1,589.9 969.4,600.4 969.7,580.7 970.0,599.7 970.3,607.7 970.7,612.5 971.0,603.4 971.3,595.1 971.6,591.7 971.9,603.9 972.3,616.3 972.6,607.9 972.9,620.2 973.2,613.0 973.5,604.2 973.9,606.3 974.2,607.2 974.5,602.1 974.8,589.5 975.1,581.9 975.5,589.6 975.8,587.7 976.1,598.6 976.4,604.2 976.7,601.7 977.1,604.2 977.4,612.9 977.7,611.1 978.0,600.7 978.3,600.5 978.7,612.2 979.0,610.5 979.3,612.1 979.6,607.2 980.0,622.0 980.3,619.6 980.6,618.0 980.9,604.4 981.2,594.2 981.6,608.9 981.9,617.0 982.2,611.3 982.5,610.8 982.8,616.2 983.2,602.6 983.5,605.9 983.8,596.5 984.1,595.1 984.4,608.4 984.8,606.6 985.1,621.8 985.4,610.4 985.7,605.3 986.0,599.0 986.4,614.9 986.7,611.0 987.0,588.3 987.3,615.9 987.6,607.9 988.0,599.4 988.3,600.6 988.6,605.4 988.9,606.0 989.2,609.9 989.6,592.9 989.9,613.6 990.2,611.3 990.5,614.5 990.8,624.1 991.2,609.6 991.5,611.9 991.8,613.7 992.1,602.0 992.4,593.6 992.8,607.9 993.1,616.0 993.4,603.1 993.7,615.8 994.0,600.3 994.4,602.0 994.7,602.5 995.0,613.3 995.3,616.5 995.6,624.3 996.0,619.2 996.3,626.6 996.6,616.5 996.9,627.5 997.2,618.5 997.6,619.7 997.9,630.3 998.2,610.9 998.5,610.9 998.8,616.0 999.2,591.0 999.5,603.5 999.8,628.2 1000.1,611.4 1000.4,626.1 1000.8,617.5 1001.1,617.5 1001.4,616.8 1001.7,627.6 1002.0,635.7 1002.4,624.3 1002.7,648.9 1003.0,642.1 1003.3,634.3 1003.6,621.2 1004.0,608.3 1004.3,612.0 1004.6,592.3 1004.9,598.3 1005.2,610.4 1005.6,611.8 1005.9,605.7 1006.2,605.5 1006.5,611.2 1006.8,628.7 1007.2,618.2 1007.5,617.9 1007.8,627.2 1008.1,611.0 1008.4,598.7 1008.8,615.2 1009.1,614.5 1009.4,607.0 1009.7,607.9 1010.1,592.6 1010.4,599.3 1010.7,606.2 1011.0,601.3 1011.3,603.3 1011.7,600.6 1012.0,603.6 1012.3,609.0 1012.6,614.7 1012.9,610.5 1013.3,626.3 1013.6,625.3 1013.9,619.8 1014.2,622.4 1014.5,603.4 1014.9,620.7 1015.2,616.2 1015.5,599.1 1015.8,608.0 1016.1,601.6 1016.5,604.9 1016.8,616.2 1017.1,611.1 1017.4,606.0 1017.7,615.1 1018.1,616.9 1018.4,609.1 1018.7,627.0 1019.0,618.1 1019.3,616.4 1019.7,609.7 1020.0,628.8 1020.3,624.1 1020.6,623.4 1020.9,629.3 1021.3,626.6 1021.6,627.6 1021.9,633.0 1022.2,608.9 1022.5,604.2 1022.9,611.2 1023.2,624.9 1023.5,610.4 1023.8,617.5 1024.1,606.1 1024.5,614.4 1024.8,613.0 1025.1,612.2 1025.4,613.5 1025.7,594.2 1026.1,594.6 1026.4,607.0 1026.7,599.6 1027.0,612.6 1027.3,606.7 1027.7,621.3 1028.0,622.4 1028.3,620.1 1028.6,618.8 1028.9,619.8 1029.3,614.5 1029.6,611.5 1029.9,601.6 1030.2,598.8 1030.5,608.2 1030.9,611.3 1031.2,612.2 1031.5,605.2 1031.8,601.8 1032.1,593.1 1032.5,592.9 1032.8,615.1 1033.1,622.8 1033.4,613.2 1033.7,601.2 1034.1,603.5 1034.4,603.3 1034.7,603.9 1035.0,606.0 1035.3,598.3 1035.7,598.0 1036.0,604.7 1036.3,617.9 1036.6,608.7 1036.9,611.3 1037.3,593.5 1037.6,600.4 1037.9,617.4 1038.2,621.0 1038.6,616.1 1038.9,613.0 1039.2,621.3 1039.5,610.4 1039.8,593.6 1040.2,610.0 1040.5,603.4 1040.8,620.4 1041.1,602.2 1041.4,617.6 1041.8,608.4 1042.1,608.0 1042.4,612.2 1042.7,614.1 1043.0,603.0 1043.4,615.7 1043.7,604.8 1044.0,604.7 1044.3,607.9 1044.6,599.1 1045.0,605.9 1045.3,617.1 1045.6,609.5 1045.9,603.4 1046.2,621.3 1046.6,629.4 1046.9,602.8 1047.2,614.3 1047.5,610.4 1047.8,632.7 1048.2,628.3 1048.5,616.0 1048.8,617.0 1049.1,620.0 1049.4,618.4 1049.8,613.4 1050.1,617.4 1050.4,609.4 1050.7,608.7 1051.0,610.9 1051.4,619.7 1051.7,626.1 1052.0,614.0 1052.3,614.7 1052.6,597.2 1053.0,622.2 1053.3,612.9 1053.6,615.2 1053.9,612.0 1054.2,610.6 1054.6,622.9 1054.9,623.0 1055.2,607.9 1055.5,604.2 1055.8,608.1 1056.2,615.7 1056.5,615.3 1056.8,624.0 1057.1,605.0 1057.4,615.9 1057.8,617.3 1058.1,617.6 1058.4,617.0 1058.7,625.4 1059.0,615.1 1059.4,613.4 1059.7,614.5 1060.0,614.4 1060.3,608.1 1060.6,606.1 1061.0,602.3 1061.3,614.9 1061.6,616.1 1061.9,610.6 1062.2,617.9 1062.6,615.2 1062.9,608.1 1063.2,631.2 1063.5,620.0 1063.8,619.6 1064.2,608.8 1064.5,608.6 1064.8,595.9 1065.1,628.3 1065.4,636.7 1065.8,619.4 1066.1,618.7 1066.4,619.1 1066.7,609.2 1067.0,611.4 1067.4,615.5 1067.7,608.8 1068.0,614.1 1068.3,607.5 1068.7,620.6 1069.0,612.9 1069.3,613.0 1069.6,624.5 1069.9,615.0 1070.3,608.3 1070.6,617.1 1070.9,609.6 1071.2,609.0 1071.5,613.1 1071.9,610.5 1072.2,607.6 1072.5,611.2 1072.8,610.2 1073.1,627.6 1073.5,622.3 1073.8,627.4 1074.1,624.5 1074.4,630.1 1074.7,615.5 1075.1,613.1 1075.4,614.0 1075.7,603.7 1076.0,604.2 1076.3,612.4 1076.7,613.7 1077.0,613.1 1077.3,610.3 1077.6,607.6 1077.9,603.8 1078.3,596.8 1078.6,601.4 1078.9,593.5 1079.2,584.3 1079.5,604.3 1079.9,596.0 1080.2,591.1 1080.5,598.9 1080.8,607.8 1081.1,611.2 1081.5,622.2 1081.8,614.5 1082.1,605.8 1082.4,603.6 1082.7,615.0 1083.1,612.9 1083.4,614.4 1083.7,616.5 1084.0,607.8 1084.3,595.2 1084.7,591.0 1085.0,594.4 1085.3,617.1 1085.6,598.9 1085.9,603.7 1086.3,593.1 1086.6,591.6 1086.9,590.2 1087.2,598.8 1087.5,604.3 1087.9,603.3 1088.2,611.8 1088.5,604.9 1088.8,588.0 1089.1,590.0 1089.5,602.8 1089.8,596.6 1090.1,609.6 1090.4,602.2 1090.7,601.0 1091.1,613.9 1091.4,595.3 1091.7,597.1 1092.0,579.4 1092.3,594.7 1092.7,603.6 1093.0,596.3 1093.3,608.0 1093.6,616.6 1093.9,611.1 1094.3,606.1 1094.6,600.8 1094.9,618.2 1095.2,608.6 1095.5,614.2 1095.9,608.6 1096.2,601.0 1096.5,608.6 1096.8,612.0 1097.2,593.1 1097.5,595.7 1097.8,607.3 1098.1,601.7 1098.4,607.9 1098.8,606.4 1099.1,606.9 1099.4,591.2 1099.7,602.8 1100.0,613.9 1100.4,608.6 1100.7,609.5 1101.0,614.0 1101.3,609.0 1101.6,605.0 1102.0,606.2 1102.3,598.0 1102.6,580.6 1102.9,593.2 1103.2,611.1 1103.6,614.3 1103.9,604.1 1104.2,613.6 1104.5,611.3 1104.8,601.0 1105.2,593.3 1105.5,595.1 1105.8,601.5 1106.1,599.9 1106.4,599.0 1106.8,601.2 1107.1,601.9 1107.4,612.2 1107.7,593.2 1108.0,599.6 1108.4,595.7 1108.7,622.4 1109.0,619.7 1109.3,609.9 1109.6,611.9 1110.0,607.2 1110.3,604.1 1110.6,590.8 1110.9,603.0 1111.2,598.3 1111.6,612.8 1111.9,608.2 1112.2,610.2 1112.5,606.3 1112.8,608.3 1113.2,599.5 1113.5,602.6 1113.8,606.3 1114.1,586.6 1114.4,591.2 1114.8,583.2 1115.1,601.9 1115.4,596.7 1115.7,605.0 1116.0,617.4 1116.4,621.3 1116.7,613.3 1117.0,615.8 1117.3,610.5 1117.6,629.2 1118.0,612.1 1118.3,618.1 1118.6,627.0 1118.9,608.9 1119.2,604.1 1119.6,616.0 1119.9,611.7 1120.2,611.0 1120.5,615.9 1120.8,616.3 1121.2,621.1 1121.5,605.6 1121.8,627.4 1122.1,625.6 1122.4,613.9 1122.8,607.3 1123.1,601.7 1123.4,605.8 1123.7,619.7 1124.0,614.3 1124.4,611.5 1124.7,620.7 1125.0,610.8 1125.3,621.5 1125.7,623.8 1126.0,621.2 1126.3,619.2 1126.6,612.9 1126.9,611.6 1127.3,611.1 1127.6,628.5 1127.9,620.9 1128.2,632.0 1128.5,621.0 1128.9,631.2 1129.2,627.0 1129.5,621.9 1129.8,628.6 1130.1,632.7 1130.5,622.2 1130.8,627.7 1131.1,627.8 1131.4,638.8 1131.7,624.4 1132.1,630.9 1132.4,628.0 1132.7,645.8 1133.0,654.9 1133.3,647.4 1133.7,646.6 1134.0,637.4 1134.3,623.0 1134.6,611.1 1134.9,609.1 1135.3,597.1 1135.6,621.2 1135.9,612.3 1136.2,618.6 1136.5,611.6 1136.9,617.4 1137.2,608.7 1137.5,610.0 1137.8,600.2 1138.1,615.5 1138.5,622.4 1138.8,634.9 1139.1,637.7 1139.4,630.4 1139.7,616.1 1140.1,618.3 1140.4,612.2 1140.7,623.5 1141.0,625.0 1141.3,627.8 1141.7,611.0 1142.0,612.1 1142.3,618.9 1142.6,618.6 1142.9,626.6 1143.3,605.6 1143.6,625.4 1143.9,625.0 1144.2,624.4 1144.5,627.8 1144.9,622.3 1145.2,627.6 1145.5,617.5 1145.8,615.5 1146.1,623.0 1146.5,613.5 1146.8,611.6 1147.1,612.6 1147.4,618.1 1147.7,621.3 1148.1,615.1 1148.4,619.7 1148.7,614.2 1149.0,618.1 1149.3,628.1 1149.7,632.3 1150.0,623.1 1150.3,623.0 1150.6,629.5 1150.9,615.6 1151.3,617.9 1151.6,624.2 1151.9,629.5 1152.2,630.3 1152.5,614.8 1152.9,622.5 1153.2,635.3 1153.5,634.3 1153.8,634.3 1154.1,616.0 1154.5,629.3 1154.8,645.3 1155.1,624.7 1155.4,630.3 1155.8,614.3 1156.1,621.3 1156.4,614.1 1156.7,633.1 1157.0,631.2 1157.4,612.6 1157.7,612.5 1158.0,610.2 1158.3,632.7 1158.6,617.2 1159.0,628.6 1159.3,628.1 1159.6,617.2 1159.9,623.8 1160.2,632.1 1160.6,638.8 1160.9,636.4 1161.2,617.4 1161.5,618.2 1161.8,609.6 1162.2,614.6 1162.5,611.6 1162.8,604.8 1163.1,602.4 1163.4,607.1 1163.8,617.5 1164.1,616.8 1164.4,608.3 1164.7,617.9 1165.0,606.8 1165.4,623.0 1165.7,621.1 1166.0,619.9 1166.3,627.5 1166.6,632.0 1167.0,637.4 1167.3,638.0 1167.6,625.5 1167.9,628.8 1168.2,607.1 1168.6,619.8 1168.9,627.8 1169.2,642.1 1169.5,635.5 1169.8,618.9 1170.2,618.3 1170.5,625.4 1170.8,622.2 1171.1,625.6 1171.4,625.7 1171.8,629.6 1172.1,614.8 1172.4,610.5 1172.7,620.9 1173.0,634.3 1173.4,616.6 1173.7,620.1 1174.0,628.0 1174.3,625.8 1174.6,630.5 1175.0,620.5 1175.3,613.5 1175.6,609.8 1175.9,619.5 1176.2,622.8 1176.6,633.5 1176.9,627.5 1177.2,628.3 1177.5,615.7 1177.8,617.4 1178.2,627.0 1178.5,615.6 1178.8,614.8 1179.1,627.6 1179.4,615.6 1179.8,631.5 1180.1,628.1 1180.4,626.3 1180.7,635.1 1181.0,614.1 1181.4,611.0 1181.7,616.3 1182.0,615.4 1182.3,617.6 1182.6,615.8 1183.0,616.0 1183.3,618.1 1183.6,634.1 1183.9,620.7 1184.3,629.7 1184.6,617.0 1184.9,627.1 1185.2,612.3 1185.5,614.8 1185.9,621.9 1186.2,626.5 1186.5,619.4 1186.8,600.1 1187.1,596.7 1187.5,617.5 1187.8,608.5 1188.1,607.8 1188.4,599.0 1188.7,603.6 1189.1,621.0 1189.4,603.6 1189.7,608.5 1190.0,610.4 1190.3,615.3 1190.7,611.4 1191.0,602.7 1191.3,614.5 1191.6,607.1 1191.9,612.8 1192.3,617.6 1192.6,631.5 1192.9,620.8 1193.2,622.9 1193.5,633.8 1193.9,624.4 1194.2,621.3 1194.5,606.8 1194.8,615.2 1195.1,626.4 1195.5,622.7 1195.8,633.2 1196.1,621.7 1196.4,630.3 1196.7,625.4 1197.1,638.7 1197.4,629.9 1197.7,617.3 1198.0,625.5 1198.3,619.8 1198.7,623.7 1199.0,616.3 1199.3,617.6 1199.6,626.3 1199.9,628.8 1200.3,615.2 1200.6,615.9 1200.9,611.3 1201.2,630.8 1201.5,634.2 1201.9,621.5 1202.2,631.2 1202.5,614.6 1202.8,628.7 1203.1,618.2 1203.5,635.0 1203.8,624.8 1204.1,619.9 1204.4,615.1 1204.7,614.1 1205.1,608.3 1205.4,611.6 1205.7,587.4 1206.0,613.4 1206.3,613.5 1206.7,610.7 1207.0,618.2 1207.3,615.1 1207.6,633.5 1207.9,636.0 1208.3,644.9 1208.6,639.7 1208.9,631.9 1209.2,621.9 1209.5,614.9 1209.9,627.0 1210.2,630.7 1210.5,629.9 1210.8,615.8 1211.1,618.9 1211.5,622.2 1211.8,640.1 1212.1,630.2 1212.4,642.5 1212.7,632.3 1213.1,632.3 1213.4,614.2 1213.7,604.6 1214.0,620.8 1214.4,618.3 1214.7,612.8 1215.0,624.4 1215.3,615.6 1215.6,615.4 1216.0,616.3 1216.3,618.4 1216.6,616.1 1216.9,617.7 1217.2,618.2 1217.6,614.6 1217.9,621.6 1218.2,622.3 1218.5,617.6 1218.8,622.0 1219.2,616.5 1219.5,619.6 1219.8,620.8 1220.1,627.3 1220.4,609.9 1220.8,619.6 1221.1,621.4 1221.4,605.5 1221.7,620.4 1222.0,614.4 1222.4,607.3 1222.7,603.8 1223.0,610.9 1223.3,610.6 1223.6,615.4 1224.0,601.7 1224.3,602.2 1224.6,608.4 1224.9,623.8 1225.2,617.9 1225.6,607.8 1225.9,621.7 1226.2,615.5 1226.5,606.0 1226.8,614.0 1227.2,615.9 1227.5,604.0 1227.8,620.3 1228.1,604.6 1228.4,609.1 1228.8,615.6 1229.1,606.5 1229.4,611.2 1229.7,613.9 1230.0,619.7 1230.4,617.4 1230.7,612.8 1231.0,607.2 1231.3,624.2 1231.6,624.6 1232.0,619.0 1232.3,610.9 1232.6,601.0 1232.9,604.6 1233.2,600.5 1233.6,613.6 1233.9,610.1 1234.2,613.3 1234.5,620.8 1234.8,613.7 1235.2,603.6 1235.5,621.0 1235.8,619.6 1236.1,624.1 1236.4,623.8 1236.8,613.2 1237.1,627.4 1237.4,610.5 1237.7,608.5 1238.0,595.7 1238.4,605.8 1238.7,620.9 1239.0,601.2 1239.3,607.5 1239.6,609.7 1240.0,611.3 1240.3,611.5 1240.6,611.7 1240.9,626.0 1241.2,612.6 1241.6,608.4 1241.9,604.2 1242.2,587.8 1242.5,611.5 1242.9,598.1 1243.2,612.3 1243.5,629.2 1243.8,631.4 1244.1,617.9 1244.5,616.0 1244.8,610.6 1245.1,607.9 1245.4,624.9 1245.7,625.2 1246.1,619.2 1246.4,605.0 1246.7,615.3 1247.0,610.6 1247.3,613.6 1247.7,620.9 1248.0,619.2 1248.3,617.9 1248.6,632.8 1248.9,621.0 1249.3,614.9 1249.6,604.5 1249.9,600.4 1250.2,601.6 1250.5,590.1 1250.9,600.3 1251.2,599.2 1251.5,611.6 1251.8,612.5 1252.1,601.5 1252.5,619.9 1252.8,613.6 1253.1,620.5 1253.4,611.2 1253.7,618.7 1254.1,621.9 1254.4,619.5 1254.7,638.5 1255.0,628.3 1255.3,627.9 1255.7,611.9 1256.0,614.5 1256.3,618.8 1256.6,618.2 1256.9,615.1 1257.3,605.6 1257.6,615.4 1257.9,618.6 1258.2,605.6 1258.5,613.0 1258.9,606.1 1259.2,603.4 1259.5,599.5 1259.8,600.4 1260.1,601.7 1260.5,610.0 1260.8,602.6 1261.1,610.6 1261.4,602.1 1261.7,619.8 1262.1,628.9 1262.4,631.8 1262.7,624.5 1263.0,630.2 1263.3,612.9 1263.7,616.6 1264.0,618.6 1264.3,616.3 1264.6,604.7 1264.9,611.7 1265.3,626.1 1265.6,621.6 1265.9,623.2 1266.2,612.1 1266.5,602.7 1266.9,609.7 1267.2,619.1 1267.5,621.7 1267.8,617.8 1268.1,622.2 1268.5,610.3 1268.8,622.9 1269.1,618.8 1269.4,617.0 1269.7,624.2 1270.1,615.8 1270.4,609.3 1270.7,609.3 1271.0,605.4 1271.4,605.9 1271.7,607.9 1272.0,619.1 1272.3,605.1 1272.6,624.9 1273.0,608.5 1273.3,619.8 1273.6,614.4 1273.9,612.9 1274.2,623.1 1274.6,621.0 1274.9,615.4 1275.2,614.4 1275.5,617.3 1275.8,613.5 1276.2,594.2 1276.5,608.8 1276.8,616.9 1277.1,625.2 1277.4,635.7 1277.8,631.5 1278.1,611.0 1278.4,623.2 1278.7,607.5 1279.0,613.1 1279.4,621.7 1279.7,625.0 1280.0,622.5 1280.3,614.6 1280.6,617.8 1281.0,605.1 1281.3,597.0 1281.6,613.1 1281.9,609.4 1282.2,621.4 1282.6,622.6 1282.9,633.8 1283.2,640.2 1283.5,633.7 1283.8,636.9 1284.2,632.9 1284.5,639.6 1284.8,632.2 1285.1,643.6 1285.4,637.9 1285.8,649.4 1286.1,642.8 1286.4,637.5 1286.7,641.0 1287.0,623.8 1287.4,631.1 1287.7,635.5 1288.0,642.5 1288.3,638.5 1288.6,640.0 1289.0,637.3 1289.3,624.4 1289.6,636.9 1289.9,643.3 1290.2,636.4 1290.6,638.9 1290.9,631.5 1291.2,646.5 1291.5,631.7 1291.8,638.9 1292.2,639.1 1292.5,642.6 1292.8,641.3 1293.1,636.8 1293.4,645.7 1293.8,644.1 1294.1,634.5 1294.4,615.8 1294.7,620.2 1295.0,620.1 1295.4,613.0 1295.7,606.7 1296.0,614.8 1296.3,624.2 1296.6,614.1 1297.0,606.4 1297.3,614.9 1297.6,602.6 1297.9,629.4 1298.2,629.6 1298.6,626.7 1298.9,626.8 1299.2,633.4 1299.5,625.3 1299.8,612.1 1300.2,622.7 1300.5,610.5 1300.8,612.9 1301.1,615.7 1301.5,607.5 1301.8,609.7 1302.1,611.5 1302.4,622.6 1302.7,610.7 1303.1,603.9 1303.4,608.2 1303.7,621.2 1304.0,617.6 1304.3,618.5 1304.7,614.6 1305.0,609.4 1305.3,597.6 1305.6,609.5 1305.9,611.0 1306.3,620.8 1306.6,612.9 1306.9,606.3 1307.2,600.6 1307.5,606.2 1307.9,597.6 1308.2,603.2 1308.5,604.4 1308.8,580.8 1309.1,595.5 1309.5,611.8 1309.8,620.6 1310.1,622.2 1310.4,621.0 1310.7,621.3 1311.1,629.9 1311.4,613.6 1311.7,614.3 1312.0,609.1 1312.3,624.0 1312.7,624.9 1313.0,620.8 1313.3,628.4 1313.6,623.8 1313.9,629.0 1314.3,634.2 1314.6,634.6 1314.9,626.4 1315.2,617.4 1315.5,625.2 1315.9,630.8 1316.2,625.8 1316.5,624.3 1316.8,620.0 1317.1,615.3 1317.5,612.4 1317.8,614.8 1318.1,620.9 1318.4,625.1 1318.7,633.7 1319.1,619.6 1319.4,619.0 1319.7,610.2 1320.0,609.9 1320.3,616.9 1320.7,610.7 1321.0,605.9 1321.3,598.8 1321.6,613.7 1321.9,610.8 1322.3,604.0 1322.6,613.1 1322.9,619.2 1323.2,621.5" />
<polyline fill="none" stroke="#9A8BC5" stroke-width="4.3" stroke-linejoin="round" points="790.7,694.0 791.2,694.9 791.8,695.9 792.3,696.9 792.8,697.9 793.4,699.0 793.9,700.1 794.4,701.3 795.0,702.5 795.5,703.7 796.0,705.0 796.6,706.3 797.1,707.6 797.6,709.0 798.2,710.4 798.7,711.8 799.2,713.2 799.8,714.7 800.3,716.2 800.8,717.7 801.4,719.2 801.9,720.8 802.4,722.3 803.0,723.9 803.5,725.4 804.0,727.0 804.6,728.5 805.1,730.1 805.6,731.6 806.2,733.2 806.7,734.7 807.2,736.2 807.8,737.8 808.3,739.2 808.8,740.7 809.4,742.1 809.9,743.6 810.4,744.9 811.0,746.3 811.5,747.6 812.0,748.9 812.6,750.2 813.1,751.4 813.6,752.5 814.2,753.6 814.7,754.7 815.3,755.7 815.8,756.7 816.3,757.6 816.9,758.5 817.4,759.3 817.9,760.0 818.5,760.7 819.0,761.3 819.5,761.9 820.1,762.4 820.6,762.8 821.1,763.2 821.7,763.5 822.2,763.7 822.7,763.9 823.3,764.0 823.8,764.0 824.3,764.0 824.9,763.9 825.4,763.8 825.9,763.6 826.5,763.4 827.0,763.1 827.5,762.8 828.1,762.4 828.6,762.0 829.1,761.5 829.7,761.0 830.2,760.4 830.7,759.8 831.3,759.2 831.8,758.5 832.3,757.8 832.9,757.1 833.4,756.3 833.9,755.5 834.5,754.6 835.0,753.8 835.5,752.9 836.1,751.9 836.6,751.0 837.1,750.0 837.7,749.1 838.2,748.1 838.7,747.1 839.3,746.1 839.8,745.1 840.3,744.1 840.9,743.1 841.4,742.1 841.9,741.1 842.5,740.1 843.0,739.1 843.5,738.1 844.1,737.2 844.6,736.2 845.1,735.3 845.7,734.4 846.2,733.6 846.7,732.7 847.3,731.9 847.8,731.1 848.3,730.4 848.9,729.7 849.4,729.0 849.9,728.3 850.5,727.7 851.0,727.2 851.5,726.7 852.1,726.2 852.6,725.8 853.1,725.4 853.7,725.1 854.2,724.8 854.7,724.6 855.3,724.4 855.8,724.3 856.3,724.2 856.9,724.2 857.4,724.2 857.9,724.2 858.5,724.3 859.0,724.4 859.5,724.6 860.1,724.8 860.6,725.0 861.1,725.2 861.7,725.5 862.2,725.8 862.7,726.2 863.3,726.5 863.8,726.9 864.4,727.4 864.9,727.8 865.4,728.3 866.0,728.8 866.5,729.3 867.0,729.9 867.6,730.4 868.1,731.0 868.6,731.6 869.2,732.2 869.7,732.9 870.2,733.5 870.8,734.2 871.3,734.9 871.8,735.5 872.4,736.2 872.9,736.9 873.4,737.6 874.0,738.3 874.5,739.1 875.0,739.8 875.6,740.5 876.1,741.2 876.6,741.9 877.2,742.6 877.7,743.3 878.2,743.9 878.8,744.6 879.3,745.2 879.8,745.9 880.4,746.5 880.9,747.1 881.4,747.7 882.0,748.3 882.5,748.8 883.0,749.3 883.6,749.8 884.1,750.3 884.6,750.8 885.2,751.2 885.7,751.6 886.2,751.9 886.8,752.3 887.3,752.6 887.8,752.9 888.4,753.1 888.9,753.3 889.4,753.5 890.0,753.7 890.5,753.8 891.0,753.9 891.6,753.9 892.1,753.9 892.6,753.9 893.2,753.9 893.7,753.8 894.2,753.8 894.8,753.6 895.3,753.5 895.8,753.4 896.4,753.2 896.9,753.0 897.4,752.8 898.0,752.5 898.5,752.3 899.0,752.0 899.6,751.7 900.1,751.4 900.6,751.1 901.2,750.7 901.7,750.4 902.2,750.0 902.8,749.6 903.3,749.2 903.8,748.8 904.4,748.4 904.9,748.0 905.4,747.5 906.0,747.1 906.5,746.6 907.0,746.2 907.6,745.7 908.1,745.3 908.6,744.8 909.2,744.4 909.7,743.9 910.2,743.5 910.8,743.1 911.3,742.6 911.8,742.2 912.4,741.8 912.9,741.4 913.5,741.0 914.0,740.6 914.5,740.2 915.1,739.8 915.6,739.5 916.1,739.2 916.7,738.9 917.2,738.6 917.7,738.3 918.3,738.0 918.8,737.8 919.3,737.6 919.9,737.4 920.4,737.2 920.9,737.1 921.5,736.9 922.0,736.8 922.5,736.8 923.1,736.7 923.6,736.7 924.1,736.6 924.7,736.7 925.2,736.7 925.7,736.7 926.3,736.8 926.8,736.8 927.3,736.9 927.9,737.0 928.4,737.1 928.9,737.3 929.5,737.4 930.0,737.6 930.5,737.7 931.1,737.9 931.6,738.1 932.1,738.3 932.7,738.5 933.2,738.8 933.7,739.0 934.3,739.2 934.8,739.5 935.3,739.8 935.9,740.0 936.4,740.3 936.9,740.6 937.5,740.9 938.0,741.2 938.5,741.5 939.1,741.8 939.6,742.1 940.1,742.4 940.7,742.8 941.2,743.1 941.7,743.4 942.3,743.7 942.8,744.0 943.3,744.3 943.9,744.6 944.4,744.9 944.9,745.2 945.5,745.5 946.0,745.8 946.5,746.1 947.1,746.4 947.6,746.7 948.1,746.9 948.7,747.2 949.2,747.4 949.7,747.6 950.3,747.8 950.8,748.1 951.3,748.3 951.9,748.4 952.4,748.6 952.9,748.8 953.5,748.9 954.0,749.0 954.5,749.1 955.1,749.2 955.6,749.3 956.1,749.4 956.7,749.4 957.2,749.5 957.7,749.5 958.3,749.5 958.8,749.5 959.3,749.5 959.9,749.5 960.4,749.4 961.0,749.4 961.5,749.3 962.0,749.3 962.6,749.2 963.1,749.1 963.6,749.0 964.2,748.9 964.7,748.8 965.2,748.6 965.8,748.5 966.3,748.4 966.8,748.2 967.4,748.1 967.9,747.9 968.4,747.7 969.0,747.5 969.5,747.4 970.0,747.2 970.6,747.0 971.1,746.8 971.6,746.6 972.2,746.4 972.7,746.2 973.2,746.0 973.8,745.8 974.3,745.6 974.8,745.4 975.4,745.2 975.9,745.0 976.4,744.8 977.0,744.6 977.5,744.4 978.0,744.2 978.6,744.0 979.1,743.8 979.6,743.7 980.2,743.5 980.7,743.3 981.2,743.2 981.8,743.0 982.3,742.9 982.8,742.8 983.4,742.6 983.9,742.5 984.4,742.4 985.0,742.3 985.5,742.2 986.0,742.1 986.6,742.1 987.1,742.0 987.6,742.0 988.2,741.9 988.7,741.9 989.2,741.9 989.8,741.9 990.3,741.9 990.8,741.9 991.4,741.9 991.9,741.9 992.4,742.0 993.0,742.0 993.5,742.1 994.0,742.1 994.6,742.2 995.1,742.2 995.6,742.3 996.2,742.4 996.7,742.5 997.2,742.6 997.8,742.7 998.3,742.8 998.8,742.9 999.4,743.0 999.9,743.1 1000.4,743.2 1001.0,743.3 1001.5,743.5 1002.0,743.6 1002.6,743.7 1003.1,743.9 1003.6,744.0 1004.2,744.2 1004.7,744.3 1005.2,744.4 1005.8,744.6 1006.3,744.7 1006.8,744.9 1007.4,745.0 1007.9,745.2 1008.4,745.3 1009.0,745.5 1009.5,745.6 1010.1,745.8 1010.6,745.9 1011.1,746.0 1011.7,746.2 1012.2,746.3 1012.7,746.4 1013.3,746.6 1013.8,746.7 1014.3,746.8 1014.9,746.9 1015.4,747.0 1015.9,747.1 1016.5,747.2 1017.0,747.3 1017.5,747.4 1018.1,747.5 1018.6,747.6 1019.1,747.6 1019.7,747.7 1020.2,747.7 1020.7,747.8 1021.3,747.8 1021.8,747.9 1022.3,747.9 1022.9,747.9 1023.4,747.9 1023.9,747.9 1024.5,747.9 1025.0,747.9 1025.5,747.9 1026.1,747.9 1026.6,747.9 1027.1,747.8 1027.7,747.8 1028.2,747.8 1028.7,747.7 1029.3,747.7 1029.8,747.7 1030.3,747.6 1030.9,747.6 1031.4,747.5 1031.9,747.5 1032.5,747.4 1033.0,747.4 1033.5,747.3 1034.1,747.2 1034.6,747.2 1035.1,747.1 1035.7,747.0 1036.2,746.9 1036.7,746.9 1037.3,746.8 1037.8,746.7 1038.3,746.7 1038.9,746.6 1039.4,746.5 1039.9,746.4 1040.5,746.3 1041.0,746.3 1041.5,746.2 1042.1,746.1 1042.6,746.1 1043.1,746.0 1043.7,745.9 1044.2,745.8 1044.7,745.8 1045.3,745.7 1045.8,745.6 1046.3,745.6 1046.9,745.5 1047.4,745.5 1047.9,745.4 1048.5,745.4 1049.0,745.3 1049.5,745.3 1050.1,745.3 1050.6,745.2 1051.1,745.2 1051.7,745.2 1052.2,745.1 1052.7,745.1 1053.3,745.1 1053.8,745.1 1054.3,745.1 1054.9,745.1 1055.4,745.1 1055.9,745.1 1056.5,745.1 1057.0,745.1 1057.6,745.2 1058.1,745.2 1058.6,745.2 1059.2,745.3 1059.7,745.3 1060.2,745.4 1060.8,745.4 1061.3,745.5 1061.8,745.5 1062.4,745.6 1062.9,745.6 1063.4,745.7 1064.0,745.8 1064.5,745.9 1065.0,745.9 1065.6,746.0 1066.1,746.1 1066.6,746.2 1067.2,746.3 1067.7,746.3 1068.2,746.4 1068.8,746.5 1069.3,746.6 1069.8,746.7 1070.4,746.7 1070.9,746.8 1071.4,746.9 1072.0,746.9 1072.5,747.0 1073.0,747.1 1073.6,747.1 1074.1,747.2 1074.6,747.2 1075.2,747.3 1075.7,747.3 1076.2,747.4 1076.8,747.4 1077.3,747.4 1077.8,747.5 1078.4,747.5 1078.9,747.5 1079.4,747.5 1080.0,747.5 1080.5,747.5 1081.0,747.5 1081.6,747.5 1082.1,747.5 1082.6,747.5 1083.2,747.5 1083.7,747.5 1084.2,747.5 1084.8,747.5 1085.3,747.4 1085.8,747.4 1086.4,747.4 1086.9,747.4 1087.4,747.4 1088.0,747.4 1088.5,747.3 1089.0,747.3 1089.6,747.3 1090.1,747.3 1090.6,747.3 1091.2,747.2 1091.7,747.2 1092.2,747.2 1092.8,747.2 1093.3,747.1 1093.8,747.1 1094.4,747.1 1094.9,747.0 1095.4,747.0 1096.0,747.0 1096.5,747.0 1097.0,746.9 1097.6,746.9 1098.1,746.9 1098.6,746.8 1099.2,746.8 1099.7,746.8 1100.2,746.7 1100.8,746.7 1101.3,746.7 1101.8,746.6 1102.4,746.6 1102.9,746.6 1103.4,746.5 1104.0,746.5 1104.5,746.5 1105.0,746.4 1105.6,746.4 1106.1,746.4 1106.7,746.4 1107.2,746.3 1107.7,746.3 1108.3,746.3 1108.8,746.2 1109.3,746.2 1109.9,746.2 1110.4,746.2 1110.9,746.1 1111.5,746.1 1112.0,746.1 1112.5,746.1 1113.1,746.1 1113.6,746.0 1114.1,746.0 1114.7,746.0 1115.2,746.0 1115.7,746.0 1116.3,746.0 1116.8,745.9 1117.3,745.9 1117.9,745.9 1118.4,745.9 1118.9,745.9 1119.5,745.9 1120.0,745.9 1120.5,745.9 1121.1,745.9 1121.6,745.9 1122.1,745.9 1122.7,745.9 1123.2,745.9 1123.7,745.9 1124.3,745.9 1124.8,745.9 1125.3,745.9 1125.9,745.9 1126.4,745.9 1126.9,746.0 1127.5,746.0 1128.0,746.0 1128.5,746.0 1129.1,746.0 1129.6,746.0 1130.1,746.0 1130.7,746.0 1131.2,746.1 1131.7,746.1 1132.3,746.1 1132.8,746.1 1133.3,746.1 1133.9,746.2 1134.4,746.2 1134.9,746.2 1135.5,746.2 1136.0,746.2 1136.5,746.3 1137.1,746.3 1137.6,746.3 1138.1,746.3 1138.7,746.3 1139.2,746.4 1139.7,746.4 1140.3,746.4 1140.8,746.4 1141.3,746.4 1141.9,746.5 1142.4,746.5 1142.9,746.5 1143.5,746.5 1144.0,746.5 1144.5,746.6 1145.1,746.6 1145.6,746.6 1146.1,746.6 1146.7,746.6 1147.2,746.6 1147.7,746.6 1148.3,746.6 1148.8,746.7 1149.3,746.7 1149.9,746.7 1150.4,746.7 1150.9,746.7 1151.5,746.7 1152.0,746.7 1152.5,746.7 1153.1,746.7 1153.6,746.7 1154.1,746.7 1154.7,746.7 1155.2,746.7 1155.8,746.7 1156.3,746.7 1156.8,746.7 1157.4,746.7 1157.9,746.7 1158.4,746.7 1159.0,746.7 1159.5,746.7 1160.0,746.7 1160.6,746.7 1161.1,746.6 1161.6,746.6 1162.2,746.6 1162.7,746.6 1163.2,746.6 1163.8,746.6 1164.3,746.6 1164.8,746.6 1165.4,746.6 1165.9,746.6 1166.4,746.6 1167.0,746.6 1167.5,746.5 1168.0,746.5 1168.6,746.5 1169.1,746.5 1169.6,746.5 1170.2,746.5 1170.7,746.5 1171.2,746.5 1171.8,746.5 1172.3,746.4 1172.8,746.4 1173.4,746.4 1173.9,746.4 1174.4,746.4 1175.0,746.4 1175.5,746.4 1176.0,746.4 1176.6,746.4 1177.1,746.4 1177.6,746.4 1178.2,746.4 1178.7,746.3 1179.2,746.3 1179.8,746.3 1180.3,746.3 1180.8,746.3 1181.4,746.3 1181.9,746.3 1182.4,746.3 1183.0,746.3 1183.5,746.3 1184.0,746.3 1184.6,746.3 1185.1,746.3 1185.6,746.3 1186.2,746.3 1186.7,746.3 1187.2,746.3 1187.8,746.3 1188.3,746.3 1188.8,746.3 1189.4,746.3 1189.9,746.3 1190.4,746.3 1191.0,746.3 1191.5,746.3 1192.0,746.3 1192.6,746.3 1193.1,746.3 1193.6,746.3 1194.2,746.3 1194.7,746.3 1195.2,746.3 1195.8,746.3 1196.3,746.3 1196.8,746.3 1197.4,746.3 1197.9,746.3 1198.4,746.3 1199.0,746.3 1199.5,746.3 1200.0,746.3 1200.6,746.3 1201.1,746.3 1201.6,746.3 1202.2,746.3 1202.7,746.3 1203.3,746.3 1203.8,746.3 1204.3,746.3 1204.9,746.3 1205.4,746.3 1205.9,746.3 1206.5,746.3 1207.0,746.3 1207.5,746.3 1208.1,746.3 1208.6,746.3 1209.1,746.3 1209.7,746.3 1210.2,746.3 1210.7,746.3 1211.3,746.3 1211.8,746.3 1212.3,746.3 1212.9,746.3 1213.4,746.3 1213.9,746.3 1214.5,746.3 1215.0,746.3 1215.5,746.3 1216.1,746.3 1216.6,746.3 1217.1,746.3 1217.7,746.3 1218.2,746.3 1218.7,746.3 1219.3,746.3 1219.8,746.3 1220.3,746.3 1220.9,746.3 1221.4,746.3 1221.9,746.3 1222.5,746.3 1223.0,746.3 1223.5,746.3 1224.1,746.3 1224.6,746.3 1225.1,746.3 1225.7,746.3 1226.2,746.3 1226.7,746.3 1227.3,746.3 1227.8,746.3 1228.3,746.3 1228.9,746.3 1229.4,746.3 1229.9,746.3 1230.5,746.3 1231.0,746.3 1231.5,746.3 1232.1,746.3 1232.6,746.3 1233.1,746.3 1233.7,746.3 1234.2,746.3 1234.7,746.3 1235.3,746.3 1235.8,746.3 1236.3,746.3 1236.9,746.3 1237.4,746.3 1237.9,746.3 1238.5,746.3 1239.0,746.3 1239.5,746.3 1240.1,746.3 1240.6,746.3 1241.1,746.3 1241.7,746.3 1242.2,746.3 1242.7,746.3 1243.3,746.3 1243.8,746.3 1244.3,746.3 1244.9,746.3 1245.4,746.3 1245.9,746.3 1246.5,746.3 1247.0,746.3 1247.5,746.3 1248.1,746.3 1248.6,746.3 1249.1,746.3 1249.7,746.3 1250.2,746.3 1250.7,746.3 1251.3,746.3 1251.8,746.3 1252.4,746.3 1252.9,746.3 1253.4,746.3 1254.0,746.3 1254.5,746.3 1255.0,746.3 1255.6,746.3 1256.1,746.3 1256.6,746.3 1257.2,746.3 1257.7,746.3 1258.2,746.3 1258.8,746.3 1259.3,746.3 1259.8,746.3 1260.4,746.3 1260.9,746.3 1261.4,746.3 1262.0,746.3 1262.5,746.3 1263.0,746.3 1263.6,746.3 1264.1,746.3 1264.6,746.3 1265.2,746.3 1265.7,746.3 1266.2,746.3 1266.8,746.3 1267.3,746.3 1267.8,746.3 1268.4,746.3 1268.9,746.3 1269.4,746.3 1270.0,746.3 1270.5,746.3 1271.0,746.3 1271.6,746.3 1272.1,746.3 1272.6,746.3 1273.2,746.3 1273.7,746.3 1274.2,746.3 1274.8,746.3 1275.3,746.3 1275.8,746.3 1276.4,746.3 1276.9,746.3 1277.4,746.3 1278.0,746.3 1278.5,746.3 1279.0,746.3 1279.6,746.3 1280.1,746.3 1280.6,746.3 1281.2,746.3 1281.7,746.3 1282.2,746.3 1282.8,746.3 1283.3,746.3 1283.8,746.3 1284.4,746.3 1284.9,746.3 1285.4,746.3 1286.0,746.3 1286.5,746.3 1287.0,746.3 1287.6,746.3 1288.1,746.3 1288.6,746.3 1289.2,746.3 1289.7,746.3 1290.2,746.3 1290.8,746.3 1291.3,746.3 1291.8,746.3 1292.4,746.3 1292.9,746.3 1293.4,746.3 1294.0,746.3 1294.5,746.3 1295.0,746.3 1295.6,746.3 1296.1,746.3 1296.6,746.3 1297.2,746.3 1297.7,746.3 1298.2,746.3 1298.8,746.3 1299.3,746.3 1299.8,746.3 1300.4,746.3 1300.9,746.3 1301.5,746.3 1302.0,746.3 1302.5,746.3 1303.1,746.3 1303.6,746.3 1304.1,746.3 1304.7,746.3 1305.2,746.3 1305.7,746.3 1306.3,746.3 1306.8,746.3 1307.3,746.3 1307.9,746.3 1308.4,746.3 1308.9,746.3 1309.5,746.3 1310.0,746.3 1310.5,746.3 1311.1,746.3 1311.6,746.3 1312.1,746.3 1312.7,746.3 1313.2,746.3 1313.7,746.3 1314.3,746.3 1314.8,746.3 1315.3,746.3 1315.9,746.3 1316.4,746.3 1316.9,746.3 1317.5,746.3 1318.0,746.3 1318.5,746.3 1319.1,746.3 1319.6,746.3 1320.1,746.3 1320.7,746.3 1321.2,746.3 1321.7,746.3 1322.3,746.3 1322.8,746.3 1323.3,746.3 1323.9,746.3 1324.4,746.3" />
<polyline fill="none" stroke="#E8A022" stroke-width="4.3" stroke-linejoin="round" points="790.7,694.0 791.2,691.7 791.8,689.2 792.3,686.6 792.8,683.9 793.4,681.1 793.9,678.2 794.4,675.2 795.0,672.1 795.5,668.8 796.0,665.5 796.6,662.1 797.1,658.6 797.6,655.1 798.2,651.5 798.7,647.8 799.2,644.0 799.8,640.2 800.3,636.3 800.8,632.4 801.4,628.5 801.9,624.5 802.4,620.5 803.0,616.5 803.5,612.4 804.0,608.4 804.6,604.4 805.1,600.4 805.6,596.4 806.2,592.5 806.7,588.6 807.2,584.7 807.8,580.9 808.3,577.1 808.8,573.4 809.4,569.8 809.9,566.3 810.4,562.8 811.0,559.5 811.5,556.2 812.0,553.1 812.6,550.0 813.1,547.1 813.6,544.3 814.2,541.7 814.7,539.2 815.3,536.8 815.8,534.6 816.3,532.5 816.9,530.6 817.4,528.8 817.9,527.2 818.5,525.8 819.0,524.5 819.5,523.4 820.1,522.5 820.6,521.8 821.1,521.2 821.7,520.8 822.2,520.6 822.7,520.6 823.3,520.8 823.8,521.0 824.3,521.5 824.9,522.1 825.4,522.8 825.9,523.7 826.5,524.7 827.0,525.9 827.5,527.2 828.1,528.6 828.6,530.2 829.1,531.9 829.7,533.8 830.2,535.7 830.7,537.8 831.3,540.0 831.8,542.3 832.3,544.7 832.9,547.2 833.4,549.7 833.9,552.4 834.5,555.2 835.0,558.0 835.5,560.8 836.1,563.8 836.6,566.8 837.1,569.8 837.7,572.9 838.2,576.0 838.7,579.1 839.3,582.3 839.8,585.4 840.3,588.6 840.9,591.8 841.4,594.9 841.9,598.0 842.5,601.1 843.0,604.2 843.5,607.2 844.1,610.2 844.6,613.1 845.1,615.9 845.7,618.7 846.2,621.4 846.7,624.1 847.3,626.6 847.8,629.1 848.3,631.4 848.9,633.7 849.4,635.8 849.9,637.8 850.5,639.7 851.0,641.5 851.5,643.2 852.1,644.7 852.6,646.1 853.1,647.4 853.7,648.5 854.2,649.4 854.7,650.3 855.3,651.0 855.8,651.5 856.3,651.9 856.9,652.1 857.4,652.2 857.9,652.1 858.5,652.0 859.0,651.7 859.5,651.3 860.1,650.9 860.6,650.3 861.1,649.6 861.7,648.9 862.2,648.0 862.7,647.0 863.3,646.0 863.8,644.9 864.4,643.6 864.9,642.3 865.4,641.0 866.0,639.5 866.5,638.0 867.0,636.4 867.6,634.8 868.1,633.1 868.6,631.3 869.2,629.5 869.7,627.7 870.2,625.8 870.8,623.9 871.3,622.0 871.8,620.1 872.4,618.1 872.9,616.1 873.4,614.2 874.0,612.2 874.5,610.2 875.0,608.3 875.6,606.4 876.1,604.5 876.6,602.6 877.2,600.8 877.7,599.0 878.2,597.2 878.8,595.5 879.3,593.9 879.8,592.3 880.4,590.8 880.9,589.3 881.4,588.0 882.0,586.7 882.5,585.4 883.0,584.3 883.6,583.3 884.1,582.3 884.6,581.4 885.2,580.7 885.7,580.0 886.2,579.4 886.8,579.0 887.3,578.6 887.8,578.3 888.4,578.2 888.9,578.1 889.4,578.2 890.0,578.3 890.5,578.4 891.0,578.6 891.6,578.9 892.1,579.2 892.6,579.6 893.2,580.1 893.7,580.6 894.2,581.2 894.8,581.8 895.3,582.5 895.8,583.2 896.4,584.0 896.9,584.8 897.4,585.7 898.0,586.6 898.5,587.6 899.0,588.6 899.6,589.6 900.1,590.7 900.6,591.8 901.2,592.9 901.7,594.1 902.2,595.3 902.8,596.5 903.3,597.7 903.8,599.0 904.4,600.2 904.9,601.5 905.4,602.8 906.0,604.0 906.5,605.3 907.0,606.6 907.6,607.9 908.1,609.2 908.6,610.4 909.2,611.7 909.7,612.9 910.2,614.1 910.8,615.3 911.3,616.5 911.8,617.6 912.4,618.7 912.9,619.8 913.5,620.8 914.0,621.8 914.5,622.8 915.1,623.7 915.6,624.6 916.1,625.4 916.7,626.2 917.2,626.9 917.7,627.6 918.3,628.2 918.8,628.8 919.3,629.3 919.9,629.7 920.4,630.1 920.9,630.5 921.5,630.7 922.0,631.0 922.5,631.1 923.1,631.2 923.6,631.2 924.1,631.2 924.7,631.2 925.2,631.1 925.7,631.0 926.3,630.8 926.8,630.6 927.3,630.4 927.9,630.1 928.4,629.8 928.9,629.5 929.5,629.1 930.0,628.7 930.5,628.3 931.1,627.8 931.6,627.3 932.1,626.8 932.7,626.3 933.2,625.7 933.7,625.1 934.3,624.5 934.8,623.9 935.3,623.3 935.9,622.6 936.4,621.9 936.9,621.2 937.5,620.5 938.0,619.8 938.5,619.1 939.1,618.4 939.6,617.7 940.1,616.9 940.7,616.2 941.2,615.5 941.7,614.7 942.3,614.0 942.8,613.3 943.3,612.6 943.9,611.9 944.4,611.2 944.9,610.5 945.5,609.9 946.0,609.2 946.5,608.6 947.1,608.0 947.6,607.4 948.1,606.8 948.7,606.3 949.2,605.8 949.7,605.3 950.3,604.9 950.8,604.4 951.3,604.0 951.9,603.7 952.4,603.3 952.9,603.0 953.5,602.8 954.0,602.5 954.5,602.3 955.1,602.2 955.6,602.0 956.1,601.9 956.7,601.9 957.2,601.9 957.7,601.9 958.3,601.9 958.8,602.0 959.3,602.1 959.9,602.3 960.4,602.4 961.0,602.6 961.5,602.8 962.0,603.1 962.6,603.4 963.1,603.7 963.6,604.0 964.2,604.4 964.7,604.8 965.2,605.2 965.8,605.6 966.3,606.1 966.8,606.5 967.4,607.0 967.9,607.5 968.4,608.1 969.0,608.6 969.5,609.1 970.0,609.7 970.6,610.3 971.1,610.9 971.6,611.4 972.2,612.0 972.7,612.6 973.2,613.2 973.8,613.8 974.3,614.4 974.8,615.0 975.4,615.6 975.9,616.2 976.4,616.8 977.0,617.4 977.5,617.9 978.0,618.5 978.6,619.0 979.1,619.5 979.6,620.1 980.2,620.5 980.7,621.0 981.2,621.5 981.8,621.9 982.3,622.3 982.8,622.7 983.4,623.0 983.9,623.4 984.4,623.7 985.0,624.0 985.5,624.2 986.0,624.5 986.6,624.7 987.1,624.8 987.6,625.0 988.2,625.1 988.7,625.1 989.2,625.2 989.8,625.2 990.3,625.2 990.8,625.2 991.4,625.1 991.9,625.1 992.4,625.0 993.0,624.9 993.5,624.8 994.0,624.6 994.6,624.5 995.1,624.3 995.6,624.1 996.2,623.9 996.7,623.7 997.2,623.5 997.8,623.3 998.3,623.0 998.8,622.7 999.4,622.5 999.9,622.2 1000.4,621.9 1001.0,621.6 1001.5,621.3 1002.0,620.9 1002.6,620.6 1003.1,620.3 1003.6,619.9 1004.2,619.6 1004.7,619.3 1005.2,618.9 1005.8,618.6 1006.3,618.2 1006.8,617.9 1007.4,617.5 1007.9,617.2 1008.4,616.9 1009.0,616.5 1009.5,616.2 1010.1,615.9 1010.6,615.6 1011.1,615.2 1011.7,615.0 1012.2,614.7 1012.7,614.4 1013.3,614.1 1013.8,613.9 1014.3,613.6 1014.9,613.4 1015.4,613.2 1015.9,613.0 1016.5,612.8 1017.0,612.7 1017.5,612.5 1018.1,612.4 1018.6,612.3 1019.1,612.2 1019.7,612.1 1020.2,612.0 1020.7,612.0 1021.3,611.9 1021.8,611.9 1022.3,611.9 1022.9,612.0 1023.4,612.0 1023.9,612.1 1024.5,612.2 1025.0,612.3 1025.5,612.4 1026.1,612.6 1026.6,612.8 1027.1,613.0 1027.7,613.2 1028.2,613.4 1028.7,613.6 1029.3,613.9 1029.8,614.2 1030.3,614.5 1030.9,614.7 1031.4,615.1 1031.9,615.4 1032.5,615.7 1033.0,616.0 1033.5,616.4 1034.1,616.7 1034.6,617.1 1035.1,617.4 1035.7,617.8 1036.2,618.1 1036.7,618.5 1037.3,618.8 1037.8,619.2 1038.3,619.5 1038.9,619.8 1039.4,620.2 1039.9,620.5 1040.5,620.8 1041.0,621.1 1041.5,621.4 1042.1,621.6 1042.6,621.9 1043.1,622.1 1043.7,622.4 1044.2,622.6 1044.7,622.8 1045.3,622.9 1045.8,623.1 1046.3,623.2 1046.9,623.3 1047.4,623.4 1047.9,623.5 1048.5,623.6 1049.0,623.6 1049.5,623.6 1050.1,623.6 1050.6,623.6 1051.1,623.5 1051.7,623.5 1052.2,623.4 1052.7,623.4 1053.3,623.3 1053.8,623.2 1054.3,623.1 1054.9,623.0 1055.4,622.9 1055.9,622.7 1056.5,622.6 1057.0,622.4 1057.6,622.3 1058.1,622.1 1058.6,621.9 1059.2,621.7 1059.7,621.6 1060.2,621.4 1060.8,621.2 1061.3,621.0 1061.8,620.7 1062.4,620.5 1062.9,620.3 1063.4,620.1 1064.0,619.9 1064.5,619.7 1065.0,619.4 1065.6,619.2 1066.1,619.0 1066.6,618.8 1067.2,618.6 1067.7,618.4 1068.2,618.2 1068.8,618.0 1069.3,617.8 1069.8,617.6 1070.4,617.4 1070.9,617.3 1071.4,617.1 1072.0,617.0 1072.5,616.8 1073.0,616.7 1073.6,616.6 1074.1,616.4 1074.6,616.3 1075.2,616.3 1075.7,616.2 1076.2,616.1 1076.8,616.1 1077.3,616.0 1077.8,616.0 1078.4,616.0 1078.9,616.0 1079.4,616.0 1080.0,616.0 1080.5,616.0 1081.0,616.0 1081.6,616.0 1082.1,616.0 1082.6,616.1 1083.2,616.1 1083.7,616.2 1084.2,616.2 1084.8,616.3 1085.3,616.3 1085.8,616.4 1086.4,616.4 1086.9,616.5 1087.4,616.6 1088.0,616.7 1088.5,616.7 1089.0,616.8 1089.6,616.9 1090.1,617.0 1090.6,617.1 1091.2,617.2 1091.7,617.3 1092.2,617.4 1092.8,617.5 1093.3,617.6 1093.8,617.7 1094.4,617.8 1094.9,617.9 1095.4,618.0 1096.0,618.1 1096.5,618.2 1097.0,618.3 1097.6,618.4 1098.1,618.5 1098.6,618.6 1099.2,618.7 1099.7,618.9 1100.2,619.0 1100.8,619.1 1101.3,619.1 1101.8,619.2 1102.4,619.3 1102.9,619.4 1103.4,619.5 1104.0,619.6 1104.5,619.7 1105.0,619.7 1105.6,619.8 1106.1,619.9 1106.7,620.0 1107.2,620.0 1107.7,620.1 1108.3,620.1 1108.8,620.2 1109.3,620.2 1109.9,620.3 1110.4,620.3 1110.9,620.3 1111.5,620.3 1112.0,620.4 1112.5,620.4 1113.1,620.4 1113.6,620.4 1114.1,620.4 1114.7,620.4 1115.2,620.4 1115.7,620.4 1116.3,620.4 1116.8,620.3 1117.3,620.3 1117.9,620.3 1118.4,620.3 1118.9,620.3 1119.5,620.3 1120.0,620.2 1120.5,620.2 1121.1,620.2 1121.6,620.2 1122.1,620.2 1122.7,620.1 1123.2,620.1 1123.7,620.1 1124.3,620.0 1124.8,620.0 1125.3,620.0 1125.9,619.9 1126.4,619.9 1126.9,619.9 1127.5,619.8 1128.0,619.8 1128.5,619.7 1129.1,619.7 1129.6,619.7 1130.1,619.6 1130.7,619.6 1131.2,619.6 1131.7,619.5 1132.3,619.5 1132.8,619.4 1133.3,619.4 1133.9,619.4 1134.4,619.3 1134.9,619.3 1135.5,619.3 1136.0,619.2 1136.5,619.2 1137.1,619.1 1137.6,619.1 1138.1,619.1 1138.7,619.1 1139.2,619.0 1139.7,619.0 1140.3,619.0 1140.8,618.9 1141.3,618.9 1141.9,618.9 1142.4,618.9 1142.9,618.9 1143.5,618.8 1144.0,618.8 1144.5,618.8 1145.1,618.8 1145.6,618.8 1146.1,618.8 1146.7,618.8 1147.2,618.8 1147.7,618.8 1148.3,618.8 1148.8,618.8 1149.3,618.8 1149.9,618.8 1150.4,618.8 1150.9,618.8 1151.5,618.8 1152.0,618.8 1152.5,618.8 1153.1,618.8 1153.6,618.8 1154.1,618.8 1154.7,618.8 1155.2,618.8 1155.8,618.8 1156.3,618.9 1156.8,618.9 1157.4,618.9 1157.9,618.9 1158.4,618.9 1159.0,618.9 1159.5,618.9 1160.0,619.0 1160.6,619.0 1161.1,619.0 1161.6,619.0 1162.2,619.0 1162.7,619.0 1163.2,619.0 1163.8,619.1 1164.3,619.1 1164.8,619.1 1165.4,619.1 1165.9,619.1 1166.4,619.2 1167.0,619.2 1167.5,619.2 1168.0,619.2 1168.6,619.2 1169.1,619.2 1169.6,619.3 1170.2,619.3 1170.7,619.3 1171.2,619.3 1171.8,619.3 1172.3,619.3 1172.8,619.4 1173.4,619.4 1173.9,619.4 1174.4,619.4 1175.0,619.4 1175.5,619.4 1176.0,619.5 1176.6,619.5 1177.1,619.5 1177.6,619.5 1178.2,619.5 1178.7,619.5 1179.2,619.5 1179.8,619.5 1180.3,619.5 1180.8,619.5 1181.4,619.5 1181.9,619.6 1182.4,619.6 1183.0,619.6 1183.5,619.6 1184.0,619.6 1184.6,619.6 1185.1,619.6 1185.6,619.6 1186.2,619.6 1186.7,619.6 1187.2,619.6 1187.8,619.6 1188.3,619.6 1188.8,619.6 1189.4,619.6 1189.9,619.6 1190.4,619.6 1191.0,619.6 1191.5,619.6 1192.0,619.6 1192.6,619.6 1193.1,619.6 1193.6,619.6 1194.2,619.6 1194.7,619.6 1195.2,619.6 1195.8,619.6 1196.3,619.6 1196.8,619.6 1197.4,619.6 1197.9,619.6 1198.4,619.6 1199.0,619.6 1199.5,619.6 1200.0,619.6 1200.6,619.6 1201.1,619.6 1201.6,619.6 1202.2,619.6 1202.7,619.6 1203.3,619.6 1203.8,619.6 1204.3,619.6 1204.9,619.6 1205.4,619.6 1205.9,619.6 1206.5,619.6 1207.0,619.6 1207.5,619.6 1208.1,619.6 1208.6,619.6 1209.1,619.6 1209.7,619.6 1210.2,619.6 1210.7,619.6 1211.3,619.6 1211.8,619.6 1212.3,619.6 1212.9,619.6 1213.4,619.6 1213.9,619.6 1214.5,619.6 1215.0,619.6 1215.5,619.6 1216.1,619.6 1216.6,619.6 1217.1,619.6 1217.7,619.6 1218.2,619.6 1218.7,619.6 1219.3,619.6 1219.8,619.6 1220.3,619.6 1220.9,619.6 1221.4,619.6 1221.9,619.6 1222.5,619.6 1223.0,619.6 1223.5,619.6 1224.1,619.6 1224.6,619.6 1225.1,619.6 1225.7,619.6 1226.2,619.6 1226.7,619.6 1227.3,619.6 1227.8,619.6 1228.3,619.6 1228.9,619.6 1229.4,619.6 1229.9,619.6 1230.5,619.6 1231.0,619.6 1231.5,619.6 1232.1,619.6 1232.6,619.6 1233.1,619.6 1233.7,619.6 1234.2,619.6 1234.7,619.6 1235.3,619.6 1235.8,619.6 1236.3,619.6 1236.9,619.6 1237.4,619.6 1237.9,619.6 1238.5,619.6 1239.0,619.6 1239.5,619.6 1240.1,619.6 1240.6,619.6 1241.1,619.6 1241.7,619.6 1242.2,619.6 1242.7,619.6 1243.3,619.6 1243.8,619.6 1244.3,619.6 1244.9,619.6 1245.4,619.6 1245.9,619.6 1246.5,619.6 1247.0,619.6 1247.5,619.6 1248.1,619.6 1248.6,619.6 1249.1,619.6 1249.7,619.6 1250.2,619.6 1250.7,619.6 1251.3,619.6 1251.8,619.6 1252.4,619.6 1252.9,619.6 1253.4,619.6 1254.0,619.6 1254.5,619.6 1255.0,619.6 1255.6,619.6 1256.1,619.6 1256.6,619.6 1257.2,619.6 1257.7,619.6 1258.2,619.6 1258.8,619.6 1259.3,619.6 1259.8,619.6 1260.4,619.6 1260.9,619.6 1261.4,619.6 1262.0,619.6 1262.5,619.6 1263.0,619.6 1263.6,619.6 1264.1,619.6 1264.6,619.6 1265.2,619.6 1265.7,619.6 1266.2,619.6 1266.8,619.6 1267.3,619.6 1267.8,619.6 1268.4,619.6 1268.9,619.6 1269.4,619.6 1270.0,619.6 1270.5,619.6 1271.0,619.6 1271.6,619.6 1272.1,619.6 1272.6,619.6 1273.2,619.6 1273.7,619.6 1274.2,619.6 1274.8,619.6 1275.3,619.6 1275.8,619.6 1276.4,619.6 1276.9,619.6 1277.4,619.6 1278.0,619.6 1278.5,619.6 1279.0,619.6 1279.6,619.6 1280.1,619.6 1280.6,619.6 1281.2,619.6 1281.7,619.6 1282.2,619.6 1282.8,619.6 1283.3,619.6 1283.8,619.6 1284.4,619.6 1284.9,619.6 1285.4,619.6 1286.0,619.6 1286.5,619.6 1287.0,619.6 1287.6,619.6 1288.1,619.6 1288.6,619.6 1289.2,619.6 1289.7,619.6 1290.2,619.6 1290.8,619.6 1291.3,619.6 1291.8,619.6 1292.4,619.6 1292.9,619.6 1293.4,619.6 1294.0,619.6 1294.5,619.6 1295.0,619.6 1295.6,619.6 1296.1,619.6 1296.6,619.6 1297.2,619.6 1297.7,619.6 1298.2,619.6 1298.8,619.6 1299.3,619.6 1299.8,619.6 1300.4,619.6 1300.9,619.6 1301.5,619.6 1302.0,619.6 1302.5,619.6 1303.1,619.6 1303.6,619.6 1304.1,619.6 1304.7,619.6 1305.2,619.6 1305.7,619.6 1306.3,619.6 1306.8,619.6 1307.3,619.6 1307.9,619.6 1308.4,619.6 1308.9,619.6 1309.5,619.6 1310.0,619.6 1310.5,619.6 1311.1,619.6 1311.6,619.6 1312.1,619.6 1312.7,619.6 1313.2,619.6 1313.7,619.6 1314.3,619.6 1314.8,619.6 1315.3,619.6 1315.9,619.6 1316.4,619.6 1316.9,619.6 1317.5,619.6 1318.0,619.6 1318.5,619.6 1319.1,619.6 1319.6,619.6 1320.1,619.6 1320.7,619.6 1321.2,619.6 1321.7,619.6 1322.3,619.6 1322.8,619.6 1323.3,619.6 1323.9,619.6 1324.4,619.6" />
</g>
<rect x="97.6" y="21.6" width="530.1" height="330.0" fill="none" stroke="#000" stroke-width="3.4"/>
<path d="M203.6,351.6V338.6M203.6,21.6V34.6M309.6,351.6V338.6M309.6,21.6V34.6M415.7,351.6V338.6M415.7,21.6V34.6M521.7,351.6V338.6M521.7,21.6V34.6M97.6,314.7H110.6M627.7,314.7H614.7M97.6,241.5H110.6M627.7,241.5H614.7M97.6,168.3H110.6M627.7,168.3H614.7M97.6,95.1H110.6M627.7,95.1H614.7" stroke="#000" stroke-width="3.4" fill="none"/>
<text x="97.6" y="381.3" font-size="29" text-anchor="middle">0</text>
<text x="203.6" y="381.3" font-size="29" text-anchor="middle">20</text>
<text x="309.6" y="381.3" font-size="29" text-anchor="middle">40</text>
<text x="415.7" y="381.3" font-size="29" text-anchor="middle">60</text>
<text x="521.7" y="381.3" font-size="29" text-anchor="middle">80</text>
<path d="M763 0L583 0L583 1147Q518 1085 413 1023Q308 961 223 930L223 1104Q374 1175 487 1276Q600 1377 647 1472L763 1472Z" transform="translate(603.51,381.30) scale(0.01416,-0.01416)" fill="#000"/>
<text x="619.64" y="381.3" font-size="29">00</text>
<path d="M763 0L583 0L583 1147Q518 1085 413 1023Q308 961 223 930L223 1104Q374 1175 487 1276Q600 1377 647 1472L763 1472Z" transform="translate(78.47,324.90) scale(0.01416,-0.01416)" fill="#000"/>
<text x="78.5" y="324.9" font-size="29" text-anchor="end">−</text>
<text x="94.6" y="251.7" font-size="29" text-anchor="end">0</text>
<path d="M763 0L583 0L583 1147Q518 1085 413 1023Q308 961 223 930L223 1104Q374 1175 487 1276Q600 1377 647 1472L763 1472Z" transform="translate(78.47,178.50) scale(0.01416,-0.01416)" fill="#000"/>
<text x="94.6" y="105.3" font-size="29" text-anchor="end">2</text>
<text x="362.7" y="422.3" font-size="31" text-anchor="middle">Time (ms)</text>
<rect x="790.7" y="21.6" width="533.8" height="330.0" fill="none" stroke="#000" stroke-width="3.4"/>
<path d="M897.5,351.6V338.6M897.5,21.6V34.6M1004.2,351.6V338.6M1004.2,21.6V34.6M1111.0,351.6V338.6M1111.0,21.6V34.6M1217.7,351.6V338.6M1217.7,21.6V34.6M790.7,284.6H803.7M1324.5,284.6H1311.5M790.7,179.9H803.7M1324.5,179.9H1311.5M790.7,75.2H803.7M1324.5,75.2H1311.5" stroke="#000" stroke-width="3.4" fill="none"/>
<text x="790.7" y="381.3" font-size="29" text-anchor="middle">0</text>
<text x="897.5" y="381.3" font-size="29" text-anchor="middle">20</text>
<text x="1004.2" y="381.3" font-size="29" text-anchor="middle">40</text>
<text x="1111.0" y="381.3" font-size="29" text-anchor="middle">60</text>
<text x="1217.7" y="381.3" font-size="29" text-anchor="middle">80</text>
<path d="M763 0L583 0L583 1147Q518 1085 413 1023Q308 961 223 930L223 1104Q374 1175 487 1276Q600 1377 647 1472L763 1472Z" transform="translate(1300.31,381.30) scale(0.01416,-0.01416)" fill="#000"/>
<text x="1316.44" y="381.3" font-size="29">00</text>
<text x="787.7" y="294.8" font-size="29" text-anchor="end">−2</text>
<text x="787.7" y="190.1" font-size="29" text-anchor="end">0</text>
<text x="787.7" y="85.4" font-size="29" text-anchor="end">2</text>
<text x="1057.6" y="422.3" font-size="31" text-anchor="middle">Time (ms)</text>
<rect x="101.4" y="465.1" width="526.6" height="329.8" fill="none" stroke="#000" stroke-width="3.4"/>
<path d="M206.7,794.9V781.9M206.7,465.1V478.1M312.0,794.9V781.9M312.0,465.1V478.1M417.4,794.9V781.9M417.4,465.1V478.1M522.7,794.9V781.9M522.7,465.1V478.1M101.4,770.6H114.4M628.0,770.6H615.0M101.4,676.6H114.4M628.0,676.6H615.0M101.4,582.6H114.4M628.0,582.6H615.0M101.4,488.6H114.4M628.0,488.6H615.0" stroke="#000" stroke-width="3.4" fill="none"/>
<text x="101.4" y="824.5" font-size="29" text-anchor="middle">0</text>
<text x="206.7" y="824.5" font-size="29" text-anchor="middle">20</text>
<text x="312.0" y="824.5" font-size="29" text-anchor="middle">40</text>
<text x="417.4" y="824.5" font-size="29" text-anchor="middle">60</text>
<text x="522.7" y="824.5" font-size="29" text-anchor="middle">80</text>
<path d="M763 0L583 0L583 1147Q518 1085 413 1023Q308 961 223 930L223 1104Q374 1175 487 1276Q600 1377 647 1472L763 1472Z" transform="translate(603.81,824.50) scale(0.01416,-0.01416)" fill="#000"/>
<text x="619.94" y="824.5" font-size="29">00</text>
<text x="98.4" y="780.8" font-size="29" text-anchor="end">−2</text>
<text x="98.4" y="686.8" font-size="29" text-anchor="end">0</text>
<text x="98.4" y="592.8" font-size="29" text-anchor="end">2</text>
<text x="98.4" y="498.8" font-size="29" text-anchor="end">4</text>
<text x="364.7" y="865.5" font-size="31" text-anchor="middle">Time (ms)</text>
<rect x="790.7" y="465.1" width="533.7" height="329.9" fill="none" stroke="#000" stroke-width="3.4"/>
<path d="M897.4,795.0V782.0M897.4,465.1V478.1M1004.2,795.0V782.0M1004.2,465.1V478.1M1110.9,795.0V782.0M1110.9,465.1V478.1M1217.7,795.0V782.0M1217.7,465.1V478.1M790.7,774.5H803.7M1324.4,774.5H1311.4M790.7,694.0H803.7M1324.4,694.0H1311.4M790.7,613.5H803.7M1324.4,613.5H1311.4M790.7,533.1H803.7M1324.4,533.1H1311.4" stroke="#000" stroke-width="3.4" fill="none"/>
<text x="790.7" y="824.5" font-size="29" text-anchor="middle">0</text>
<text x="897.4" y="824.5" font-size="29" text-anchor="middle">20</text>
<text x="1004.2" y="824.5" font-size="29" text-anchor="middle">40</text>
<text x="1110.9" y="824.5" font-size="29" text-anchor="middle">60</text>
<text x="1217.7" y="824.5" font-size="29" text-anchor="middle">80</text>
<path d="M763 0L583 0L583 1147Q518 1085 413 1023Q308 961 223 930L223 1104Q374 1175 487 1276Q600 1377 647 1472L763 1472Z" transform="translate(1300.21,824.50) scale(0.01416,-0.01416)" fill="#000"/>
<text x="1316.34" y="824.5" font-size="29">00</text>
<text x="787.7" y="784.7" font-size="29" text-anchor="end">−2</text>
<text x="787.7" y="704.2" font-size="29" text-anchor="end">0</text>
<text x="787.7" y="623.7" font-size="29" text-anchor="end">2</text>
<text x="787.7" y="543.3" font-size="29" text-anchor="end">4</text>
<text x="1057.6" y="865.5" font-size="31" text-anchor="middle">Time (ms)</text>
<text x="-0.7" y="32.3" font-size="41" letter-spacing="1.2">(a)</text>
<text x="695.2" y="32.3" font-size="41" letter-spacing="1.2">(b)</text>
<text x="-0.7" y="472.0" font-size="41" letter-spacing="1.2">(c)</text>
<text x="695.2" y="472.0" font-size="41" letter-spacing="1.2">(d)</text>
<text transform="translate(39.5,330.4) rotate(-90)" font-size="33.4">Entropy rate (Hz)</text>
<text transform="translate(39.5,772.0) rotate(-90)" font-size="33.4">Entropy rate (Hz)</text>
<g transform="rotate(-90 725.45 282.8)"><ellipse cx="725.45" cy="282.8" rx="10.55" ry="8.40" fill="none" stroke="#000" stroke-width="2.7"/><rect x="724.10" y="270.15" width="2.7" height="25.3" fill="#000"/></g><path d="M763 0L583 0L583 1147Q518 1085 413 1023Q308 961 223 930L223 1104Q374 1175 487 1276Q600 1377 647 1472L763 1472Z" transform="translate(743.50,271.20) rotate(-90) scale(0.01123,-0.01123)" fill="#000"/><text transform="translate(743.5,258.4) rotate(-90)" font-size="23">,2</text><text transform="translate(737.1,236.7) rotate(-90)" font-size="33">/2</text><text transform="translate(737.1,208.7) rotate(-90)" font-size="33" font-style="italic">π</text><text transform="translate(737.1,172.6) rotate(-90)" font-size="33">(Hz)</text>
<g transform="rotate(-90 725.45 728.1)"><ellipse cx="725.45" cy="728.1" rx="10.55" ry="8.40" fill="none" stroke="#000" stroke-width="2.7"/><rect x="724.10" y="715.45" width="2.7" height="25.3" fill="#000"/></g><path d="M763 0L583 0L583 1147Q518 1085 413 1023Q308 961 223 930L223 1104Q374 1175 487 1276Q600 1377 647 1472L763 1472Z" transform="translate(743.50,716.50) rotate(-90) scale(0.01123,-0.01123)" fill="#000"/><text transform="translate(743.5,703.7) rotate(-90)" font-size="23">,2</text><text transform="translate(737.1,682.0) rotate(-90)" font-size="33">/2</text><text transform="translate(737.1,654.0) rotate(-90)" font-size="33" font-style="italic">π</text><text transform="translate(737.1,617.9) rotate(-90)" font-size="33">(Hz)</text>
<line x1="517" y1="60.8" x2="533.8" y2="60.8" stroke="#B31610" stroke-width="4"/><text x="541.0" y="71.1" font-size="29">Π</text><line x1="517" y1="91.1" x2="533.8" y2="91.1" stroke="#1707DD" stroke-width="4"/><g><ellipse cx="552.3" cy="90.8" rx="8.95" ry="7.15" fill="none" stroke="#000" stroke-width="2.8"/><rect x="550.90" y="79.85" width="2.8" height="21.9" fill="#000"/></g><line x1="517" y1="121.7" x2="533.8" y2="121.7" stroke="#31BE24" stroke-width="4"/><text x="541.5" y="132.0" font-size="29">dS/dt</text>
<line x1="517" y1="506.4" x2="533.8" y2="506.4" stroke="#B31610" stroke-width="4"/><text x="541.0" y="516.6999999999999" font-size="29">Π</text><line x1="517" y1="537.8" x2="533.8" y2="537.8" stroke="#1707DD" stroke-width="4"/><g><ellipse cx="552.3" cy="537.5" rx="8.95" ry="7.15" fill="none" stroke="#000" stroke-width="2.8"/><rect x="550.90" y="526.55" width="2.8" height="21.9" fill="#000"/></g><line x1="517" y1="568.6" x2="533.8" y2="568.6" stroke="#31BE24" stroke-width="4"/><text x="541.5" y="578.9" font-size="29">dS/dt</text>
<line x1="1222" y1="142.0" x2="1241" y2="142.0" stroke="#9A8BC5" stroke-width="4"/><g><ellipse cx="1263.5" cy="141.4" rx="9.90" ry="7.70" fill="none" stroke="#000" stroke-width="2.9"/><rect x="1262.05" y="129.70" width="2.9" height="23.4" fill="#000"/></g><path d="M763 0L583 0L583 1147Q518 1085 413 1023Q308 961 223 930L223 1104Q374 1175 487 1276Q600 1377 647 1472L763 1472Z" transform="translate(1273.90,158.50) scale(0.01074,-0.01074)" fill="#000"/><line x1="1222" y1="173.7" x2="1241" y2="173.7" stroke="#E8A022" stroke-width="4"/><g><ellipse cx="1263.5" cy="173.1" rx="9.90" ry="7.70" fill="none" stroke="#000" stroke-width="2.9"/><rect x="1262.05" y="161.40" width="2.9" height="23.4" fill="#000"/></g><text x="1273.9" y="190.2" font-size="22">2</text>
<line x1="1222" y1="523.7" x2="1241" y2="523.7" stroke="#9A8BC5" stroke-width="4"/><g><ellipse cx="1263.5" cy="523.1" rx="9.90" ry="7.70" fill="none" stroke="#000" stroke-width="2.9"/><rect x="1262.05" y="511.40" width="2.9" height="23.4" fill="#000"/></g><path d="M763 0L583 0L583 1147Q518 1085 413 1023Q308 961 223 930L223 1104Q374 1175 487 1276Q600 1377 647 1472L763 1472Z" transform="translate(1273.90,540.20) scale(0.01074,-0.01074)" fill="#000"/><line x1="1222" y1="555.5" x2="1241" y2="555.5" stroke="#E8A022" stroke-width="4"/><g><ellipse cx="1263.5" cy="554.9" rx="9.90" ry="7.70" fill="none" stroke="#000" stroke-width="2.9"/><rect x="1262.05" y="543.20" width="2.9" height="23.4" fill="#000"/></g><text x="1273.9" y="572.0" font-size="22">2</text>
</svg></body></html>
